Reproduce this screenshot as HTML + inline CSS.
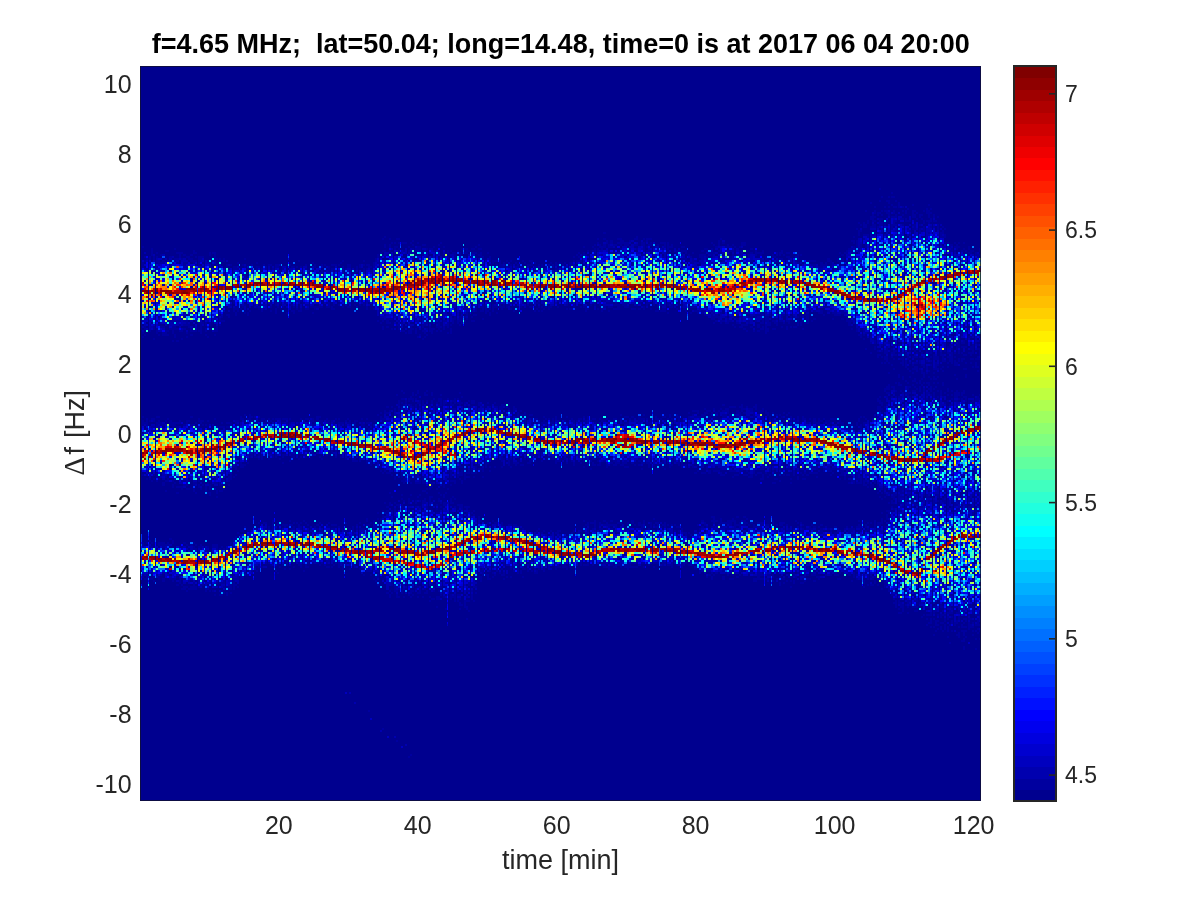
<!DOCTYPE html>
<html><head><meta charset="utf-8"><style>
html,body{margin:0;padding:0;background:#fff;}
svg{display:block;}
text{white-space:pre;}
.tk{font-family:"Liberation Sans",Arial,sans-serif;font-size:25px;fill:#262626;}
.cbl{font-family:"Liberation Sans",Arial,sans-serif;font-size:23px;fill:#262626;}
.lb{font-family:"Liberation Sans",Arial,sans-serif;font-size:27px;fill:#262626;}
.tt{font-family:"Liberation Sans",Arial,sans-serif;font-size:27px;font-weight:bold;fill:#000;}
</style></head><body>
<svg width="1200" height="900" viewBox="0 0 1200 900">
<rect x="0" y="0" width="1200" height="900" fill="#fff"/>
<rect x="140" y="66" width="841" height="735" fill="#00008f"/>
<defs><clipPath id="pc"><rect x="140" y="66" width="841" height="735"/></clipPath>
<filter id="bl" x="0" y="0" width="1" height="1"><feGaussianBlur stdDeviation="0.4"/></filter></defs>
<g clip-path="url(#pc)"><g shape-rendering="crispEdges" fill="none" filter="url(#bl)">
<rect x="140" y="66" width="841" height="735" fill="#00008f"/>
<path stroke="#00009f" stroke-width="2" d="M143 246v2m0 14v6m0 64v2m0 2v2m0 78v2m0 2v6m0 12v2m0 34v2m0 66v4m0 28v4m2-322v2m0 2v2m0 6v2m0 10v2m0 24v2m0 18v4m0 4v2m0 86v2m0 138v2m0 14v2m2-322v2m0 8v4m0 146v8m0 2v2m0 44v2m0 2v2m0 62v2m0 30v6m3-324v4m0 2v2m0 46v2m0 18v2m0 88v2m0 44v2m0 10v2m0 60v2m0 4v2m0 30v2m2-332v8m0 16v2m0 144v2m0 6v2m0 2v2m0 32v2m0 2v2m0 10v2m0 60v2m0 2v2m0 24v4m0 2v2m2-324v4m0 66v4m0 8v2m0 78v4m0 4v2m0 32v2m0 12v2m0 2v2m0 96v2m0 2v2m3-330v2m0 2v2m0 2v4m0 2v2m0 24v2m0 14v2m0 4v2m0 4v2m0 6v6m0 82v2m0 4v4m0 46v6m0 2v2m0 68v2m0 14v2m0 6v2m2-316v4m0 54v2m0 4v2m0 8v2m0 80v2m0 2v4m0 2v2m0 6v4m0 40v2m0 62v4m0 30v4m2-326v2m0 6v2m0 62v2m0 94v4m0 36v2m0 78v4m0 28v2m5-326v2m0 78v6m0 84v2m0 54v2m0 2v2m0 8v2m0 52v2m0 10v2m2-308v2m0 8v2m0 58v2m0 8v2m0 2v2m0 82v2m0 58v4m0 60v4m0 2v2m0 6v2m5-280v2m0 36v2m0 2v2m0 4v8m0 6v2m0 80v6m0 36v2m0 14v2m0 2v4m0 52v4m0 34v4m2-334v2m0 8v4m0 58v2m0 4v4m0 4v4m0 84v4m0 4v2m0 50v2m0 94v2m5-328v6m0 38v2m0 22v2m0 2v2m0 4v2m0 88v4m0 62v2m0 58v2m0 4v2m0 24v6m2-332v2m0 4v2m0 20v2m0 48v2m0 6v2m0 92v2m0 42v2m0 2v2m0 4v4m0 56v2m0 36v2m0 2v2m5-334v2m0 4v2m0 56v6m0 6v2m0 2v2m0 82v4m0 4v2m0 42v2m0 10v2m0 2v2m0 54v2m0 40v2m0 2v2m2-336v4m0 64v4m0 92v2m0 6v2m0 44v2m0 4v2m0 6v2m0 64v2m0 24v2m0 6v2m5-340v4m0 6v4m0 66v2m0 102v2m0 46v4m0 2v4m0 50v2m0 2v4m0 32v8m2-338v2m0 2v2m0 2v2m0 2v2m0 34v2m0 18v2m0 8v2m0 90v2m0 20v2m0 36v2m0 8v2m0 50v2m0 2v2m0 36v4m3-334v10m0 28v2m0 14v2m0 10v2m0 6v2m0 86v4m0 58v2m0 2v4m0 58v2m0 4v2m0 22v2m0 8v2m2-332v4m0 54v4m0 4v12m0 86v4m0 48v4m0 12v2m0 54v6m0 20v2m0 12v2m2-330v2m0 8v2m0 54v2m0 96v2m0 2v2m0 58v2m0 88v2m0 8v2m3-304v2m0 34v2m0 2v4m0 2v4m0 2v2m0 88v2m0 10v2m0 2v2m0 14v2m0 8v4m0 16v6m0 58v2m0 36v4m2-322v2m0 64v2m0 82v2m0 50v2m0 4v2m0 2v2m0 8v2m0 52v2m0 40v2m2-338v4m0 20v2m0 44v4m0 2v2m0 150v2m0 2v6m0 2v4m0 60v2m0 32v2m3-340v2m0 6v2m0 2v2m0 200v2m0 4v2m0 70v4m0 22v2m0 12v2m0 4v2m2-340v10m0 44v2m0 20v4m0 2v2m0 82v2m0 14v2m0 42v2m0 2v2m0 60v4m0 46v2m2-338v2m0 4v2m0 54v2m0 4v6m0 102v2m0 46v2m0 6v4m0 2v2m0 46v6m0 32v2m3-326v4m0 42v2m0 12v4m0 2v2m0 100v2m0 10v2m0 14v2m0 26v4m0 4v2m0 56v2m0 28v2m0 2v2m0 10v2m2-336v2m0 46v2m0 6v2m0 2v2m0 100v2m0 2v2m0 44v2m0 4v4m0 2v2m0 4v2m0 54v2m0 34v2m0 6v2m0 2v2m2-338v4m0 10v2m0 46v2m0 104v2m0 42v2m0 12v2m0 2v2m0 58v2m0 30v4m0 2v2m0 4v2m3-330v4m0 10v2m0 34v2m0 106v2m0 2v2m0 158v2m0 4v4m2-282v4m0 104v2m0 2v2m0 36v4m0 8v6m0 2v2m0 100v4m2-326v2m0 30v2m0 6v2m0 116v4m0 2v2m0 26v2m0 4v2m0 10v6m0 62v2m0 12v2m0 26v6m0 2v2m3-328v4m0 30v4m0 4v4m0 154v2m0 8v2m0 60v4m0 4v2m0 16v2m0 8v2m0 2v12m2-324v4m0 26v2m0 8v4m0 2v4m0 104v4m0 4v2m0 22v2m0 4v2m0 4v6m0 4v2m0 60v4m0 38v2m0 4v2m2-324v2m0 4v2m0 22v2m0 8v10m0 108v2m0 2v2m0 30v2m0 12v2m0 60v2m0 6v2m0 34v4m0 6v2m3-316v2m0 30v2m0 2v2m0 106v4m0 42v6m0 62v2m0 38v2m0 4v4m2-316v2m0 40v2m0 110v2m0 44v4m0 62v2m0 10v2m0 34v2m2-322v2m0 6v2m0 6v4m0 10v2m0 14v2m0 6v2m0 100v2m0 40v2m0 2v2m0 2v2m0 60v2m0 24v2m0 18v2m3-304v2m0 4v2m0 16v2m0 16v4m0 102v2m0 2v2m0 34v2m0 2v2m0 66v2m0 30v4m0 8v2m2-266v2m0 102v8m0 32v4m0 72v2m0 30v2m2-300v2m0 150v2m0 2v2m0 32v2m0 114v2m3-268v2m0 110v2m0 4v2m0 8v2m0 12v2m0 8v2m0 70v2m0 6v2m0 28v2m2-306v2m0 2v4m0 36v2m0 112v2m0 34v2m0 70v2m0 26v2m0 12v2m2-306v2m0 40v2m0 106v2m0 6v2m0 26v4m0 2v2m0 62v2m0 40v4m3-300v2m0 24v2m0 14v2m0 106v4m0 32v6m0 106v2m2-304v2m0 24v2m0 10v2m0 4v2m0 108v2m0 2v2m0 2v2m0 94v2m2-258v4m0 8v2m0 140v4m0 6v2m0 90v2m0 4v2m0 32v2m3-300v2m0 152v2m0 32v2m0 4v2m0 66v4m0 32v2m2-300v2m0 12v2m0 22v2m0 2v2m0 2v2m0 108v2m0 28v4m0 84v2m0 24v2m2-298v2m0 2v2m0 2v2m0 140v2m0 24v2m0 8v4m0 62v10m0 2v2m0 28v2m3-300v4m0 34v4m0 2v6m0 104v2m0 34v4m0 70v2m0 40v2m2-308v4m0 2v2m0 34v2m0 110v2m0 22v2m0 78v4m0 30v2m0 4v2m0 8v2m2-304v2m0 26v2m0 2v2m0 114v2m0 38v2m0 64v2m0 40v2m3-300v2m0 36v2m0 110v2m0 2v2m0 4v2m0 12v2m0 10v4m0 4v2m0 60v2m0 38v2m2-272v4m0 4v2m0 114v2m0 34v2m0 68v4m0 40v2m2-272v2m0 12v2m0 104v2m0 2v2m0 100v2m0 34v6m3-302v2m0 4v2m0 32v2m0 112v2m0 2v2m0 28v2m0 6v2m0 58v2m0 46v2m2-304v2m0 36v2m0 4v2m0 142v4m0 66v2m0 2v2m0 26v2m2-292v2m0 38v2m0 2v4m0 140v4m0 64v2m0 2v4m0 2v2m0 4v2m0 22v2m0 2v2m3-302v2m0 40v2m0 114v2m0 22v2m0 72v2m2-264v2m0 10v2m0 24v2m0 10v2m0 110v4m0 26v2m0 4v2m0 64v4m0 8v2m0 24v4m2-300v2m0 8v2m0 18v2m0 2v2m0 6v4m0 106v2m0 12v2m0 12v2m0 8v2m0 64v2m0 2v4m0 34v4m3-266v2m0 140v2m0 4v2m0 2v2m0 64v2m0 48v2m2-308v2m0 2v2m0 34v2m0 2v2m0 108v2m0 24v2m0 4v2m0 2v4m0 64v2m0 6v2m0 32v4m2-296v2m0 22v2m0 6v2m0 2v2m0 108v2m0 32v2m0 70v2m0 4v2m0 28v4m0 2v2m3-274v2m0 2v2m0 6v2m0 112v2m0 30v2m0 74v2m0 30v2m2-300v2m0 34v2m0 6v2m0 4v2m0 104v4m0 2v2m0 22v6m0 76v2m0 30v2m2-300v4m0 6v2m0 30v4m0 112v4m0 22v2m0 76v2m5-230v2m0 6v2m0 108v2m0 2v4m0 32v2m0 64v2m0 6v2m0 32v2m2-302v2m0 4v4m0 2v2m0 28v2m0 112v4m0 6v2m0 2v2m0 22v2m0 70v2m0 4v2m0 20v2m0 2v2m3-300v2m0 4v2m0 154v2m0 20v2m0 84v2m0 22v2m0 4v2m2-288v2m0 2v2m0 18v2m0 2v2m0 110v4m0 26v2m0 4v2m0 70v2m0 32v4m0 2v2m2-302v6m0 30v6m0 112v4m0 4v2m0 20v4m0 68v2m0 2v2m0 2v2m0 4v2m0 22v2m0 4v2m3-304v2m0 2v2m0 36v4m0 110v2m0 28v4m0 70v2m0 2v2m0 4v2m0 30v2m2-304v2m0 2v2m0 34v2m0 2v2m0 112v2m0 100v2m0 2v2m0 24v2m0 8v2m2-302v2m0 34v2m0 116v2m0 20v2m0 8v2m0 4v2m0 66v2m0 36v2m3-300v2m0 38v2m0 112v2m0 2v2m0 4v2m0 96v2m0 6v2m0 26v6m2-306v2m0 158v4m0 6v2m0 22v2m2-198v2m0 4v2m0 2v2m0 34v2m0 114v2m0 10v2m0 12v2m0 94v2m0 16v8m3-302v2m0 8v2m0 140v2m0 2v2m0 32v2m0 62v2m0 6v2m0 28v4m2-300v4m0 6v2m0 30v2m0 110v2m0 2v2m0 32v2m0 76v2m0 22v2m2-296v4m0 2v2m0 34v2m0 112v4m0 104v4m0 4v2m0 24v2m0 4v2m3-298v2m0 6v2m0 140v2m0 36v2m0 64v8m0 12v2m0 16v2m2-294v2m0 30v2m0 114v6m0 4v2m0 26v4m0 102v2m2-300v4m0 32v2m0 116v2m0 14v2m0 16v2m0 4v2m0 62v2m0 2v2m0 8v2m3-276v4m0 36v2m0 150v2m0 2v2m0 60v2m0 4v2m0 38v2m2-274v2m0 2v2m0 116v2m0 2v4m0 102v2m0 38v2m2-310v2m0 2v2m0 2v4m0 30v4m0 118v4m0 100v2m0 2v2m0 30v2m0 2v2m0 4v2m3-312v2m0 2v2m0 12v2m0 22v4m0 108v2m0 2v2m0 2v2m0 2v2m0 28v4m0 54v4m0 2v2m0 2v6m0 36v2m2-308v4m0 154v2m0 4v2m0 28v4m0 62v2m0 20v2m0 14v2m0 6v2m0 138v2m2-446v2m0 2v2m0 152v2m0 2v2m0 22v2m0 8v4m0 56v2m0 16v2m0 28v2m0 2v2m3-314v6m0 40v2m0 116v2m0 92v4m0 22v2m0 20v2m0 8v2m2-322v4m0 6v2m0 150v2m0 40v4m0 62v2m0 46v2m0 2v2m2-328v4m0 4v2m0 2v2m0 30v2m0 20v2m0 92v2m0 44v2m0 50v2m0 4v2m0 52v2m0 2v2m0 6v2m3-334v2m0 56v2m0 6v2m0 2v2m0 88v2m0 2v4m0 32v2m0 2v2m0 4v2m0 2v2m0 2v2m0 46v2m0 2v2m0 52v2m2-340v2m0 10v2m0 2v2m0 14v2m0 40v2m0 4v4m0 4v4m0 88v6m0 48v2m0 36v2m0 2v4m0 52v2m0 2v2m0 2v2m0 148v2m2-494v2m0 6v4m0 2v2m0 4v2m0 10v2m0 2v2m0 8v2m0 30v2m0 94v4m0 4v2m0 16v2m0 22v2m0 2v2m0 2v4m0 30v2m0 16v2m0 54v2m5-340v2m0 4v4m0 2v2m0 66v2m0 2v2m0 86v2m0 8v2m0 44v2m0 4v2m0 18v2m0 8v4m0 48v2m0 34v2m0 2v4m2-356v2m0 74v2m0 8v2m0 76v2m0 8v2m0 4v2m0 6v2m0 42v2m0 20v2m0 12v2m0 2v2m0 10v2m0 4v2m0 12v2m0 34v4m0 6v2m3-352v2m0 2v4m0 2v2m0 60v2m0 92v4m0 64v4m0 22v2m0 4v4m0 4v2m0 2v2m0 10v2m0 40v2m0 10v6m2-354v2m0 6v2m0 32v2m0 20v2m0 12v2m0 6v2m0 68v2m0 18v4m0 10v2m0 10v2m0 30v2m0 30v2m0 40v2m0 32v2m0 4v2m0 2v2m0 2v4m0 142v2m2-504v2m0 2v2m0 4v2m0 70v2m0 2v6m0 70v6m0 2v4m0 92v4m0 16v2m0 44v2m0 12v2m0 2v2m0 6v2m3-356v2m0 12v2m0 56v2m0 2v6m0 6v2m0 58v2m0 6v2m0 2v2m0 2v2m0 10v2m0 6v4m0 26v2m0 14v6m0 2v2m0 12v2m0 2v2m0 4v6m0 4v2m0 2v2m0 54v2m0 6v4m0 2v6m2-352v2m0 6v2m0 78v2m0 60v2m0 4v2m0 4v2m0 2v2m0 30v2m0 36v6m0 16v2m0 4v4m0 2v2m0 82v2m2-356v2m0 88v2m0 66v4m0 6v2m0 62v2m0 2v2m0 34v2m0 32v2m0 38v2m3-344v2m0 2v2m0 50v2m0 10v2m0 4v2m0 8v4m0 64v4m0 74v2m0 20v6m0 4v2m0 84v2m0 160v2m2-516v2m0 8v2m0 72v8m0 62v4m0 4v2m0 8v2m0 6v2m0 58v2m0 10v2m0 44v2m0 6v2m0 40v4m0 2v2m0 156v2m2-516v2m0 2v2m0 2v2m0 58v2m0 18v2m0 62v4m0 2v4m0 4v4m0 18v2m0 94v2m0 48v2m0 6v2m0 6v2m0 2v2m3-348v4m0 44v2m0 20v2m0 8v6m0 60v2m0 2v2m0 4v4m0 10v2m0 6v4m0 44v4m0 4v2m0 16v4m0 2v2m0 18v2m0 50v2m0 8v2m2-348v2m0 2v4m0 8v2m0 52v2m0 12v2m0 8v2m0 52v4m0 8v2m0 78v2m0 12v2m0 10v2m0 6v2m0 64v2m0 2v2m0 4v2m0 2v2m2-352v6m0 2v2m0 32v2m0 18v2m0 24v2m0 64v4m0 2v2m0 2v2m0 6v2m0 2v2m0 44v2m0 10v4m0 10v2m0 4v2m0 4v2m0 32v2m0 40v2m0 4v6m3-350v2m0 6v4m0 42v2m0 24v4m0 2v2m0 6v2m0 60v6m0 6v2m0 22v2m0 32v2m0 4v8m0 6v2m0 8v4m0 6v2m0 10v2m0 8v2m0 62v2m2-354v2m0 4v2m0 16v2m0 52v4m0 4v4m0 2v2m0 54v4m0 64v2m0 12v2m0 4v4m0 6v2m0 6v6m0 16v2m0 62v2m0 2v2m0 2v2m2-346v2m0 6v2m0 64v2m0 4v2m0 4v2m0 54v2m0 2v2m0 4v2m0 6v2m0 2v4m0 2v2m0 4v2m0 52v2m0 8v2m0 2v2m0 12v4m0 72v2m0 6v4m3-346v2m0 22v4m0 46v2m0 2v6m0 72v2m0 8v2m0 58v2m0 2v6m0 2v4m0 6v8m0 30v2m0 26v2m0 32v2m0 2v2m2-354v2m0 6v2m0 62v2m0 6v6m0 58v4m0 4v4m0 6v2m0 70v6m0 8v2m0 72v2m0 12v2m0 2v2m0 8v2m2-354v2m0 2v2m0 44v2m0 6v2m0 22v2m0 68v2m0 6v2m0 12v2m0 162v4m0 2v2m0 6v2m3-296v2m0 12v2m0 2v2m0 2v2m0 2v2m0 70v2m0 2v2m0 6v2m0 56v2m0 14v2m0 14v2m0 2v2m0 2v2m0 2v2m0 62v2m0 14v4m0 6v2m2-364v2m0 60v2m0 4v4m0 4v10m0 68v4m0 2v2m0 58v2m0 26v2m0 4v4m0 10v2m0 54v2m0 20v2m0 4v4m2-358v2m0 42v2m0 38v2m0 2v2m0 62v2m0 2v8m0 2v2m0 68v4m0 12v2m0 6v2m0 2v2m0 10v2m0 34v2m0 30v2m0 6v2m3-350v2m0 6v2m0 64v2m0 4v4m0 70v6m0 8v2m0 8v2m0 32v2m0 8v4m0 12v4m0 6v4m0 4v4m0 16v2m0 68v2m0 2v2m2-314v2m0 34v2m0 2v2m0 76v2m0 4v2m0 46v2m0 4v2m0 8v2m0 2v2m0 14v2m0 8v4m0 2v2m0 72v2m0 2v2m0 2v2m0 16v2m2-360v4m0 2v4m0 10v2m0 42v2m0 6v6m0 4v2m0 64v2m0 8v2m0 50v2m0 8v2m0 10v2m0 4v2m0 28v2m0 58v2m0 2v4m3-336v2m0 4v2m0 56v2m0 8v2m0 2v6m0 68v4m0 2v2m0 10v2m0 40v2m0 6v8m0 2v2m0 2v2m0 12v6m0 8v2m0 2v2m0 16v2m0 36v4m0 12v2m0 4v6m2-348v2m0 50v2m0 12v6m0 76v2m0 2v2m0 2v2m0 70v2m0 14v2m0 4v2m0 8v4m0 80v2m2-346v8m0 8v2m0 12v2m0 4v2m0 20v2m0 4v4m0 78v6m0 4v2m0 2v2m0 2v2m0 42v2m0 18v4m0 14v2m0 6v2m0 42v2m0 22v2m0 4v2m0 8v2m0 2v8m3-352v2m0 14v2m0 52v4m0 74v2m0 2v2m0 38v2m0 10v2m0 10v4m0 4v4m0 26v2m0 28v2m0 20v2m0 8v4m0 24v2m0 2v4m2-350v4m0 4v2m0 2v2m0 36v2m0 6v2m0 4v6m0 2v2m0 66v2m0 6v6m0 54v2m0 4v2m0 4v4m0 2v2m0 24v4m0 12v2m0 64v2m0 6v2m0 2v2m0 2v4m0 2v2m2-362v2m0 38v2m0 22v2m0 2v8m0 72v2m0 4v2m0 62v2m0 2v6m0 4v4m0 20v6m0 94v2m3-358v2m0 2v2m0 2v2m0 36v2m0 6v4m0 2v2m0 6v2m0 2v2m0 80v2m0 2v2m0 50v2m0 4v2m0 6v8m0 26v2m0 92v8m2-360v6m0 52v4m0 2v4m0 2v2m0 84v2m0 6v2m0 12v2m0 10v2m0 16v2m0 2v2m0 2v2m0 6v2m0 2v2m0 28v4m0 2v4m0 38v4m0 18v2m0 10v4m0 4v2m0 2v2m0 4v4m0 8v2m2-370v2m0 148v2m0 4v2m0 4v4m0 38v2m0 14v4m0 2v2m0 28v2m0 2v2m0 70v4m0 4v2m0 8v2m0 8v2m3-364v2m0 2v2m0 52v2m0 2v2m0 4v2m0 2v2m0 78v4m0 2v2m0 2v2m0 14v2m0 40v2m0 2v2m0 38v2m0 28v2m0 4v2m0 16v2m0 8v2m0 12v2m0 2v6m2-352v2m0 2v2m0 6v2m0 52v2m0 4v2m0 78v4m0 4v2m0 52v2m0 8v2m0 2v2m0 32v2m0 2v2m0 10v2m0 46v2m0 2v2m0 6v2m0 12v2m2-356v2m0 4v2m0 52v6m0 2v2m0 150v4m0 2v2m0 50v2m0 60v2m0 4v2m3-350v2m0 2v2m0 4v2m0 44v4m0 98v4m0 58v2m0 2v2m0 46v4m0 28v2m0 26v4m2-332v2m0 2v6m0 48v2m0 2v2m0 92v2m0 10v2m0 6v2m0 32v2m0 8v2m0 50v2m0 48v2m0 4v6m2-326v4m0 4v2m0 26v2m0 10v8m0 6v2m0 86v2m0 40v2m0 4v2m0 4v2m0 6v4m0 4v2m0 90v8m3-280v2m0 2v2m0 4v8m0 124v2m0 14v2m0 6v6m0 96v4m0 6v2m2-324v2m0 10v2m0 34v2m0 8v2m0 90v2m0 6v2m0 50v2m0 58v2m0 50v6m2-324v6m0 2v2m0 28v2m0 12v2m0 2v4m0 90v2m0 58v2m0 2v2m0 70v2m0 26v2m0 6v2m3-320v4m0 40v8m0 96v4m0 108v2m0 4v4m0 32v2m0 8v2m0 2v2m2-318v2m0 16v2m0 26v2m0 94v2m0 2v2m0 4v2m0 52v2m0 54v2m0 16v2m0 6v2m0 24v2m2-316v2m0 2v2m0 2v2m0 8v2m0 26v2m0 4v2m0 92v2m0 8v2m0 26v2m0 12v2m0 62v4m0 40v6m3-312v8m0 36v4m0 98v4m0 8v2m0 20v2m0 118v2m0 10v2m2-310v4m0 38v4m0 94v6m0 8v2m0 36v6m0 4v2m0 54v4m0 4v2m0 36v2m0 4v2m2-314v2m0 2v2m0 20v2m0 14v4m0 96v2m0 12v2m0 34v2m0 2v2m0 102v4m0 6v4m0 2v2m3-320v2m0 42v4m0 142v4m0 78v2m0 24v2m0 16v2m2-312v2m0 8v2m0 26v2m0 102v2m0 48v8m0 58v2m0 14v2m2-282v2m0 2v2m0 36v2m0 4v2m0 102v2m0 2v4m0 38v2m0 6v2m0 56v2m0 34v2m0 6v2m0 6v2m3-278v4m0 6v2m0 94v6m0 28v2m0 8v2m0 10v2m0 60v2m0 34v2m0 4v2m0 2v2m2-310v2m0 2v2m0 28v2m0 2v2m0 106v2m0 6v2m0 44v4m0 58v2m0 42v2m2-306v4m0 28v2m0 4v2m0 108v6m0 20v2m0 22v2m0 70v2m0 20v2m0 6v2m0 2v6m3-308v2m0 4v2m0 4v2m0 26v2m0 102v2m0 2v2m0 48v2m0 104v4m2-314v2m0 4v2m0 34v2m0 110v2m0 4v2m0 32v2m0 8v2m0 62v2m0 32v2m0 4v2m0 6v2m2-316v2m0 148v4m0 4v4m0 24v2m0 8v2m0 108v2m3-306v2m0 32v2m0 4v2m0 152v2m0 2v2m0 68v2m0 18v2m0 14v4m2-312v2m0 2v2m0 32v2m0 2v2m0 2v2m0 106v2m0 38v2m0 2v6m0 96v6m2-306v6m0 6v2m0 8v2m0 18v2m0 2v2m0 106v2m0 2v2m0 2v4m0 30v2m0 2v2m0 78v2m0 18v2m0 4v2m0 2v2m3-310v2m0 2v2m0 14v2m0 14v2m0 10v2m0 106v6m0 32v2m0 2v2m0 92v2m0 12v2m0 2v2m2-308v2m0 34v2m0 4v2m0 108v2m0 2v2m0 2v2m0 26v4m0 72v4m0 36v4m2-310v2m0 2v2m0 28v2m0 2v2m0 2v2m0 2v2m0 124v2m0 12v2m0 76v2m0 34v2m0 2v2m3-306v4m0 8v2m0 18v2m0 8v2m0 2v2m0 110v4m0 4v2m0 20v2m0 6v2m0 70v2m0 2v2m2-270v2m0 2v2m0 26v2m0 2v2m0 2v2m0 106v2m0 2v4m0 6v2m0 98v2m0 28v2m0 4v6m2-306v2m0 32v2m0 4v2m0 110v2m0 2v2m0 110v2m0 2v2m0 2v2m3-278v2m0 30v2m0 6v4m0 108v2m0 36v2m2-196v2m0 42v2m0 114v2m0 32v4m0 70v2m0 2v2m2-272v4m0 150v6m0 34v2m0 80v2m3-280v4m0 2v2m0 146v4m0 14v2m0 22v6m0 68v2m0 32v4m2-306v2m0 2v2m0 30v2m0 4v2m0 146v2m0 4v2m0 68v4m0 2v2m0 28v2m2-306v2m0 2v2m0 188v6m0 68v2m0 2v2m0 2v2m0 16v2m0 8v2m3-304v2m0 156v2m0 8v2m0 130v4m2-306v2m0 34v2m0 120v2m0 36v2m0 76v2m0 26v4m2-278v2m0 12v2m0 2v2m0 106v2m0 4v2m0 38v2m0 78v2m0 14v2m0 6v4m3-308v4m0 2v4m0 36v2m0 114v2m0 16v2m0 4v2m0 8v2m0 106v2m2-306v4m0 16v2m0 12v2m0 10v2m0 108v4m0 16v2m0 6v2m0 12v2m0 70v2m0 4v2m2-284v2m0 2v2m0 26v2m0 14v4m0 112v4m0 34v2m0 2v4m0 64v2m0 2v2m3-282v2m0 4v2m0 158v2m0 32v2m0 76v2m0 16v2m2-300v2m0 2v2m0 2v2m0 18v2m0 6v2m0 128v2m0 2v2m0 30v4m2-198v2m0 8v2m0 16v2m0 16v2m0 110v2m0 42v2m0 66v2m0 2v2m0 26v4m3-320v2m0 4v2m0 10v2m0 40v2m0 108v2m0 2v2m0 2v2m0 18v2m0 14v2m0 4v2m0 52v2m0 4v2m0 2v2m0 32v2m2-312v2m0 10v2m0 38v6m0 108v4m0 30v2m0 2v2m0 64v2m0 34v2m0 2v2m2-316v2m0 16v2m0 38v2m0 106v4m0 8v2m0 30v6m0 56v4m0 2v4m0 30v4m3-292v2m0 28v2m0 114v2m0 4v4m0 30v2m0 6v2m0 52v2m2-278v2m0 2v2m0 166v2m0 8v2m0 26v4m0 2v4m0 56v2m0 4v2m0 14v2m0 14v6m2-322v2m0 2v8m0 46v4m0 112v2m0 2v2m0 12v2m0 20v2m0 4v2m0 54v8m0 2v2m3-294v2m0 2v2m0 4v4m0 10v2m0 36v2m0 6v2m0 146v2m0 2v2m0 2v2m2-222v4m0 56v2m0 112v2m0 38v2m0 2v4m0 56v4m0 2v2m2-284v4m0 4v2m0 8v2m0 42v4m0 108v2m0 6v2m0 98v2m5-290v4m0 58v2m0 114v2m0 4v2m0 4v2m0 32v4m0 54v4m0 2v2m0 16v2m0 4v2m0 12v2m2-324v4m0 24v2m0 28v2m0 2v2m0 2v2m0 110v2m0 12v2m0 16v2m0 68v4m0 34v2m0 2v4m5-326v2m0 10v2m0 14v2m0 30v2m0 2v2m0 108v2m0 12v2m0 26v2m0 2v2m0 58v2m0 4v2m0 30v2m0 2v2m2-324v2m0 6v2m0 48v4m0 2v2m0 108v2m0 40v6m0 58v4m0 2v2m0 34v2m5-330v8m0 2v2m0 28v2m0 10v2m0 122v2m0 2v2m0 34v2m0 8v2m0 56v2m0 40v4m2-328v4m0 6v2m0 8v2m0 30v2m0 10v2m0 116v2m0 6v2m0 30v4m5-224v4m0 4v2m0 46v2m0 2v2m0 2v2m0 108v2m0 4v4m0 32v2m0 6v2m0 54v4m0 16v2m0 18v8m2-330v2m0 6v4m0 166v2m0 38v2m0 70v2m0 32v4m5-330v2m0 4v2m0 62v2m0 142v2m0 10v2m0 58v2m0 2v2m0 36v2m2-332v4m0 4v2m0 2v2m0 12v2m0 2v2m0 32v2m0 2v2m0 116v2m0 8v2m0 96v2m0 4v2m0 20v2m0 2v2m0 2v2m5-326v4m0 8v2m0 16v2m0 144v4m0 10v2m0 10v2m0 8v2m0 2v2m0 2v2m0 4v2m0 54v6m0 4v2m0 20v2m0 4v2m2-326v2m0 2v10m0 2v2m0 50v4m0 104v2m0 2v2m0 42v2m0 56v4m0 6v2m0 20v2m0 2v2m0 4v2m0 2v2m3-330v4m0 4v2m0 2v2m0 50v4m0 112v2m0 4v2m0 36v2m2-226v2m0 4v2m0 4v2m0 8v2m0 6v2m0 32v2m0 118v4m0 36v6m0 60v2m0 6v2m0 26v2m2-328v2m0 2v4m0 4v2m0 56v2m0 110v2m0 34v2m0 64v6m3-282v2m0 28v2m0 20v2m0 4v2m0 116v2m0 10v2m0 16v2m0 4v2m0 4v2m0 52v2m0 4v2m0 36v2m0 2v2m2-258v2m0 104v4m0 40v2m0 60v2m0 2v2m0 34v2m2-320v2m0 34v2m0 20v6m0 2v2m0 106v4m0 4v2m0 26v2m0 6v4m0 2v2m0 52v8m0 28v2m0 2v2m3-322v2m0 54v2m0 2v4m0 4v2m0 106v2m0 4v4m0 30v2m0 66v2m0 22v2m0 2v2m2-314v2m0 4v2m0 6v2m0 12v2m0 32v2m0 2v4m0 104v2m0 4v2m0 14v2m0 20v4m0 2v2m0 56v2m0 18v2m0 14v6m2-324v6m0 60v4m0 104v2m0 2v2m0 34v2m0 10v2m0 52v6m0 34v2m3-322v8m0 52v4m0 6v2m0 104v2m0 30v2m0 6v2m0 2v2m0 60v2m0 4v2m0 32v2m2-320v2m0 20v2m0 32v2m0 2v2m0 106v4m0 46v4m0 64v2m0 22v2m0 2v2m0 2v2m2-322v4m0 52v2m0 2v4m0 110v2m0 4v4m0 32v2m0 2v2m0 58v2m0 36v6m3-264v2m0 154v2m0 62v2m0 4v2m2-282v6m0 4v4m0 44v2m0 104v4m0 44v2m0 62v2m0 6v2m0 20v2m0 6v2m2-316v2m0 14v2m0 148v6m0 28v2m0 2v2m0 4v6m0 60v2m0 2v2m3-286v2m0 2v6m0 2v2m0 2v2m0 14v2m0 22v2m0 2v2m0 116v2m0 30v2m0 4v6m0 60v4m0 30v6m2-322v2m0 2v2m0 6v2m0 2v2m0 8v2m0 34v2m0 110v2m0 6v2m0 4v2m0 22v2m0 4v2m0 66v2m0 30v2m2-316v4m0 4v2m0 48v4m0 110v2m0 40v4m0 64v4m0 26v2m3-310v2m0 8v2m0 40v2m0 104v2m0 2v4m0 30v2m0 10v2m0 68v2m0 4v2m0 24v2m2-310v2m0 4v2m0 4v2m0 20v2m0 8v2m0 4v2m0 4v2m0 104v2m0 30v4m0 80v2m2-284v2m0 4v6m0 2v2m0 12v2m0 24v2m0 102v2m0 2v2m0 2v2m0 6v2m0 36v4m0 78v2m0 16v2m5-298v2m0 2v2m0 36v4m0 96v4m0 2v2m0 40v2m0 4v2m0 4v2m0 52v2m0 6v2m0 4v2m2-286v4m0 4v2m0 152v2m0 48v2m0 60v4m0 8v2m0 28v4m5-326v2m0 4v2m0 28v2m0 24v2m0 2v2m0 92v2m0 2v4m0 14v2m0 16v2m0 14v2m0 6v2m0 48v4m0 6v2m2-286v2m0 6v2m0 14v2m0 136v4m0 6v2m0 18v2m0 24v4m0 56v2m0 14v2m0 26v2m0 4v2m5-336v2m0 4v2m0 2v6m0 4v2m0 38v2m0 6v2m0 2v6m0 92v2m0 44v2m0 56v2m0 2v2m0 4v2m0 12v2m0 20v2m0 4v2m0 2v2m0 2v4m2-336v2m0 6v2m0 58v2m0 2v4m0 2v2m0 84v2m0 6v2m0 52v2m0 44v8m0 2v2m0 46v2m5-336v6m0 4v2m0 4v4m0 32v2m0 22v4m0 90v2m0 8v2m0 2v2m0 44v2m2-234v2m0 12v2m0 58v2m0 6v4m0 84v2m0 8v2m0 40v4m0 4v2m0 2v4m0 42v6m0 2v2m0 12v2m0 2v2m0 14v2m5-316v2m0 14v2m0 52v2m0 4v2m0 84v4m0 2v4m0 104v2m0 4v2m0 42v2m2-330v4m0 2v2m0 6v2m0 26v2m0 10v2m0 6v2m0 6v2m0 2v6m0 84v6m0 8v2m0 96v4m0 2v4m0 2v2m0 6v2m0 16v2m0 2v2m0 4v2m0 4v2m5-332v2m0 4v2m0 2v2m0 38v2m0 28v2m0 80v2m0 4v2m0 4v2m0 42v2m0 6v2m0 4v2m0 40v4m0 6v2m0 12v2m0 24v2m0 4v2m0 2v2m2-334v2m0 10v2m0 66v2m0 78v2m0 40v2m0 8v2m0 6v2m0 2v2m0 2v2m0 44v10m0 8v2m0 8v2m5-304v2m0 2v6m0 4v2m0 48v2m0 14v2m0 78v2m0 4v4m0 10v2m0 40v6m0 48v8m0 36v2m0 2v2m0 2v2m2-334v4m0 4v2m0 4v2m0 42v2m0 14v4m0 4v4m0 76v8m0 8v2m0 14v2m0 30v4m0 52v2m0 14v2m0 26v2m5-320v2m0 68v2m0 2v2m0 4v2m0 74v2m0 8v2m0 18v2m0 2v2m0 16v4m0 2v2m0 4v2m0 2v2m0 42v2m0 2v2m0 4v2m0 10v2m2-288v4m0 58v2m0 2v4m0 84v2m0 6v4m0 52v2m0 2v2m0 46v2m0 42v2m0 2v2m5-266v2m0 20v2m0 74v2m0 4v6m0 34v2m0 16v4m0 50v6m0 38v2m0 8v4m2-332v6m0 14v2m0 38v2m0 2v4m0 2v2m0 82v6m0 6v2m0 48v2m0 6v2m0 50v2m0 2v2m0 46v4m5-330v4m0 2v4m0 42v2m0 6v4m0 6v2m0 4v2m0 80v4m0 4v2m0 46v4m0 2v2m0 4v2m0 42v4m0 2v2m0 16v2m0 24v4m0 2v2m2-330v4m0 6v2m0 50v2m0 4v6m0 2v4m0 78v4m0 8v2m0 46v2m0 4v6m0 42v4m0 16v2m0 30v2m0 2v2m3-324v4m0 4v2m0 32v2m0 2v2m0 12v6m0 2v10m0 76v4m0 58v2m0 50v2m0 6v6m0 40v2m2-322v4m0 54v10m0 2v4m0 80v4m0 14v2m0 44v2m0 46v2m0 36v4m0 8v2m0 2v2m2-316v4m0 46v2m0 6v4m0 90v4m0 6v2m0 20v2m0 14v2m0 2v4m0 2v2m0 98v2m3-322v4m0 62v2m0 6v2m0 82v2m0 4v4m0 38v2m0 8v2m0 2v2m0 6v2m0 36v6m0 48v4m0 2v2m2-326v2m0 4v2m0 6v2m0 48v4m0 4v2m0 138v2m0 8v2m0 2v2m0 44v2m0 24v2m0 12v2m2-318v4m0 4v2m0 28v2m0 14v2m0 2v2m0 6v2m0 2v4m0 88v2m0 62v2m0 44v2m0 4v4m0 6v2m0 12v2m0 22v2m3-328v4m0 2v2m0 14v2m0 20v2m0 22v2m0 92v2m0 2v2m0 38v2m0 6v4m0 10v2m0 40v4m0 2v4m0 18v2m0 24v2m0 4v4m2-336v4m0 4v2m0 48v2m0 4v4m0 2v2m0 4v2m0 88v2m0 30v2m0 20v2m0 50v4m0 8v4m0 26v2m0 2v2m0 8v2m2-326v2m0 18v2m0 34v2m0 2v2m0 6v2m0 88v2m0 10v2m0 4v2m0 32v2m0 2v2m0 4v2m0 46v2m0 4v2m0 48v2m0 2v2m3-332v2m0 2v2m0 8v2m0 40v2m0 4v2m0 4v2m0 4v4m0 84v2m0 48v2m0 2v2m0 4v2m0 48v2m0 4v2m0 48v2m2-330v2m0 2v4m0 4v2m0 40v2m0 12v4m0 88v2m0 54v2m0 4v2m0 52v4m0 28v2m0 12v2m2-260v2m0 8v2m0 88v2m0 2v2m0 24v2m0 18v2m0 10v2m0 2v2m0 50v2m0 36v2m0 6v2m0 4v2m3-272v2m0 8v2m0 92v2m0 2v2m0 44v6m0 52v2m0 42v4m0 4v4m2-324v2m0 64v2m0 92v2m0 38v2m0 6v2m0 50v2m0 10v2m0 36v2m0 4v2m2-324v6m0 2v2m0 22v2m0 14v2m0 12v2m0 2v6m0 90v4m0 2v2m0 30v2m0 14v2m0 4v4m0 42v2m0 2v2m0 2v2m0 36v2m0 2v2m3-320v2m0 60v2m0 4v4m0 96v2m0 4v2m0 38v2m0 2v2m0 48v2m0 2v2m0 2v2m0 38v2m0 10v2m2-276v2m0 4v2m0 4v2m0 6v2m0 86v6m0 40v2m0 10v2m0 2v2m0 44v2m0 2v4m0 46v2m0 2v2m2-306v2m0 34v2m0 6v2m0 94v2m0 30v2m0 8v2m0 10v2m0 4v2m0 56v2m0 2v2m0 28v2m0 4v2m0 2v2m5-322v2m0 32v2m0 8v2m0 112v2m0 32v2m0 18v2m0 52v4m0 4v2m0 8v2m0 8v2m0 12v4m0 6v2m2-320v2m0 2v2m0 2v2m0 38v2m0 10v2m0 102v2m0 46v2m0 50v2m0 2v2m0 42v4m5-154v4m0 22v2m0 16v4m0 2v2m0 2v2m0 98v2m2-312v2m0 40v2m0 2v2m0 104v8m0 28v2m0 8v2m0 4v2m0 54v2m0 4v2m0 32v2m0 8v4m5-316v2m0 6v2m0 32v2m0 6v2m0 102v2m0 2v2m0 38v2m0 4v4m0 66v2m0 28v2m2-308v4m0 12v2m0 22v2m0 2v2m0 112v2m0 8v2m0 94v2m0 6v2m0 38v2m5-316v8m0 40v2m0 108v2m0 2v2m0 32v2m0 2v4m0 4v4m0 2v2m0 54v2m0 32v4m0 4v4m2-306v2m0 32v2m0 6v2m0 4v2m0 98v2m0 4v2m0 42v2m0 2v2m0 54v2m0 32v2m0 6v2m5-314v4m0 52v2m0 114v2m0 26v2m0 68v2m0 2v2m0 40v2m0 2v2m2-328v2m0 2v2m0 2v4m0 46v2m0 2v2m0 104v4m0 2v2m0 2v4m0 26v2m0 6v4m0 2v2m0 2v2m0 90v4m0 4v2m5-328v2m0 58v2m0 112v2m0 32v2m0 14v4m0 48v2m2-280v4m0 8v2m0 26v2m0 24v6m0 106v2m0 8v2m0 14v2m0 12v2m0 56v2m0 30v2m5-320v2m0 6v6m0 22v2m0 6v2m0 34v2m0 6v2m0 94v2m0 20v2m0 30v4m0 46v4m0 2v2m0 14v2m0 28v2m2-346v2m0 2v4m0 2v2m0 54v2m0 4v2m0 116v2m0 52v4m0 44v2m0 4v4m0 22v2m0 10v6m3-350v2m0 10v8m0 80v4m0 90v4m0 28v2m0 12v2m0 2v8m0 2v2m0 42v2m0 18v2m0 20v4m0 2v2m0 2v2m2-358v2m0 6v6m0 12v4m0 14v2m0 54v2m0 2v2m0 6v2m0 82v4m0 46v6m0 4v2m0 2v2m0 36v2m0 2v4m0 8v2m0 8v2m2-324v2m0 4v2m0 12v4m0 12v2m0 2v2m0 38v2m0 28v4m0 78v2m0 6v6m0 6v2m0 38v8m0 42v6m0 34v2m0 6v2m0 2v2m3-358v6m0 6v2m0 2v2m0 30v2m0 10v2m0 2v2m0 2v2m0 30v2m0 4v4m0 2v2m0 2v2m0 76v2m0 4v4m0 44v2m0 8v6m0 88v4m0 2v4m0 2v2m2-378v2m0 12v4m0 6v2m0 6v6m0 20v2m0 20v2m0 40v2m0 14v2m0 68v2m0 2v2m0 4v2m0 16v2m0 12v2m0 4v2m0 6v2m0 4v2m0 2v2m0 38v4m0 2v2m2-312v4m0 10v4m0 2v2m0 90v2m0 96v2m0 24v2m0 16v2m0 6v2m0 2v2m0 34v2m0 4v2m0 38v2m0 4v6m0 4v2m3-384v2m0 12v4m0 6v2m0 4v2m0 22v2m0 16v2m0 48v2m0 6v6m0 4v2m0 8v2m0 76v2m0 16v2m0 8v2m0 14v2m0 8v4m0 34v2m0 8v2m0 42v2m0 6v2m2-372v8m0 2v4m0 6v2m0 14v2m0 86v2m0 92v2m0 50v4m0 42v4m0 2v2m0 40v2m0 4v2m2-380v2m0 2v4m0 2v2m0 2v2m0 2v4m0 4v2m0 20v4m0 22v2m0 38v2m0 18v4m0 2v4m0 66v2m0 28v4m0 24v2m0 2v6m0 36v8m0 48v2m0 2v4m3-372v4m0 10v2m0 4v2m0 8v2m0 26v2m0 12v2m0 30v2m0 16v2m0 14v2m0 2v4m0 40v4m0 4v4m0 6v2m0 28v2m0 4v2m0 6v2m0 14v2m0 6v4m0 4v2m0 28v4m0 58v2m2-398v2m0 10v2m0 10v2m0 4v8m0 30v2m0 64v2m0 2v2m0 26v2m0 40v2m0 2v4m0 2v6m0 6v2m0 6v2m0 6v2m0 10v2m0 40v2m0 6v2m0 24v4m0 48v4m2-382v2m0 12v2m0 2v2m0 2v2m0 2v4m0 2v2m0 2v2m0 74v2m0 24v4m0 6v2m0 4v2m0 4v2m0 4v2m0 38v4m0 2v2m0 2v2m0 4v2m0 18v2m0 48v2m0 2v2m0 4v2m0 12v2m0 4v6m0 26v2m0 28v2m0 6v2m3-384v2m0 2v2m0 10v4m0 28v2m0 82v2m0 4v2m0 4v4m0 2v4m0 2v2m0 24v4m0 14v2m0 6v2m0 6v2m0 8v2m0 10v2m0 40v4m0 2v2m0 2v2m0 22v2m0 4v2m0 24v2m0 26v8m2-388v2m0 8v4m0 6v2m0 8v2m0 2v4m0 6v2m0 100v8m0 2v6m0 24v4m0 2v2m0 2v2m0 6v2m0 88v2m0 14v2m0 2v6m0 64v2m2-390v2m0 2v4m0 2v2m0 4v4m0 22v2m0 42v2m0 4v4m0 50v2m0 18v2m0 8v2m0 10v6m0 2v2m0 28v2m0 24v2m0 10v2m0 30v2m0 8v2m0 6v4m0 8v2m0 56v2m0 4v6m3-400v2m0 2v2m0 6v2m0 10v2m0 6v6m0 4v2m0 10v2m0 10v2m0 30v2m0 46v2m0 8v2m0 2v2m0 2v2m0 6v2m0 20v2m0 8v2m0 2v2m0 4v2m0 28v2m0 14v2m0 36v2m0 4v2m0 2v4m0 2v2m0 26v2m0 58v2m2-400v2m0 8v2m0 2v4m0 2v2m0 2v6m0 32v2m0 28v2m0 54v4m0 2v6m0 2v2m0 8v2m0 16v4m0 2v2m0 8v2m0 8v2m0 10v4m0 16v2m0 16v2m0 20v2m0 6v8m0 2v2m0 4v2m0 4v2m0 40v2m0 14v2m0 20v2m0 2v2m0 2v2m2-404v2m0 4v2m0 6v4m0 2v2m0 2v2m0 4v2m0 10v2m0 100v2m0 4v2m0 2v2m0 26v2m0 6v2m0 4v2m0 86v2m0 8v2m0 20v2m0 24v2m0 44v2m0 2v2m0 6v8m3-406v6m0 32v4m0 30v2m0 54v2m0 12v2m0 6v2m0 20v4m0 4v4m0 10v2m0 6v2m0 2v2m0 16v2m0 40v2m0 18v4m0 2v8m0 8v2m0 78v2m0 2v2m0 4v4m0 4v2m0 2v2m2-396v2m0 22v2m0 100v2m0 2v2m0 2v2m0 4v2m0 2v2m0 20v2m0 4v2m0 4v4m0 24v2m0 62v6m0 2v2m0 4v2m0 6v2m0 26v2m0 40v2m0 20v6m0 4v2m2-408v2m0 2v2m0 2v2m0 2v2m0 4v2m0 2v2m0 46v2m0 40v2m0 10v4m0 12v2m0 8v10m0 10v4m0 12v2m0 32v2m0 60v2m0 2v2m0 2v2m0 8v2m0 14v2m0 80v8m3-402v4m0 4v4m0 26v2m0 72v4m0 6v2m0 18v4m0 4v8m0 12v2m0 10v2m0 18v2m0 12v2m0 6v2m0 4v2m0 28v2m0 28v2m0 4v4m0 10v2m0 16v2m0 16v2m0 40v2m0 4v2m2-398v2m0 10v2m0 6v2m0 44v2m0 80v4m0 8v2m0 12v2m0 2v4m0 2v4m0 6v2m0 22v2m0 62v2m0 2v2m0 2v2m0 42v2m0 22v2m0 24v2m0 6v4m0 2v2m0 4v2m2-394v2m0 8v2m0 2v2m0 12v2m0 12v2m0 16v4m0 66v2m0 10v2m0 6v2m0 4v2m0 8v2m0 4v2m0 2v2m0 4v2m0 28v4m0 10v2m0 42v2m0 2v2m0 12v2m0 12v2m0 10v2m0 22v2m0 20v2m0 18v2m0 2v2m3-402v2m0 4v8m0 6v2m0 2v2m0 6v2m0 14v2m0 2v2m0 78v2m0 6v2m0 10v2m0 6v2m0 2v2m0 2v2m0 6v2m0 2v2m0 4v2m0 52v2m0 2v2m0 34v2m0 12v2m0 2v2m0 2v2m0 4v2m0 12v2m0 22v2m0 46v2m0 6v2m2-398v2m0 2v4m0 6v6m0 12v2m0 16v2m0 14v2m0 60v2m0 2v2m0 6v2m0 4v2m0 4v2m0 2v4m0 8v4m0 4v2m0 2v2m0 2v2m0 12v2m0 82v2m0 2v2m0 4v4m0 88v2m0 4v2m0 4v2m0 2v2m2-400v2m0 4v2m0 18v2m0 66v2m0 44v2m0 2v2m0 4v2m0 2v6m0 10v2m0 4v2m0 6v2m0 6v2m0 84v2m0 12v2m0 2v2m0 16v2m0 28v2m0 22v2m0 18v2m0 4v2m0 2v2m3-398v4m0 6v2m0 2v6m0 108v2m0 4v2m0 6v2m0 2v4m0 4v2m0 10v4m0 2v6m0 6v2m0 44v2m0 50v2m0 2v2m0 4v2m0 24v2m0 48v2m0 18v2m2-390v2m0 2v2m0 124v2m0 6v2m0 2v2m0 6v2m0 4v4m0 4v2m0 4v2m0 10v2m0 82v4m0 16v2m0 4v2m0 46v2m0 60v2m2-408v2m0 8v4m0 2v6m0 94v2m0 18v2m0 10v2m0 4v4m0 4v6m0 4v2m0 4v4m0 6v2m0 8v2m0 46v2m0 36v2m0 2v2m0 4v2m0 8v2m0 22v2m0 62v2m0 10v2m3-408v6m0 6v2m0 20v2m0 76v2m0 20v2m0 6v2m0 8v2m0 4v4m0 2v2m0 8v2m0 8v4m0 2v2m0 12v2m0 48v4m0 22v2m0 4v4m0 10v2m0 14v2m0 80v2m0 6v2m0 2v2m0 4v2m2-422v2m0 4v8m0 2v4m0 8v2m0 14v2m0 26v2m0 40v2m0 24v4m0 2v6m0 2v2m0 10v2m0 4v2m0 4v4m0 2v2m0 2v2m0 8v2m0 92v2m0 2v4m0 2v2m0 20v2m0 76v2m0 6v2m0 6v2m2-416v2m0 2v2m0 4v4m0 4v2m0 40v2m0 20v2m0 58v4m0 2v2m0 2v2m0 2v2m0 12v2m0 6v6m0 2v2m0 2v2m0 38v2m0 6v2m0 36v2m0 4v2m0 8v2m0 12v2m0 82v2m0 2v2m0 8v4m0 2v6m0 2v2m3-414v4m0 2v2m0 4v2m0 20v2m0 36v2m0 44v2m0 12v2m0 6v6m0 8v2m0 2v2m0 2v4m0 2v2m0 4v2m0 2v6m0 2v2m0 16v2m0 60v2m0 18v4m0 6v2m0 36v2m0 60v4m0 4v2m0 6v2m0 6v2m2-416v2m0 90v2m0 2v2m0 2v2m0 14v2m0 18v4m0 2v8m0 8v2m0 6v2m0 10v2m0 66v2m0 14v4m0 2v2m0 4v2m0 6v2m0 84v2m0 2v2m0 10v4m0 2v2m0 8v6m0 4v2m2-416v2m0 6v6m0 38v2m0 4v2m0 46v2m0 6v2m0 24v4m0 4v2m0 2v2m0 6v2m0 4v2m0 6v2m0 4v2m0 16v2m0 46v2m0 22v4m0 4v4m0 2v2m0 2v2m0 2v2m0 14v2m0 88v2m0 4v2m0 2v2m0 2v2m3-398v6m0 82v2m0 10v6m0 6v2m0 6v4m0 12v2m0 20v6m0 86v2m0 30v2m0 82v2m0 4v4m0 6v4m0 4v2m0 2v4m2-404v2m0 2v4m0 2v2m0 54v2m0 24v2m0 18v2m0 14v8m0 4v2m0 2v2m0 10v4m0 10v2m0 16v2m0 2v2m0 50v2m0 20v2m0 4v4m0 20v2m0 34v2m0 22v4m0 20v2m0 2v2m0 2v2m0 6v2m0 6v2m2-404v2m0 4v4m0 4v2m0 20v2m0 12v2m0 56v2m0 12v2m0 8v2m0 30v2m0 8v2m0 38v2m0 18v2m0 24v2m0 6v2m0 2v4m0 88v2m0 8v2m0 10v2m0 2v4m0 2v6m3-388v2m0 66v2m0 34v2m0 4v2m0 2v2m0 4v2m0 2v2m0 20v4m0 2v2m0 4v2m0 4v2m0 10v2m0 10v2m0 12v2m0 46v2m0 4v8m0 2v2m0 10v2m0 18v2m0 6v2m0 22v2m0 24v2m0 6v2m0 4v2m0 2v4m0 6v6m0 4v2m2-394v4m0 2v2m0 14v2m0 4v2m0 12v2m0 32v2m0 22v4m0 4v2m0 2v6m0 42v2m0 6v2m0 118v2m0 10v2m0 48v2m0 10v2m0 2v4m0 10v2m0 16v2m2-400v2m0 2v4m0 92v2m0 2v2m0 2v12m0 26v2m0 2v2m0 2v2m0 74v2m0 18v2m0 4v2m0 4v4m0 18v2m0 16v2m0 46v2m0 12v2m0 2v2m0 2v2m0 2v4m0 6v2m3-390v2m0 2v2m0 2v2m0 4v2m0 20v2m0 32v2m0 18v2m0 8v2m0 8v2m0 2v2m0 2v6m0 8v2m0 16v6m0 2v2m0 8v2m0 90v4m0 4v2m0 38v2m0 22v2m0 30v2m0 14v4m2-382v6m0 16v2m0 30v2m0 16v2m0 4v4m0 18v6m0 12v4m0 12v2m0 10v8m0 2v2m0 4v2m0 14v2m0 62v2m0 6v2m0 4v2m0 2v2m0 2v2m0 36v2m0 58v2m0 4v2m0 6v4m0 10v2m2-394v2m0 2v2m0 8v2m0 10v2m0 62v2m0 6v8m0 2v4m0 4v4m0 30v4m0 2v2m0 8v4m0 8v2m0 42v2m0 18v2m0 10v2m0 2v4m0 4v2m0 94v2m0 4v4m0 2v4m0 6v2m0 4v6m3-388v2m0 40v2m0 2v2m0 4v2m0 28v4m0 6v2m0 2v2m0 4v2m0 4v4m0 30v4m0 2v2m0 20v2m0 36v2m0 4v2m0 24v2m0 4v2m0 8v4m0 2v2m0 4v2m0 22v4m0 20v2m0 10v2m0 44v4m0 2v2m0 8v2m2-400v2m0 4v2m0 52v2m0 14v2m0 6v2m0 12v4m0 2v2m0 6v2m0 2v2m0 8v2m0 20v4m0 2v2m0 22v4m0 50v2m0 12v2m0 2v2m0 6v4m0 14v2m0 30v2m0 14v2m0 28v2m0 12v2m0 6v2m0 2v2m0 2v2m0 2v6m0 2v4m0 4v4m2-400v2m0 60v2m0 12v2m0 18v2m0 6v2m0 6v2m0 4v2m0 4v4m0 18v6m0 14v2m0 36v2m0 16v2m0 10v2m0 4v2m0 2v2m0 8v4m0 58v2m0 18v2m0 10v2m0 6v4m0 8v4m0 4v2m0 2v2m0 4v2m3-392v4m0 2v2m0 74v2m0 6v2m0 14v2m0 46v4m0 16v2m0 10v2m0 30v2m0 30v2m0 2v2m0 4v2m0 2v2m0 2v4m0 46v2m0 28v2m0 8v4m0 2v2m0 2v2m0 2v2m0 2v8m2-380v4m0 2v2m0 54v2m0 22v2m0 8v4m0 2v4m0 2v2m0 2v2m0 52v2m0 72v2m0 6v2m0 4v4m0 30v2m0 58v4m0 2v4m0 10v2m0 4v4m2-378v2m0 62v2m0 18v2m0 8v10m0 4v2m0 6v2m0 26v2m0 4v2m0 10v2m0 18v2m0 8v2m0 30v2m0 18v2m0 6v2m0 8v4m0 12v2m0 32v2m0 38v2m0 2v8m0 8v2m0 2v2m0 2v2m0 2v2m3-384v4m0 2v2m0 4v2m0 30v2m0 26v2m0 16v2m0 14v2m0 2v6m0 30v4m0 50v2m0 12v2m0 28v2m0 4v2m0 6v4m0 40v2m0 58v2m0 8v2m0 4v2m0 6v2m0 8v2m2-396v4m0 86v2m0 2v2m0 6v4m0 6v2m0 2v2m0 24v6m0 6v2m0 2v2m0 76v4m0 4v4m0 2v2m0 4v2m0 60v2m0 22v2m0 8v2m0 6v2m0 2v8m0 2v2m0 2v2m2-386v4m0 2v2m0 34v2m0 18v2m0 28v2m0 6v8m0 2v2m0 34v2m0 2v2m0 10v2m0 38v2m0 36v2m0 12v6m0 36v2m0 16v2m0 46v2m0 2v2m0 8v2m0 4v2m0 6v2"/>
<path stroke="#00009f" stroke-width="3" d="M163.5 260v4m0 10v2m0 8v2m0 32v2m0 6v2m0 4v4m0 88v2m0 56v4m0 56v6m0 24v2m0 4v4m7-326v2m0 6v4m0 16v2m0 34v2m0 6v2m0 90v6m0 4v2m0 42v2m0 62v2m0 38v2m7-328v2m0 4v2m0 2v2m0 8v2m0 24v2m0 20v2m0 6v2m0 10v2m0 80v2m0 2v4m0 14v2m0 22v2m0 16v2m0 4v2m0 90v2m7-332v2m0 6v4m0 46v2m0 2v2m0 2v2m0 2v2m0 2v2m0 94v2m0 4v2m0 48v2m0 2v2m0 56v2m0 24v2m0 8v2m0 6v4m7-336v2m0 2v4m0 4v2m0 12v2m0 4v2m0 40v4m0 2v2m0 80v2m0 6v2m0 46v2m0 70v2m0 40v4m126-318v2m0 32v2m0 108v4m0 104v2m0 2v2m0 32v2m70-310v2m0 62v6m0 2v2m0 78v2m0 4v2m0 6v2m0 8v2m0 40v2m0 32v2m0 2v4m0 36v2m0 40v2m217-362v2m0 4v2m0 4v4m0 52v2m0 4v2m0 112v2m0 38v2m0 58v2m0 2v2m0 36v2m0 2v2m7-328v4m0 2v2m0 4v2m0 46v4m0 2v2m0 154v2m0 56v2m0 2v2m0 2v2m0 34v2m7-328v2m0 2v2m0 26v2m0 6v2m0 24v6m0 148v2m0 2v2m0 58v2m0 32v2m0 4v4m7-324v4m0 56v6m0 108v2m0 4v2m0 4v4m0 28v4m0 2v2m0 60v2m0 34v4m7-310v2m0 2v4m0 42v2m0 106v2m0 2v2m0 2v2m0 36v2m0 56v4m0 38v2m0 2v2m7-312v2m0 32v2m0 10v2m0 4v2m0 106v6m0 6v2m0 30v2m0 2v2m0 56v4m0 32v2m56-300v2m0 44v2m0 2v2m0 98v2m0 4v2m0 4v2m0 34v2m0 2v2m0 8v2m0 58v2m0 22v2m0 2v2m0 6v2m7-320v2m0 2v6m0 50v4m0 100v4m0 8v2m0 44v2m0 46v2m0 4v2m7-276v2m0 20v2m0 134v2m0 4v2m0 44v2m0 6v4m0 96v2m0 2v2m7-330v2m0 66v4m0 2v2m0 90v2m0 34v2m0 20v2m0 48v2m0 38v2m0 10v2m7-332v2m0 16v2m0 58v2m0 82v2m0 4v2m0 2v4m0 40v2m0 14v2m0 46v2m0 46v2m0 4v4m7-334v2m0 2v2m0 4v4m0 60v2m0 84v2m0 6v4m0 2v2m0 8v2m0 38v2m0 48v6m0 2v2m0 2v4m0 42v2m7-332v2m0 4v2m0 40v2m0 6v2m0 8v2m0 2v2m0 2v2m0 86v4m0 2v2m0 56v2m0 40v2m0 6v2m0 6v2m0 42v2m7-336v4m0 12v2m0 50v2m0 12v2m0 2v2m0 78v2m0 2v2m0 44v4m0 12v2m0 40v2m0 2v6m0 16v2m0 18v2m7-316v2m0 2v2m0 6v2m0 4v4m0 16v2m0 28v2m0 8v2m0 80v4m0 8v2m0 22v2m0 18v2m0 8v4m0 44v2m0 48v2m7-322v2m0 10v2m0 48v2m0 8v4m0 2v2m0 132v2m0 2v2m0 2v2m0 48v2m0 2v2m0 34v2m0 8v8m49-310v2m0 14v2m0 2v2m0 14v2m0 2v2m0 2v10m0 98v2m0 34v2m0 4v2m0 8v2m0 52v2m0 2v4m0 14v2m0 10v2m0 2v4m0 4v2m0 2v2m7-320v2m0 2v4m0 26v2m0 14v2m0 6v2m0 98v6m0 42v2m0 4v2m0 52v2m0 36v2m0 8v2m0 4v2m7-320v6m0 2v2m0 38v4m0 106v2m0 26v2m0 16v2m0 56v2m0 2v6m0 22v2m7-300v4m0 8v2m0 2v2m0 30v2m0 2v2m0 108v4m0 32v2m0 12v2m0 56v2m0 40v2m7-304v2m0 40v6m0 102v2m0 48v2m0 56v2m0 4v4m0 14v2m0 20v4m7-322v2m0 2v4m0 2v2m0 10v2m0 32v4m0 4v2m0 102v4m0 26v2m0 12v2m0 2v6m0 58v2m7-288v2m0 26v2m0 36v2m0 4v6m0 98v2m0 2v4m0 6v2m0 28v2m0 4v2m0 6v2m0 44v6m0 6v2m0 30v4"/>
<path stroke="#0000af" stroke-width="2" d="M143 300v2m0 18v2m0 4v2m0 2v2m0 214v2m2-296v2m0 70v2m0 98v2m0 6v2m0 32v2m0 84v2m0 20v2m2-316v2m0 54v4m0 8v2m0 100v2m0 38v2m3-158v2m0 4v2m0 2v6m0 96v2m0 20v2m0 24v4m0 66v2m2-276v2m0 54v2m0 92v2m0 2v2m0 44v2m0 96v2m2-316v2m0 4v2m0 8v2m0 30v2m0 14v2m0 104v2m0 140v2m3-310v2m0 8v2m0 40v2m0 114v2m0 118v2m0 22v2m0 4v2m2-314v2m0 2v2m0 60v2m0 92v2m0 2v4m0 36v2m0 82v2m2-284v2m0 44v2m0 4v2m0 6v2m0 136v2m0 6v2m5-220v2m0 64v2m0 104v2m0 42v2m0 70v2m2-280v2m0 40v2m0 2v2m0 114v6m0 138v2m5-320v2m0 4v2m0 58v4m0 108v2m2-112v2m0 108v2m0 38v2m0 72v2m0 18v2m0 6v2m5-320v2m0 8v2m0 28v2m0 26v2m0 98v2m0 50v2m0 2v2m0 92v2m2-318v2m0 46v2m0 8v8m0 2v2m0 152v2m0 72v2m5-298v2m0 4v4m0 2v2m0 56v2m0 148v4m0 64v2m2-280v2m0 28v2m0 12v2m0 6v2m0 142v2m0 2v2m0 4v2m0 68v2m0 34v2m5-160v2m0 54v2m0 90v2m0 6v2m2-312v2m0 40v2m0 12v4m0 144v4m0 2v2m0 2v2m0 78v2m3-260v2m0 118v4m0 14v2m0 8v4m0 14v2m0 74v4m0 20v2m0 6v4m2-324v2m0 4v2m0 30v2m0 18v4m0 122v2m0 24v2m0 10v2m0 2v2m0 98v2m2-328v2m0 12v2m0 30v2m0 16v2m0 104v2m0 114v2m0 24v2m0 8v2m3-324v4m0 220v2m0 60v4m0 4v2m0 26v4m2-324v2m0 50v2m0 4v2m0 152v2m0 8v2m0 62v2m0 2v2m0 18v2m0 8v2m2-320v4m0 30v2m0 124v2m0 50v2m0 102v4m3-266v2m0 10v2m0 92v2m0 56v2m0 68v2m2-292v2m0 14v2m0 36v4m0 150v2m0 4v2m0 6v2m0 2v2m0 96v2m0 2v2m2-268v2m0 100v2m0 4v2m0 50v2m0 84v2m0 8v2m0 4v2m3-322v2m0 2v2m0 22v2m0 10v2m0 4v2m0 2v2m0 112v2m0 134v2m0 2v2m0 18v2m2-292v2m0 12v2m0 268v4m2-314v2m0 30v2m0 2v2m0 116v4m0 4v2m0 42v2m0 102v2m3-326v2m0 216v4m0 64v4m2-286v2m0 16v2m0 22v2m0 2v2m0 134v2m0 10v2m0 12v2m0 106v2m0 2v2m2-280v2m0 164v2m0 96v2m3-302v4m0 20v4m0 8v2m0 112v2m0 12v2m0 132v2m0 6v2m2-116v2m0 84v2m0 26v2m0 2v2m2-316v2m0 12v2m0 140v2m0 8v2m0 10v2m0 128v2m0 4v4m3-290v2m0 126v4m0 30v4m0 74v2m0 38v2m2-288v2m0 8v2m0 4v2m0 114v2m0 14v2m0 124v2m0 12v2m2-314v2m0 4v2m0 6v2m0 26v4m0 128v2m0 4v2m0 98v2m0 28v2m3-268v2m0 144v2m2-150v2m0 120v2m0 14v2m0 6v2m2-20v2m0 4v2m0 2v2m0 6v2m0 2v2m0 94v2m0 8v2m0 8v2m3-268v2m0 144v2m0 86v2m0 22v2m0 2v2m2-152v2m0 2v2m0 2v2m0 2v2m0 18v2m0 82v2m0 28v2m2-270v2m0 8v2m0 148v2m0 72v2m0 4v2m0 16v2m3-256v2m0 2v2m0 2v2m0 140v2m0 84v2m0 12v2m2-280v2m0 30v2m0 132v2m0 10v2m0 74v4m0 6v2m0 28v2m2-264v6m0 138v2m0 74v4m0 18v2m0 12v2m0 4v2m3-302v4m0 152v4m0 28v2m2-152v2m0 132v2m0 14v2m2-190v2m0 154v2m0 2v2m0 102v2m0 4v2m0 26v2m3-298v2m0 178v2m0 76v2m0 30v2m0 4v2m2-264v4m0 116v2m0 30v2m2-192v2m0 34v2m0 118v2m0 30v2m0 74v2m0 18v2m3-284v2m0 14v2m0 20v2m0 222v2m0 4v2m0 16v2m0 4v2m2-294v2m0 36v2m0 116v2m0 2v2m0 106v2m2-248v2m0 12v2m0 2v2m0 112v2m0 2v2m0 24v2m0 2v2m3-188v2m0 22v2m0 6v2m0 4v4m0 114v2m0 14v2m0 12v2m0 68v2m0 4v2m0 32v2m2-298v2m0 18v2m0 132v2m0 14v2m0 12v2m2-32v2m0 24v2m0 104v2m3-286v2m0 28v2m0 4v2m0 114v2m0 30v4m0 82v2m0 4v2m0 2v2m0 10v2m2-264v4m0 224v2m0 10v2m0 6v2m2-246v4m0 134v2m3-178v2m0 6v2m0 14v2m0 128v4m0 28v2m0 74v2m0 28v2m2-294v2m0 162v2m0 14v2m2-178v2m0 34v2m0 114v2m0 24v2m0 78v2m3-260v2m0 8v2m0 136v2m0 2v4m0 2v2m0 96v2m0 2v2m2-266v2m0 26v2m0 8v2m0 148v2m2-162v4m0 130v2m0 24v2m0 72v2m0 26v2m0 4v2m5-292v2m0 16v2m0 12v2m0 142v2m0 76v2m2-262v2m0 260v2m0 2v2m3-250v2m0 6v2m0 8v2m0 116v2m0 110v2m2-268v2m0 2v4m0 148v2m0 100v2m0 4v2m0 20v2m2-282v2m0 258v2m0 28v2m3-294v2m0 150v2m0 2v4m0 120v2m0 4v8m2-292v4m0 26v2m0 116v2m0 2v2m0 4v2m0 14v4m0 2v2m0 106v2m2-296v2m0 2v2m0 180v4m0 82v2m0 10v2m0 6v2m3-290v2m0 28v2m0 122v4m0 24v2m0 84v2m0 10v2m2-254v2m0 2v2m0 242v2m0 14v4m2-298v2m0 2v2m0 150v2m0 30v2m0 72v2m3-260v2m0 30v2m0 116v2m0 24v2m0 2v2m0 2v2m0 82v2m0 22v2m2-298v2m0 24v2m0 6v2m0 234v2m2-272v2m0 6v2m0 2v2m0 14v2m0 4v2m0 120v2m0 118v2m0 12v2m0 4v2m0 126v2m3-426v2m0 180v2m0 6v2m0 74v2m0 26v2m2-268v2m0 128v2m0 4v2m0 98v2m0 32v2m0 134v2m2-434v2m0 24v2m0 8v2m0 148v2m0 68v2m0 2v2m3-110v2m0 34v2m0 66v2m0 2v4m0 14v2m2-286v4m0 30v2m0 2v2m0 138v2m0 14v2m0 70v2m0 40v2m2-302v2m0 148v2m0 106v2m3-232v4m0 260v2m2-298v2m0 14v2m0 18v2m0 124v2m0 2v2m0 132v2m2-298v2m0 148v2m0 2v2m0 6v2m0 24v2m0 96v2m3-286v2m0 148v2m0 98v6m0 34v2m2-304v4m0 6v2m0 28v4m0 218v4m0 42v2m2-312v2m0 44v2m0 2v6m0 108v2m0 12v2m0 22v2m0 100v2m0 4v2m0 2v2m0 2v2m3-274v2m0 8v2m0 226v2m0 18v2m0 164v2m2-416v2m2-66v4m0 42v2m0 16v4m0 94v4m0 40v2m0 52v2m0 2v2m0 10v2m5-274v2m0 154v2m0 4v2m0 50v2m0 36v2m0 6v4m0 62v4m2-338v2m0 2v2m0 58v2m0 96v2m0 54v2m0 2v2m0 32v2m0 6v2m0 66v2m3-318v2m0 50v2m0 4v2m0 4v2m0 82v4m0 4v2m0 84v2m0 4v2m0 50v2m0 170v2m2-488v2m0 60v2m0 6v2m0 82v2m0 60v2m0 120v2m0 2v2m2-330v2m0 24v2m0 2v2m0 26v2m0 82v2m0 6v4m0 8v2m0 6v2m0 40v2m0 22v2m0 44v2m0 18v2m0 10v2m3-330v4m0 8v2m0 60v4m0 80v2m0 36v2m0 2v2m0 58v4m0 2v2m2-258v2m0 4v2m0 54v2m0 86v4m0 56v4m0 28v2m0 26v2m0 52v2m0 2v2m2-342v6m0 4v2m0 2v2m0 12v2m0 14v2m0 16v2m0 6v2m0 4v2m0 2v2m0 68v2m0 4v2m0 10v2m0 6v2m0 34v2m0 8v2m0 8v2m0 30v2m0 26v2m0 16v2m0 26v2m0 4v2m0 150v2m3-494v4m0 12v2m0 12v2m0 28v2m0 10v2m0 78v2m0 66v2m0 4v4m0 24v2m0 4v2m0 64v2m0 4v2m0 6v2m2-346v4m0 72v2m0 80v2m0 2v2m0 94v2m0 58v2m2-310v2m0 56v2m0 6v2m0 94v2m0 78v2m0 12v2m0 6v2m0 18v2m0 12v2m0 28v2m3-342v2m0 20v2m0 50v2m0 78v2m0 78v2m0 28v2m0 2v2m0 12v2m0 54v2m0 4v2m2-342v2m0 64v2m0 2v4m0 76v2m0 26v2m0 22v2m0 18v6m0 2v2m0 18v2m0 4v2m0 38v2m2-232v4m0 8v2m0 6v2m0 58v2m0 6v2m0 2v2m0 4v2m0 16v2m0 42v2m0 30v2m0 62v2m0 12v2m3-340v2m0 24v2m0 42v4m0 88v2m0 18v2m0 14v2m0 56v4m0 10v2m0 10v2m0 52v2m0 2v2m2-342v2m0 58v4m0 16v2m0 74v6m0 28v2m0 36v2m0 28v2m0 2v2m0 2v2m0 24v2m0 34v2m0 2v2m2-330v4m0 68v2m0 4v2m0 70v2m0 30v2m0 48v2m0 16v4m0 14v2m0 62v4m3-336v2m0 4v2m0 64v2m0 80v2m0 96v2m0 6v2m0 22v2m0 32v2m0 12v2m2-336v2m0 38v2m0 22v2m0 96v4m0 44v2m0 2v2m0 36v2m0 6v4m0 62v2m0 4v2m0 6v2m2-328v2m0 48v2m0 2v2m0 88v2m0 72v2m0 16v2m0 4v2m0 28v2m0 10v2m3-296v2m0 52v2m0 14v2m0 100v2m0 50v2m0 2v2m0 102v2m2-328v2m0 36v2m0 18v2m0 94v2m0 6v2m0 50v2m0 10v2m0 30v2m0 8v2m2-274v2m0 36v2m0 6v2m0 16v2m0 146v2m0 14v2m0 14v2m0 8v2m0 2v4m0 8v2m0 28v2m0 16v2m0 16v2m0 4v2m3-348v2m0 12v2m0 2v2m0 42v2m0 2v2m0 2v4m0 94v2m0 86v4m0 14v2m0 44v2m0 6v2m0 8v2m0 2v2m2-286v6m0 84v2m0 56v4m0 16v4m0 28v2m0 2v4m0 2v2m0 10v2m0 62v2m2-294v2m0 170v2m0 24v4m0 6v2m0 22v2m0 50v2m0 2v2m3-340v2m0 6v2m0 48v2m0 2v6m0 78v2m0 48v2m0 14v2m0 38v2m0 2v2m0 6v2m0 30v2m0 16v4m0 18v2m2-338v2m0 8v2m0 6v2m0 32v2m0 118v2m0 132v2m0 2v2m0 10v2m0 4v2m0 10v2m2-292v4m0 112v2m0 22v2m0 28v2m0 32v2m0 6v2m0 2v4m0 62v2m0 4v2m3-282v4m0 2v2m0 150v2m0 38v2m0 68v2m0 8v2m0 4v2m2-150v2m0 14v2m0 42v2m0 4v2m0 16v2m0 62v2m2-340v2m0 46v2m0 6v2m0 90v2m0 2v2m0 132v2m0 40v4m3-326v2m0 46v2m0 90v2m0 8v4m0 2v2m0 46v2m0 40v2m0 52v2m0 18v2m0 4v4m2-284v2m0 4v2m0 84v2m0 6v2m0 98v2m0 4v2m0 6v4m0 52v2m0 4v2m0 6v2m2-342v2m0 22v2m0 30v2m0 92v2m0 28v2m0 4v2m0 18v2m0 6v2m0 78v2m0 24v2m0 20v2m3-344v4m0 10v4m0 2v2m0 26v2m0 142v4m0 66v2m0 28v2m0 34v2m0 4v2m0 2v2m2-284v2m0 146v4m0 4v2m0 54v2m0 4v2m0 50v6m2-180v6m0 38v2m0 66v4m0 10v2m0 42v2m0 4v2m0 4v2m3-332v2m0 148v4m0 108v4m0 2v2m2-230v2m0 102v2m0 2v6m0 6v2m0 20v2m0 124v2m0 4v2m2-108v2m0 60v2m3-270v2m0 8v2m0 20v2m0 10v2m0 102v2m0 36v2m0 10v4m0 94v2m2-300v2m0 8v2m0 136v4m0 48v2m0 106v2m0 2v2m2-270v6m0 106v2m0 30v2m0 118v2m3-164v2m0 8v4m0 26v2m0 4v2m0 2v2m0 68v2m0 20v2m0 16v2m2-290v2m0 22v2m0 2v2m0 108v2m0 26v2m0 80v2m0 36v2m0 8v2m2-270v2m0 102v4m0 34v2m3-178v2m0 28v4m0 120v2m0 16v2m0 12v4m0 110v2m2-160v2m0 112v2m0 4v2m2-270v2m0 140v2m0 34v2m0 2v2m0 12v6m0 60v4m0 20v2m0 18v2m3-306v2m0 4v2m0 4v2m0 126v2m0 30v2m0 22v2m0 100v2m0 4v4m2-312v2m0 42v4m0 254v2m2-300v4m0 186v2m0 94v2m0 8v2m0 2v2m3-304v2m0 6v2m0 2v2m0 138v2m0 38v2m0 2v2m0 64v2m0 2v2m0 26v2m2-292v2m0 20v2m0 130v2m0 26v2m0 8v2m0 64v2m0 36v2m2-262v2m0 2v2m0 146v2m0 68v2m0 32v2m3-258v2m0 118v2m0 20v2m0 4v2m0 6v2m0 64v2m0 2v2m2-236v2m0 258v2m0 8v2m2-300v2m0 22v2m0 10v4m0 138v2m0 116v2m3-300v2m0 6v2m0 144v2m0 26v2m0 114v2m2-148v2m0 32v2m2-34v2m0 32v2m0 80v2m0 20v2m3-258v2m0 150v2m0 76v4m0 34v2m2-302v2m0 170v2m2-178v2m0 32v2m0 2v2m0 114v4m0 30v2m0 110v2m3-278v2m0 8v4m0 134v2m0 14v2m0 102v2m0 8v2m2-268v2m0 134v2m0 8v2m0 84v2m0 6v2m0 6v2m0 4v4m2-292v2m0 16v2m0 136v2m0 18v2m0 112v2m0 4v2m3-302v2m0 6v2m0 4v2m0 20v2m0 132v2m0 130v4m2-266v2m0 148v2m0 112v2m2-300v2m0 6v2m0 24v2m0 128v4m0 18v2m0 74v8m3-238v2m0 116v2m0 6v2m0 108v2m2-120v4m0 32v2m0 76v2m0 28v2m2-266v2m0 122v2m0 4v2m3-8v2m0 26v2m0 6v2m0 94v2m2-292v2m0 36v2m0 118v2m0 12v2m0 16v2m2-192v2m0 20v2m0 8v6m0 120v2m0 28v2m0 2v4m0 74v2m0 6v2m3-244v2m2 120v4m2-164v2m0 160v2m0 28v2m0 2v2m3-200v2m0 36v2m0 124v2m0 136v2m2-282v2m0 12v2m0 2v2m0 148v2m0 6v2m0 68v4m0 4v4m0 16v2m2-306v2m0 280v2m0 22v2m3-308v2m0 4v2m0 42v2m0 112v2m0 38v2m2-196v2m0 28v2m0 8v2m0 126v2m0 22v2m0 74v2m2-274v2m0 158v4m0 12v2m0 14v2m0 72v2m0 4v2m3-272v2m0 34v2m0 152v2m0 2v2m2-160v2m0 2v2m0 122v2m0 20v2m0 80v2m0 6v2m0 10v2m2-246v4m0 218v2m0 28v2m3-316v2m0 28v2m0 176v2m0 76v2m2-282v2m0 2v2m0 40v4m0 2v2m0 118v2m0 6v2m0 94v2m0 8v2m2-288v2m0 208v2m0 62v2m0 38v2m5-318v4m0 20v2m0 24v4m0 2v2m0 122v2m0 28v2m0 2v2m0 62v2m0 34v2m2-306v2m0 28v2m0 10v2m0 2v2m0 120v2m0 18v2m0 16v2m0 72v2m5-294v2m0 178v2m0 20v2m0 76v2m0 10v2m0 18v2m2-136v2m0 20v2m0 10v2m0 74v2m0 22v2m0 4v2m5-314v2m0 8v2m0 36v2m0 118v4m0 32v2m0 68v2m0 18v2m0 12v4m2-318v2m0 6v2m0 12v2m0 32v2m0 146v2m0 6v4m0 62v4m0 4v2m0 20v4m0 2v2m5-278v2m0 18v2m0 154v2m0 78v2m2-300v2m0 2v2m0 12v2m0 4v2m0 30v2m0 120v2m0 30v2m0 78v2m0 28v2m5-316v2m0 50v6m0 112v4m0 28v2m0 6v4m0 92v2m0 6v2m2-322v2m0 8v2m0 166v2m0 36v2m0 78v2m5-300v2m0 6v2m0 56v2m0 140v2m0 6v2m0 6v2m0 70v2m2-272v2m0 4v2m0 6v2m0 242v4m3-286v2m0 56v2m0 4v2m0 114v2m0 22v2m0 6v2m0 4v2m0 100v2m2-316v2m0 198v2m0 4v2m0 4v2m0 60v2m2-102v2m0 16v2m0 10v2m0 8v2m0 82v2m0 14v2m3-262v2m0 156v4m0 62v2m0 6v2m2-290v2m0 12v2m2-16v4m0 8v2m0 198v2m0 86v2m0 12v2m3-314v2m0 28v2m0 12v2m0 168v2m0 58v2m0 6v2m0 4v2m0 2v4m0 20v2m2-320v2m0 4v2m0 8v2m0 18v2m0 14v2m0 6v2m2-56v6m0 16v2m0 28v4m0 144v2m0 6v4m0 100v2m3-306v2m0 164v4m0 6v2m0 90v2m2-280v2m0 52v2m0 114v2m0 4v2m0 4v2m0 4v2m0 90v2m0 2v2m2-276v2m0 266v6m0 6v2m0 4v2m0 10v2m3-312v4m0 54v2m0 112v4m0 4v2m0 4v2m0 20v4m0 2v2m0 78v2m0 18v2m2-300v2m0 158v2m0 4v2m2-184v2m0 6v4m0 38v2m0 122v4m0 20v2m0 108v2m0 4v4m3-306v2m0 4v2m0 158v2m0 32v2m0 70v2m0 2v2m0 8v2m2-294v4m0 8v2m0 6v2m0 28v4m0 254v2m2-298v2m0 28v2m0 4v2m0 2v2m0 132v2m0 14v2m3-202v2m0 208v2m2-210v4m0 154v2m0 4v2m0 36v2m0 2v2m0 72v2m0 24v2m2-256v2m0 104v2m0 4v2m0 22v2m5-186v2m0 284v2m0 10v2m2-302v2m0 14v2m0 28v6m0 106v2m0 2v2m0 110v2m0 2v2m0 10v2m5-296v4m0 2v2m0 286v2m0 8v2m0 10v2m2-322v2m0 6v2m0 8v2m0 6v2m0 28v2m0 4v2m0 130v2m0 22v2m0 52v2m0 4v2m0 28v2m0 6v2m0 4v2m5-326v2m0 60v2m0 100v2m0 46v2m0 2v2m2-214v4m0 6v2m0 10v2m0 30v2m0 4v2m0 94v2m0 10v2m0 104v2m0 30v2m5-316v2m0 16v2m0 46v2m0 120v2m0 22v4m0 2v4m0 4v2m0 50v2m0 12v2m0 28v4m2-326v2m0 2v2m0 14v2m0 30v2m0 14v6m0 92v4m0 18v2m0 28v4m0 60v2m0 34v4m0 2v4m5-324v2m0 6v2m0 58v4m0 98v2m0 42v2m0 2v2m0 2v2m0 52v2m0 4v2m0 34v2m2-318v2m0 164v2m0 104v2m0 46v2m5-326v2m0 2v2m0 2v4m0 54v4m0 2v2m0 94v2m0 48v2m0 58v2m2-210v2m0 94v2m0 30v2m0 116v2m0 6v2m5-302v2m0 42v2m0 4v2m0 140v2m0 78v2m2-300v2m0 4v4m0 56v2m0 6v2m0 100v2m0 26v2m0 10v2m0 56v2m0 50v2m5-266v2m0 2v2m0 2v2m0 4v2m0 84v8m0 26v2m0 130v2m2-272v2m0 4v4m0 96v6m0 14v4m0 28v2m0 94v2m5-306v2m0 42v2m0 14v2m0 12v2m0 244v2m2-2v2m5-300v2m0 40v2m0 96v2m0 108v2m0 2v2m0 2v2m0 24v2m2-304v2m0 6v2m0 32v2m0 12v2m0 100v4m0 2v2m0 2v2m0 36v4m3-156v4m0 6v2m0 202v4m0 34v2m0 8v2m2-310v2m0 40v2m0 4v2m0 106v2m0 42v2m0 58v2m0 38v2m0 4v2m0 2v2m0 2v2m2-294v2m0 22v2m0 4v2m0 140v2m0 4v2m0 64v2m0 42v2m3-318v2m0 28v2m0 12v2m0 160v4m0 98v2m2-294v2m0 38v2m0 102v2m0 108v4m0 16v2m0 18v2m2-314v2m0 36v2m0 6v2m0 2v2m0 10v2m0 146v4m0 76v2m0 12v2m0 16v2m3-292v2m0 148v2m0 14v2m0 12v2m0 2v2m0 84v2m0 6v2m2-252v2m0 134v2m0 4v2m0 2v2m0 62v4m0 24v2m0 16v2m2-316v2m0 34v2m0 22v2m0 94v2m0 2v2m0 44v2m0 58v2m0 40v2m0 6v2m3-318v2m0 54v4m0 98v2m0 106v4m0 44v2m2-286v2m0 16v2m0 112v2m0 8v2m0 28v2m0 2v2m0 100v2m0 6v2m2-320v4m0 16v2m0 30v2m0 106v2m0 4v2m0 44v2m0 54v4m3-234v2m0 16v2m0 220v2m0 14v2m0 22v2m2-322v2m0 4v2m0 52v2m0 104v2m0 106v2m0 6v2m0 12v2m0 20v2m2-282v2m0 14v2m0 108v2m0 36v2m0 8v2m0 84v2m0 22v2m3-318v2m0 32v2m0 138v2m0 86v2m0 2v2m0 2v2m0 42v4m2-316v2m0 14v2m0 6v2m0 26v2m0 118v2m0 20v2m0 8v2m0 62v2m0 32v2m0 8v2m2-316v2m0 6v2m0 10v2m0 144v2m0 40v2m0 100v4m5-312v2m0 14v2m0 18v2m0 4v4m0 112v2m0 114v2m2-270v4m0 28v2m0 156v2m0 4v4m0 98v2m5-306v4m0 42v2m0 140v2m0 6v2m0 102v2m0 4v2m2-304v2m0 32v4m0 4v2m0 122v2m0 12v2m0 10v2m0 72v2m0 2v2m0 8v2m0 22v2m5-308v2m0 30v2m0 164v2m0 62v2m0 4v2m0 22v2m2-294v2m0 154v2m0 44v2m0 68v2m0 2v4m0 6v4m5-286v2m0 2v2m0 6v2m0 10v2m0 8v2m0 4v2m0 114v2m0 36v2m0 62v2m0 2v4m0 10v2m0 22v2m2-310v4m0 42v2m0 156v2m0 104v2m5-308v2m0 34v2m0 8v2m0 108v2m0 30v2m0 12v2m0 60v2m0 32v2m2-290v2m0 26v2m0 6v2m0 126v2m0 20v2m0 2v2m0 62v2m0 24v2m0 4v4m5-252v2m0 112v2m0 32v2m0 8v4m0 54v2m0 38v2m2-318v4m0 2v2m0 8v2m0 40v2m0 156v2m0 56v2m0 24v2m0 12v4m5-326v2m0 8v2m0 4v2m0 26v2m0 16v2m0 14v2m0 102v2m0 38v2m0 4v2m0 6v2m0 42v2m0 4v2m2-286v2m0 16v2m0 50v6m0 206v4m0 30v2m3-258v2m0 14v4m0 138v2m0 12v2m0 46v2m0 18v2m2-312v10m0 4v2m0 4v2m0 16v2m0 50v4m0 94v2m0 2v2m0 4v2m0 36v4m0 50v2m0 46v4m2-352v2m0 12v2m0 4v2m0 16v2m0 24v2m0 28v2m0 216v2m0 4v2m0 28v2m3-246v2m0 98v2m0 38v2m0 60v2m0 36v2m2-288v2m0 38v4m0 96v2m0 8v2m0 38v4m2-214v2m0 42v2m0 24v2m0 82v4m0 26v2m0 6v2m0 20v2m0 44v2m0 10v2m0 10v2m3-324v2m0 4v6m0 10v2m0 86v4m0 82v2m0 2v2m0 2v2m0 36v2m0 4v2m0 4v2m0 64v2m0 2v2m0 4v2m0 14v2m0 2v2m0 2v2m2-372v2m0 8v2m0 4v2m0 18v2m0 24v2m0 20v2m0 28v2m0 12v2m0 76v4m0 154v2m2-350v2m0 4v2m0 54v2m0 122v2m0 48v2m0 6v2m0 54v4m3-314v2m0 2v2m0 4v2m0 20v2m0 26v2m0 60v4m0 2v2m0 84v2m0 4v4m0 28v2m0 10v2m0 4v2m0 38v2m0 48v2m2-354v2m0 4v2m0 106v2m0 2v4m0 2v2m0 62v2m0 16v2m0 48v2m0 2v2m0 2v2m0 36v4m0 46v2m2-350v2m0 6v2m0 48v2m0 2v2m0 20v2m0 106v2m0 48v2m0 12v2m0 42v4m3-300v2m0 26v2m0 16v2m0 6v4m0 14v2m0 18v2m0 14v2m0 4v2m0 46v2m0 92v2m0 46v2m2-314v2m0 4v2m0 104v2m0 2v2m0 10v2m0 42v4m0 24v2m0 64v2m0 28v2m0 2v2m0 10v2m0 2v2m0 26v2m0 10v2m2-374v2m0 4v2m0 12v2m0 86v2m0 6v2m0 18v2m0 2v2m0 42v2m0 4v4m0 8v2m0 32v2m0 16v2m0 8v2m0 18v2m0 22v2m0 6v2m0 8v2m0 14v2m0 2v2m3-346v2m0 48v2m0 90v2m0 34v2m0 48v2m0 18v2m0 2v2m0 12v2m0 14v2m0 12v2m0 2v2m0 4v2m0 8v2m0 36v2m0 24v2m2-376v2m0 10v2m0 28v2m0 10v2m0 116v2m0 2v2m0 4v2m0 150v2m2-326v2m0 4v2m0 2v2m0 12v2m0 6v4m0 10v2m0 152v2m0 62v2m0 4v6m0 4v2m0 12v2m0 2v2m0 68v2m3-386v2m0 2v4m0 10v2m0 78v2m0 28v2m0 16v2m0 38v4m0 8v2m0 16v2m0 34v2m0 20v2m0 4v2m0 14v2m0 2v2m0 2v2m0 2v2m0 56v2m0 24v2m2-400v2m0 8v2m0 6v2m0 10v2m0 18v2m0 4v2m0 2v2m0 14v2m0 70v2m0 138v2m0 2v4m0 4v2m0 4v2m0 8v2m0 74v2m2-370v4m0 4v2m0 34v2m0 58v4m0 14v2m0 40v4m0 8v2m0 6v2m0 12v2m0 10v2m0 28v2m0 14v2m0 2v2m0 6v2m0 2v4m0 6v2m0 4v2m0 82v2m3-398v2m0 32v2m0 144v4m0 4v2m0 48v2m0 42v4m0 4v4m0 2v4m0 94v2m2-372v2m0 2v2m0 16v2m0 24v2m0 44v2m0 10v2m0 6v2m0 8v2m0 8v2m0 30v2m0 36v2m0 56v2m0 10v2m0 30v2m0 66v2m2-390v4m0 4v2m0 12v2m0 6v2m0 92v2m0 4v2m0 4v2m0 2v2m0 2v2m0 130v2m0 6v2m0 10v2m0 74v2m0 12v2m3-378v2m0 40v2m0 60v2m0 16v2m0 8v2m0 2v2m0 28v2m0 2v2m0 74v2m0 16v2m0 38v2m0 4v2m2-308v6m0 92v2m0 10v2m0 4v2m0 6v2m0 36v2m0 6v2m0 8v2m0 8v2m0 58v2m0 110v2m2-366v2m0 130v2m0 54v2m0 18v2m0 38v2m0 16v6m0 12v2m0 14v2m0 8v2m0 2v2m0 48v2m0 4v2m3-254v2m0 2v2m0 54v2m0 10v2m0 12v2m0 58v2m0 14v2m0 34v2m0 14v2m0 22v4m0 10v2m0 4v2m2-382v2m0 2v2m0 40v2m0 66v4m0 6v2m0 10v4m0 4v2m0 24v2m0 6v2m0 10v2m0 72v2m0 8v2m0 8v2m0 76v2m0 14v2m2-348v2m0 6v2m0 8v2m0 16v2m0 66v4m0 22v2m0 4v6m0 8v2m0 52v2m0 12v2m0 14v4m0 6v4m0 2v2m0 36v2m3-318v12m0 10v2m0 8v2m0 84v2m0 4v2m0 10v2m0 4v2m0 14v2m0 2v2m0 4v2m0 50v2m0 4v2m0 42v4m0 4v2m0 4v2m0 26v2m0 34v2m0 10v2m0 20v2m2-386v6m0 2v2m0 4v2m0 118v2m0 2v2m0 28v2m0 74v2m0 6v2m0 8v2m0 2v4m0 2v2m0 16v2m0 2v2m0 8v2m0 36v2m0 28v2m2-376v2m0 2v2m0 40v2m0 10v2m0 44v2m0 16v4m0 70v2m0 64v2m0 20v2m0 30v2m0 4v2m0 48v2m0 10v4m3-394v2m0 4v2m0 8v2m0 48v2m0 42v2m0 30v8m0 34v2m0 8v2m0 22v2m0 4v2m0 6v2m0 36v2m0 2v2m0 4v2m0 12v2m0 62v2m0 24v2m0 2v2m0 6v2m2-284v2m0 12v2m0 6v2m0 46v2m0 2v2m0 24v2m0 46v2m0 10v2m0 6v2m0 12v2m0 84v2m0 6v2m2-380v2m0 2v2m0 8v2m0 64v2m0 28v2m0 2v2m0 14v4m0 6v2m0 34v2m0 82v4m0 12v2m0 6v4m0 4v2m0 62v2m0 20v4m0 4v2m3-394v2m0 2v2m0 14v2m0 20v2m0 4v2m0 76v2m0 10v2m0 32v2m0 2v8m0 82v2m0 8v4m0 12v2m0 60v2m0 16v2m0 14v2m2-380v2m0 10v2m0 94v2m0 60v2m0 28v2m0 52v2m0 12v2m0 4v2m0 14v2m0 60v2m2-342v2m0 80v4m0 10v8m0 4v2m0 2v2m0 36v4m0 4v2m0 44v2m0 30v2m0 14v2m0 10v2m0 2v2m0 14v2m0 16v2m0 38v2m0 18v2m0 2v2m0 2v2m3-372v4m0 64v2m0 12v2m0 6v2m0 10v4m0 154v2m0 2v2m0 6v2m0 80v2m0 6v2m0 4v2m0 6v2m2-376v2m0 2v2m0 10v2m0 24v2m0 4v2m0 36v4m0 10v2m0 4v2m0 58v2m0 70v4m0 10v6m0 2v2m0 2v2m0 70v2m0 18v2m0 2v2m0 6v2m2-372v2m0 14v2m0 72v2m0 66v2m0 24v2m0 16v2m0 40v2m0 6v2m0 12v2m0 96v2m3-360v2m0 36v2m0 46v2m0 58v2m0 8v2m0 58v2m0 20v4m0 12v2m0 56v2m0 2v2m0 46v6m0 8v2m2-378v2m0 86v2m0 54v2m0 2v4m0 72v2m0 16v2m0 4v2m0 6v4m0 54v2m0 4v2m0 26v2m2-310v2m0 22v2m0 16v4m0 24v2m0 36v2m0 20v2m0 78v4m0 80v2m0 16v4m0 10v2m3-362v2m0 68v2m0 4v2m0 2v2m0 58v4m0 84v2m0 4v2m0 14v2m0 70v2m0 4v2m0 20v2m0 8v2m2-358v2m0 82v4m0 50v2m0 2v2m0 34v2m0 42v2m0 16v2m0 6v2m0 56v2m0 32v2m0 6v4m2-278v2m0 68v2m0 46v2m0 8v2m0 24v2m0 16v2m0 6v2m0 22v2m3-228v2m0 6v2m0 12v2m0 8v2m0 48v2m0 70v2m0 8v2m0 6v4m0 6v2m0 8v2m0 22v2m0 58v2m0 4v2m0 16v2m0 2v2m2-322v4m0 2v2m0 90v2m0 2v2m0 60v2m0 4v2m0 22v4m0 88v4m2-336v2m0 4v2m0 30v2m0 26v2m0 14v2m0 60v2m0 72v2m0 12v2m0 4v2m0 10v4m0 30v2m0 78v2m0 4v2m3-312v2m0 20v6m0 2v2m0 2v2m0 2v2m0 42v2m0 12v2m0 60v2m0 26v2m0 6v2m0 4v2m0 46v2m0 30v2m0 4v2m0 20v2m2-372v2m0 22v2m0 36v2m0 14v2m0 8v2m0 64v2m0 8v2m0 6v2m0 32v2m0 26v2m2-188v2m0 12v2m0 20v2m0 6v2m0 10v2m0 66v2m0 4v2m0 2v2m0 8v2m0 46v6m0 10v2m0 8v2m0 20v2m0 10v2m0 34v2m0 12v2m0 12v6m0 6v2"/>
<path stroke="#0000af" stroke-width="3" d="M163.5 254v2m0 14v2m0 24v2m0 30v2m0 92v2m0 6v2m0 20v2m0 20v2m0 2v2m0 76v2m7-300v2m0 52v2m0 8v4m0 112v2m0 104v2m0 8v2m0 20v2m7-318v2m0 32v2m0 26v4m0 104v2m0 4v2m0 112v2m0 22v2m0 4v2m7-324v4m0 4v2m0 46v2m0 6v2m0 154v2m0 6v2m0 58v2m0 34v2m7-272v2m0 6v2m0 4v2m0 114v2m0 16v2m0 6v2m0 6v4m0 66v4m0 28v2m126-272v2m0 142v2m0 78v2m70-282v2m0 20v2m0 38v2m0 100v2m0 96v4m0 64v8m217-348v2m0 28v2m0 8v2m0 10v2m0 8v2m0 2v2m0 226v2m0 22v2m0 2v2m7-322v2m0 18v2m0 4v2m0 18v2m0 2v2m0 2v2m0 144v2m0 12v2m0 102v2m7-312v2m0 198v2m0 6v2m7-216v2m0 4v2m0 34v2m0 134v2m0 104v2m0 14v2m0 4v2m7-314v2m0 2v4m0 4v2m0 48v2m0 142v4m0 6v2m0 74v2m0 24v2m7-314v2m0 4v2m0 4v2m0 40v2m0 120v2m0 10v2m0 8v2m0 82v2m0 4v4m0 26v2m56-304v6m0 2v2m0 154v2m0 22v2m0 14v2m0 62v2m0 34v2m7-308v4m0 8v2m0 190v4m0 54v2m0 4v2m0 16v2m0 22v2m7-318v2m0 4v2m0 2v2m0 10v2m0 36v4m0 104v2m0 12v2m0 14v2m0 10v2m0 68v2m0 26v2m0 4v2m7-322v2m0 2v2m0 8v2m0 4v2m0 32v2m0 110v2m0 14v2m0 32v2m0 60v4m0 36v2m7-328v2m0 10v2m0 4v2m0 24v4m0 28v2m0 94v2m0 52v4m0 56v4m0 14v2m0 22v2m0 2v2m7-258v2m0 120v2m0 22v2m0 4v2m0 100v4m7-324v2m0 68v2m0 92v2m0 52v4m0 56v2m0 34v2m0 6v2m7-294v2m0 26v2m0 8v2m0 146v2m0 62v2m0 22v2m0 18v2m7-322v6m0 14v2m0 38v2m0 2v6m0 88v2m0 2v2m0 8v2m0 26v2m0 4v2m0 8v4m0 54v2m0 12v4m7-274v2m0 28v2m0 12v6m0 96v2m0 28v2m0 90v2m0 12v2m0 8v4m0 2v2m49-284v2m0 22v2m0 212v2m0 42v2m7-272v2m0 124v2m0 30v2m0 8v2m0 58v2m0 6v2m0 34v2m7-306v2m0 22v2m0 8v2m0 124v2m0 4v2m0 24v2m0 82v2m0 12v2m0 16v2m7-280v2m0 12v2m0 110v2m0 12v2m0 18v2m0 6v4m0 66v2m0 36v2m7-152v2m0 40v2m0 68v2m0 30v2m7-292v2m0 18v2m0 132v2m0 102v2m0 2v2m0 4v2m0 16v2m0 4v2m7-322v2m0 2v2m0 222v2m0 58v2m0 28v2"/>
<path stroke="#0000bf" stroke-width="1" d="M447.5 510v2m0 4v2m0 8v2m0 10v2m0 18v2m0 8v2m0 4v2m0 14v2m0 6v2m0 2v2m0 20v2"/>
<path stroke="#0000bf" stroke-width="2" d="M143 260v2m0 54v2m2-54v2m0 52v6m0 150v2m0 70v2m0 24v2m2-254v2m0 2v2m0 110v2m0 28v2m0 4v2m0 98v2m3-314v2m0 2v4m0 30v2m0 16v2m0 4v2m0 108v2m0 38v2m0 74v2m0 22v2m2-268v2m0 12v2m0 6v2m0 98v2m0 140v2m2-248v2m0 140v2m0 4v2m3-196v2m0 16v2m0 26v2m2-68v2m0 12v2m0 28v2m0 270v2m2-318v2m0 4v2m0 62v2m0 104v2m0 110v2m5-284v2m0 52v2m0 104v4m0 140v2m0 2v6m2-276v2m0 8v2m0 254v2m5-296v4m0 28v2m0 10v2m0 252v4m2-280v2m0 14v2m0 2v4m0 146v2m0 10v2m0 72v2m0 10v2m0 4v4m5-274v2m0 16v2m0 114v2m0 134v2m2-310v4m0 10v2m0 10v2m0 132v2m0 36v2m0 86v2m0 10v2m0 2v2m5-302v2m0 40v2m0 116v2m0 52v2m0 100v2m2-320v4m0 42v2m0 240v2m5-276v2m0 6v2m0 36v2m0 104v2m0 40v2m2-210v2m0 60v2m0 100v2m0 2v2m0 150v2m3-318v2m0 12v2m0 26v2m0 150v2m2-194v2m0 158v2m0 146v2m2-320v2m0 4v2m0 198v2m0 8v2m0 2v2m0 72v2m0 26v2m3-318v2m0 54v2m0 252v2m2-258v2m0 6v2m0 114v2m0 16v2m0 4v2m0 110v2m0 6v2m2-316v2m0 192v2m3-148v2m0 110v2m0 114v2m0 36v2m2-320v2m0 32v2m0 18v2m0 156v2m0 66v2m0 28v2m0 2v2m2-278v2m0 14v2m0 114v2m0 28v2m0 4v6m3-216v2m0 10v2m0 194v2m2-208v2m0 312v2m2-314v2m0 162v2m0 20v4m0 14v2m0 2v2m0 110v2m3-314v2m0 14v2m0 176v2m0 2v2m0 100v2m0 2v4m2-280v2m0 244v2m0 10v2m0 6v2m0 10v2m2-316v2m0 32v2m0 164v2m0 110v2m3-304v2m0 146v2m0 18v2m0 16v2m2-34v2m0 122v2m0 4v2m0 2v2m0 6v2m5-116v2m0 74v2m0 24v2m2-272v2m0 8v2m0 148v2m0 98v2m0 14v2m2-118v2m0 88v2m0 18v2m0 2v2m0 2v2m3-306v2m0 188v2m0 76v2m2-240v2m0 6v2m0 120v2m0 104v6m0 28v2m0 2v4m2-306v2m0 32v4m0 224v2m0 4v2m0 2v2m0 24v2m3-114v2m0 82v2m0 14v2m2-252v2m0 256v2m2-296v2m0 32v2m0 258v2m3-118v2m0 76v2m0 14v2m0 14v2m2-266v2m0 148v2m2-172v2m0 18v2m0 158v2m3-152v2m0 146v2m2-182v2m0 20v2m0 154v2m2-12v2m0 120v2m3-110v2m2-186v2m0 2v2m0 4v2m0 140v2m0 6v2m0 2v2m0 12v2m0 84v2m0 2v2m2-246v4m0 126v2m0 14v4m0 8v2m3-160v2m0 8v2m0 250v2m0 6v2m2-294v2m0 28v2m0 130v2m0 8v2m2-16v2m0 102v2m0 6v2m3-8v2m0 22v2m2-282v2m0 144v2m0 2v2m0 100v2m2-246v2m0 8v2m0 6v2m0 146v2m3-150v2m0 144v2m0 76v4m2-88v2m0 106v2m0 4v2m2-290v2m0 16v2m0 158v2m0 2v2m0 76v2m0 24v4m0 2v2m3-292v2m0 288v2m2-290v2m0 20v2m0 4v2m0 118v2m0 110v2m2-234v2m0 138v2m0 2v2m0 84v2m0 4v2m0 18v2m3-260v2m0 2v2m0 144v2m2-160v2m0 8v2m0 122v2m0 16v2m0 86v2m0 2v2m0 16v2m0 4v2m2-274v2m0 144v2m0 124v2m5-286v2m0 18v2m0 126v2m0 102v2m0 2v2m0 26v2m2-38v2m3-246v2m0 140v2m2 104v2m2-2v2m3-246v2m2-4v2m0 6v4m0 4v2m0 128v2m2-154v2m0 24v2m0 224v4m3-98v2m0 92v4m2-254v2m0 16v2m0 128v2m0 2v2m0 100v2m0 2v2m2-240v4m0 142v2m0 8v2m3-182v2m0 20v2m0 156v2m0 236v2m2-424v2m0 28v2m0 122v2m0 2v2m0 22v2m0 4v2m0 72v2m0 30v2m2-294v2m0 30v2m0 150v2m0 76v2m3-262v2m2 272v2m2-252v2m0 234v2m0 30v2m3-298v2m0 2v2m0 24v2m0 128v2m0 104v2m0 16v2m0 2v2m2-278v2m0 170v2m0 88v4m0 18v2m2-112v2m0 66v2m0 12v2m3-270v4m0 30v2m0 228v4m0 30v2m2-300v2m0 28v2m0 122v2m0 24v2m0 78v2m0 6v2m2-238v2m0 230v2m0 10v2m0 170v2m3-422v2m0 230v2m0 38v2m2-142v2m0 100v2m2-276v2m0 166v2m0 36v4m3-206v2m0 156v2m0 146v2m2-106v2m0 52v2m0 52v2m0 6v2m2-322v2m0 8v2m0 14v2m0 24v2m0 118v2m0 98v2m0 8v2m0 26v2m3 164v2m2-424v4m0 218v2m0 8v2m0 22v2m2-316v2m0 2v2m0 34v2m0 8v2m0 6v2m0 112v2m0 4v2m0 80v4m0 8v2m0 48v2m3-330v2m0 6v2m0 254v2m0 68v2m2-330v2m0 154v2m0 6v2m0 12v2m2-176v2m0 30v2m0 20v2m0 96v2m0 48v2m0 54v2m0 12v2m3-122v2m0 8v2m0 8v2m0 92v4m0 38v2m0 176v2m2-496v2m0 64v2m0 130v2m0 106v2m0 20v2m0 4v2m2-328v2m0 4v2m0 52v2m0 84v4m0 32v2m0 80v2m3-208v2m0 2v2m0 86v2m0 58v2m0 2v2m0 34v2m0 4v2m0 8v2m0 46v2m2-320v2m0 30v2m0 30v2m0 96v2m0 46v2m0 34v2m0 66v2m0 8v2m2-330v2m0 2v2m0 56v2m0 2v2m0 186v2m0 30v2m0 40v2m0 2v2m3-326v2m0 44v2m0 102v2m0 42v2m0 64v2m2-234v2m0 128v2m0 40v2m0 48v4m2-258v2m0 68v2m0 210v2m0 4v2m0 28v2m0 4v2m3-266v2m0 90v2m0 4v2m0 112v2m0 46v2m2-322v2m0 166v2m0 86v2m0 34v2m0 14v2m2-254v2m0 118v2m0 26v2m0 10v2m0 38v2m0 24v2m3-224v2m0 90v2m0 170v4m2-332v2m0 150v2m0 26v2m0 40v2m0 88v2m2-314v2m0 2v2m0 8v2m0 26v2m0 14v2m0 4v2m0 4v2m0 86v4m0 44v2m0 16v2m0 34v2m0 2v2m0 8v2m0 42v2m0 16v2m3-340v2m0 68v2m0 82v2m0 4v2m0 12v2m0 80v2m0 26v2m0 10v2m0 36v2m2-334v4m0 54v2m0 94v2m0 70v2m0 2v2m0 98v2m0 2v2m2-318v2m0 26v2m0 6v2m0 126v2m0 102v2m0 30v2m0 10v4m3-336v2m0 20v2m0 38v2m0 2v2m0 90v4m0 28v2m0 36v2m0 60v2m0 40v4m2-324v2m0 58v2m0 112v2m0 68v2m0 64v2m0 14v2m2-330v2m0 36v2m0 8v2m0 8v4m0 84v2m0 46v2m0 18v2m0 30v6m0 56v2m0 20v2m3-324v4m0 254v2m0 14v2m0 32v4m2-324v2m0 56v2m0 94v4m0 14v2m0 38v4m0 2v2m0 32v4m0 46v2m2-114v2m0 14v2m0 4v2m0 2v2m0 36v2m0 48v2m0 16v2m0 2v2m3-300v2m0 24v2m0 4v2m0 144v2m0 8v2m0 114v2m2-334v2m0 14v2m0 22v2m0 114v2m0 6v2m0 96v2m0 10v2m0 34v2m2-300v2m0 138v2m0 34v2m0 64v2m0 2v4m0 4v2m0 56v2m0 8v2m0 2v2m3-186v2m0 10v2m0 28v2m0 60v2m0 80v4m2-184v2m2-134v2m0 22v2m0 100v2m0 36v2m0 62v2m0 6v2m0 70v2m3-316v2m0 182v6m0 58v2m0 12v2m0 26v2m2-316v2m0 30v2m0 180v2m0 46v4m2-262v2m0 262v2m0 46v2m3-280v2m0 10v4m0 150v2m0 106v2m2-308v2m0 10v2m0 28v2m0 110v2m0 36v2m0 74v2m2-268v2m0 38v2m0 100v2m0 2v2m0 112v2m0 20v2m0 20v2m3-154v2m0 6v2m0 2v2m0 130v2m0 2v2m0 4v2m2-268v2m0 142v2m0 8v2m2-196v2m0 8v2m0 16v2m0 116v2m0 6v2m0 40v4m0 60v2m0 44v2m3-164v2m0 44v2m0 96v2m0 16v2m2-274v2m0 110v2m0 48v2m0 106v2m2-266v2m0 146v2m0 110v2m3-268v4m0 112v2m0 110v2m0 24v4m0 8v2m2-262v2m0 118v4m0 130v2m2-256v2m0 106v2m0 28v2m0 118v2m0 4v2m3-282v2m0 138v2m0 30v2m0 70v2m2-262v4m0 136v2m0 16v2m0 96v2m2-230v2m0 234v2m0 22v2m3-294v2m0 180v2m0 8v2m0 96v2m0 6v2m0 2v2m2-160v2m0 44v2m2-158v2m0 122v2m0 16v2m3-142v2m0 118v2m0 130v4m0 4v2m2-296v2m0 34v2m0 132v2m2-170v2m0 6v2m0 138v2m0 6v2m0 28v2m3-156v2m0 118v2m0 32v2m0 108v2m2-148v6m0 130v2m0 10v2m2-272v2m0 152v2m0 4v2m3-192v2m0 34v2m0 142v2m0 110v2m2-14v2m0 16v2m2-274v2m0 156v2m0 2v2m0 74v4m3-110v2m0 106v2m0 20v2m2-288v2m0 164v2m0 100v2m2-252v2m0 272v2m0 2v2m3-36v2m0 26v2m0 2v2m2-264v2m0 126v2m0 104v2m0 20v2m2-258v2m0 150v2m0 108v2m3-300v2m0 2v2m0 264v2m0 24v2m2-140v2m0 114v2m2-250v2m0 4v2m0 236v2m3-258v2m0 138v2m0 6v2m0 106v2m0 4v2m2-252v2m0 2v2m0 4v2m0 150v2m0 78v2m2-272v2m0 184v2m0 86v2m0 22v2m3-144v2m0 134v2m0 6v2m2-298v2m0 6v2m0 144v2m0 30v2m2-190v2m0 34v2m0 120v2m0 110v2m3-268v2m0 18v2m0 12v2m0 116v2m0 18v2m0 92v4m0 22v2m2-144v2m0 2v2m0 24v2m0 6v2m2-160v2m0 120v2m0 2v2m0 18v2m3-186v2m0 272v2m2-238v2m0 226v4m0 2v2m2-284v2m0 2v2m0 186v2m0 10v4m0 86v2m3-292v2m0 176v2m0 98v2m0 10v2m0 12v2m2-308v2m0 6v2m0 158v4m0 26v2m0 102v2m2-292v2m0 20v2m0 4v2m0 150v2m0 94v2m3-292v4m0 22v2m0 18v2m0 126v2m0 134v2m2-280v2m0 14v2m0 148v2m0 4v2m0 2v2m2-204v2m5 162v2m0 116v2m2-276v2m0 288v2m0 6v2m5-306v2m0 34v2m0 124v2m2-158v2m0 2v2m0 184v2m0 70v2m5-276v4m0 172v2m2-184v2m0 14v2m0 30v4m0 144v2m0 8v2m0 84v2m0 20v2m5-294v2m0 182v2m0 74v2m0 28v2m2-310v2m0 40v2m0 126v4m0 2v2m0 26v2m0 70v2m0 4v2m5-294v2m0 30v2m0 22v2m0 122v6m2-174v2m0 272v2m0 16v2m0 12v2m5-316v2m0 18v2m0 26v2m0 4v2m0 120v2m2-4v2m0 8v2m0 26v2m0 76v2m3-286v2m0 10v2m0 154v2m2-168v2m0 2v2m0 36v2m0 160v2m0 84v2m2-298v2m0 12v2m0 30v2m0 136v2m0 20v2m3-214v2m0 4v4m0 2v2m0 44v2m0 238v2m2-292v2m0 2v4m0 6v2m0 160v2m0 114v2m0 12v2m0 2v2m2-312v2m0 8v2m0 4v2m0 8v2m0 144v2m3 30v2m2-206v2m0 22v2m0 24v2m0 118v2m0 108v2m0 24v2m2-310v2m0 48v6m0 256v2m3-306v2m0 4v2m0 32v2m0 158v2m0 2v2m0 100v2m2-128v2m0 14v2m0 74v2m0 28v2m0 2v2m2-142v2m0 24v2m0 86v2m0 16v2m3-300v2m2 24v2m0 14v2m0 4v2m0 116v2m0 36v2m0 96v2m2-300v2m0 18v2m0 176v2m3-204v2m0 36v2m0 126v2m0 6v2m0 26v2m0 96v2m2-256v2m0 114v2m0 32v2m0 84v2m0 16v2m2-254v2m0 154v2m0 74v2m3-240v2m0 2v2m0 118v2m0 40v2m0 78v2m2 14v4m2-300v2m0 12v2m0 2v2m0 20v2m0 152v2m5-152v2m0 110v2m0 2v2m0 6v2m0 100v2m2-96v2m0 124v2m5-304v2m0 38v2m0 6v2m0 108v2m0 104v2m2-112v2m0 40v2m0 70v2m5-246v2m0 14v2m0 112v2m0 28v2m0 14v2m0 68v2m0 24v2m0 8v2m2-310v2m0 4v2m0 172v2m0 18v6m0 56v2m5-272v2m0 64v2m0 226v2m2-302v2m0 12v2m0 10v2m0 20v2m0 10v4m0 142v2m0 2v2m5-188v2m0 4v2m0 132v2m0 40v2m0 10v2m2-12v2m5-150v2m0 112v2m0 16v2m0 106v2m2-282v2m0 192v2m0 4v2m0 66v2m0 28v2m5-312v2m0 60v4m0 94v4m0 122v2m0 24v2m2-256v2m0 124v2m5-182v2m0 2v2m0 260v2m0 34v2m0 8v2m2-314v2m0 206v2m0 58v4m5-276v4m0 4v2m0 28v2m0 16v2m0 8v4m0 134v4m0 4v2m0 66v2m2-280v2m0 2v2m0 18v2m0 6v2m0 16v2m0 8v2m0 130v2m0 12v2m0 2v2m0 62v2m0 38v2m5-312v2m0 34v2m0 2v2m0 4v2m0 6v2m0 214v2m0 6v2m2-268v2m0 8v2m0 282v2m3-262v2m0 106v2m0 52v2m0 68v4m2-242v2m0 120v2m0 36v2m0 4v4m0 58v2m2-112v2m0 2v2m0 146v2m3-266v2m0 4v2m0 116v2m0 14v2m0 22v2m0 92v2m2-308v2m0 4v2m0 150v2m0 40v2m2-146v2m0 102v2m3-106v4m0 114v2m0 134v4m2-314v2m0 50v2m0 130v4m0 14v2m0 80v2m2-282v2m0 264v4m0 2v2m0 26v2m0 6v2m3-312v2m0 46v4m0 246v2m0 4v2m2-254v2m0 2v2m0 136v2m0 12v2m0 64v2m0 28v2m2-266v2m0 14v2m0 102v2m0 4v2m0 122v2m3-294v4m0 154v2m0 48v2m0 88v2m2-294v2m0 40v2m0 2v4m0 148v2m0 70v2m2-238v2m0 4v4m0 126v2m0 24v2m0 70v2m0 16v2m0 16v2m0 2v2m3-270v2m0 138v2m0 88v2m0 2v2m2-270v4m0 172v2m0 106v2m0 12v2m2-262v2m0 108v6m0 140v2m5-302v2m0 22v2m0 152v2m0 18v2m0 98v2m2-270v2m0 12v2m0 218v2m5-258v2m0 4v2m0 14v2m0 130v2m2-140v2m0 170v2m0 92v2m5-290v2m0 4v2m0 26v2m0 122v2m0 38v2m0 64v2m0 42v2m2-306v2m0 154v2m0 6v2m0 24v2m0 64v2m5-224v2m2-42v2m0 42v2m0 110v2m5-124v2m0 126v2m0 110v2m2-276v2m0 166v2m5-160v2m0 32v2m0 122v2m0 104v2m0 2v2m0 10v2m0 14v2m2-310v2m0 32v2m0 14v2m0 142v2m0 72v2m0 8v2m0 28v2m5-314v2m0 180v2m0 128v2m2-322v2m0 2v2m0 172v2m0 20v2m3-204v2m0 4v2m0 174v2m0 142v2m2-322v2m0 36v2m0 144v2m0 100v2m0 6v2m0 16v2m2-332v4m0 58v2m0 30v2m0 96v2m0 8v2m0 28v2m0 60v4m3-300v2m0 78v2m0 2v2m0 206v2m2-294v6m0 70v2m0 16v2m0 136v2m0 100v2m0 2v2m2-330v2m0 176v2m0 106v2m0 12v2m0 22v2m3-332v4m0 10v2m0 280v2m0 34v2m2-250v2m0 16v2m0 120v2m0 2v2m0 4v2m0 4v2m0 46v2m0 20v2m2-316v2m0 84v2m0 4v2m0 128v2m0 112v2m3-246v2m0 84v2m0 2v2m0 58v4m0 72v2m2-316v2m0 2v2m0 2v2m0 4v2m0 72v2m0 4v2m0 76v2m0 2v2m0 42v2m0 22v2m0 46v2m0 20v2m0 14v2m2-306v2m0 54v2m0 24v2m0 66v2m0 66v2m0 40v4m0 12v4m3-268v2m0 132v2m0 14v2m0 36v2m2-250v2m0 30v2m0 84v2m0 68v2m0 2v2m0 12v2m0 12v2m0 96v2m0 42v2m0 4v2m2-364v2m0 2v2m0 12v2m0 14v2m0 20v2m0 40v2m0 6v2m0 12v2m0 70v2m0 6v2m0 42v2m3-252v6m0 6v2m0 4v2m0 50v2m0 22v2m0 12v2m0 14v2m0 48v2m0 4v2m0 116v2m0 6v4m0 18v2m2-320v2m0 64v2m0 20v4m0 10v2m0 16v2m0 56v4m0 24v2m0 46v2m0 28v2m0 22v2m0 44v4m0 6v2m2-376v2m0 6v2m0 112v2m0 56v4m0 86v2m0 20v4m0 56v2m0 6v2m3-346v2m0 90v2m0 26v2m0 58v2m0 30v2m0 110v2m0 14v2m0 6v2m2-364v2m0 4v2m0 6v2m0 22v2m0 30v4m0 46v2m0 52v2m0 4v4m0 2v2m0 38v2m0 20v2m0 34v2m0 2v2m0 18v4m0 44v2m2-358v2m0 4v2m0 6v2m0 36v2m0 68v2m0 6v2m0 48v2m0 52v2m0 12v2m0 8v2m0 14v2m0 14v2m0 30v2m0 44v2m3-362v2m0 98v2m0 8v2m0 10v2m0 6v2m0 44v2m0 68v2m0 42v2m0 66v2m0 6v2m2-370v2m0 58v2m0 64v2m0 54v2m0 28v2m0 44v2m0 2v2m0 12v2m0 16v2m0 42v2m0 28v2m0 2v2m2-372v2m0 2v2m0 2v2m0 22v2m0 10v2m0 64v2m0 58v2m0 16v2m0 2v2m0 30v2m0 32v2m0 8v2m0 6v4m0 16v2m3-306v2m0 22v2m0 76v2m0 14v2m2-104v2m0 56v2m0 100v2m0 24v2m0 6v2m0 58v2m0 16v2m0 88v2m2-378v6m0 4v4m0 12v2m0 18v2m0 54v2m0 6v2m0 8v2m0 50v2m0 22v2m0 86v2m0 6v2m0 16v2m0 52v2m3-256v2m0 62v2m0 6v2m0 6v2m0 80v2m0 2v2m0 34v2m0 30v2m2-336v2m0 18v2m0 100v2m0 42v4m0 6v2m0 16v2m0 6v2m0 50v2m0 6v4m0 14v2m0 22v2m0 10v2m0 30v2m0 22v2m2-366v2m0 28v2m0 70v2m0 10v4m0 54v2m0 62v2m0 2v2m0 26v2m0 18v2m0 74v4m3-344v2m0 64v4m0 24v2m0 68v4m0 38v2m0 18v2m0 10v2m0 14v2m0 30v2m0 46v2m2-376v2m0 20v2m0 260v2m0 100v2m2-382v4m0 4v2m0 34v2m0 66v2m0 52v2m0 14v2m0 52v2m0 6v2m0 2v2m0 8v2m0 8v2m0 2v2m0 2v2m0 78v2m0 2v2m0 14v2m3-380v6m0 10v2m0 78v2m0 82v2m0 4v2m0 18v2m0 36v2m0 12v2m0 18v2m0 12v2m0 12v2m0 10v2m0 2v2m0 36v4m2-308v2m0 32v2m0 4v2m0 26v2m0 70v2m0 48v2m0 2v2m0 10v2m0 4v4m0 18v4m0 14v2m0 56v2m2-364v2m0 22v2m0 84v2m0 262v2m3-366v2m0 6v2m0 30v2m0 44v2m0 92v2m0 2v2m0 40v2m0 6v2m0 18v2m0 42v2m0 10v2m0 48v2m2-366v2m0 8v2m0 72v2m0 8v2m0 68v2m0 108v2m2-256v2m0 28v2m0 124v2m0 2v2m0 54v2m0 32v2m0 18v2m0 34v2m0 20v2m3-320v2m0 12v2m0 40v2m0 4v2m0 8v2m0 86v2m0 32v2m0 8v2m0 16v2m0 70v2m2-238v2m0 22v2m0 48v2m0 4v2m0 24v2m0 80v2m0 12v2m0 20v2m2-244v2m0 4v2m0 8v2m0 12v2m0 6v2m0 54v2m0 66v2m0 32v2m0 10v2m0 8v2m0 62v2m0 4v2m0 4v2m3-356v2m0 4v2m0 10v2m0 16v2m0 42v2m0 20v2m0 50v4m0 26v2m0 60v2m0 46v2m0 70v2m2-360v2m0 72v2m0 78v2m0 14v2m0 78v2m0 6v2m0 4v2m0 74v2m2-340v2m0 16v2m0 26v2m0 42v2m0 84v2m0 6v2m0 46v4m0 16v2m0 102v2m3-364v4m0 44v2m0 8v2m0 100v2m0 2v2m0 24v2m0 30v2m0 22v2m0 2v2m0 72v2m0 26v2m2-284v2m0 12v2m0 62v2m0 12v2m0 18v2m0 60v2m0 8v2m0 30v2m0 8v2m0 26v2m0 24v2m0 4v2m2-320v2m0 28v2m0 104v2m0 86v2m0 56v2m0 4v2m0 30v2m3-330v2m0 30v2m0 26v4m0 68v2m0 20v2m0 16v2m0 46v2m0 8v2m0 28v2m0 52v2m0 10v2m0 32v2m2-390v2m0 60v2m0 94v2m0 66v2m0 26v8m0 50v2m0 2v2m0 38v2m2-290v2m0 80v2m0 16v2m0 74v4m0 8v2m0 6v2m0 46v2m3-290v2m0 10v2m0 34v2m0 4v2m0 12v2m0 112v2m0 30v2m0 10v2m0 12v2m0 24v2m0 56v2m0 14v2m2-330v2m0 10v2m0 98v2m0 18v2m0 8v2m0 10v2m0 42v2m0 6v2m0 8v2m0 18v2m0 8v2m0 20v2m0 48v6m0 2v2m2-326v2m0 106v4m0 66v4m0 2v2m0 20v4m0 8v2m0 14v2m0 54v2"/>
<path stroke="#0000bf" stroke-width="3" d="M163.5 322v2m0 104v2m0 42v2m0 2v2m0 74v2m7-278v2m0 48v2m0 152v2m7-180v2m0 12v2m0 140v2m0 16v2m0 68v2m7-280v2m0 30v2m0 124v2m0 152v2m7-312v2m0 154v2m0 154v2m126-316v4m0 24v2m0 4v2m0 248v2m70-260v2m0 20v2m0 100v2m0 8v2m0 10v2m0 24v4m0 70v2m0 36v2m217-330v2m0 4v2m0 2v2m0 40v2m0 154v2m0 66v2m7-236v2m0 10v2m7-50v2m0 272v2m7-270v2m0 156v2m0 32v2m7-208v2m0 172v2m0 132v2m7-310v2m0 48v2m0 4v2m0 150v2m0 74v2m0 26v2m56-304v2m0 12v2m0 140v2m0 2v2m0 8v2m0 2v2m0 106v2m7-278v2m0 42v2m0 114v2m0 6v2m7-172v2m0 14v2m0 4v2m0 24v2m0 118v2m0 120v2m0 6v2m7-306v2m0 12v2m0 172v2m0 14v2m0 108v2m7-326v2m0 14v2m0 44v2m0 4v2m0 116v2m7-116v2m0 98v2m0 106v2m0 16v2m7-288v2m0 50v4m0 224v2m7-274v2m0 34v2m0 12v2m0 2v2m0 94v2m0 50v2m0 56v2m0 12v2m7-110v2m0 98v2m0 40v2m7-318v2m0 154v2m0 10v6m0 98v2m0 24v2m0 2v2m49-298v2m0 28v2m0 4v2m0 6v2m0 114v2m0 6v2m0 34v2m0 94v2m7-260v2m0 124v2m0 28v2m0 102v2m7-286v2m0 22v2m0 116v4m0 26v2m0 78v2m0 34v4m7-306v2m0 16v2m0 176v2m0 66v2m7-270v2m0 4v2m0 158v2m0 30v2m0 90v2m7-250v2m0 160v2m0 62v2m7-282v2m0 38v2m0 158v2"/>
<path stroke="#0000cf" stroke-width="1" d="M148.5 552v2m7 6v2m42-292v2m7 302v2m14-104v2m0 6v2m42 84v2m7-142v2m0 6v2m7 138v2m7-286v2m7-34v2m0 48v4m56 244v2m35-104v2m21-174v2m0 46v2m0 192v2m7-230v2m0 16v2m0 96v2m0 10v2m40 104v2m0 10v4m0 34v2m0 6v2m0 4v2m23-284v2m14 232v2m0 16v2m14-278v2m35-24v2m42 280v2m0 10v2m14-110v2m63 10v4m7-202v2m21 258v2m0 36v2m0 6v4m7-320v2m0 16v2m77 256v2m98 14v2m14-128v2m0 20v2m7-134v2m7 120v2m0 106v4m0 4v2m28-150v4m0 46v2m7 82v2m0 38v2m0 14v2m7-320v2m0 68v2m0 72v2m0 58v2m35 48v2"/>
<path stroke="#0000cf" stroke-width="2" d="M143 426v2m0 144v2m2-126v2m2-24v2m0 4v2m3-150v2m0 142v4m2-130v2m0 8v2m0 10v2m0 124v2m0 22v2m2-160v2m3-54v2m0 6v2m0 28v2m0 2v2m0 18v2m0 140v2m0 102v2m2-296v2m0 20v2m2-36v2m0 26v2m5-34v2m0 42v2m0 14v2m0 112v2m0 110v2m2-284v2m0 282v4m5-290v2m0 210v2m0 98v2m2-314v2m0 206v2m5-210v2m0 8v2m0 38v2m0 6v2m0 128v2m0 26v2m2-40v2m5-8v2m0 36v2m2 90v2m0 2v2m0 4v2m5-306v2m2 22v2m0 136v2m0 114v2m3-256v2m0 172v2m0 86v2m2-266v2m0 4v2m0 276v2m2-146v2m0 112v2m0 6v2m3-290v2m0 46v2m2-54v2m2 168v2m0 18v2m0 2v2m0 116v2m3-316v2m0 4v2m0 32v2m0 10v2m0 146v2m0 6v2m0 78v2m2-120v2m2-162v2m0 16v2m0 6v2m0 18v2m0 110v2m0 18v2m3-168v2m0 176v4m0 14v2m0 78v2m0 24v2m2-158v2m2 2v2m0 124v2m0 10v2m3-300v2m0 196v2m0 84v2m0 24v2m2-314v2m0 26v2m0 134v2m0 24v2m0 6v2m0 106v2m2-16v2m3-134v2m0 108v4m2-120v2m0 14v2m0 2v2m0 98v2m2-278v2m0 192v2m0 106v2m3-304v2m0 24v2m0 128v2m0 136v2m0 6v2m2-152v4m0 34v2m0 82v2m0 20v2m0 2v2m2-290v2m0 140v2m0 130v2m3-256v2m0 250v2m2-254v2m0 118v2m0 6v2m0 14v2m2 110v2m3-262v4m0 126v2m2 128v2m2-282v2m0 14v2m0 4v2m0 248v2m3-126v2m0 10v2m0 8v2m0 76v2m0 10v2m2-272v2m0 36v2m2-6v2m3-12v2m2 150v2m0 10v2m0 72v2m2-230v2m3-32v2m0 18v4m0 240v2m0 10v2m2-256v2m0 144v2m0 92v2m2-82v2m0 70v2m3-258v2m0 2v2m0 280v2m2-290v2m0 18v2m0 240v2m2 18v2m3-250v2m0 122v2m0 122v2m2-126v2m0 110v2m0 14v2m0 2v4m2-294v2m0 154v2m0 104v2m0 16v2m3-256v2m0 264v2m2-286v2m0 148v2m0 114v2m0 16v2m2-270v2m0 130v4m0 104v2m0 20v2m3-288v2m0 34v2m0 122v2m0 12v2m0 82v2m0 6v2m2-230v2m2-30v2m3 274v2m2-288v2m2 0v2m0 8v2m0 20v2m0 138v2m0 88v2m5-266v2m0 176v2m0 2v4m2-174v2m0 22v2m0 122v2m3 98v2m2-234v4m0 4v2m5-16v4m0 238v2m0 18v2m2-278v2m0 166v2m2 86v2m3-2v2m2-260v2m0 18v2m0 252v2m2-272v2m0 172v2m0 78v2m0 4v2m0 18v2m3-24v2m0 18v2m2-112v2m0 88v2m0 2v2m2-268v2m0 150v2m0 110v2m5-242v2m0 128v2m2 102v2m3-262v2m0 28v2m0 124v2m0 104v2m4-84v2m0 4v2m0 106v2m5-114v2m2-180v2m0 284v2m0 4v2m3-302v4m0 190v2m2-198v2m0 40v2m2-46v2m0 42v2m0 134v2m3-188v2m0 16v2m0 30v2m0 118v2m0 10v2m0 2v2m0 14v2m2-202v2m0 52v2m2-52v2m0 160v2m0 154v2m5-336v2m0 12v2m0 150v2m0 52v2m2-216v2m0 10v2m0 150v2m0 100v2m3-266v2m0 60v2m0 98v2m0 50v2m0 68v2m2-284v2m0 264v2m0 56v2m2-332v2m0 62v4m0 100v2m0 154v2m0 8v2m3-330v2m0 48v2m0 268v2m2-260v2m0 244v2m2-286v2m0 16v2m0 14v2m0 158v2m0 104v2m3-168v2m2-142v2m0 138v2m0 8v2m0 46v2m0 40v2m2-252v2m0 158v2m0 20v2m0 20v2m0 2v2m0 34v4m0 14v2m3-258v2m0 2v2m0 38v2m0 90v2m0 58v2m0 102v2m0 6v2m2-326v2m0 60v2m0 218v2m0 48v2m2-322v2m0 142v2m0 96v2m0 8v2m0 2v2m0 34v2m3-240v2m0 102v2m0 44v4m0 38v2m0 30v2m0 30v2m2-326v2m0 166v2m0 80v2m2-190v2m0 104v2m0 14v2m0 36v2m0 36v2m3-260v2m0 210v2m0 44v2m0 72v2m2-146v2m0 6v2m0 24v2m0 76v2m0 20v2m2-326v2m0 176v2m0 38v2m0 94v2m3-314v2m0 54v2m0 166v2m2-186v2m0 120v2m2-110v2m0 4v2m0 96v2m0 4v2m0 90v2m0 8v2m3-118v2m0 48v2m0 4v2m0 8v6m0 90v2m2-314v2m0 2v2m0 158v2m0 44v4m0 4v2m0 36v2m0 70v2m2-176v2m0 68v2m0 98v2m3-286v2m0 264v2m0 20v4m2-54v2m0 14v2m0 36v2m2-288v2m0 106v2m0 2v2m0 32v2m0 26v2m0 62v2m3-282v2m0 14v2m0 30v2m0 96v2m0 44v2m0 64v2m2-258v2m0 142v2m0 108v2m2-210v4m0 272v2m3-316v2m0 300v2m0 6v4m0 2v2m2-330v4m0 24v2m0 130v2m0 100v2m0 60v2m2-324v2m0 4v2m0 24v2m0 172v2m0 48v2m0 62v2m3-318v2m0 186v2m0 130v2m2-328v2m0 44v2m0 2v2m0 96v2m0 38v4m0 74v2m2-222v2m0 248v2m0 2v2m3-100v4m0 94v2m0 8v4m2-112v2m0 100v2m2-294v2m0 138v2m0 40v2m0 2v2m0 88v2m0 16v2m3-276v2m0 10v2m0 220v4m2-262v2m0 186v2m2 102v4m3-124v2m0 100v4m2-18v2m2-230v2m0 126v2m0 28v2m0 100v2m0 4v2m3-292v2m0 278v2m2-104v4m2-182v2m0 150v2m0 6v2m3 6v2m0 82v4m0 26v2m2-290v2m0 18v2m0 6v2m0 4v2m0 126v2m0 96v2m2-226v2m0 222v4m3-228v2m0 106v2m0 22v2m2 92v2m0 30v2m5-296v2m0 26v6m0 152v2m0 2v2m0 90v2m0 14v2m2-294v2m0 172v2m0 2v2m0 98v2m2-100v2m0 74v2m7 0v2m3-234v2m0 128v2m0 4v2m2-164v2m0 12v2m0 160v2m0 94v2m0 8v2m0 6v2m2-140v2m0 120v2m0 8v2m0 2v2m3-136v2m0 26v2m0 108v2m2-144v2m2-156v2m0 264v2m0 22v2m3-294v2m0 154v2m0 26v4m2-182v2m0 262v2m2-268v2m0 26v2m0 122v2m0 18v2m3-146v2m0 2v2m0 140v2m2-12v2m2-170v2m0 8v2m0 22v2m3-4v2m0 144v2m0 110v2m2-288v2m0 152v4m0 22v2m0 92v2m0 14v2m7-28v2m0 20v4m2-300v2m0 34v2m3 2v2m0 152v4m0 82v2m4-278v2m0 34v2m0 132v2m0 20v2m3-164v2m0 124v2m0 6v2m0 106v2m2-116v2m2-160v2m0 28v2m3-44v2m0 44v4m0 226v2m2 14v2m2-16v2m3-278v2m0 38v2m2-36v2m0 160v2m0 134v2m2-310v2m0 20v2m0 150v2m0 26v2m0 2v2m5-204v2m0 8v2m0 28v2m2-42v2m0 38v2m0 230v2m5-232v2m0 232v6m2-284v2m0 2v2m0 14v2m0 266v2m0 16v2m5-260v2m0 224v2m2-230v2m0 154v2m0 72v2m0 4v2m5-278v2m0 34v2m0 140v2m2-138v2m0 232v2m5-6v2m2-270v2m0 168v2m0 8v2m0 88v2m5-280v2m2 198v2m3-186v2m0 4v2m0 12v2m0 252v2m2-302v2m0 4v2m0 202v2m2-158v2m3 228v2m0 28v2m2-262v4m0 158v2m2-4v2m3-208v4m0 276v2m0 16v2m0 2v2m2-100v2m0 92v4m2-298v2m0 32v2m0 128v2m0 6v2m0 96v2m0 26v2m3-136v2m2-168v2m2-2v2m0 302v2m3-264v2m0 132v2m2 20v2m0 80v2m2-112v2m0 110v2m3-276v2m0 2v2m0 6v2m0 176v2m0 84v2m2-254v2m0 134v2m0 30v2m0 78v2m2-276v2m0 8v2m0 160v2m3-16v2m0 2v2m2-160v2m0 272v2m2-242v2m0 158v4m0 94v2m5-294v2m0 150v2m0 116v2m0 20v2m2-274v2m0 272v2m5-302v2m0 12v2m0 270v2m0 18v2m2-304v2m0 32v2m0 148v2m0 108v2m5-302v2m0 16v2m0 280v2m2-302v4m0 4v2m0 10v2m0 30v2m0 224v2m0 6v2m5-286v2m0 46v4m2-54v2m0 160v2m5-108v2m0 102v2m0 18v2m0 96v2m2-278v2m0 154v2m0 36v2m0 10v2m0 92v2m5-24v2m2-264v2m0 252v2m0 36v2m5-38v2m0 26v2m2-292v2m0 34v2m0 218v2m0 20v2m0 12v2m5-306v2m0 166v2m0 40v2m0 68v2m0 24v2m2-248v2m0 126v2m0 12v2m5 70v2m0 20v2m2-142v2m0 38v2m0 4v2m0 74v2m0 4v2m5-270v2m0 30v2m0 126v2m0 14v2m2 76v2m0 40v2m3-144v2m0 36v2m0 98v2m0 4v2m2-268v2m0 4v2m0 114v2m0 102v2m2-250v2m0 168v2m0 80v2m3-274v2m0 164v2m0 30v2m0 66v2m0 8v2m2-236v4m2 4v2m0 100v2m0 36v4m3-144v2m0 144v2m0 2v2m0 100v2m2-268v2m0 120v2m0 2v2m0 132v2m0 10v2m2-262v2m0 226v2m0 2v2m0 10v2m3-258v2m0 120v2m0 42v2m0 64v2m0 2v2m0 2v2m2-276v2m0 42v2m0 138v2m0 12v2m0 66v2m0 6v2m2-230v2m0 134v2m0 12v2m3-200v2m0 200v2m0 62v2m0 16v2m0 18v2m2-306v2m0 18v2m0 180v2m0 72v2m0 26v2m2-42v2m3-260v2m0 36v2m0 142v2m0 4v4m0 92v2m2-258v2m0 238v2m2-276v2m0 182v2m5-26v4m0 38v2m0 64v2m2-268v2m0 202v2m5-40v2m0 28v2m0 68v2m0 22v2m2-112v2m0 82v2m0 36v2m5-146v2m2-156v2m0 36v2m0 156v2m5-190v2m2 12v2m0 12v2m0 154v2m0 70v2m0 6v2m0 22v2m5-286v2m0 24v2m0 116v2m2-160v2m0 276v2m5-286v2m0 18v2m0 158v2m0 24v2m2-160v2m0 118v2m0 24v2m0 14v2m0 90v2m5-300v2m0 10v2m0 38v2m0 112v4m0 36v2m0 62v2m2-254v2m0 150v2m0 36v4m3-208v2m0 6v2m0 2v2m0 30v2m0 118v4m0 94v2m0 22v2m2-298v2m0 16v2m0 6v2m0 26v2m0 258v2m2-38v2m0 8v2m3-310v2m0 14v2m0 4v2m0 4v2m0 4v2m0 20v2m0 12v2m0 14v2m0 108v2m0 20v2m0 14v4m0 64v2m2-290v2m0 168v2m0 4v2m0 12v2m0 26v2m0 58v4m2-292v2m0 46v2m0 20v2m0 14v2m0 2v2m0 90v4m0 2v2m0 38v2m3-228v2m0 60v2m0 10v2m0 142v2m0 62v2m2-294v2m0 6v2m0 182v2m0 46v2m0 94v2m2-330v2m0 16v2m0 18v2m0 48v2m0 98v4m0 132v2m3-336v2m0 10v2m0 64v2m0 22v2m0 98v2m0 28v2m0 80v2m2-320v2m0 2v2m0 14v2m0 56v2m0 8v2m0 16v2m0 4v2m0 132v4m0 88v2m2-344v2m0 6v4m0 34v2m0 46v2m0 102v2m0 10v2m0 32v2m0 68v2m0 26v2m3-344v2m0 14v2m0 4v2m0 96v2m0 92v2m0 22v2m0 18v2m0 60v2m2-260v2m0 44v2m0 4v2m0 2v2m0 128v2m0 10v2m0 44v2m0 42v2m2-352v2m0 12v2m0 10v2m0 150v2m0 74v2m3-238v2m0 36v2m0 40v2m0 18v2m0 104v2m0 2v2m0 18v2m0 10v2m0 26v2m0 16v2m0 38v2m0 14v2m2-356v2m0 4v2m0 156v2m0 30v2m0 22v2m0 62v4m0 6v2m0 56v4m0 6v2m2-366v2m0 102v2m0 4v2m0 70v2m0 28v2m0 26v2m0 60v2m0 4v2m0 40v2m0 10v2m3-342v2m0 156v2m0 2v4m0 2v2m0 56v2m0 32v2m0 38v2m0 40v2m2-366v2m0 84v2m0 88v2m0 26v2m0 40v2m0 2v2m0 60v2m2-294v2m0 24v2m0 48v2m0 8v2m0 58v2m0 4v2m0 78v2m0 40v2m0 10v2m0 34v2m3-350v2m0 2v4m0 106v2m0 60v2m0 2v2m0 76v2m0 6v2m0 36v2m2-288v2m0 4v2m0 148v2m0 2v2m0 104v2m0 38v4m0 32v2m2-270v2m0 22v4m0 2v2m0 202v2m3-332v2m0 16v2m0 76v4m0 80v2m0 20v2m0 6v2m0 30v2m0 16v2m0 10v2m0 96v2m0 6v4m2-188v4m0 14v2m0 34v2m0 22v2m0 72v2m0 34v2m2-356v2m0 12v2m0 82v2m0 4v2m0 42v2m0 2v2m0 4v2m0 4v2m0 4v2m0 78v2m0 8v2m0 66v2m0 4v2m3-348v2m0 36v2m0 52v2m0 82v2m0 22v2m0 28v2m0 18v2m0 20v4m0 6v2m0 8v2m0 30v2m0 30v2m2-362v2m0 20v2m0 88v2m0 58v2m0 2v2m0 30v2m0 6v2m0 16v2m0 32v4m0 8v4m0 12v2m0 62v2m2-364v4m0 184v2m0 42v2m0 56v2m0 84v2m3-324v4m0 54v2m0 146v2m0 10v2m0 8v2m0 30v2m0 20v2m0 24v2m2-268v2m0 4v4m0 146v4m0 24v2m0 36v2m0 48v2m2-360v2m0 90v4m0 88v2m0 42v4m0 18v2m0 10v2m0 4v2m0 22v2m0 64v2m0 2v2m3-344v2m0 24v2m0 60v2m0 46v2m0 16v2m0 98v2m0 6v2m0 58v2m0 12v2m2-376v2m0 6v2m0 2v2m0 8v2m0 92v2m0 8v2m0 100v4m0 14v2m0 14v2m0 18v2m0 18v2m0 28v2m2-312v2m0 100v2m0 160v2m0 6v2m0 6v2m0 10v2m3-302v2m0 6v2m0 44v2m0 32v2m0 14v2m0 54v2m0 70v2m0 52v2m0 68v2m2-328v2m0 74v2m0 106v2m2-210v2m0 6v2m0 8v2m0 70v2m0 72v2m0 24v2m0 56v2m0 10v2m0 12v2m0 32v2m3-290v2m0 14v2m0 50v2m0 142v2m0 72v2m2-290v2m0 40v2m0 34v2m0 116v2m0 18v2m0 56v2m0 18v2m0 38v2m2-346v2m0 78v2m0 84v2m0 48v2m0 12v2m0 8v2m0 2v2m0 46v2m0 6v2m0 44v2m0 4v2m0 18v2m3-356v2m0 72v2m0 96v2m0 42v2m0 24v2m0 88v2m2-270v2m0 246v2m0 30v2m2-362v2m0 66v2m0 80v2m0 88v2m0 88v2m0 8v2m3-310v2m0 168v2m0 68v2m0 72v2m0 12v2m2-362v2m0 4v2m0 28v2m0 18v2m0 20v4m0 76v2m0 54v2m0 2v2m0 50v2m0 66v2m2-334v2m0 40v2m0 18v2m0 8v2m0 78v2m0 66v2m0 18v2m0 14v2m0 4v2m0 30v2m0 12v2m0 6v2m3-318v2m0 12v2m0 216v2m0 62v2m0 24v2m0 16v2m0 10v2m2-352v2m0 26v2m0 26v2m0 20v2m0 68v2m0 50v2m0 82v2m0 54v2m0 8v2m2-330v2m0 32v2m0 12v2m0 8v2m0 80v2m0 30v2m0 10v2m0 6v2m0 10v2m0 94v2m3-330v2m0 146v2m0 64v2m0 26v2m0 42v2m2-218v2m0 8v2m0 126v2m0 36v2m0 14v2m0 54v2m0 24v2m2-264v2m0 124v2m0 54v2m0 6v2m0 64v4m0 8v2"/>
<path stroke="#0000cf" stroke-width="3" d="M163.5 454v2m0 108v2m7-272v2m0 138v2m0 30v2m0 104v2m7-256v2m0 112v2m0 18v2m7 20v2m7-212v2m0 308v2m126-282v2m0 132v2m0 108v2m70-116v2m0 8v2m0 8v2m0 120v2m0 12v2m217-330v4m0 42v2m0 122v2m7 8v2m0 2v2m0 104v2m7-298v2m0 176v2m7-178v4m0 6v2m0 8v2m0 10v2m0 144v2m7-172v2m0 10v2m0 188v2m0 68v2m7-280v2m0 2v2m0 168v2m0 128v2m56-122v2m7-8v2m0 32v2m0 104v2m7-22v2m7-238v2m7-58v2m0 160v2m7-154v2m0 46v2m7-64v2m0 170v2m0 132v2m7-290v2m0 262v2m0 36v2m7-286v2m0 134v2m0 8v2m0 20v2m0 8v2m0 66v2m0 32v2m7-278v2m0 18v2m0 102v2m0 128v2m49-120v2m0 16v2m0 6v2m0 102v2m0 12v2m7-150v2m0 20v2m7 10v2m0 108v2m7-262v2m0 248v2m0 4v2m0 6v2m7-298v2m0 4v2m0 24v2m0 116v2m7-148v2m0 14v2m0 130v2m0 28v2m0 108v2m7-314v2m0 10v2m0 32v2m0 132v2"/>
<path stroke="#0000df" stroke-width="1" d="M141.5 558v2m0 6v4m0 6v2m0 6v2m7-148v2m0 10v2m0 92v2m0 4v2m0 16v2m0 6v2m0 2v2m7-36v4m49 2v2m0 2v2m14-126v2m0 16v2m21-184v2m0 2v2m0 282v2m0 2v2m7-136v2m0 28v2m0 2v2m7-180v2m0 270v2m0 22v2m7-34v2m7-106v2m7 68v2m0 36v2m0 24v4m7-306v2m0 24v2m42 120v2m0 12v4m0 2v2m21 74v4m0 20v4m7-14v4m0 4v2m0 10v2m49-274v2m0 232v2m0 4v2m0 8v2m0 12v2m0 12v2m0 18v2m7-274v2m0 100v2m0 38v2m40 54v2m0 28v2m0 10v2m0 8v2m0 34v2m0 20v2m0 6v2m16-318v2m7-26v2m14 256v2m0 28v2m14-298v2m0 2v2m0 28v2m0 238v2m21-292v2m0 2v2m0 42v4m14-22v2m0 134v2m0 8v2m0 10v2m0 8v2m0 6v2m42 62v2m0 22v2m0 14v2m14-150v2m0 8v4m0 2v2m0 16v2m56 74v2m0 24v2m0 8v2m7-156v2m0 6v2m0 36v2m7-204v2m0 12v2m0 6v2m0 18v2m0 162v2m21-222v2m0 44v2m0 132v2m0 8v2m0 22v2m0 72v4m0 4v2m0 30v2m0 4v2m7-310v2m0 16v2m0 14v2m77 272v8m7-2v2m91-314v2m0 254v2m0 46v2m14-120v2m7-218v2m0 40v2m7 160v2m0 32v2m0 46v2m0 24v4m0 14v2m0 6v2m28-158v2m0 6v4m0 16v2m0 30v2m7 38v2m0 6v2m0 38v2m7-338v2m0 2v2m0 94v2m28 110v2m0 6v2m0 18v2m0 38v4m0 4v2m0 20v2m0 26v4m0 4v2m0 22v2m7-90v2m0 2v2m0 4v2m0 46v2m0 12v2"/>
<path stroke="#0000df" stroke-width="2" d="M143 434v2m0 10v2m0 22v2m0 96v2m2-20v2m0 8v2m2-306v2m0 6v2m0 44v2m0 152v2m5-148v2m0 112v2m0 22v2m2 12v2m0 100v2m3-270v2m0 10v4m0 110v2m0 8v2m0 28v2m2-202v2m0 276v2m2-232v2m0 110v2m0 28v2m0 110v2m7-138v2m5-10v2m0 140v2m2-310v2m0 286v2m0 14v2m0 6v2m5-288v2m0 26v2m2-50v2m0 188v2m0 116v2m5-152v2m0 4v2m2-122v2m0 264v2m5-316v2m0 166v2m0 2v2m0 114v2m2-282v2m0 28v2m0 14v2m0 144v2m0 102v2m3-140v2m0 44v2m0 78v2m0 20v2m2-318v2m0 166v2m0 34v2m2-158v2m0 158v2m3-2v2m0 94v2m4-294v2m0 44v2m3 260v2m2-312v2m0 12v2m0 22v2m2-38v2m0 204v2m3-172v2m0 10v2m0 244v2m2-88v2m0 92v2m2-308v2m0 306v2m3-300v2m2-12v2m2 2v2m0 158v2m3 136v2m2-304v2m0 2v2m0 22v2m0 136v2m2-162v2m0 182v2m0 104v2m3-28v4m2-118v2m0 106v2m0 2v2m2-272v2m3 262v2m2-240v2m0 152v2m2-178v2m0 18v2m0 2v2m0 266v2m3-272v2m0 6v2m0 230v2m0 20v2m0 2v4m2-294v2m0 258v2m0 14v2m2-126v2m0 8v2m0 94v2m3-258v2m0 178v2m0 106v2m2-264v2m0 124v2m0 4v2m0 122v2m0 6v2m2-264v2m0 122v2m0 2v2m0 102v2m3-236v2m0 6v2m2 116v2m2-156v2m0 22v2m0 146v2m3-148v4m2-26v2m2-2v2m0 20v2m0 128v2m0 134v2m3-116v2m0 100v2m2 2v2m2-280v2m0 166v2m0 6v2m0 80v2m3-264v2m4-2v2m3 18v2m0 8v2m2 136v2m5-172v2m0 28v2m0 154v2m0 88v2m0 12v2m2-136v2m0 20v2m0 2v2m0 74v2m0 24v2m0 2v2m2-280v2m0 142v2m3 8v2m2 92v2m2-248v2m0 14v2m0 146v2m5-166v2m0 16v2m0 124v2m0 2v2m2-142v2m0 160v2m0 106v2m3-280v2m0 140v2m0 20v2m2-148v2m2-10v2m0 240v2m3-92v2m0 92v2m2-240v2m0 228v2m2-240v2m0 130v2m3-158v2m0 2v2m0 2v2m4 24v2m0 230v2m3-108v2m2-4v2m0 2v2m2-154v2m0 148v2m0 102v2m5 10v2m0 12v2m5 0v2m2-282v2m0 146v2m0 10v2m0 90v2m2-258v2m3 2v2m2-6v2m2 258v2m0 28v2m3-296v2m0 156v2m0 20v2m2-148v2m0 136v2m0 100v2m2-120v2m3-164v2m0 46v2m2-60v2m0 4v2m0 2v4m0 12v2m0 24v2m0 118v2m0 32v2m2 72v2m5-280v2m0 292v2m0 20v2m2-314v2m0 38v4m0 10v2m0 258v2m3-318v2m0 12v2m0 20v2m0 26v2m0 106v2m0 34v2m0 58v2m2-264v2m0 42v2m0 110v2m0 32v2m0 56v4m2-100v2m0 50v2m0 38v2m0 70v2m3-330v2m0 26v2m0 10v2m0 2v2m0 12v2m0 134v2m0 20v2m0 50v2m0 52v2m2-276v2m0 218v2m5-66v2m0 126v2m2-280v2m0 98v2m2-104v2m0 258v2m3-294v2m0 36v2m0 8v2m0 184v2m0 50v2m2-248v2m0 232v2m0 26v2m2-282v2m0 126v2m0 46v2m3-218v2m0 50v2m0 96v2m0 10v2m2-106v2m0 126v2m0 64v2m0 14v2m0 48v2m2-312v2m0 48v2m0 154v2m3-222v2m0 10v2m0 208v2m0 104v2m2-268v2m0 122v2m0 38v2m0 44v2m0 6v2m0 10v2m5-86v2m0 100v2m0 20v2m2-268v2m0 202v2m2-264v2m0 48v2m0 106v2m0 4v2m0 8v2m0 142v2m3-316v2m0 148v2m0 2v2m0 94v2m0 4v2m2-254v2m0 138v2m0 172v2m5-282v2m0 110v2m0 14v2m0 38v2m0 88v2m2-302v2m0 30v2m0 10v2m0 276v2m2-284v2m0 12v4m0 268v2m3-280v2m0 100v2m0 6v2m0 2v2m0 42v2m2-160v2m0 110v2m0 38v2m0 124v2m2-324v2m0 150v2m0 114v2m0 26v2m0 22v2m3-318v2m0 42v2m0 208v2m2-228v2m0 226v2m2-268v2m0 6v2m0 22v2m0 118v2m0 52v2m0 92v2m0 30v2m3-140v2m0 8v2m0 102v2m0 14v2m2-150v2m2-18v2m0 44v2m0 108v2m3-126v2m2 74v2m0 38v2m5-304v2m0 192v2m0 94v2m2-138v2m0 6v2m0 104v2m2-256v2m0 248v2m0 34v2m3-294v2m0 168v2m2-32v2m0 8v2m0 132v2m0 12v2m2-156v2m0 20v2m0 10v2m3-22v2m0 96v4m2-90v2m0 110v2m0 6v2m2-292v2m0 6v2m0 140v2m0 134v2m3-270v2m0 122v2m0 2v2m2 18v2m2-168v2m0 154v2m0 8v2m0 88v2m3-110v2m0 122v2m0 18v2m2-262v2m0 116v2m2-154v2m0 18v2m0 268v2m3-250v2m0 234v2m2-276v2m0 2v2m0 252v2m0 22v2m2-118v2m3-12v2m0 2v2m0 18v2m2-6v2m2-182v2m0 4v2m0 150v2m0 134v2m3-2v2m0 2v2m2-116v2m0 80v2m5-100v2m0 126v2m2-112v2m0 2v2m5-158v2m2 122v2m5-6v2m0 2v2m0 26v2m2 82v2m5-272v2m0 156v2m0 26v2m2-186v2m0 4v2m5 144v2m2-154v2m0 16v2m0 168v2m2 78v4m0 20v4m3-26v2m0 14v2m2-296v2m2-6v2m3-2v2m0 280v2m0 16v2m2-302v2m0 10v2m0 162v2m2-136v2m0 144v2m3-184v2m0 2v2m0 22v2m0 136v2m2-150v2m0 248v2m2-236v2m0 124v2m3-124v2m2-52v2m0 286v4m2-284v2m0 168v2m5-180v2m2 38v2m0 126v2m0 108v2m0 8v2m0 2v2m0 14v2m5-300v2m0 10v2m0 180v2m7-32v2m2-172v2m0 168v2m5-172v2m0 198v2m2 88v2m5-14v4m2-240v2m0 156v2m5-200v2m0 166v2m0 132v2m2-310v2m0 40v2m0 6v2m3-44v2m0 12v2m4 174v2m3 4v2m0 80v2m2-246v2m0 126v2m0 34v2m0 80v2m2-264v2m0 158v2m0 90v2m3-4v2m2-96v4m0 96v2m2-94v2m0 14v2m3 98v2m2-260v2m0 154v2m0 4v2m2-188v2m0 24v2m0 252v2m3-26v2m2-260v2m0 262v2m2-258v2m0 250v2m3-104v2m0 100v2m0 22v2m2-138v2m0 124v2m2-132v2m0 4v2m3-164v2m0 10v2m0 158v2m0 24v2m2-28v2m7-134v2m2-34v2m0 28v2m0 2v2m0 218v2m0 6v2m5-268v4m0 38v2m0 234v2m2-260v2m0 22v2m5-52v2m0 162v2m0 102v2m2 40v2m5-304v2m0 182v2m2-178v2m0 290v2m5-306v2m0 46v2m0 142v2m0 80v2m0 26v2m2-258v2m0 218v2m5-258v2m0 24v4m0 2v2m0 2v4m0 218v2m2-268v2m0 196v2m0 104v2m5-260v2m0 152v2m0 66v2m2-8v2m0 26v2m5-270v2m0 14v2m0 112v2m0 116v2m0 10v2m0 6v2m0 12v2m2-314v2m0 48v2m0 154v4m0 64v2m5-112v2m0 106v2m7-266v2m0 24v2m0 154v2m0 32v2m2-196v2m3-24v2m0 26v4m2 134v2m2-164v2m0 24v2m0 12v2m0 122v2m0 92v2m0 40v2m3-150v2m0 114v2m0 12v2m2-302v2m0 34v2m0 150v2m0 24v2m0 104v2m2-302v2m0 192v2m0 102v2m3-268v2m0 124v2m0 30v2m2-166v2m0 6v2m2-6v2m0 166v2m0 66v2m3-262v2m0 290v2m2-142v2m0 26v2m2-174v2m0 156v2m0 124v2m3-300v2m0 16v2m0 14v2m0 4v2m0 112v2m2-124v2m0 4v2m0 146v2m0 104v2m2-276v2m0 20v2m0 224v2m3-236v2m0 156v2m0 74v2m0 18v2m0 4v2m2-256v2m0 232v2m2-278v2m5 292v2m2-100v2m0 94v4m5-288v2m0 164v2m2-148v2m0 168v2m5-40v2m0 124v2m0 16v2m2-306v2m0 262v2m0 26v2m0 8v2m5-140v2m0 104v2m0 16v2m2-278v2m0 148v2m0 120v2m0 6v2m5-252v2m0 226v2m2-4v2m5-268v4m2-16v2m0 8v2m5 32v2m2-44v2m0 208v2m5-10v2m2-206v2m0 12v2m0 158v2m0 38v2m0 82v2m3-316v2m0 4v2m2 198v2m0 20v2m2-234v2m0 8v2m0 226v2m3-172v2m0 114v2m0 110v2m2-276v2m0 72v2m0 90v2m0 32v2m2-192v2m0 52v2m0 94v2m0 2v2m0 16v2m0 18v2m0 70v2m3-292v2m0 2v2m0 88v2m0 80v2m0 22v2m0 84v2m0 12v2m0 24v2m2-278v2m0 8v2m0 124v2m0 104v2m2-196v2m0 136v2m0 54v2m3-302v2m0 186v2m0 10v2m0 36v2m0 54v2m0 2v2m0 6v2m0 20v2m2-154v2m0 34v2m0 32v2m2-250v2m0 102v2m0 98v2m0 48v2m0 94v2m3-332v2m0 74v2m0 70v4m0 2v2m0 4v2m0 32v2m0 26v2m0 2v2m0 6v2m0 32v2m2-292v2m0 2v2m0 4v2m0 38v2m0 18v2m0 160v2m0 4v2m0 44v2m0 28v2m2-280v2m0 150v2m0 56v2m0 34v2m0 8v2m0 20v4m0 36v2m3-364v2m0 10v4m0 72v2m0 34v4m0 122v2m0 8v2m0 94v2m0 2v2m2-310v2m0 58v2m0 82v2m0 4v2m0 44v2m0 82v2m2-248v2m0 98v2m0 6v2m0 60v4m0 114v2m3-180v2m0 90v2m0 64v2m0 8v2m0 6v2m2-358v2m0 60v2m0 22v2m0 14v2m0 66v2m0 50v2m0 14v2m0 110v2m2-256v2m0 62v2m0 54v2m0 24v4m0 30v2m0 80v2m3-266v2m0 16v2m0 66v2m0 28v2m0 28v2m0 4v4m0 14v2m0 40v4m2-284v2m0 178v2m0 30v2m0 4v2m2-164v2m0 20v2m0 84v2m0 10v2m0 4v2m0 16v2m0 4v2m0 14v2m0 56v2m3-314v4m0 12v2m0 178v2m0 22v2m0 8v2m0 12v2m0 62v2m2-122v2m0 68v2m0 50v2m0 18v2m0 6v2m0 22v2m0 2v2m2-334v2m0 64v2m0 64v2m0 8v2m0 54v2m0 48v2m0 40v2m3-334v2m0 18v2m0 36v2m0 4v2m0 22v2m0 6v2m0 118v2m0 66v2m0 80v2m2-344v2m0 22v2m0 66v2m0 64v2m0 2v2m0 4v2m0 10v2m0 36v2m0 2v2m0 36v2m0 90v2m2-280v2m0 6v2m0 70v2m0 156v2m0 28v4m3-360v2m0 92v2m0 4v2m0 140v2m0 14v2m0 12v2m0 4v2m2-272v2m0 16v2m0 4v2m0 58v2m0 224v2m2-304v2m0 82v2m0 72v4m0 66v2m0 64v2m0 40v2m3-304v2m0 12v2m0 36v2m0 76v2m0 2v2m0 2v2m0 58v2m0 2v2m0 96v2m2-346v2m0 46v2m0 32v2m0 8v2m0 10v2m0 62v2m0 4v2m0 50v2m0 24v2m0 8v4m0 62v2m2-324v2m0 22v2m0 44v2m0 126v2m0 72v2m0 54v2m0 18v2m3-300v2m0 34v2m0 152v2m0 6v2m0 14v4m0 16v2m0 2v2m2-220v2m0 96v2m0 56v2m0 20v4m0 22v2m0 56v2m0 10v2m2-340v2m0 30v2m0 54v2m0 64v2m0 32v2m0 16v2m0 10v2m0 6v2m0 2v2m0 28v2m0 14v2m3-210v2m0 82v2m0 66v2m0 106v2m0 24v2m2-308v2m0 6v2m0 2v2m0 16v2m0 106v2m0 18v2m0 10v2m0 6v2m0 42v2m0 4v2m0 24v2m2-256v2m0 26v2m0 80v2m0 2v2m0 54v2m0 4v2m0 96v2m0 12v2m3-324v2m0 48v2m0 4v2m0 120v2m0 18v2m0 46v2m0 80v2m2-332v2m0 4v2m0 164v2m0 68v2m0 12v2m0 2v2m0 36v2m0 40v2m2-352v4m0 64v2m0 8v2m0 102v2m0 42v2m0 14v2m0 44v2m0 38v2m0 14v2m3-346v2m0 36v2m0 34v4m0 6v2m0 66v4m0 82v2m0 82v2m0 22v2m2-278v2m0 6v2m0 146v2m0 8v2m2-236v2m0 146v2m0 8v4m0 14v2m0 28v2m0 12v2m0 84v2m3-266v2m0 28v2m0 70v2m0 64v2m0 46v2m0 56v2m0 34v2m2-208v2m0 4v2m0 22v2m0 140v2m2-270v2m0 94v2m0 16v2m0 16v2m0 42v2m0 70v2m0 8v2m0 30v2m0 4v2"/>
<path stroke="#0000df" stroke-width="3" d="M163.5 266v2m0 52v2m7 228v2m7-98v2m7-168v2m0 16v2m0 120v2m7-158v2m126 168v2m0 112v2m70-292v2m0 44v2m0 148v4m0 110v2m217-320v2m0 176v2m0 118v2m7-308v2m7 24v2m0 18v2m0 236v2m0 10v2m7-294v2m0 8v2m0 26v2m0 138v2m0 24v2m7-210v2m7 174v2m0 134v2m56-296v2m0 14v2m0 18v2m0 134v2m0 94v2m14-118v2m0 38v2m0 4v2m0 62v4m7-276v2m0 196v2m0 80v2m7-114v2m0 102v2m7-272v2m0 6v2m0 282v2m7-274v2m0 4v2m0 140v2m0 2v2m0 24v2m0 82v2m7-124v2m0 12v2m7-160v2m0 12v2m0 138v2m0 14v2m0 2v2m0 86v2m7-232v2m0 110v2m0 114v2m49-240v2m0 126v2m7-124v2m0 142v2m0 90v2m7-268v2m0 4v2m0 14v2m7-18v2m0 20v2m0 156v2m7 102v2m14-300v2m0 164v2m0 28v2m0 102v2"/>
<path stroke="#0000ef" stroke-width="1" d="M141.5 542v2m0 12v2m7-22v2m0 10v2m0 4v2m0 32v2m7-18v2m42-280v2m0 22v2m7 230v2m0 2v2m0 26v2m14-156v2m0 26v2m0 8v4m21-184v2m0 6v2m0 248v2m0 4v2m0 10v2m0 6v2m7-144v2m0 18v4m7 90v2m0 28v2m7-42v2m7-96v2m0 4v2m0 2v2m7 70v2m0 14v2m0 4v2m0 28v2m7-292v2m7-8v2m0 16v2m0 20v2m21 102v2m14 8v2m0 22v2m21 72v2m0 30v2m0 14v2m7-42v2m28-88v2m21-210v2m0 20v2m0 30v4m0 20v2m0 182v2m0 74v2m7-328v2m0 30v2m0 24v2m0 124v2m40 66v2m0 6v2m0 16v2m0 14v2m0 2v2m0 24v2m0 4v2m0 18v2m0 6v2m16-334v2m0 4v2m0 4v2m0 18v2m7-48v2m0 4v2m0 22v2m0 2v2m0 4v2m14 252v2m0 4v2m14-46v4m21-234v2m0 10v2m14-22v2m0 152v2m0 18v2m14-190v2m0 10v2m0 8v2m28 236v2m0 22v2m0 18v2m14-152v2m56 106v2m0 16v2m0 10v2m7-124v2m0 2v2m0 6v2m0 18v2m7-200v2m0 12v2m0 12v2m0 134v2m0 104v2m21-284v2m0 10v2m0 32v2m0 120v2m0 6v2m0 2v2m0 122v2m7-276v2m0 2v2m0 14v2m77 202v2m0 2v2m0 30v4m0 12v4m7-44v2m0 4v2m7-6v2m84-206v2m0 194v2m0 6v2m0 30v2m14-136v4m0 40v2m7-224v4m0 26v2m0 36v2m0 16v2m7 92v2m0 6v2m0 12v2m0 126v2m28-148v2m0 12v2m0 6v2m0 18v2m0 12v2m7 26v4m0 4v2m0 24v2m0 44v2m7-348v2m0 56v2m0 28v2m0 86v2m0 20v2m0 10v2m28-62v2m0 18v2m0 2v2m0 58v2m0 12v2m0 40v2m0 12v2m0 4v2m0 20v2m0 4v2m7-52v2m0 6v2m0 20v2m0 14v2m0 4v2"/>
<path stroke="#0000ef" stroke-width="2" d="M143 268v2m0 158v2m2-146v2m0 18v2m0 164v2m2-210v2m0 2v2m0 200v2m0 76v2m3-280v2m0 48v2m0 250v2m2-138v2m0 30v2m2-30v2m3-118v2m0 236v2m2-296v2m0 42v2m0 8v2m0 150v2m0 82v2m0 12v2m7-102v2m2-208v2m0 20v2m7-20v2m0 162v2m5-148v2m0 40v2m2-16v2m0 112v2m0 42v2m5 2v2m7-182v2m0 12v2m0 118v2m2 128v2m0 12v2m3-300v2m0 38v2m0 266v2m4-120v4m3-42v2m0 44v2m0 2v2m0 78v2m2-292v2m0 310v2m2-264v2m0 106v2m0 8v2m0 128v2m3-258v2m0 164v2m0 2v2m0 96v2m2-272v2m0 270v2m2-314v2m0 30v2m0 6v2m3 124v2m0 40v4m2-196v2m0 26v2m2-6v2m0 128v2m0 134v4m3-274v2m0 246v2m2-256v2m2-30v4m0 286v2m0 14v2m3-292v2m0 278v2m2-266v4m0 154v2m5-16v2m0 6v2m0 100v2m2-290v2m0 2v2m0 2v2m0 22v2m2 132v2m3-158v2m0 18v2m0 124v2m4-156v2m0 22v2m0 236v2m3 14v2m2-262v2m0 8v2m0 116v2m2-130v2m5 10v2m0 142v4m2-168v2m3 278v2m2-28v2m0 22v2m0 2v2m2-26v2m0 14v2m3-134v2m0 22v2m4-160v2m0 134v2m3 24v2m2 76v2m0 6v2m2-244v2m0 232v2m0 22v2m0 4v2m5-290v2m0 172v2m2-8v2m0 100v2m3-112v2m2-144v2m0 242v2m0 22v2m2-290v2m3 176v2m0 106v4m7-270v2m2 244v2m2-264v2m0 2v2m0 22v2m0 142v2m5-172v2m2 12v2m0 136v2m0 20v2m3-174v2m0 284v2m2-136v2m0 20v2m0 106v2m2-262v2m3-2v2m0 124v2m0 110v2m2-258v2m2-10v2m0 172v2m3-174v2m0 160v2m2-166v2m0 154v2m2-2v2m0 116v2m5-250v2m0 132v2m2 20v2m0 84v2m3-264v2m2-4v2m2 154v2m0 108v2m3-248v2m0 128v2m0 6v2m0 14v2m2 104v2m2-118v2m3-168v2m0 176v2m2-182v2m0 12v2m0 254v2m2-270v2m3 160v2m2-140v2m2-14v2m0 250v2m3-276v2m0 38v2m0 118v2m0 102v2m2-6v2m2-216v2m0 256v2m5-262v2m0 112v4m0 140v2m2-16v2m3-282v2m0 26v2m0 10v2m0 114v2m0 4v2m0 144v2m2-276v2m0 110v2m2 152v2m3-36v2m2-250v2m0 8v2m0 160v2m2-170v2m0 212v2m0 18v2m3-226v2m0 10v2m0 94v2m0 174v2m2-332v2m0 6v2m0 292v2m0 6v2m0 6v2m2-258v2m0 110v2m3-14v2m0 30v2m0 114v2m2-160v2m0 26v2m2-176v2m0 250v2m0 28v2m3-290v2m0 252v2m0 60v2m0 6v2m2-112v2m0 42v4m2-110v2m0 70v2m0 44v2m0 50v2m3-152v2m0 4v2m0 28v2m2-170v2m0 116v4m0 10v2m0 36v2m0 44v2m0 22v2m0 8v2m2-252v2m0 126v2m0 46v2m0 100v2m3-320v2m0 24v2m0 126v2m0 38v2m0 14v2m0 44v2m0 10v2m0 30v2m0 18v2m2-332v2m0 160v2m0 102v2m5-242v2m0 32v2m0 112v2m2-14v2m0 58v2m0 68v2m0 16v2m0 18v2m2-318v2m0 36v2m0 116v2m0 112v2m3-128v2m0 10v2m2-126v2m0 230v2m0 42v6m2-316v2m0 156v2m0 112v2m0 36v2m0 4v2m3-144v2m0 88v4m2 42v2m0 10v2m0 4v2m2-330v2m0 194v2m3-22v2m2 24v2m0 68v2m0 34v2m2-56v2m0 48v4m3-310v4m0 152v2m2-118v2m0 220v2m0 26v2m2-92v2m3-200v2m0 176v2m2 16v2m2-192v2m3 164v2m2 0v2m0 6v2m0 100v2m0 16v2m2-278v2m0 150v2m0 104v2m3-2v2m0 8v2m2-286v2m0 154v2m2-4v2m0 134v2m3-152v2m0 38v2m0 94v2m0 18v2m2-296v2m0 24v2m0 134v4m0 12v2m0 112v2m2-138v2m0 128v2m3-292v2m0 174v2m0 8v2m2-40v2m0 144v2m2-150v2m0 126v2m3-264v2m0 170v2m2-156v2m0 154v2m7-34v2m0 124v2m2-278v2m3 176v2m4-8v2m3 96v2m2-120v2m2 110v2m5-248v2m0 252v2m5-120v2m0 108v2m2-102v2m5 12v2m0 112v2m2-140v2m0 4v2m2 2v2m0 14v2m7-8v2m3-182v2m0 172v2m2-162v2m2 168v2m3-186v2m0 156v2m2-160v2m0 180v2m2-26v2m0 124v2m3-4v2m0 10v2m2-306v2m0 38v2m5-38v2m0 300v2m2-298v2m0 290v2m2-112v2m3 4v2m0 104v2m2-302v2m2 0v2m0 34v2m0 232v2m5-82v2m0 84v2m2-78v2m5-206v2m0 286v2m2-270v2m0 142v2m0 26v2m0 2v2m5 74v2m7-260v2m0 20v2m0 156v2m0 78v2m2-278v2m0 6v2m0 188v2m0 86v2m5-90v4m0 72v2m2-272v2m0 10v2m0 172v2m0 84v2m5-284v2m0 176v2m2-168v2m0 162v2m5 118v2m2-292v2m3 300v2m2-294v2m0 268v2m2-4v2m3-286v2m2 6v2m0 6v2m2 26v2m3-38v2m0 40v2m0 150v2m2-190v2m0 192v2m2-186v2m3-10v2m0 158v2m0 106v2m0 16v2m2-288v2m2-4v2m0 8v2m0 34v2m0 246v4m3-116v2m4 108v2m3-290v2m0 30v2m0 124v2m2-164v2m0 4v2m0 184v4m0 82v2m2-120v2m0 110v2m0 10v2m5-244v2m0 120v2m2-158v2m0 150v2m0 110v2m0 26v2m5-18v2m2-106v2m7-22v2m5-128v2m0 162v2m2 70v2m5-276v2m0 172v2m2-174v2m0 14v2m0 140v2m0 116v2m0 26v2m5-304v2m0 4v2m0 156v2m0 26v2m2 88v2m5-240v2m2-42v2m0 34v2m0 154v2m0 2v2m5-204v2m2 194v2m5-198v2m0 280v2m0 24v2m2-324v2m0 10v2m0 50v2m0 214v2m5-236v2m0 126v2m0 40v2m0 102v4m5-262v2m2 140v2m2-194v2m0 14v2m3-20v2m2 52v2m2 238v2m0 14v2m3-148v2m0 110v2m0 8v2m2-250v2m0 234v2m2-102v2m3-10v2m0 14v2m2 4v2m0 122v2m2-302v2m3-14v2m0 8v2m0 6v2m0 32v2m0 258v2m2-146v2m0 26v2m2 16v2m3-50v2m0 8v2m0 20v2m2-36v4m0 40v2m0 66v2m2-270v2m0 34v2m0 140v2m0 84v2m0 2v2m0 32v2m5-274v2m0 238v2m7-108v2m2-134v2m0 132v2m0 110v2m5-242v2m2-30v2m0 20v2m0 236v2m0 2v2m5-274v2m0 6v2m0 156v2m2-150v2m0 138v4m0 2v2m0 102v4m5-236v2m2-32v2m0 188v2m0 66v4m0 32v2m5-304v2m0 162v2m7-168v2m0 4v2m0 166v2m0 122v2m2-302v2m0 26v2m0 14v2m3-54v2m0 4v2m0 190v2m0 96v2m2-298v2m0 6v2m0 56v2m0 2v2m0 244v4m2-312v2m0 56v2m0 4v2m3-70v2m0 6v2m0 12v2m0 284v2m2-112v2m0 104v2m0 2v2m0 8v2m2-328v2m0 28v2m0 42v2m0 210v2m0 28v2m3-288v2m0 174v2m2-212v2m0 70v2m0 102v2m0 22v2m0 22v2m0 62v2m0 24v2m2-310v2m0 186v2m0 94v2m0 36v2m3-346v2m0 54v2m0 42v2m0 130v2m0 108v2m2-336v2m0 92v2m0 110v2m0 18v2m0 2v2m0 10v2m0 52v2m2-288v2m0 2v2m0 72v2m0 2v4m0 144v2m0 2v2m3-208v2m0 40v2m0 122v2m2-180v2m0 8v2m0 26v2m0 110v2m0 112v2m0 34v2m0 12v2m2-166v2m0 2v2m0 110v2m3-12v2m0 30v4m0 14v2m2-302v2m0 60v2m0 94v2m0 56v2m0 44v2m2-204v2m0 206v2m3-284v2m0 88v2m0 92v2m0 86v2m0 56v2m2-360v4m0 6v2m0 8v6m0 70v2m0 2v2m0 80v2m0 38v2m0 28v2m0 34v2m0 60v2m2-312v2m0 74v2m0 162v2m0 18v2m0 64v2m3-350v2m0 12v2m0 8v2m0 62v2m0 74v2m0 18v2m0 32v2m0 48v2m2-246v2m0 56v2m0 84v2m0 60v2m0 70v2m0 24v2m2-242v2m0 152v2m0 30v2m0 32v2m0 16v2m3-336v2m0 2v2m0 162v2m0 2v2m0 80v2m0 24v2m0 76v2m2-348v2m0 80v2m0 176v4m0 6v2m2-194v4m0 264v2m3-350v2m0 36v2m0 226v2m0 8v2m2-288v4m0 86v2m0 6v2m0 78v2m0 92v2m0 40v2m0 22v2m2-312v2m0 76v2m0 56v2m0 18v2m0 58v2m0 36v2m0 68v2m0 8v2m3-278v2m0 12v2m0 66v2m0 26v2m0 138v2m2-340v4m0 54v2m0 42v2m0 88v2m0 34v4m0 36v2m0 56v2m2-330v2m0 36v2m0 66v2m0 60v2m0 78v2m0 68v2m3-134v2m0 62v2m0 96v2m0 2v2m2-340v2m0 266v2m0 40v4m0 22v2m0 10v2m2-362v2m0 2v2m0 82v2m0 12v2m0 226v2m0 30v2m3-342v2m0 64v2m0 20v2m0 64v2m0 66v2m0 10v4m0 12v2m0 72v2m2-344v2m0 72v2m0 24v2m0 104v2m0 2v2m0 34v2m0 26v4m0 76v2m2-276v2m0 2v2m0 150v2m0 34v2m0 28v2m0 66v2m3-360v2m0 38v2m0 148v2m0 20v2m0 4v2m0 22v2m0 106v2m2-320v2m0 44v2m0 148v2m0 28v2m0 8v2m0 2v2m0 28v2m0 46v2m2-198v2m0 154v2m0 28v2m3-288v2m0 28v2m0 128v2m0 16v2m0 28v2m0 40v2m2-150v2m0 82v2m0 110v2m2-316v2m0 174v2m0 20v2m0 26v2m0 40v2m0 32v2m3-290v2m0 20v2m0 158v2m2-182v2m0 246v2m2-280v2m0 10v2m0 2v2m0 6v2m0 34v2m0 82v2m0 74v2m0 14v2m0 6v2m0 24v2m0 2v2m0 22v2m0 16v2m0 20v2m3-354v2m0 38v2m0 162v2m0 6v2m0 8v2m0 32v2m0 2v2m0 2v2m0 2v2m0 6v2m0 40v2m2-286v2m0 154v2m0 34v2m0 72v2m0 30v4m2-114v2m3-178v2m0 12v2m0 88v2m0 16v2m0 62v2m0 54v2m0 40v2m0 4v2m2-272v2m0 202v4m0 52v2m2-170v2m0 16v2m0 2v2m0 24v2m0 4v2m0 74v2m0 22v4m0 30v2"/>
<path stroke="#0000ef" stroke-width="3" d="M163.5 264v2m0 12v2m0 30v2m0 18v2m0 238v2m7-100v2m0 2v2m7-214v2m7 168v2m0 34v2m0 78v2m0 18v4m7-116v2m126 88v2m70-288v2m0 158v2m0 14v2m0 84v2m0 2v2m0 24v2m231-298v2m0 34v2m14-24v2m0 26v2m0 150v2m0 90v2m63-8v2m7-262v2m0 254v2m7 0v2m7-4v2m0 16v2m7-276v2m7 142v2m0 118v2m0 4v2m7-288v2m0 42v2m0 112v2m0 34v2m0 112v2m7-318v2m0 4v2m0 42v4m0 110v2m7-108v2m0 238v2m0 12v2m7-118v2m0 14v2m56-160v2m0 124v2m0 98v2m7 2v2m7-248v2m0 244v2m7-252v2m0 16v2m0 156v2m0 76v2m7-270v2m7 2v2m0 160v2"/>
<path stroke="#0000ff" stroke-width="1" d="M141.5 578v2m7-144v2m0 22v2m0 4v2m7 74v4m0 20v2m42-270v2m0 10v2m7 254v2m14-134v2m0 4v2m0 10v2m0 10v2m21-186v2m0 270v2m7-120v2m7-140v4m0 218v2m0 8v2m7-10v2m0 4v2m0 28v4m0 4v2m14-48v2m0 12v2m7-248v2m7-34v2m0 6v2m0 2v2m0 2v2m0 32v4m0 4v2m14 108v2m0 2v2m0 8v2m0 4v2m7-20v2m0 12v2m0 6v4m0 6v2m35 76v2m0 12v2m7 6v2m0 2v2m0 4v2m14-30v2m0 26v2m14-132v2m21-184v2m0 22v2m0 238v2m0 8v2m0 12v2m7-284v4m0 6v4m0 156v2m0 2v2m0 34v2m40 36v2m0 10v2m0 6v2m0 10v2m0 18v2m0 10v2m0 26v2m0 4v4m16-316v2m0 28v2m7-42v2m14 228v2m14-234v2m0 260v2m0 22v2m21-314v2m0 14v2m0 16v2m14 14v2m0 136v2m14-172v2m14 146v2m0 18v2m0 12v2m14 78v2m0 20v2m14-134v2m56 110v2m7-102v2m0 16v2m0 12v2m7-188v2m0 158v2m0 84v2m0 4v2m21-252v2m0 8v2m0 142v2m84 80v2m0 10v2m0 26v2m0 10v2m7-46v2m0 20v2m0 24v2m91-322v2m0 38v2m0 232v2m0 10v2m0 18v2m0 18v2m21-340v2m0 50v4m7 134v2m0 86v2m0 34v2m0 14v2m0 10v2m28-172v2m0 44v2m0 2v2m7 58v2m0 26v2m0 8v2m7-300v2m0 26v2m0 8v2m0 92v2m0 42v2m0 18v2m0 26v2m28-76v2m0 148v2m0 18v2m7-48v6m0 4v4m0 2v2"/>
<path stroke="#0000ff" stroke-width="2" d="M143 288v2m0 4v2m0 258v2m2-286v2m5 162v2m0 18v2m2-160v2m2 6v2m5-32v2m0 4v2m0 32v2m0 256v2m2-148v2m5 0v2m2 140v2m0 4v2m12-28v2m2-8v2m0 8v2m5-280v2m7 36v4m7-48v2m0 6v2m0 294v2m2-262v2m0 242v2m0 16v2m3-312v2m0 12v2m0 150v2m0 38v2m7-168v2m2-28v2m0 12v6m2-34v2m3 28v2m2 254v2m2-270v2m3-14v2m4 156v2m3-8v2m0 10v2m0 132v2m2 0v2m2-296v2m0 2v2m0 16v2m0 126v2m5-136v2m2 158v2m3-30v2m2 146v2m2-144v2m0 14v2m0 118v2m3-126v2m2-150v2m0 154v2m5 74v2m4-260v2m3-2v2m0 176v2m4 2v2m0 88v2m3-118v2m2 130v2m7-136v2m0 2v2m0 18v2m2-154v2m0 232v2m0 24v2m3-108v2m0 110v2m2-266v2m2-10v2m0 6v2m0 2v2m5 142v2m0 82v2m2-110v2m3-126v2m0 232v2m0 2v2m2-238v2m0 122v2m0 106v2m2 22v2m3-116v2m9-150v2m2 154v2m3-24v2m0 14v2m0 4v2m4-176v2m0 266v2m0 4v2m7-126v2m3 132v2m2-28v2m5-86v2m0 102v2m7 0v2m4-284v2m3 286v2m4-264v2m5-6v2m0 268v2m5-268v4m0 124v2m0 10v2m0 16v2m2-34v2m0 30v2m0 108v2m5 4v2m2-302v2m0 154v2m0 34v2m2-166v2m0 220v2m5-12v2m2-258v2m0 160v2m3 68v2m2 72v2m5-296v2m0 284v2m0 12v2m2-314v2m0 156v2m2-120v2m0 278v2m3-322v2m0 162v2m0 100v2m0 46v2m0 2v2m4-156v4m3-12v2m0 102v2m0 4v2m2-252v2m0 302v2m2-146v2m0 2v2m0 12v2m3 70v2m0 34v2m2-256v2m0 102v2m0 58v2m0 56v2m0 16v2m0 38v2m2-122v2m0 6v2m0 94v2m3-56v2m0 4v2m2-116v2m0 32v2m2-184v2m0 26v2m0 268v2m0 14v2m0 2v2m3-110v2m0 4v2m0 90v2m2-94v2m0 46v2m2-98v2m0 40v2m0 86v2m3-262v2m0 278v2m2-312v2m0 38v2m0 6v2m0 248v2m2-258v2m0 88v2m0 114v2m0 8v2m0 48v2m5-266v2m0 102v2m2 32v2m0 18v2m3-210v4m0 134v2m0 176v2m2-322v2m0 6v2m0 162v2m0 80v2m0 8v2m0 26v2m0 28v2m5-322v2m0 26v2m0 170v2m0 72v2m0 34v2m2-38v2m2-278v2m0 30v2m0 134v2m0 118v2m3-92v2m0 120v2m2-310v2m0 138v2m0 2v2m2-154v2m0 154v2m3-130v2m4-32v2m0 36v2m0 122v2m0 34v2m3-196v4m2-8v2m2 192v2m0 108v2m3-272v2m0 116v2m2-148v2m0 184v2m2-182v2m0 178v2m3-178v2m2 16v2m7 148v2m2 8v2m3-160v2m0 254v2m2-130v2m0 118v2m0 10v2m2-108v2m3-182v2m2 168v2m0 90v2m2-2v2m3-266v2m0 2v2m0 26v2m0 258v2m4-128v2m3 122v2m2-264v2m0 130v2m0 128v2m5-278v2m0 8v2m0 248v2m7-274v2m0 148v2m0 14v2m2-138v2m0 262v2m2-22v2m5-88v2m2-188v2m0 266v4m0 18v2m3-266v2m2 144v2m0 110v2m2-132v2m0 132v2m3-24v4m0 2v2m2-242v2m0 142v2m0 6v2m2-186v2m0 180v2m3-20v2m4 6v2m5-186v2m0 6v2m0 156v2m2-164v2m3 156v2m0 18v2m2-188v2m0 38v2m0 132v2m7-152v2m0 262v2m0 8v2m2-300v2m0 20v2m0 22v2m0 132v2m0 120v2m5-112v2m7-186v2m2-16v2m0 24v2m5-2v2m0 278v2m9-304v2m0 6v2m0 26v2m0 266v2m7-6v2m5 2v2m2-302v2m0 8v2m0 28v2m0 260v2m3-266v2m0 232v2m0 2v2m2-274v2m0 36v2m0 130v2m0 96v2m0 28v2m2-302v2m0 184v2m5-178v2m0 158v2m2 20v2m3-184v2m2-8v2m0 284v2m2-292v4m0 280v2m3-266v2m0 26v2m0 120v2m2-172v2m2 194v2m0 80v2m5-256v2m0 170v2m2 86v2m5-286v2m0 186v2m0 90v2m2-112v2m3-166v2m4 6v2m5 270v2m2-274v2m0 26v2m5-2v2m0 260v2m2-108v2m5-194v2m0 38v4m14-26v2m2-22v2m0 14v2m5 152v2m0 22v4m7-194v2m0 44v2m0 106v2m2-158v2m0 266v2m0 30v2m5-144v2m0 118v2m7-236v2m0 108v2m2-150v2m0 138v2m0 156v2m5-316v2m0 296v2m2-132v2m3-8v2m0 22v2m2-176v2m0 172v2m2 124v2m5-108v2m0 80v2m2-116v2m3 132v2m2-28v2m0 22v2m2-302v2m0 4v2m0 38v2m0 140v2m0 110v2m3-296v2m0 18v2m0 160v2m0 2v2m2-170v2m0 24v2m0 146v2m5-178v2m0 22v2m2-10v2m0 126v2m0 130v2m2-292v2m3 278v2m0 20v2m2-308v2m0 170v2m2-180v2m0 286v2m0 8v2m12-290v2m0 32v2m0 230v2m0 24v2m2-292v2m5 262v2m0 26v2m2-116v2m5 84v2m7-268v2m0 194v2m0 8v2m9-174v2m0 156v2m0 74v2m5-272v2m0 44v2m0 228v2m0 22v4m2-296v2m0 36v2m0 140v2m0 10v2m0 88v2m0 6v2m3-304v2m0 178v2m0 24v2m2-40v2m2-180v2m0 38v2m3-44v2m0 70v2m0 128v2m2-206v2m0 284v2m0 30v2m2-252v2m3-30v2m0 252v2m2-292v2m0 74v2m2-92v4m0 24v2m0 22v2m0 238v2m0 36v2m3-336v2m0 20v2m0 66v2m0 206v2m2-244v2m0 270v2m2-326v2m0 210v2m0 80v2m3-280v2m0 52v2m0 20v2m0 146v2m0 90v2m2-298v2m0 18v2m0 186v2m2-150v2m0 106v2m0 100v2m3-316v2m0 6v2m0 188v2m2-184v2m0 216v2m2-214v2m0 90v2m0 128v2m0 8v2m0 88v2m3-44v2m2-282v2m0 78v2m0 218v2m2-310v2m0 92v2m0 6v2m0 74v2m0 154v2m3-314v2m0 4v2m0 18v2m0 48v2m0 238v2m2-48v2m0 56v2m2-186v2m0 4v2m3-12v2m0 4v2m0 10v2m0 50v2m0 30v2m2-274v2m0 86v2m0 70v2m0 12v2m0 14v2m0 86v2m0 6v2m0 50v2m2-252v2m0 156v2m3-190v2m0 292v2m2-266v2m0 76v2m0 26v2m0 6v2m2-188v2m0 92v2m0 66v2m0 60v2m0 96v2m0 18v2m3-358v2m0 94v2m0 2v2m0 80v2m0 8v2m0 50v2m0 110v2m2-66v4m2-286v2m0 68v2m0 92v2m0 26v2m0 32v2m3-222v2m0 186v2m0 44v2m2-258v2m0 102v2m0 240v2m2-236v2m0 122v2m0 112v2m0 4v2m3-252v2m0 246v2m0 10v2m2-346v2m0 72v2m0 76v2m0 130v2m0 54v4m2-344v2m0 8v2m0 138v2m0 4v2m0 52v2m0 66v2m0 48v2m0 18v2m3-310v2m0 22v2m0 100v2m0 92v2m0 70v2m4-30v2m3-90v2m0 78v2m2-226v2m0 88v2m0 4v2m0 22v2m0 12v2m0 2v2m0 6v2m0 90v2m0 16v2m2-322v2m0 182v2m0 10v2m0 14v2m0 8v2m0 26v2m0 14v2m3-126v2m0 16v2m0 54v2m0 110v2m0 8v2m2-320v2m2-18v2m0 58v2m0 172v2m0 78v2m3-326v2m0 16v2m0 44v2m0 158v2m0 2v2m4-186v2m0 26v2m0 150v2m0 42v2m0 14v2m0 50v2m3-290v2m0 128v2m2-24v2m2-132v2m0 228v2m0 6v2"/>
<path stroke="#0000ff" stroke-width="3" d="M163.5 280v2m0 32v2m7 140v2m14 24v2m0 64v2m0 14v2m7-298v2m0 158v2m0 44v2m126-50v2m0 126v2m70-130v2m0 4v2m0 84v2m217-252v2m0 186v2m0 82v2m0 10v2m7-266v2m0 136v2m7 100v2m0 30v2m77-284v2m0 16v2m0 122v2m7-156v2m0 12v2m0 176v2m0 70v2m7-74v2m7-152v2m0 234v2m7-298v4m0 286v2m7-76v2m0 70v2m7-278v2m0 204v2m7-182v2m0 258v2m7-242v2m0 154v2m56-190v2m0 254v2m0 4v2m21-266v2m0 152v2m7 112v2"/>
<path stroke="#0010ff" stroke-width="1" d="M141.5 546v2m0 16v2m7-126v2m0 32v2m0 66v2m0 2v2m0 14v2m49-298v2m0 22v2m7 278v2m14-134v2m0 20v2m0 16v2m21-188v2m0 2v2m7 126v2m0 4v4m0 2v2m7 94v2m0 16v2m0 6v4m0 14v2m7-34v2m0 8v2m0 6v2m7-124v2m7 84v2m0 16v2m0 16v6m7-272v2m0 8v2m7-30v2m0 12v2m0 8v2m14 124v2m0 22v2m7-40v2m0 16v2m0 8v2m14 0v2m42 88v2m0 18v2m14-128v2m0 14v2m0 6v2m21-204v2m0 22v4m0 12v2m0 2v2m0 6v2m0 246v2m7-260v2m0 150v2m40 54v2m0 20v4m0 36v2m0 6v2m0 4v2m0 8v2m0 8v2m0 18v2m16-342v2m0 10v4m7-28v2m0 38v2m28-38v2m0 14v2m0 6v2m0 2v6m21-20v2m14 16v2m0 130v2m14-132v2m14 128v2m0 28v2m14 78v2m14-128v4m70-170v2m0 6v2m0 162v2m0 30v2m0 4v2m0 76v6m21-274v2m0 48v2m0 102v4m7-164v4m77 274v2m0 4v2m0 34v2m7-60v2m0 4v2m0 10v2m7 0v2m0 18v2m84-320v2m0 32v2m0 10v4m0 20v2m0 4v2m0 214v2m0 4v2m0 4v2m14-130v4m0 48v4m7-226v2m0 38v2m0 36v2m7 76v2m0 12v2m0 6v2m0 12v2m0 72v2m28-94v2m0 40v2m0 12v2m7 20v2m0 4v2m0 60v2m0 14v2m7-330v2m0 28v2m28 122v2m0 14v2m0 18v2m0 10v2m0 24v2m0 36v2m0 16v4m0 2v2m0 12v2m0 38v2m7-94v2m0 48v2"/>
<path stroke="#0010ff" stroke-width="2" d="M143 566v2m4-130v2m3 120v2m2-298v2m2 10v2m0 2v4m0 30v2m0 112v2m0 144v2m3-98v2m2-154v2m9 142v2m5 84v2m7-276v2m0 144v2m0 118v2m2 22v2m5-2v2m9-102v2m10 78v2m2-230v2m0 128v2m5-184v2m2 40v2m0 252v2m2-116v2m0 94v2m5-120v2m0 36v2m2 98v2m5-26v2m2-250v2m0 152v2m0 100v2m5-256v2m0 152v2m0 86v2m2-270v2m3 272v2m2-280v2m2 28v2m0 266v2m3-136v2m0 14v2m9-24v2m2 4v2m3-6v2m2-162v2m0 24v2m2-24v2m0 276v2m3-266v2m7 270v2m4-12v2m0 6v2m3-260v2m0 122v2m0 118v2m0 14v2m2-10v2m5-116v2m2 8v2m5-164v2m0 10v2m4 150v2m5-176v2m2-4v2m5 20v2m0 254v2m2-128v2m5-126v2m2-8v2m3-26v2m0 20v2m0 4v2m0 224v2m0 28v2m2-128v2m2-138v2m3 152v2m2 92v2m5-264v2m0 148v2m2-132v2m2 234v2m0 18v2m5-104v2m0 104v2m7-112v4m2 94v2m3 14v2m2-30v2m2-264v2m0 156v2m0 14v2m3-152v2m0 158v2m0 86v2m4-94v2m3 116v2m2-298v2m0 182v2m0 104v2m9-144v2m0 2v2m5 94v2m0 8v2m2 34v2m3-270v2m0 120v2m0 10v2m0 22v2m0 62v2m2-82v2m0 66v2m0 40v2m2-90v2m3-26v2m2 132v2m2-148v2m3 90v2m2-54v2m5-158v2m0 196v2m0 8v2m4-266v2m0 38v2m0 116v2m3-2v2m0 6v2m2-8v2m2-102v2m0 246v2m0 10v2m3-56v2m0 2v2m4-218v2m0 150v2m0 114v2m3-108v2m4-212v2m0 146v2m3 102v2m2-260v2m0 222v2m0 108v2m2-70v2m5-240v2m0 20v2m0 210v2m0 62v2m5-24v2m0 22v2m2-280v2m0 100v2m2-118v2m0 158v2m0 6v2m3-2v2m0 124v2m2-154v2m0 128v2m0 4v2m2-32v2m3-132v2m0 10v2m0 92v2m0 50v2m7-274v2m0 224v2m0 36v2m2-260v2m0 106v2m0 6v2m0 24v2m2-34v2m0 24v2m0 116v2m0 2v2m5-114v2m2 0v2m0 2v2m0 82v2m3 10v2m2-264v2m2 162v2m5-186v2m0 14v2m0 140v2m2 20v2m3-16v2m0 18v2m2 72v2m0 24v2m0 2v2m2-110v2m0 110v2m5 4v2m5-124v2m4 110v2m3-138v2m0 8v2m0 118v2m2-24v2m2-238v2m5 262v2m2-290v2m5 262v2m5-242v2m2 130v2m2 16v2m0 112v2m5 0v2m2-268v2m3 4v2m0 146v2m4-182v2m5 26v4m5-4v2m2 0v2m2 146v2m3 4v2m2 84v2m2-118v2m5 8v2m2-172v2m5 10v2m2 170v2m0 88v2m5-282v2m0 32v2m0 132v2m0 32v2m0 72v2m9 0v2m5-272v2m2 20v2m5-2v2m2-20v2m5-20v2m2 20v2m0 148v2m10 22v2m2-22v2m2-176v2m3 198v2m2-168v2m0 134v2m0 118v2m2-292v2m3 192v2m0 6v2m2-34v2m0 4v2m0 20v2m0 86v2m5-288v2m0 280v2m0 22v2m23-286v2m2 150v2m0 144v2m5-14v2m2-272v2m0 142v2m0 118v2m5-138v2m0 38v2m2-34v2m0 98v2m0 4v2m5-6v2m2-226v2m0 260v2m5-148v2m0 110v2m2-110v2m0 104v2m5-110v2m2 0v4m0 34v2m0 68v2m5-72v2m2-158v2m0 110v2m0 14v2m5-132v2m0 228v2m2-66v2m7-52v2m7 24v2m5-30v2m2-140v2m0 242v2m3-228v2m0 266v4m4-310v2m3 48v2m0 218v2m4-250v2m0 176v2m3 68v2m2-232v2m0 128v2m0 22v2m9-192v2m0 172v2m0 94v2m0 24v2m3-30v2m7-236v2m2-24v2m0 180v2m0 2v2m2-8v2m0 72v2m5-264v2m2 34v2m5 258v2m2-262v2m0 252v2m14-264v2m5 234v4m0 16v2m0 10v2m7-266v2m0 4v2m9-10v2m0 130v2m0 26v2m3-146v2m0 246v2m2-250v2m0 130v2m2-194v2m0 66v2m3-50v2m0 188v2m2-16v2m2-132v2m3-64v2m0 284v2m0 22v2m2-304v2m0 66v2m7 84v2m0 16v2m0 120v2m2-150v2m0 4v2m0 10v4m0 102v2m0 32v2m3-300v2m0 172v2m2-212v2m0 26v2m0 140v2m0 44v2m2-160v2m0 112v2m3 54v2m0 118v2m2-332v2m0 152v2m0 62v4m2-232v2m0 42v2m0 132v2m3-94v2m0 172v2m0 32v2m0 26v2m2-142v2m2-174v2m0 288v2m0 30v2m3-338v2m0 164v2m0 6v4m0 130v2m2-320v2m0 104v2m0 142v2m0 22v2m2-102v2m0 22v2m0 16v2m0 64v2m0 76v2m3-360v2m0 54v2m0 130v2m0 90v2m0 12v2m0 40v2m2-328v2m0 98v2m0 68v2m0 114v4m0 68v2m2-192v2m0 20v2m0 2v2m0 80v2m0 38v2m3-310v2m0 90v2m0 138v2m0 106v2m0 2v2m2-338v2m0 68v2m0 104v2m0 152v2m2-348v2m3 192v2m0 96v2m2-282v2m0 182v2m0 154v2m2-188v2m0 106v2m0 12v2m0 8v2m0 32v2m0 10v2m3-268v2m0 218v2m2-252v2m0 214v2m0 68v2m2-138v2m0 22v2m0 52v2m3-174v2m0 136v2m0 38v2m2-270v2m0 22v2m0 44v2m0 148v2m0 48v2m0 70v2m2-296v2m0 2v2m0 172v4m0 110v2m0 6v2m3-318v2m0 166v2m0 74v2m2-126v2m0 8v2m0 154v2m2-320v2m0 38v2m0 16v2m0 8v2m0 98v2m0 152v2m3-296v2m0 36v2m0 90v2m0 90v2m0 22v2m0 70v2m2-346v2m0 34v2m0 22v2m0 4v2m0 156v2m2-162v2m0 144v2m0 126v2m3-52v2m2-20v2m0 26v4m2-112v2m3-48v4m0 50v2m0 8v2m0 84v2m0 16v2m2-166v2m0 4v2m0 108v4m0 50v2m2-252v2m0 10v2m0 148v2m0 42v2m0 64v2m3-196v2m0 48v2m0 68v2m0 58v2m2-302v2m0 30v2m0 4v2m0 222v2m0 44v2m2-300v2m0 108v2m0 38v2m0 106v2m0 4v2"/>
<path stroke="#0010ff" stroke-width="3" d="M170.5 470v2m7-204v2m0 302v2m7-300v2m0 190v2m7-38v2m0 2v2m126 98v2m0 22v2m70-304v2m0 34v2m0 250v2m0 26v2m224-16v2m14-4v2m7-132v2m7-152v2m0 252v2m70-224v2m0 146v2m7 82v2m7-86v2m7-210v2m0 280v2m0 30v2m0 2v2m14-146v2m14-2v2m0 12v2m49 22v2m7-190v2m0 186v2m21 90v2m7 2v2m7 12v2"/>
<path stroke="#0020ff" stroke-width="1" d="M141.5 548v2m0 10v2m7-118v2m0 88v2m0 2v2m49-272v2m0 36v2m7 260v2m14-126v2m0 2v2m21-166v2m0 260v2m0 26v2m7-160v2m0 20v2m7-160v2m0 6v2m0 240v2m0 4v2m0 14v2m7-2v2m7-104v2m7 76v2m28-80v2m7 2v2m14-8v2m21 76v2m0 30v2m0 12v2m7-12v2m14-12v2m14-90v2m21-222v2m0 42v2m0 218v2m0 74v2m0 2v2m7-290v2m0 164v2m0 12v2m56-234v2m0 46v2m7-24v2m0 14v2m14 240v6m0 18v4m14-300v2m0 298v2m21-278v2m0 12v6m14-42v2m0 176v2m14-158v2m14 166v2m0 10v2m14 98v2m14-144v2m0 16v2m56 102v2m0 14v2m7-140v2m0 6v2m0 14v2m0 2v2m7-188v2m0 2v2m0 34v2m0 152v2m0 72v2m21-268v2m0 34v2m0 6v2m0 124v2m0 110v2m7-280v2m0 6v2m77 244v2m0 34v2m7-46v2m0 32v2m0 12v2m7-34v2m84-280v2m0 46v2m0 12v2m0 4v2m0 196v2m0 28v2m14-98v2m0 8v2m7-188v2m0 46v2m7 138v2m0 64v2m0 4v2m0 18v2m0 14v2m0 16v2m28-184v2m0 8v2m0 4v2m0 60v2m14-242v2m0 34v2m0 8v2m0 6v2m0 22v2m0 102v2m0 22v4m0 14v2m0 10v2m28-38v2m0 20v2m0 10v2m0 20v2m0 20v2m0 48v2m7-46v2m0 28v2m0 16v2m0 2v2m0 4v2"/>
<path stroke="#0020ff" stroke-width="2" d="M143 570v2m9-24v2m2-252v2m5 254v2m2-282v2m0 274v2m5-80v2m7 78v2m7-124v2m2 34v2m12-174v2m0 282v2m2-314v2m0 48v2m0 150v2m3-46v2m2-130v2m0 284v2m2-112v2m12 78v2m2-114v2m0 126v2m3-298v2m0 176v2m2-16v2m0 112v2m2-78v2m14-46v2m0 16v2m0 118v2m3-272v2m7 0v2m0 118v2m0 144v2m0 4v2m4-294v2m0 142v2m5 134v2m2-132v2m0 108v2m0 18v2m3-260v2m2 150v2m0 104v2m2-266v2m0 238v2m12-108v2m2 104v2m5-88v2m2 86v2m7 16v2m10-110v2m4-150v2m3 0v2m2-32v2m2 276v2m7-8v2m10-272v2m0 278v2m2 2v2m2-292v2m5 34v2m0 232v2m7-102v2m5-8v2m0 22v2m4 78v2m5 10v2m2 20v2m3-118v2m0 88v2m4-116v2m0 100v2m3-100v2m7-138v2m2-28v2m2 20v2m0 170v2m7 66v2m3-110v2m2 34v2m2-8v2m3-44v2m2-102v2m0 204v2m2-216v2m0 202v2m3 56v2m2-264v2m0 120v2m2-118v2m0 116v2m0 114v2m5-16v2m2-212v2m3 192v2m7-42v2m4-62v4m0 50v2m0 50v2m0 10v2m3-18v2m0 54v2m4-110v2m0 6v2m0 44v2m0 50v2m0 4v2m3-60v2m0 34v2m2-140v2m0 108v2m7 60v2m5-18v2m0 6v2m2-38v2m0 28v2m2-60v2m0 36v2m0 16v2m0 2v2m3-154v2m0 134v2m2-302v2m2 36v2m0 2v2m0 216v2m3-232v2m0 164v2m2-192v2m0 148v2m2-160v2m0 294v2m3-88v2m0 58v2m7-122v2m4 36v2m3-162v2m0 2v2m0 124v2m0 112v2m2-78v2m0 88v2m2-120v2m3-162v2m2 178v2m2-34v2m3 142v4m2-150v2m2 34v2m3 76v2m2-256v2m5 174v2m14-180v2m4-4v2m0 284v2m7-298v2m0 10v2m3 268v2m4-254v2m0 6v2m10 138v2m0 98v2m14-246v4m2-22v2m0 150v2m9 130v2m5-310v2m0 196v2m2-24v4m0 22v2m0 90v2m5-292v2m0 168v2m0 104v2m2 8v2m5-268v2m0 176v2m0 76v2m2-254v2m0 142v2m7-128v2m5 132v2m9-138v2m0 262v2m14-306v2m3 302v2m2-270v2m0 132v2m0 130v2m2-26v2m3-278v2m0 4v2m4 26v2m7-44v2m0 290v2m10-282v2m0 154v2m2-120v2m2-48v2m5 40v6m0 164v2m2-184v2m0 140v2m0 110v2m5-116v2m9 34v4m0 104v2m5-300v2m0 152v2m2-158v2m0 266v2m7-106v2m0 14v2m0 10v2m5-158v2m7-58v2m0 298v2m2-88v2m7-208v2m0 276v2m5-274v2m7 38v2m2 258v2m5-296v2m2 28v2m0 118v4m0 122v2m0 22v2m7-308v2m5 274v2m5-4v2m7-230v2m2 232v2m0 22v2m2-120v2m3-144v2m0 126v2m0 24v2m0 80v2m7-292v2m2 44v2m0 266v2m7-278v2m0 26v2m2 134v2m5 4v2m2-188v2m12 168v2m2 6v2m0 110v2m5-138v2m2-158v2m5 294v2m2-286v2m0 142v2m5-162v2m0 36v2m7-50v2m5 276v2m4-286v2m0 16v2m0 166v2m3-176v2m0 292v2m0 10v2m2-34v2m5-270v4m2 12v2m0 44v2m2-30v2m0 28v2m3-26v2m2-76v2m2 66v2m0 22v2m3-90v2m0 88v2m2 86v2m0 60v2m2-236v2m3 0v2m2 76v2m0 104v2m2-186v2m0 160v2m0 20v2m3-152v2m0 170v2m2-42v2m0 24v2m0 32v2m2-232v2m0 294v2m0 2v2m0 46v2m3-338v2m0 4v2m0 204v2m0 46v2m0 26v2m2-140v2m0 72v2m0 46v2m0 58v2m2-262v2m0 2v2m0 184v2m0 66v2m3-264v2m0 182v2m2-246v2m0 318v2m2-142v2m3-202v2m0 180v2m0 20v2m0 72v2m2-190v2m0 148v2m2-40v2m0 36v4m0 90v2m3-328v2m0 160v2m0 56v2m2-192v2m0 262v2m0 46v2m2-84v2m5-272v2m0 166v2m0 50v2m0 126v2m2-118v2m0 8v2m0 42v2m3-214v2m0 100v2m0 52v2m4 4v2m0 60v2m3-230v2m0 98v2m0 66v2m2-52v2m0 84v2m2-216v2m0 106v2m0 10v2m3-104v2m0 96v2m0 138v2m2-282v2m0 28v2m0 106v2m2-122v2m0 36v2m0 126v2m3-54v2m0 126v2m2-272v2m5 48v2m2-12v2m0 166v2m0 40v2m0 64v2m2-330v2m0 28v2m0 38v2m0 138v2m0 12v2m3-214v2m0 28v2m0 2v2m0 134v2m0 166v2m2-350v2m0 208v2m0 42v4m0 4v2m0 76v2m2-306v2m0 220v2m0 40v2"/>
<path stroke="#0020ff" stroke-width="3" d="M170.5 428v2m7-152v2m427-18v2m0 160v2m7-164v2m0 160v2m0 26v4m21-190v2m0 192v2m7-198v2m63 274v2m0 22v2m7-300v2m0 36v2m7 116v2m0 30v2m0 112v2m21-292v2m14 16v2m0 242v2m7-274v2m56 8v2m0 10v2m0 4v4m21 134v4m7-8v2"/>
<path stroke="#0030ff" stroke-width="1" d="M141.5 534v8m0 32v2m7-148v2m0 2v2m0 98v2m0 32v2m0 14v2m7-10v2m42-304v2m0 34v2m21 164v2m21-194v2m0 14v2m0 4v2m0 234v2m0 16v2m14-284v2m0 238v2m0 2v4m0 22v2m7 12v2m7-110v2m21-182v2m0 24v4m21 134v2m0 14v2m42 94v2m0 14v2m28-120v2m21-186v2m0 20v2m0 24v4m0 10v2m0 200v2m0 62v2m7-272v2m0 100v2m56-172v2m0 8v2m0 52v2m7-38v2m0 26v2m14 228v2m35-264v2m14 142v2m0 8v2m14-164v2m0 24v2m14 128v2m0 22v2m14 100v2m0 10v2m14-126v2m0 22v2m63-50v2m0 38v2m0 4v2m7-190v2m0 8v2m0 158v2m0 80v2m0 26v2m0 6v2m21-306v2m0 6v2m0 40v2m0 108v2m0 42v2m0 62v2m0 8v2m0 10v2m7-242v2m84 238v2m0 20v2m0 6v2m7-14v2m84-314v2m0 10v2m0 42v2m0 228v2m0 26v2m0 8v2m14-108v2m7-208v2m0 4v2m0 42v2m7 146v2m35 78v2m0 10v2m0 32v2m7-314v2m0 26v2m0 14v2m0 114v2m0 36v2m28-40v2m0 42v2m7 48v2m0 2v2m0 2v2m0 54v2"/>
<path stroke="#0030ff" stroke-width="2" d="M143 322v2m0 106v2m7 132v2m2-300v2m7 36v2m0 22v2m2-62v2m7 276v2m7 8v2m5-292v2m9 156v2m0 6v2m5 52v2m2-174v2m3-46v2m4 4v2m5-12v2m0 40v2m0 18v2m2-16v2m0 268v2m3-122v2m2-166v2m0 10v2m2-4v4m3 160v2m4-176v2m5 272v2m2-110v2m3-170v2m7 150v2m2 6v2m2 68v2m5-80v2m2-186v2m7 22v2m5-26v2m7 4v2m0 262v2m2 14v2m5-258v2m2 148v2m3 82v2m9-256v2m5-2v2m14 284v2m11-118v2m0 102v2m3-278v2m0 276v2m7-254v2m4 146v2m10-174v2m7 174v2m2-154v2m5-22v2m0 2v2m0 146v2m2 136v2m2-280v2m0 136v2m3 2v4m2-6v2m7 100v2m0 28v2m5-130v2m2-132v2m0 116v2m0 34v2m0 74v2m7-226v2m5 150v2m7-202v2m0 266v2m2-270v2m0 46v2m0 2v2m2 188v2m0 38v2m7-254v2m0 116v2m3 102v2m0 32v2m0 22v2m4-14v2m3-250v2m7 96v2m0 96v2m2-194v2m0 200v2m9-46v2m0 62v2m3-282v2m7-2v2m0 46v4m0 254v2m2-32v2m2-4v2m3-112v2m2-126v2m5-44v2m0 170v2m0 16v2m0 128v2m2-280v2m2 142v2m3-38v2m2 2v2m7-146v2m0 286v2m2-96v2m0 60v2m3 20v2m2 16v2m2-270v2m0 258v2m5-110v2m0 108v2m2-142v2m5-152v2m2 30v2m0 150v2m3-180v2m0 264v2m7-260v2m0 270v2m7-292v2m0 294v2m4-272v2m0 6v2m7-6v2m3 132v2m0 28v2m0 76v2m2-94v2m9-182v2m3 156v2m14 110v2m2-236v2m7 250v2m2-246v2m0 138v2m5-178v2m0 262v2m2-110v2m3-156v2m4 30v2m3-38v2m2 276v2m2-124v2m0 134v2m3-24v2m11-288v2m5 202v2m2-34v2m7-148v2m12-28v2m7 298v2m2-22v2m5-272v2m0 266v2m2-230v2m0 128v2m3-10v2m0 2v2m2-184v2m0 22v2m2-22v2m3 4v2m0 40v2m0 230v2m2-256v2m0 134v2m5 124v2m4-280v4m0 28v2m0 230v2m5-70v2m2-8v2m3-172v2m2-16v2m14 286v2m2-246v2m0 106v2m12 0v2m0 112v2m2-84v2m5-2v2m7-146v2m2-4v2m7 222v2m7-100v2m0 102v2m0 2v2m5-226v2m2 246v2m12-12v2m2-26v2m3-88v2m2-138v2m5 4v2m4-52v2m7 178v2m0 118v2m3-142v2m0 34v2m2 98v2m2-106v2m5 68v2m0 14v2m2-282v4m0 298v2m3-300v2m2 292v2m7-288v2m2 254v2m7-234v2m0 156v2m7 10v2m0 74v2m5-90v2m0 100v2m7-298v2m0 204v2m0 72v2m2 20v2m7-294v2m0 160v2m0 28v2m7-198v2m0 172v2m3-136v2m0 8v2m7 106v2m0 38v2m2-166v2m0 18v2m0 114v2m2 130v2m3-326v2m2 206v2m2-210v2m0 68v2m3-28v2m2-30v2m0 4v2m0 202v2m2-214v2m0 166v2m3-180v2m2 78v2m0 100v2m0 6v2m0 8v2m2-24v2m0 52v2m3-236v2m0 70v2m0 10v2m2-98v2m0 182v2m2-174v2m0 66v2m0 116v2m3 112v2m2-220v2m0 130v4m0 82v2m7-314v2m0 6v2m0 92v2m0 74v2m0 26v2m0 76v2m2-274v2m0 156v2m0 26v2m0 34v2m0 54v2m0 66v2m3-348v2m2 202v2m0 96v2m2-144v2m0 106v2m0 38v2m3-160v2m0 8v2m0 126v2m2-208v2m0 138v2m0 104v2m2-240v2m3-66v2m0 132v2m0 140v2m0 30v2m2-172v2m0 40v2m2 72v2m0 42v2m3-242v2m0 258v2m2-34v2m9-314v2m0 88v2m0 118v2m0 60v2m3-198v2m0 138v2m4-162v2m0 14v2m0 200v2m0 58v2m3-108v2m0 2v2m0 106v2m0 4v2m2-56v2m2-292v2m0 56v2m0 170v2m0 118v2m3-346v2m0 60v2m0 96v2m0 64v2m2-194v2m2 258v2m5-280v2m0 2v2m0 206v2m0 120v2m2-332v2m0 18v2m0 12v2m0 216v2m0 16v2m3-262v2m0 44v2m0 260v2m2-316v2m0 198v4m2-220v2m0 50v2"/>
<path stroke="#0030ff" stroke-width="3" d="M163.5 550v2m441-20v2m7 4v2m21-280v2m7 34v2m70 8v2m14 114v2m7 126v2m0 16v2m7-108v2m7-16v2m84-146v2m0 156v2m14-198v2m7-4v2m0 34v2m0 240v2"/>
<path stroke="#0040ff" stroke-width="1" d="M148.5 442v2m7 94v2m42-252v2m42 246v2m0 28v2m7-124v2m7-172v2m7 292v2m14-32v2m0 16v2m7-266v2m7-38v2m14 186v2m21-14v2m0 6v2m21 80v2m7 6v2m14-2v4m14-94v2m21-126v2m0 250v2m0 2v2m7-296v2m0 14v2m0 156v2m0 6v2m0 2v2m0 12v2m56-202v2m0 4v2m0 16v2m7-36v2m0 24v2m28 224v2m21-252v2m14 14v2m0 20v2m0 108v2m0 8v2m14-158v2m14 142v2m0 32v2m14 72v2m14-66v2m63-44v2m0 22v2m7 104v2m0 12v4m21-266v2m0 132v2m0 8v2m0 4v2m0 104v2m7-310v2m0 64v2m77 228v2m14 6v2m84-248v2m0 260v2m0 8v2m14-134v2m7-132v2m0 20v2m7 72v2m0 28v2m0 10v2m0 24v2m0 84v2m35-52v2m0 84v2m7-374v2m0 26v2m0 28v2m0 18v2m0 4v2m0 8v2m0 88v2m0 74v2m28-82v2m0 56v2m0 66v2m0 2v2m0 18v2m7-40v2"/>
<path stroke="#0040ff" stroke-width="2" d="M154 262v2m12 2v2m16-2v2m0 44v2m5-16v2m0 170v2m0 106v2m16-2v2m10-268v2m0 2v2m0 262v2m4-10v2m3-276v2m0 280v2m2-314v2m2 196v2m3-166v2m2 126v2m0 36v2m2 76v2m3-92v2m0 2v2m7 76v2m2-112v2m0 16v2m2-152v2m3 150v2m2-26v2m5-154v2m7 258v2m2-82v2m0 76v2m5-236v2m2 256v2m2-266v2m0 6v4m5-14v2m0 134v2m5-154v2m0 22v2m4 142v2m0 4v2m3-2v2m0 78v2m0 18v2m2-90v2m19-16v2m2-170v2m7 154v2m9-2v2m12-164v2m5 158v2m0 2v2m7-138v2m4 152v2m5-20v2m0 124v2m7-288v2m0 186v2m5-32v2m0 126v2m4-28v2m12-82v2m0 56v2m7-252v2m0 210v2m0 100v2m2-322v2m0 44v2m0 118v2m0 60v2m14-184v2m0 172v2m5 0v2m0 42v2m5-92v2m2-118v2m7 154v2m0 30v2m2-244v2m0 8v2m0 156v2m3 96v2m4-68v2m0 18v2m3 104v2m4-70v2m0 64v2m3-64v2m7-274v2m0 28v2m2 290v2m7-6v2m0 6v2m2-164v2m14-142v2m7 172v2m3-154v2m9 142v2m2-176v2m5 274v2m7-274v2m0 12v2m2-30v2m0 286v2m10-278v2m9 6v2m7 148v2m2 18v2m5 2v2m2-26v2m7 24v2m10 78v2m2-264v2m2 2v2m0 2v2m3 278v2m2-118v2m5-20v2m11 132v2m5-116v2m14 6v2m2-156v2m0 126v2m5-138v2m0 244v2m7-274v2m2 32v2m14 158v2m3-10v2m4-26v2m0 8v2m12 96v2m9-86v2m3-200v2m4 200v2m3-162v2m4 122v2m7-146v2m5 182v2m2-196v2m14 152v2m0 36v2m7 86v2m5-90v2m9-198v2m5 198v2m2 68v2m0 10v2m7-122v2m5 140v2m2-292v2m5 146v2m2 136v2m3-112v2m2 102v2m5-248v2m2 110v2m0 112v2m2-114v2m0 34v2m3-198v2m0 312v2m11-120v2m3 102v2m2-32v2m7-268v2m2 308v2m19-302v2m16 28v2m7-38v2m0 262v2m7-222v2m0 120v2m3-178v2m0 182v2m2-148v2m0 144v2m2 88v2m0 32v2m3-312v2m4 42v2m5 156v2m0 106v2m2-102v2m3-234v2m0 184v2m0 4v2m0 100v2m2-196v2m0 88v2m0 110v2m2-202v2m5-102v2m0 228v2m2 0v2m0 58v2m3-292v2m2 68v2m0 24v2m0 148v4m0 38v2m2-244v2m0 48v2m0 62v2m0 4v2m3-134v2m0 8v2m0 40v2m2 0v2m0 232v2m2-300v2m0 18v2m0 124v2m0 60v2m3-226v2m0 138v2m2 40v2m2 68v2m0 60v2m3-148v2m0 48v2m4-200v2m3-30v2m0 10v2m0 72v2m0 78v2m0 76v2m2-44v2m0 8v2m0 84v2m2-24v2m3-240v2m2 128v2m0 124v2m2-130v2m0 116v2m3-260v2m0 2v2m0 190v2m0 126v2m2-338v2m0 246v2m0 22v2m2 74v2m3-198v4m2 98v2m2-180v2m0 228v2m3-292v2m2 48v2m2 88v2m0 38v2m0 22v4m3 20v2m2-240v2m0 200v2m0 22v2m0 26v2m0 82v2m2-296v4m0 10v2m0 6v2m0 232v2m3-64v2m2 82v2m2-22v2m0 30v2m3-288v2m2 190v2m0 54v2m5-242v2m0 244v2m0 4v2m2 12v2m2-260v2"/>
<path stroke="#0040ff" stroke-width="3" d="M170.5 316v2m7 116v2m441-138v2m21-40v2m63 296v2m21-136v2m0 98v2m98-80v2m14-170v2m14 278v2"/>
<path stroke="#0050ff" stroke-width="1" d="M141.5 544v2m0 16v2m14-24v2m0 28v2m42-272v4m42-30v2m0 26v2m0 2v2m14 232v2m0 20v4m0 2v2m7 0v2m7-152v2m14-144v2m7 2v2m0 2v2m0 26v2m14 104v2m0 12v2m7-10v2m35 104v2m0 30v2m21-22v2m14-104v2m21-198v2m0 8v2m0 248v2m0 26v2m7-80v2m56-200v2m7-2v2m0 10v2m28 246v2m0 20v2m35-240v2m0 122v2m14-162v2m0 22v2m14 122v2m0 12v2m14 108v2m0 26v2m70-28v2m7-108v2m7-144v2m21-42v2m0 26v2m0 166v2m0 110v2m7-258v2m84 212v2m7 24v2m0 8v2m84-306v2m0 48v2m0 268v2m0 8v2m21-322v2m0 42v6m7 130v2m0 6v2m0 6v2m0 28v2m0 24v2m0 14v4m0 2v2m0 12v2m0 36v2m28-180v2m0 32v2m7 118v2m7-320v2m0 26v2m0 6v2m0 4v2m0 58v2m0 78v2m0 48v2m28-54v2m0 24v2m0 4v2m0 62v2m0 10v2m0 24v2m0 40v2m7-90v2m0 62v2"/>
<path stroke="#0050ff" stroke-width="2" d="M143 468v2m4-158v2m5-52v2m2 304v2m5-100v2m0 90v2m9-256v2m7 4v2m5-46v2m14-4v2m5 196v2m7 118v2m4-318v2m3 304v2m2-28v2m7-280v2m16 288v2m3-262v2m0 148v2m2 0v2m7-182v2m5 154v2m2-154v2m7 14v2m5 260v2m2-132v2m2-4v2m3 108v2m4-4v4m5 22v2m12-26v2m2-256v2m7 16v2m0 262v2m5-6v2m2-132v2m7-164v2m5 0v2m0 266v2m7-266v2m0 172v2m7-166v2m9 12v2m12 0v2m2 262v2m7-266v2m5 4v2m2 150v2m7 70v2m2-234v2m5 162v2m2-152v2m3 150v2m2-150v2m0 154v2m5-56v2m2 160v2m5-254v2m0 192v2m0 6v2m2 48v2m2-62v2m0 58v2m3-314v2m2 56v2m2 204v2m0 46v2m7-70v2m3-206v2m4-50v2m5 26v2m7 16v2m0 256v2m5-4v2m2-102v4m5 52v2m4-92v2m3 140v2m2-122v2m5-6v2m2-162v2m5 278v2m2-296v2m7 0v2m0 282v2m9-4v2m3-266v2m4 238v2m3-230v2m2 118v2m9 24v2m12 90v2m7-122v2m2 8v2m5 20v2m0 86v2m7-272v2m5 26v2m7-34v2m2 154v2m2 4v2m3 132v2m7-30v2m2 6v2m5-242v2m7-26v2m2-20v2m2 0v2m0 180v2m3-186v2m0 166v2m2 18v2m21 8v2m2-42v2m0 8v2m0 2v2m0 130v2m12-310v2m16 12v4m0 282v2m5-130v2m5-142v2m4-20v2m0 258v2m3-262v2m0 160v2m2 102v2m5-124v2m0 14v2m2-174v2m9 38v4m0 130v2m3-158v2m4 18v2m0 246v2m7-78v2m7-40v2m7-128v2m12 2v2m0 260v2m7-32v2m0 22v2m7-36v2m2-66v2m14-204v2m0 296v2m7-30v2m3 22v2m7-146v2m4 10v2m5 130v2m5-264v2m0 258v2m2-298v2m0 156v2m5-102v2m4 140v2m3-196v2m4 26v2m0 8v2m7 258v2m5-112v2m7-10v2m21 114v2m7-252v2m2 164v2m3-206v2m4 40v2m3 220v2m7-72v2m2-214v2m2 164v2m0 52v2m3-56v2m2-110v2m2 130v2m0 128v2m3-348v2m0 184v2m0 158v2m4-108v2m5 0v2m0 52v2m0 50v2m2-130v2m0 128v2m3-332v2m0 46v2m0 264v2m0 22v2m2-346v2m0 92v2m0 76v2m0 12v2m0 110v2m2-290v2m0 160v2m3 54v2m2-192v2m0 156v2m2-112v2m0 82v2m3-12v2m2-88v2m0 180v2m0 24v2m2 34v2m3-244v2m0 16v2m0 88v2m0 116v2m2 18v2m2-26v2m0 44v2m3-174v2m0 38v2m2-138v2m0 102v2m0 6v2m2-10v2m0 8v2m5 88v2m2-242v2m3-2v2m0 258v2m0 44v2m2-102v2m5-204v2m2-32v2m0 318v2m2-276v2m0 294v2m5-344v2m0 46v2m2 4v2m0 212v2m0 26v2m0 12v2m3-256v2m0 156v2m0 98v2m0 6v2m2-172v2m0 46v2m5 126v2m2-182v2m0 52v2m2-154v2m0 248v2m3-300v2m0 182v2m0 166v2m2-306v2m0 2v2m0 288v2m2-4v2"/>
<path stroke="#0050ff" stroke-width="3" d="M163.5 256v2m14 204v2m140-40v2m70 108v2m217-86v2m14-24v2m14-176v2m7 158v2m56 40v2m0 104v2m7-266v2m14 248v2m28 16v2m7-296v2m0 262v2m7-6v2m63-240v2m0 168v2m14-10v2m0 70v2m7-260v2"/>
<path stroke="#0060ff" stroke-width="1" d="M141.5 554v2m14 26v2m84-30v2m14-288v2m0 8v2m0 6v2m28-8v2m7 14v2m14 150v2m7-20v2m35 108v2m0 10v2m35-116v2m21-172v2m0 58v2m0 210v2m0 32v4m7-302v2m0 164v2m0 30v2m0 6v2m56-162v2m7-26v2m14 224v2m0 48v2m14-12v2m21-298v2m14 20v6m0 146v2m0 16v2m28-28v4m14 132v2m14-126v2m0 2v2m63-42v2m7 8v2m0 128v2m0 16v2m21-292v2m0 282v2m7-276v2m0 28v2m77 226v2m0 2v2m0 6v2m0 4v2m0 6v2m7-54v2m0 48v2m0 8v2m7-48v2m84 0v2m21-262v2m0 14v2m0 36v2m7 118v2m35 82v2m0 24v2m7-308v2m0 8v2m28 168v2m0 48v2m0 38v2m0 84v2m7-14v2"/>
<path stroke="#0060ff" stroke-width="2" d="M145 316v2m0 118v2m2 132v2m3-104v2m0 98v2m2-16v2m2-288v2m0 164v2m7 112v2m7 12v2m19-126v2m14 110v2m9-82v2m12-162v2m2 152v2m0 84v2m5-258v2m7-20v2m2-6v2m5 36v2m14 132v2m5-24v2m4 134v2m3-30v2m4 8v2m5-90v2m16-192v2m19 282v2m7 10v2m5-108v2m2-8v2m5-152v2m14-28v2m9 38v2m0 134v2m0 90v2m7-264v2m12 284v2m2-140v2m0 28v2m2-184v2m0 308v2m7-20v2m7-42v2m0 46v2m12-56v2m14-54v2m2-48v2m0 92v2m10-46v2m2-44v2m5 32v2m0 106v2m11-8v2m5-102v2m5 98v2m2-150v2m0 140v2m2-256v2m0 144v2m3-154v2m0 166v2m0 50v2m4 30v2m3-254v2m4 152v2m5 104v2m5-288v2m14 172v2m0 96v2m2-258v2m7 264v2m0 2v2m2-136v2m12-8v2m14-148v2m5 20v2m7 162v2m4 102v2m12-26v2m9-88v2m10 92v2m4-100v2m3 4v2m0 82v2m7-8v2m2-268v2m7 290v2m16-302v2m14-4v2m5 178v2m14-180v2m7 32v2m9 240v2m3-272v2m9 160v2m9-126v2m5 152v2m9 4v2m5 102v2m2-38v2m0 34v2m7-146v2m5-168v2m2 8v2m0 26v2m12 128v2m0 4v2m0 106v2m2-124v2m0 146v2m21-268v2m3-38v2m14 160v2m2 144v2m2-278v2m3-32v2m0 302v2m4-30v2m19-114v2m2-132v2m7 262v2m19-258v2m0 152v2m2-156v2m0 234v2m5-112v2m2 100v2m0 30v2m7-258v2m0 152v2m0 102v2m5-252v2m2-34v2m3 252v2m0 26v2m7-130v2m7-202v2m0 284v2m2-246v2m0 46v2m2-90v2m3-6v2m0 20v2m0 60v2m0 250v2m2-334v2m0 28v2m0 6v2m0 274v2m2-246v2m0 106v2m3-90v2m2 2v2m2-56v2m0 38v2m5 88v2m2-174v2m0 80v2m0 266v2m3-256v2m0 100v2m0 12v2m2-42v2m2-172v2m0 302v2m0 36v2m3-340v2m0 66v2m0 16v2m0 270v2m2-338v2m0 10v2m0 206v2m0 48v2m0 20v2m2-320v2m0 90v2m0 104v2m0 74v2m0 30v2m3-210v2m0 174v2m0 8v2m2-206v2m0 268v2m2-332v2m0 170v2m3 94v2m0 68v2m2-10v2m2-336v2m0 260v2m0 14v2m0 42v2m3-344v2m2 30v2m0 144v2m0 12v2m0 136v2m2-168v2m0 108v2m3-244v2m2 212v2m2 30v2m3-260v2m0 192v2m0 68v2m2-192v2m0 114v2m0 136v4m2-146v2m0 20v2m3 60v2m0 14v2m0 34v2m0 12v2m0 4v2m2-266v2m0 82v2m0 34v2m2-192v2m0 304v2m3-312v2m0 214v2m0 2v2m2-176v2m0 94v2m0 136v2m2-278v2m0 190v2m0 134v2m3-292v2m0 282v2m2-332v2m0 26v2m0 32v2m0 156v2m2-20v2m0 136v2m3-308v2m0 288v2m0 6v2m2-308v2m0 18v2m2 18v2m0 140v2"/>
<path stroke="#0060ff" stroke-width="3" d="M191.5 304v2m420-10v2m0 258v2m21-260v2m0 236v2m77-106v2m42 34v2m7 54v2m0 16v2m56-22v2m0 44v2m21-272v2m7-32v2m7 0v2"/>
<path stroke="#0070ff" stroke-width="1" d="M148.5 426v2m0 26v2m0 102v2m0 18v2m7-12v2m0 6v2m91-138v2m7-148v2m14 158v4m7 82v2m7-270v2m0 20v2m7-6v2m21 152v2m35 120v2m7-14v2m14-8v2m14-92v2m21 102v2m0 22v2m7-272v2m56-68v2m0 66v2m21 206v2m14-252v2m0 280v2m35-278v2m0 152v2m14-160v2m0 6v4m28 282v2m70-16v2m14-266v2m21-20v2m0 4v2m0 6v2m7 2v2m0 2v2m0 16v2m77 210v2m7 54v2m91-272v2m0 226v2m56-84v2m7 102v2m0 38v2m7-364v2m0 162v2m0 14v2m0 62v4m28-84v2m0 12v2m0 18v2m7 136v2m0 22v2"/>
<path stroke="#0070ff" stroke-width="2" d="M145 468v2m7-154v2m2 4v2m7 244v2m7-98v2m12 92v2m7-250v2m0 256v2m2-268v2m7 242v2m5-124v2m2 116v2m26-250v2m5-12v2m7 252v2m0 18v4m2 2v2m5-6v2m2-6v2m2-10v2m7-130v2m3-132v2m2 148v2m5 104v2m2 4v2m7-264v2m2 260v2m3-268v2m2 2v2m2 0v2m14 232v2m5-266v2m2 168v2m3-16v2m0 26v2m37-184v2m0 166v2m2 118v2m3-138v2m0 28v2m11 78v2m12-254v2m0 168v2m0 12v2m2-34v2m0 88v2m3 4v2m2-74v2m0 52v2m0 18v2m2-12v2m0 16v2m0 24v2m5 10v4m14-320v2m0 142v2m0 16v2m2-112v2m3 264v2m2 4v2m2-154v2m3-12v2m2-14v2m0 100v2m0 8v2m7-268v2m0 266v2m7-10v2m0 4v2m7-10v2m2 72v2m17-134v2m7-4v2m9-152v2m5 106v2m0 2v2m0 34v2m4 98v2m10-136v2m2 106v2m0 30v2m5-114v2m9 2v2m5 0v2m7 102v2m7-24v2m7-114v2m16-160v2m0 292v2m2-136v2m0 130v2m3-136v2m0 26v2m2-182v2m14 266v2m12-14v2m14 4v2m16 18v2m7-306v2m0 302v2m2-294v2m0 10v2m12-16v2m9 190v2m0 84v2m3-90v2m2 110v2m7-312v2m14 170v2m14-146v2m14 172v2m2 8v2m12-26v2m2-2v2m0 90v2m0 28v2m7-300v2m12 154v2m0 108v2m9-106v2m0 28v2m5 74v2m0 26v2m0 4v2m2-12v2m0 12v2m17-112v2m2 78v2m2-8v2m5-232v2m0 234v2m7-70v2m2 60v2m0 6v2m5 14v2m7-308v2m0 170v2m0 128v2m2-106v2m5-192v2m14 6v2m9 164v2m0 132v2m12-108v2m7-176v2m7-18v2m0 36v2m0 114v2m5-110v2m0 2v2m2 118v2m2 24v2m0 98v2m5-256v2m0 122v2m2-184v2m3 280v2m2-288v2m0 12v2m2 158v2m5-140v2m2-4v2m0 286v2m5-330v2m0 14v2m2 178v2m0 106v2m3-80v2m2-224v2m0 338v2m2-36v2m3-314v2m0 20v2m0 164v2m2-170v2m0 2v2m0 312v2m2-336v2m0 172v2m0 12v2m0 158v2m3-346v2m2 76v2m2 148v2m0 68v2m0 38v2m3-10v2m2-178v2m0 120v2m2-52v2m5 42v2m0 8v2m0 4v2m0 48v2m2-162v2m0 110v2m3-122v2m0 18v2m4-116v2m0 10v2m3-94v2m0 292v2m2-288v2m0 166v2m2-90v2m3-18v2m2 160v2m2-72v2m0 10v2m3-162v2m0 218v2m0 76v2m2-252v2m0 96v2m0 82v2m2-80v4m0 138v2m0 6v2m3-50v2m2 72v2m2-266v2m3-40v2m0 296v2m2-180v2m2 170v2m3-6v2m7-316v2m0 284v2m2-250v2m0 150v4m2 56v2m0 32v2"/>
<path stroke="#0070ff" stroke-width="3" d="M163.5 568v2m28-28v2m0 32v2m126-280v2m70 8v2m0 212v2m231-70v2m77 78v2m28-74v4m28 54v2m70-90v2m21-172v2m0 298v2m7-278v2m0 172v2m0 72v2"/>
<path stroke="#0080ff" stroke-width="1" d="M148.5 564v2m7-12v2m42-280v2m0 18v2m0 6v2m7 242v2m14-92v2m21 104v2m0 2v2m14-278v2m0 6v2m7 226v2m0 6v2m14-4v2m0 32v2m77-26v2m49 18v2m7-310v2m56 2v2m0 36v2m7-46v2m0 4v2m14 292v2m14-2v2m21-270v2m14-14v4m0 20v2m42 234v2m70-10v2m14-280v2m0 36v2m0 20v2m0 142v2m0 72v2m0 28v2m21-104v2m0 80v2m91-2v2m91-264v2m21-18v2m0 42v2m7 122v2m28-22v2m0 64v2m0 4v2m7 18v2m0 72v2m7-126v2m0 20v2m28-30v2m0 32v2m0 30v2m0 28v2m0 62v2m7-68v2"/>
<path stroke="#0080ff" stroke-width="2" d="M143 462v2m7-12v2m0 10v2m0 100v2m9 0v2m14-310v2m35 214v2m2-48v2m17-2v2m2-136v2m7-10v2m0 160v2m2-154v2m5 236v2m7-240v2m0 252v2m2-126v2m0 130v2m3-112v2m7-28v2m9 106v2m2 22v2m3 4v2m4-288v2m0 170v2m3-140v2m4 136v2m7-156v2m3 258v2m11-266v2m3-24v2m0 176v2m9 86v2m0 2v2m5-244v2m4 256v2m12-120v2m2-162v2m7 22v2m5 134v2m9-10v2m3-146v2m4-8v2m0 258v2m3-80v2m11 64v2m21 62v2m5-332v2m0 280v2m2 26v2m3-156v2m9-98v2m0 94v2m5 0v2m0 156v2m2-320v2m5 4v2m0 40v2m0 124v2m2 36v2m0 100v2m7-158v2m0 120v2m2-72v2m3-46v2m2-12v2m0 32v2m12-42v2m0 60v2m4-54v2m3-2v2m2 50v2m2 90v2m0 4v2m3-296v2m2 188v2m7-160v2m0 144v2m9-154v2m0 254v2m10-294v2m2 154v2m2 22v2m0 86v2m3-244v2m0 130v2m4-152v2m0 24v2m3-24v2m0 148v2m9-132v2m0 152v2m9-28v2m7 130v2m3-128v2m0 18v2m2-154v2m7 152v2m9-160v2m5 238v2m5-88v2m16-150v2m7 262v2m2-272v2m0 248v2m5-292v2m2 6v2m21 8v2m7-4v2m5 158v2m2-4v2m0 102v2m12-236v2m2 146v2m0 90v2m3 18v2m2-96v2m14 78v2m12-118v2m9 0v2m14 132v2m2-28v4m7-288v2m5 204v2m7-202v2m0 6v2m9-12v2m7 4v2m7 0v2m7-4v2m5-10v2m5 198v2m2-148v2m0 146v2m0 100v2m5-252v2m2 146v2m5-170v2m0 246v2m7-76v2m9-164v2m2 4v2m7 4v2m12 118v2m2-136v2m12-26v2m0 264v2m7 24v2m2-264v2m5 122v2m2-152v2m12 152v2m2-168v2m0 46v2m0 10v2m0 210v2m3-116v2m2-100v2m2 212v2m5-302v2m2 6v2m0 214v2m5-140v2m5 206v2m2-216v2m5-96v2m2 96v2m0 94v2m2-4v2m3-8v2m2-82v2m2-96v2m3 12v2m0 18v2m2 270v2m5-286v2m0 240v2m2-256v2m0 12v2m2-16v2m0 152v2m3 176v2m2-316v2m0 54v2m5 102v2m0 8v2m0 160v2m2-342v2m0 248v2m2 42v2m0 24v4m0 10v2m3-274v2m0 6v2m0 186v2m0 72v2m2-328v2m0 52v2m0 204v2m0 64v2m5-180v2m2 8v2m0 44v2m0 12v2m2-66v2m3 74v2m0 72v2m2-160v2m0 104v2m0 38v2m2-298v2m0 50v2m0 164v2m0 38v2m0 56v2m3-22v2m2-82v2m0 34v2m2-234v2m3 8v2m0 182v2m0 106v2m2-256v2m0 244v2m2-332v2m0 16v2m3 312v2m2-286v2m0 10v2m2 152v2m0 28v2m0 100v2"/>
<path stroke="#0080ff" stroke-width="3" d="M177.5 460v2m0 12v2m210-174v2m0 252v2m0 12v2m217-26v2m14-294v2m0 8v2m7 270v2m0 24v2m70-262v2m14-54v2m7 210v2m7-4v2m7-200v2m0 32v2m7 236v2m14-232v2m0 224v2m56-236v2m0 164v2m21 82v2m7 18v2m7-284v2m0 258v2m0 12v2m7-138v2"/>
<path stroke="#008fff" stroke-width="1" d="M141.5 586v2m77-152v2m21-174v2m0 34v2m7 144v2m7 118v2m28-304v2m21 164v2m42 138v2m21-36v2m35-272v2m0 242v2m7-92v2m0 54v2m56-168v2m35-54v2m0 44v2m0 244v2m63-108v2m14 110v2m70-22v2m7-122v2m0 10v2m7 6v2m21-178v2m0 196v2m7-176v2m77 252v2m14 16v2m84-34v2m14-94v2m0 2v2m7-182v2m7 212v2m0 84v2m0 6v2m42-254v2m0 28v2m0 138v2m28-80v2m0 158v2"/>
<path stroke="#008fff" stroke-width="2" d="M145 548v2m9-240v2m5 0v2m9 112v2m7 134v2m7-86v2m5-164v2m9 254v2m10-82v2m9-26v2m2-200v2m12 2v2m2 306v2m12-304v2m2 164v2m10-174v2m0 144v2m0 20v2m0 82v2m18-236v2m0 134v2m3-6v2m9-136v2m0 272v2m7-120v2m2-4v2m3-150v2m2-8v2m2-18v2m0 2v2m0 18v2m3 140v2m4-16v2m3-132v2m0 258v2m21-104v2m2 80v2m2-108v2m7 122v2m7-108v2m5-176v2m2 162v2m5-168v2m7 254v2m5-244v2m2 286v2m5-52v2m9-100v2m0 140v2m5-302v2m0 298v4m2 12v2m9-160v2m5 154v2m5-172v2m0 156v2m2-146v2m2-114v2m0 154v2m3-212v4m2 150v2m0 62v2m5 94v2m18-4v2m3-316v2m4 206v2m3-8v2m2-168v2m2-40v2m0 32v2m0 268v2m5-2v2m7-262v2m5 150v2m0 100v2m2-298v2m2 26v2m3 254v2m2-254v2m0 120v2m5 28v2m0 114v2m2-8v2m2-26v2m10-82v2m14-30v2m0 20v2m4 6v2m5-152v2m2-12v2m5 6v2m2 128v2m5-154v2m2 26v2m3 126v2m14 106v2m30-278v2m2 190v2m5-6v2m2-148v2m0 144v2m5 76v2m7-242v2m0 2v2m0 4v2m2-34v2m5-12v2m7 266v2m7-258v2m0 156v2m9-6v2m10-156v2m7 0v2m0 286v2m2-106v2m2-30v2m3-164v2m9 28v2m9-30v2m3 182v2m9 88v2m2-246v2m5 234v2m14 30v2m2-38v2m21-10v2m12 14v2m9-224v2m0 110v2m0 18v2m3 8v2m4-204v2m3 48v2m2 166v2m5-204v2m0 146v2m0 134v2m7-286v2m7 148v2m0 30v2m0 6v2m2-192v2m0 188v2m2-40v2m3-132v2m4 242v2m0 12v2m5-252v2m2 122v4m7 26v2m5-8v2m16-180v2m0 184v2m0 100v2m5-16v2m12-300v2m0 40v2m0 148v2m0 18v2m2-194v2m0 264v2m2-254v2m7 158v4m3-130v2m2-56v2m0 170v2m0 36v2m5-214v2m0 60v2m2-12v2m5 106v2m2-164v2m2 226v2m3-78v2m0 70v2m0 46v2m2-82v2m0 122v2m2-164v2m3-182v2m0 86v4m0 12v2m0 64v2m0 118v2m0 12v2m2-86v2m2-196v2m3 262v2m2-8v2m0 8v2m2-78v2m0 74v2m0 2v2m0 24v2m3-218v2m0 92v2m0 30v2m0 6v2m0 66v2m0 22v2m2-328v2m2 4v2m0 276v2m0 68v2m3-272v2m0 116v2m0 2v2m0 140v2m2-142v2m2-204v2m0 88v2m3 138v2m2-224v2m2 6v2m0 264v2m3-210v2m0 18v2m0 134v2m2-220v2m0 152v2m0 162v2m2-336v2m0 88v2m0 94v2m3-118v2m0 148v2m2 92v2m2 42v2m3-16v2m2-250v2m2-52v2m3 18v2m0 112v2m0 24v2m2 26v2m0 114v2m2-52v2m0 8v2m3 2v2m0 2v2m0 28v2m2-138v2m0 60v2m0 70v2m0 4v2m2-108v2m0 18v2m0 48v2m5-20v2m0 26v2m2-304v2m0 176v2m3-136v2m0 174v4m0 34v2m0 50v2m2-268v2m0 196v2m2-250v2m0 194v2"/>
<path stroke="#008fff" stroke-width="3" d="M163.5 316v2m21 258v2m133-302v2m70 254v2m224-104v2m91 134v2m14-110v2m14 86v2m7-12v2m14-116v2m91-152v2m0 34v2"/>
<path stroke="#009fff" stroke-width="1" d="M141.5 552v2m7-24v2m49-212v2m147 216v2m63-232v2m0 96v2m63-156v2m28 298v2m21-274v2m42 156v2m0 26v2m98-172v2m21 244v2m182-284v4m0 318v2m14-134v2m42-38v2m0 24v2m7 66v2m7-212v2m0 38v2m28 158v2m7 10v2m0 94v2"/>
<path stroke="#009fff" stroke-width="2" d="M143 274v2m9 288v2m9-246v2m5-54v4m21 302v2m2-260v2m5-48v2m0 204v2m5-166v2m7 226v2m0 36v2m4-268v2m10-14v2m2-32v2m0 320v2m2-126v2m3 102v2m0 14v2m7-314v2m0 152v2m7 16v2m7-154v2m0 148v2m0 112v2m11-24v2m10-112v2m7 20v2m14-176v2m2 12v2m2 266v2m19-130v2m7 104v2m2-4v2m3-6v2m28-104v2m2 24v2m2-26v2m12 4v2m2-156v2m5 278v2m5-138v2m0 158v2m2-144v2m0 76v2m14 6v2m5-2v2m2-110v2m0 50v2m9-60v4m0 120v2m3 20v2m2-4v2m5-22v2m9-72v2m2 48v2m3-262v2m2 162v2m2 104v2m7-68v2m12 106v2m2-162v2m0 98v2m5-94v2m7-160v2m0 294v2m2-114v2m3 98v2m2-256v2m14 270v2m2-270v2m12 114v2m0 120v2m2-244v2m5 0v2m0 12v2m0 108v2m0 26v2m7-156v2m0 264v2m9-290v2m0 158v2m0 14v2m7 112v2m5-266v2m0 264v2m5-6v2m2-14v2m7-118v2m5-158v2m4-8v2m3 26v2m9 236v2m2-272v2m3 190v2m11-6v2m0 84v2m14-280v2m14 276v2m5-276v2m21 290v2m5-314v2m2 286v2m5-260v2m2 12v2m0 136v2m2 106v2m3-242v2m0 2v2m11 148v2m7 108v2m5-106v2m2-186v2m14 144v2m7 10v2m7 6v2m7 30v2m0 94v2m5-22v2m2-6v2m14 18v2m5-260v2m9 256v2m3-18v2m4-114v2m3 128v2m4-270v2m0 162v2m10 104v2m9-298v2m0 50v2m7 104v2m2 28v2m5-166v2m0 174v2m2-176v2m0 166v2m7-36v2m0 128v2m5-284v2m0 16v2m2-4v2m19 170v2m0 68v2m2-270v2m0 164v2m5 6v2m0 100v2m2-286v2m0 12v2m3 266v2m7-86v2m2-198v2m0 180v2m0 20v2m2-176v2m0 28v2m0 144v2m0 66v2m5-278v2m5 64v2m0 86v2m2-134v2m0 138v2m0 2v2m2-150v2m0 148v2m3-156v2m2 204v2m2-72v2m0 114v2m3-212v2m0 268v2m4-314v2m0 10v2m0 272v2m3-140v2m2 62v2m2-132v2m0 168v2m0 22v2m3-292v2m0 206v2m7-206v2m0 280v2m0 34v2m2-320v2m0 322v4m5-40v2m2-308v2m0 184v2m0 58v2m2-50v2m5-130v2m0 146v2m0 12v2m0 46v2m5-218v2m0 156v2m2 44v2m0 26v2m2-276v2m0 48v2m0 116v2m3-184v2m0 274v2m0 4v2m2-240v2m0 12v2m0 24v2m0 222v2m0 14v2m5-262v2m0 136v2m0 28v2m2-26v2m0 14v2m0 70v2m2-230v2m0 198v4m3 64v2m4-134v2m0 86v2m3-84v2m2 20v2m0 76v2m2-90v2m0 52v2m3-104v2m0 10v2m0 32v2m0 88v2m2-304v2m0 184v2m7-188v2m2 152v2m0 152v4"/>
<path stroke="#009fff" stroke-width="3" d="M170.5 262v2m0 284v2m7-242v2m210 216v2m217-98v2m7-4v2m0 114v2m21-96v2m0 86v2m63 2v2m35-280v2m0 46v2m14 250v2m7-302v2m7-4v2m49 178v2m7-168v2m14-12v2m0 26v2m0 4v2m7 0v2"/>
<path stroke="#00afff" stroke-width="1" d="M155.5 552v2m91-134v2m7 126v2m21-26v2m35-104v2m0 4v2m14-2v2m42 128v2m0 8v2m35-14v2m119-246v2m14 134v2m112 102v2m14-108v2m112 76v2m7 10v2m0 24v2m0 6v2m84-280v2m14 174v2m7-146v2m7 82v2m0 158v2m42-324v2m0 164v2m0 80v2m28 6v2m0 30v2m0 58v2"/>
<path stroke="#00afff" stroke-width="2" d="M143 548v2m2-242v2m0 120v2m5 30v2m0 110v2m11-6v2m12-98v2m2-210v2m14 162v2m12 46v2m2-210v2m5 298v2m2-256v2m7 154v2m3-206v2m2 296v2m2-86v2m26-208v2m5 170v2m2 102v2m2-22v2m3-242v2m4 0v2m5 260v2m2-112v2m3 82v2m7-88v2m2-154v2m0 150v2m2-156v2m5 158v2m2-12v2m3-2v2m7-150v2m11-16v2m14 146v2m5 104v2m0 18v2m2 6v2m3-4v2m2-4v2m0 2v2m12-132v2m4-124v2m3-16v2m4 158v2m3 0v2m0 68v2m2 32v2m5-22v2m4-260v2m3 146v2m0 10v2m0 122v2m4-106v2m7 80v2m5-122v2m0 142v2m2 4v2m3-316v2m0 204v2m2-26v2m0 138v2m2-120v4m0 4v2m0 48v2m3 58v2m2-28v2m5-24v2m0 8v2m0 30v2m2-52v2m2 6v2m5 26v2m0 18v2m5-324v2m2 310v2m2-34v2m5-16v2m0 42v2m0 4v2m2-114v2m0 58v2m3-216v2m4 4v2m5 104v2m0 94v2m0 46v2m2-6v2m3-50v2m2-92v2m2-160v2m0 150v2m3 34v2m2-48v2m0 48v2m2 68v2m3-110v4m4-158v2m3-6v2m0 296v2m2-272v2m2 120v2m0 146v2m3-120v2m0 110v2m4-28v2m7-254v2m3 278v2m7-12v2m14 4v2m4-278v2m7 256v2m10 24v2m2-264v2m2 134v2m5-164v2m5 22v2m4 152v2m10 0v2m2-4v4m2 92v4m3-122v2m11 2v2m3-168v2m11 266v2m0 24v2m7-284v2m5-10v2m0 288v2m2-272v2m0 2v2m5 224v2m7-274v2m0 28v2m14-20v2m5 170v2m9 18v2m2 12v2m12-170v2m0 128v2m5-130v2m0 148v2m2-158v2m0 130v2m7 2v2m2-162v2m12 294v2m2-140v2m5 138v2m14-28v2m7-4v2m2 28v2m5-36v2m16-82v2m5-140v2m0 240v2m2-24v2m0 14v2m0 10v2m10-264v2m7-32v2m0 16v2m0 264v2m4-114v2m5-138v2m7 226v2m2-234v2m0 118v2m14-122v2m5-30v2m23 284v2m5-280v2m0 274v2m2-294v2m0 286v2m5-256v2m2-30v2m5 180v2m2-196v2m0 12v2m0 260v2m7-234v2m0 124v2m0 30v2m3-34v2m2-174v2m0 2v2m2 274v2m3-282v2m0 58v2m0 114v2m0 90v2m2-290v2m2 216v2m10-234v2m0 34v2m0 2v2m0 14v4m0 46v2m0 200v2m4-290v2m0 6v2m0 4v2m0 70v2m0 146v2m3-246v2m0 184v2m0 152v4m2-306v2m0 174v2m0 94v2m0 10v2m2-234v2m0 104v2m0 46v2m3-60v2m0 50v2m0 114v2m2-324v2m0 162v2m0 110v2m0 42v2m2-146v2m0 4v2m0 18v2m3-148v2m0 70v2m0 86v2m0 22v2m0 80v2m4-84v2m3-264v2m2 70v2m0 152v2m2-236v2m0 302v2m3-220v2m0 122v2m2-186v2m0 52v2m0 98v2m2-150v2m0 150v2m0 18v2m0 78v2m0 6v2m3-290v2m0 2v2m0 42v2m0 32v2m0 76v2m2-148v2m0 72v2m0 104v2m0 150v2m2-164v2m0 10v2m0 14v2m3 70v2m0 44v2m2-168v2m0 188v2m2-350v2m0 282v2m0 42v2m3-340v2m0 172v2m2 10v2m0 36v2m0 16v2m2-58v2m0 126v2m0 34v2m3-270v2m0 162v2m0 70v2m0 34v2m2-298v2m0 126v2m0 62v2m2-228v2m0 44v2m0 266v2m7-106v2m0 98v2m0 6v2m3-136v2m0 20v2m2-26v2m0 12v2m0 2v2m0 44v2m0 56v2m0 12v2m2-144v2m3-174v2m0 10v2m0 30v2m0 236v4m2-240v2m0 6v2m0 192v2m0 42v2m2-300v2m0 16v2m0 240v2m0 66v2m3-128v2m0 74v2m2-222v2m0 218v2m0 10v2m0 36v2m2-260v2m0 148v2m0 88v2m0 6v2"/>
<path stroke="#00afff" stroke-width="3" d="M163.5 464v2m7 98v2m7-14v2m441-124v2m0 24v2m21-188v2m84-8v2m7 162v2m7-12v2m14-110v2m0 250v2m56-292v2m35 8v2m7-10v2m0 260v2"/>
<path stroke="#00bfff" stroke-width="1" d="M274.5 530v2m49-106v2m0 24v2m84-156v2m56-56v2m0 58v2m196 126v2m112 106v2m105-94v2m14 8v2m35 72v2m7-124v2"/>
<path stroke="#00bfff" stroke-width="2" d="M143 314v2m2 250v2m7-286v2m0 30v2m9 142v2m12-148v2m0 240v2m16-88v2m5-152v2m2-14v2m12 268v2m2-100v2m0 98v2m3-92v2m21-36v2m2 88v2m5-258v2m2 160v2m2-24v2m3 22v2m0 82v2m2-272v2m5 2v2m0 258v2m4-84v2m5-174v2m2 20v2m5 252v2m5-284v2m2 258v2m2-10v2m10-76v2m2-154v2m7 150v2m5-156v2m2 240v4m2-246v2m3-32v2m4 288v2m5-278v2m2 152v2m10 4v2m4-166v2m0 8v2m3 270v2m4 2v2m7-112v2m3-176v2m0 258v2m2 24v2m2-284v2m0 18v2m21 226v2m3-270v2m2 292v2m2-126v2m0 98v2m5 12v2m2-122v2m0 10v2m0 84v2m0 6v2m3-10v2m0 34v2m0 22v2m2-10v2m2-34v2m0 24v2m3-4v2m2-264v2m2-38v2m0 198v2m0 64v2m3-280v2m0 4v2m0 168v2m0 34v2m0 44v2m2 4v2m5-266v2m2 278v2m5-268v2m4 244v2m0 56v2m3-56v2m2 40v2m2-96v2m3-218v2m2 218v2m5-172v2m0 232v2m0 22v2m4-110v2m0 86v2m0 32v2m3-288v2m2 168v2m0 62v2m7-72v2m0 70v2m2 12v2m0 22v2m5-142v2m2 138v2m3-34v2m2-266v2m0 148v2m2 156v2m7-286v2m0 158v2m0 66v2m0 32v2m3-118v2m14 14v2m4-158v2m0 256v2m3-138v2m2 30v2m5-160v2m2-2v2m0 252v2m5-256v2m7-16v2m4 20v2m7 130v2m3 128v2m4-290v2m14-12v2m12 28v2m16 242v2m5-268v2m0 268v2m2-4v2m3-278v2m0 166v2m2-176v2m0 18v2m0 8v2m0 4v2m14 156v2m2-194v2m0 26v2m12 248v2m2-272v2m0 270v2m5-248v2m0 134v2m0 106v2m16-124v2m0 120v2m7-278v2m7 162v2m3 104v2m2-86v2m0 10v2m2-166v2m3 238v2m0 20v2m2-284v2m9 150v2m3-160v4m2 156v2m2-160v2m0 266v2m0 14v2m5-262v2m14-34v2m7 294v2m7-28v2m9-118v2m7-122v2m12 234v2m2-240v2m0 132v2m0 4v2m10-16v2m2-162v2m2 26v2m0 246v2m0 24v2m3-304v2m2 182v2m7-24v2m0 24v2m2-160v2m5 160v2m0 78v2m5 30v2m2-136v2m0 8v2m2-152v2m0 154v2m3-24v2m2-128v2m2 254v2m5-286v2m0 24v2m0 150v2m0 106v2m14-106v2m7-2v2m2 112v2m5-152v2m2-162v2m5 282v2m9-294v2m0 286v2m3-254v2m0 246v2m2 4v2m0 6v2m2-266v2m0 276v2m5-300v2m2-2v2m0 22v2m0 146v2m3-126v2m0 246v2m2-286v2m0 6v2m0 158v2m5-182v2m0 22v2m0 42v2m0 92v2m2-138v2m0 178v2m2-198v2m3-26v2m0 18v2m0 52v2m0 108v2m0 32v2m0 8v2m0 2v2m2-236v2m0 6v2m0 68v2m2-78v2m0 62v2m0 228v2m3-242v2m0 110v2m0 28v2m2-204v2m0 68v2m0 224v2m2-278v2m0 208v2m3-198v2m0 36v4m0 4v2m0 206v2m0 12v2m2-34v2m0 70v2m2-346v2m0 288v2m3-232v2m0 44v2m2-108v2m0 10v2m0 50v2m0 14v2m0 150v2m2-210v2m0 160v2m0 68v2m0 38v2m3-280v2m0 254v2m0 2v2m2-248v2m2-40v2m3 30v2m0 164v2m4 156v2m5-324v2m0 34v2m0 280v2m2-154v2m0 84v2m0 24v2m3-140v2m0 196v2m2-184v2m2-100v2m0 148v2m0 116v2m3-344v2m2 70v2m0 96v2m0 22v2m2 2v2m0 18v2m0 6v2m3 82v2m0 38v2m2-162v2m2-162v2m0 176v2m0 22v2m3-42v2m0 150v2m2-14v2m2-70v2m0 2v2m0 40v2m3-244v2m0 270v2m2-140v2m0 12v2m0 22v2m2-78v2m3-120v2m2 2v2m0 130v2m0 30v2m0 4v2m0 98v2m2-282v2m0 114v2m3-100v2m0 2v2m0 128v2m2 12v2m0 10v2m0 48v2m2 40v2"/>
<path stroke="#00bfff" stroke-width="3" d="M177.5 548v2m140-110v2m0 108v2m0 8v2m70-302v2m217 164v2m7-170v2m0 174v2m14-176v2m0 12v2m70 22v2m21 232v2m14-230v2m28-46v2m0 8v2m0 32v2m49-44v2m7 200v2m0 66v2m28-96v2m0 20v2"/>
<path stroke="#00cfff" stroke-width="1" d="M246.5 458v2m21-36v2m21-162v2m77 298v2m35-306v2m98 266v2m91-66v2m91-212v2m238 224v2m14-216v2m0 174v2m28 18v2"/>
<path stroke="#00cfff" stroke-width="2" d="M143 270v2m9 4v2m0 30v2m0 132v2m9 22v2m5 86v2m7-8v2m2-228v2m7-52v2m5 0v2m2 206v2m5-12v2m9-176v2m3 164v2m4-206v2m5 58v2m0 104v2m0 156v2m5-126v2m2-166v2m0 136v2m0 134v2m2-114v2m3-190v2m2 6v2m0 296v2m7-38v2m2-246v2m0 128v2m7 108v2m14 18v2m3-24v2m7-110v2m7 0v2m2-4v2m5 18v2m4 100v2m3-260v2m2 8v2m0 230v2m2-254v2m0 254v2m3-96v2m4 0v2m3-158v2m0 136v2m7 20v2m2-172v2m2 240v2m0 8v2m0 16v2m5 0v2m12-122v2m9-156v2m2-4v2m0 170v2m5-166v2m0 164v2m5-180v2m0 268v2m2-94v2m2-22v2m17-154v2m2 154v2m0 106v2m2-274v2m5 250v2m7-60v2m2 0v2m3 100v2m2-294v2m0 192v2m0 48v2m7-210v2m0 114v2m5-10v2m7 162v2m4-332v2m5-2v2m0 166v2m0 18v2m0 130v2m2-94v2m3-178v2m0 114v2m18 44v2m3-54v2m0 112v2m0 2v2m0 46v2m4-152v2m3 24v2m2-16v2m2-14v2m0 136v2m3-278v2m0 118v2m0 152v2m2-300v2m0 32v2m5 216v2m2-266v2m0 306v2m2-134v2m0 6v4m3-148v2m4 148v2m3-32v2m0 142v2m2-102v2m5-166v2m2 136v2m7-16v2m2-130v2m3 2v2m0 2v2m4-8v2m3 248v2m2 20v2m2-148v2m3-148v2m4 140v2m5 116v2m2-260v2m3 156v2m4-158v2m3 274v2m9-280v2m9 148v2m0 20v2m3-180v2m2 6v2m0 264v2m5-246v2m0 126v2m0 106v2m4-246v2m5-30v2m5 32v2m0 148v4m4-162v2m0 142v2m5 10v2m9 88v2m5-104v2m7-168v2m0 270v2m2-122v2m7-128v2m5-44v2m2 38v2m5-28v2m2 34v2m12-10v2m0 2v2m0 238v2m2-10v2m3-104v2m0 2v2m0 10v2m4-146v2m5-42v2m0 40v2m7 236v2m2-284v2m5 192v2m2-202v2m3 20v2m0 262v2m7-262v2m0 150v2m0 124v2m2-260v2m0 4v2m2 150v2m7-190v2m12 182v2m0 92v2m2-134v2m7 146v2m5-132v2m2 24v2m7 0v2m5-192v2m7 160v2m0 100v2m9-78v2m7-150v2m3 112v2m4 134v2m3-104v2m2-196v2m0 160v2m5-168v2m0 30v2m0 268v2m2-260v2m2 154v2m7 70v2m3-268v2m2-10v2m2 166v2m3 132v2m9-126v2m2 16v2m0 100v2m33-280v2m0 170v2m2-26v2m5-122v2m2-34v2m5 8v2m2-6v2m0 6v2m0 254v2m3-106v2m4-164v2m0 4v2m3 40v2m2 150v2m2-208v2m0 12v2m0 262v2m3-280v2m0 40v2m4-34v2m3-64v2m0 44v2m0 40v2m2 10v4m0 96v2m2-154v2m0 6v2m0 6v2m3-18v2m0 148v2m0 154v2m2-140v2m2 82v2m0 6v2m0 20v2m3-104v2m2-204v2m0 170v2m0 128v2m2-20v2m0 18v2m0 6v2m3-80v2m2-64v2m2 54v2m0 56v2m3-80v2m0 76v2m0 4v2m2-100v2m0 10v2m0 14v2m0 6v2m2-234v2m0 200v2m3 54v2m2 70v2m2-318v2m0 70v2m0 98v2m0 6v2m0 90v2m0 24v2m3-30v2m2-110v2m0 4v2m0 52v2m0 36v2m2-284v2m0 28v2m0 18v2m0 6v2m0 136v2m0 110v2m3-294v2m2 48v2m0 114v2m2-132v2m3 142v2m2-136v2m0 112v2m0 118v2m2-110v2m0 124v2m3-308v2m2 22v2m0 256v2m2-272v2m0 2v2m0 50v2m3-18v2m0 16v2m0 182v2m0 72v2m2-298v2m0 316v2m2-166v2m0 148v2m3-326v2m0 58v2m0 150v2m0 94v2m2-104v2m0 116v2m2-154v2m0 48v2m3-194v2m2 162v2m0 2v2m0 134v2m5-288v2m0 110v2m2 148v4m0 10v2m2-166v2m0 168v2"/>
<path stroke="#00cfff" stroke-width="3" d="M163.5 268v2m0 42v2m154 116v2m70-134v2m217 134v2m7-182v4m0 164v2m21-130v2m0 134v2m0 108v2m7-280v2m56 188v2m0 92v2m7-128v2m7-122v2m0 240v2m7-270v2m7-8v2m0 262v2m14-4v2m84-70v2m7-182v2m0 278v2m7-284v2m7 172v2"/>
<path stroke="#00dfff" stroke-width="1" d="M141.5 572v2m7-122v2m70 16v2m21-184v2m112 248v2m133 2v2m14-274v2m154 160v2m28-6v2m210 42v2"/>
<path stroke="#00dfff" stroke-width="2" d="M143 552v2m2 14v2m2-2v2m3-8v2m2-254v2m2 8v2m3 140v2m16-194v2m0 28v2m0 164v2m9-16v2m7 18v2m7-4v2m5 80v2m0 14v2m5-274v2m4 270v2m3-132v2m2-12v2m0 30v2m2 8v2m0 80v2m0 20v2m7-278v2m0 2v2m5-12v2m2 132v2m0 42v2m7-178v2m0 158v2m3-164v2m2 280v2m2-304v2m0 156v2m7-146v2m7 246v2m3-230v2m0 244v2m2-280v2m12 256v2m2-234v2m0 250v2m2-276v2m14 8v2m0 10v2m0 232v2m7 14v2m10-276v2m0 154v2m16 0v2m0 6v2m0 110v2m7-260v2m2-16v2m0 144v2m0 104v2m7 4v2m10-106v2m21 98v2m4 24v2m5-38v2m0 34v2m2-30v2m5-78v2m0 78v2m7-6v2m0 2v2m5-230v2m0 150v2m0 60v2m4 48v2m3-162v2m0 132v2m4 22v2m3-152v2m2 44v2m2 48v2m0 8v2m0 6v2m3-12v2m4-262v2m3 164v2m0 138v2m2-266v2m0 6v2m0 256v2m2-274v2m0 16v2m0 92v2m0 62v2m3-16v2m0 64v2m4 0v2m3 0v2m2 20v2m9-94v2m0 98v2m3-310v2m0 38v2m0 116v2m0 132v2m2-280v2m2 176v2m3-188v2m0 160v2m0 98v2m2-74v2m0 110v2m2-268v2m5-6v2m0 272v2m2-272v4m0 154v2m0 68v2m3-88v2m0 114v2m9-254v2m0 254v2m2-32v2m5-86v2m7 80v2m5 22v2m4-258v2m7-4v2m0 126v2m0 30v2m3-40v2m2 146v2m2-270v2m5-24v2m12-4v2m7 18v2m0 244v2m9-106v2m5-144v2m7-20v2m0 4v2m16 254v2m2 4v2m7-10v2m3 6v2m0 14v2m2-26v2m2-256v2m5 174v2m2-160v2m0 160v2m0 92v2m7-300v2m0 304v2m5-114v2m7-190v2m0 294v2m2-134v2m21-148v2m3 260v2m4-288v2m0 6v2m0 190v2m3-182v2m7 142v2m2-144v2m0 262v2m5-98v2m0 4v2m0 84v2m2-94v2m0 114v2m2-302v2m0 170v2m7 18v2m5-160v2m0 128v2m7 136v2m7-294v2m0 264v2m16-238v4m5 116v2m7 0v2m0 6v2m0 100v2m2-258v2m0 30v2m5 144v2m2-196v2m0 154v2m0 8v2m12-134v2m0 148v2m2 116v2m5-2v2m2-30v2m0 18v2m3-102v2m4-152v2m3 144v2m0 106v2m4-274v2m0 12v2m0 254v2m3-106v2m4-190v2m0 4v2m7-2v2m3 30v2m0 140v2m0 10v2m4-192v2m0 34v2m3 4v2m9 228v2m2-6v2m5-82v2m9-32v2m5-148v2m0 18v2m0 150v2m0 114v2m2-114v2m12 8v2m2-188v2m0 258v2m12-254v2m2-22v2m5 48v2m2-66v2m0 30v2m5-10v2m0 32v2m5 158v2m0 94v2m2-28v2m7-226v2m0 120v2m0 112v2m2-236v2m3-42v2m0 130v2m0 18v2m0 148v2m2-318v2m0 18v2m0 152v2m0 92v2m2-70v2m0 68v2m0 46v2m3-116v2m0 52v2m2-50v2m0 114v2m5-138v2m0 66v2m0 32v4m2-242v2m0 126v2m0 108v2m2 22v2m3-326v2m0 18v2m0 120v2m0 10v2m0 148v2m2-240v2m0 4v2m0 94v2m0 58v2m0 60v2m2-230v2m0 164v2m3-224v2m0 170v2m0 114v2m0 2v2m2-34v2m2-198v2m0 120v2m0 20v2m0 92v2m3-240v2m0 24v2m0 46v2m0 140v2m2-304v2m0 210v2m2 6v2m3-204v2m0 208v2m2 110v2m2-120v2m3-20v2m2-154v2m0 282v2m2-294v2m5 18v2m0 158v2m0 130v2m2-154v2m0 134v2m3-164v2m0 34v2m0 60v2m0 14v2m2-272v2m0 18v2m0 278v2m2-38v2m3 16v2m2-28v2m2-268v2m0 52v2m0 150v2m0 128v2m0 12v2m3-40v2m2-280v2m0 182v2m2-158v2m0 120v4m0 128v2m5-256v2m0 138v2m0 58v2m2-66v2"/>
<path stroke="#00dfff" stroke-width="3" d="M170.5 278v2m21 272v2m126-132v2m0 24v2m0 86v2m70-8v2m0 30v2m217-290v2m21 24v2m7-26v2m0 176v2m7-2v2m63-38v2m0 2v2m7-166v2m7 46v2m7 144v2m7-178v2m0 182v2m14-148v2m7-8v2m7 152v2m56-194v2m0 20v2m0 134v2m7-132v4m0 150v2m7-4v4m7-182v2m0 158v2m7-8v2m7-146v2"/>
<path stroke="#00efff" stroke-width="1" d="M267.5 436v2m0 8v2m280-152v2m105 170v2m224-32v2m14-22v2m35 130v2"/>
<path stroke="#00efff" stroke-width="2" d="M157 432v2m2 28v2m7-192v2m0 296v2m2-8v2m5-96v2m7-200v2m2 292v2m5-266v2m7 174v2m0 70v2m2-120v2m0 28v2m3-28v2m2-130v2m0 256v2m5-296v2m0 160v2m0 44v2m7-14v2m4 106v2m10-140v2m4 20v2m5 102v2m2-28v2m3-112v2m9-158v2m0 286v2m2-12v2m5-266v2m2 156v2m3-172v2m2 258v2m14-98v2m7 116v2m5-114v2m2-174v2m2-4v2m3 266v2m4 20v2m5-6v2m7-112v2m2-18v2m7-154v2m0 160v4m0 104v2m12 6v2m2-126v2m5-166v2m5 24v2m0 6v2m2-28v2m0 268v2m2-102v2m10-166v2m2 172v2m2-24v2m0 108v2m3-114v2m0 6v2m9 100v2m2-114v2m3 122v2m2-260v2m7 12v2m0 210v2m2 40v2m3-258v2m0 228v2m2-98v2m2-136v2m0 206v2m3-108v2m2 160v2m5-44v2m2 26v2m2-30v2m5-280v2m0 12v2m9 152v2m0 142v2m5-100v2m5-206v2m0 256v2m2 62v2m2-52v2m7-112v2m3 88v2m0 14v2m2-66v2m0 118v2m2-70v2m3-216v2m0 116v2m0 26v2m2-154v2m2 160v2m0 104v2m5-272v2m0 230v2m2 0v2m3-8v2m2 8v2m0 18v2m0 14v2m5-302v2m0 16v2m2-16v2m0 270v2m2-128v2m3-134v2m2 124v2m5-150v2m2 186v2m0 88v2m0 10v2m2-284v2m0 14v2m3 128v2m4 26v2m5-164v2m2 152v2m3 90v2m2-264v2m12 286v2m2-288v2m0 272v2m2-116v2m5-2v2m9-158v2m0 172v2m0 102v2m5-274v2m2 148v2m10 116v2m4-122v2m7-164v2m0 26v2m12 0v2m2-22v2m3 256v2m7-270v2m0 266v2m4-242v2m19-18v2m0 250v2m7 0v2m2-88v2m12-26v2m5 112v2m7-280v2m4 36v2m0 232v2m5-266v2m0 158v2m7-176v2m2 16v2m3 2v2m2-22v2m2 36v2m3 246v2m11-114v2m0 106v2m0 22v2m12-286v2m0 260v2m7-244v2m0 126v2m2-156v2m0 272v2m28-284v2m7 8v2m5 148v2m7 4v2m5 22v2m2-156v2m2 6v2m5-8v2m0 150v2m0 78v2m0 28v4m9-110v2m3 102v2m2-294v2m2 16v2m10 244v2m0 20v2m2 6v2m0 6v2m2-276v2m0 126v2m0 126v2m7 10v2m5-14v2m0 2v2m16-284v2m5 162v2m0 22v2m2-184v2m5 252v4m2 4v2m7-74v2m0 70v2m3-8v2m2-276v2m0 298v2m2-122v2m3-168v2m2-22v2m2-18v2m3 70v2m0 128v2m0 26v2m4-208v2m3 200v2m2-218v2m0 188v2m2-198v2m0 10v2m5 70v2m0 240v2m2-330v2m0 40v2m0 140v2m0 108v2m0 26v2m0 8v2m5-316v2m2 254v2m3-252v4m0 272v2m2-226v2m2-58v2m0 234v2m3-190v2m0 32v2m0 76v2m4 52v2m3-208v2m0 156v2m2-8v2m0 16v2m2-168v2m0 150v2m0 110v2m0 24v2m3-246v2m0 10v2m0 272v2m2-362v2m0 8v2m0 12v2m0 254v2m2-18v2m3-34v2m0 80v2m2-234v2m0 232v2m0 6v2m0 12v2m2-166v2m0 144v2m3-330v2m0 12v2m0 70v2m0 104v2m0 88v2m0 12v2m2-74v2m2-212v2m0 64v2m0 160v2m3-188v2m0 136v2m0 94v2m0 44v2m7-318v2m0 32v2m2 4v4m0 146v2m0 30v2m0 116v2m2-310v2m0 264v2m0 10v2m3-314v2m0 184v2m0 30v2m2-188v2m0 166v2m0 22v2m0 88v2m2-286v2m0 124v2m0 30v2m0 100v2m3-222v2m0 106v2m0 90v2m0 24v2m0 6v2m0 48v2m2-334v2m0 18v2m2-28v2m0 10v2m0 16v2m3-22v2m0 258v2m0 24v2m2-292v2m0 42v2m0 140v2m0 82v2m2-248v4m0 2v2m0 102v2m5-128v2m0 146v2m2-26v2m0 128v2"/>
<path stroke="#00efff" stroke-width="3" d="M317.5 274v2m287-6v2m0 182v2m0 74v2m14-84v2m7 2v2m14-188v4m63 36v2m7-38v2m0 266v2m7-280v2m0 170v2m7-162v2m0 260v2m0 10v2m0 16v2m7-6v2m7-22v2m0 24v2m7-106v2m63 90v2m7 2v2m7-124v2m7-4v2m0 132v2m14-268v2m0 130v2m0 112v2m7-260v2"/>
<path stroke="#00ffff" stroke-width="1" d="M148.5 556v2m322-248v2m189-6v2m21-16v2"/>
<path stroke="#00ffff" stroke-width="2" d="M145 440v2m5-168v2m0 170v2m11 104v2m5-240v4m2 0v2m5 112v2m0 38v2m2-36v2m5-130v2m2 162v2m5-198v2m2-2v2m0 158v2m0 134v2m5-136v2m2-164v2m3 182v2m2-158v2m12-50v2m0 18v2m0 18v2m7 276v2m4-274v2m3 154v2m2-28v2m0 20v2m5-30v2m0 18v2m2-178v2m2 178v2m3-154v2m2 238v2m2-92v2m7-154v2m5 124v2m2 0v2m5 0v2m0 128v2m2-114v2m3 84v2m2 14v2m9-122v2m0 100v2m3 14v2m2-118v2m2-152v2m0 10v2m3-20v2m0 154v2m7 20v2m2 96v2m9-108v2m0 104v2m3-14v2m9-96v2m0 106v2m5-12v2m4-102v2m3 86v2m2-100v2m5-138v2m0 134v2m0 14v2m4-156v4m0 134v2m3 12v2m2 2v2m2-170v2m0 14v2m0 130v2m5 8v2m5 10v2m2 104v2m2-122v2m5 92v2m0 24v2m2-32v2m3 24v2m4-260v2m0 6v2m0 116v2m0 8v2m3-156v2m0 280v2m2-32v2m7-104v2m0 2v2m5-168v2m0 162v2m0 124v2m0 18v2m2-148v2m2 82v2m0 28v2m5-36v2m0 2v2m0 58v2m5-112v2m2 56v2m0 2v2m2-2v2m3 8v2m0 8v2m2 24v2m2-146v2m0 36v2m0 74v2m3-240v4m0 4v2m2-48v2m0 158v2m0 104v2m2-12v2m0 18v2m0 16v2m10-252v2m2 96v2m0 124v2m0 44v2m2-14v2m3-312v2m0 44v2m0 270v2m2-114v2m2-172v2m0 162v2m0 78v2m3-124v2m0 104v2m4 32v2m7-288v2m0 180v2m0 74v2m0 16v2m5 14v2m2-294v2m0 170v2m0 126v2m3-44v2m2 16v2m2 2v2m3-128v2m4-154v2m0 164v2m0 86v2m3-234v2m0 154v2m0 86v2m2-120v2m2-148v2m0 160v2m5 12v2m5-30v2m2-134v2m7 148v2m0 100v2m7 16v2m2-32v4m10 22v2m2-112v2m5-154v2m2-4v2m14 246v2m2-104v2m5-148v2m5-16v2m7-2v2m0 18v2m2-26v2m2 158v2m3-156v2m0 148v2m4-2v2m3-176v2m2 286v2m2-248v2m0 130v2m5-158v2m2-16v2m7 170v2m0 106v2m7-110v2m7 14v2m5 94v2m7-272v4m0 14v2m0 132v2m2-170v2m7-2v2m0 168v2m10-132v2m0 130v2m4-164v2m5 20v2m7-20v2m2 180v2m3-192v2m0 6v2m2 156v2m0 2v2m0 10v2m2-156v2m0 4v2m0 150v2m3-150v2m0 252v2m9-288v2m7 2v2m7-2v2m2 180v2m5-32v2m2-6v2m0 32v2m7-176v2m5 22v2m2-38v2m0 160v2m0 108v2m7 0v2m5-132v2m2 14v2m7-156v2m5 176v4m0 4v2m2-168v2m5 134v2m2-132v2m0 158v2m0 70v2m5-272v2m2 38v2m0 2v2m0 230v2m5-84v2m0 108v2m2-276v2m3-30v2m0 258v2m2-234v2m2 232v2m0 36v2m5-298v2m0 16v2m0 138v2m0 124v2m5-22v2m2 20v2m2-294v2m0 24v2m3 0v2m0 248v2m7-246v2m0 268v2m2-266v2m0 140v2m2-128v2m0 130v2m5-12v2m2 14v2m7-182v2m7-6v2m7 184v2m7-164v2m5-10v2m2 254v4m7-238v2m5-4v4m0 152v2m0 92v2m2-256v2m3 122v2m0 104v2m0 6v2m2-84v2m5-206v2m0 174v2m0 30v2m2-236v2m0 82v2m0 118v2m0 20v2m0 108v2m2-126v2m0 116v2m3-100v2m0 100v2m2-310v2m0 50v2m0 140v2m0 118v2m2-262v2m0 4v2m0 144v2m0 80v2m3-304v2m0 36v2m0 36v2m0 14v2m0 240v2m2-328v2m0 182v2m0 26v2m2-192v2m0 28v2m0 170v2m3-204v2m0 10v2m0 20v2m0 152v2m2-196v2m0 64v2m2-16v2m0 126v2m3-190v2m0 30v2m0 172v2m2-182v2m2-38v2m0 180v2m0 118v2m3-270v2m0 162v4m0 30v2m0 42v2m2-268v2m0 54v2m0 136v2m2-202v2m0 148v2m3 10v2m0 10v2m0 26v2m0 128v2m4-326v2m0 82v2m0 182v2m3-286v2m0 44v2m0 186v2m2-208v2m0 148v2m2 42v2m0 56v2m0 46v2m3-260v2m0 150v2m0 102v2m2-252v2m0 150v2m0 104v2m2-342v2m0 296v2m0 42v2m3-320v2m0 4v2m0 202v2m0 54v2m0 12v2m4-142v2m0 10v2m0 22v2m0 90v2m3-80v2m2-206v2m0 170v2m0 48v2m2-206v2m0 324v2m3-290v2m0 220v2m2-218v2m0 2v2m2 0v2m3-58v2m0 150v2m0 34v2m0 68v2m4-10v2m0 10v2m0 6v2m0 12v2m0 38v2m0 12v2m3-168v2m0 2v2m0 4v2m0 104v2m0 54v2m2-296v2m0 134v2m0 30v2m0 74v2m0 14v2m2-160v2m0 70v2m3-72v2m0 44v2m0 110v2m2-310v2m0 136v2m0 50v2m0 90v2m2 10v2m3-128v2m0 116v2m2 24v2m2-264v2m0 4v2m0 108v2m0 156v2"/>
<path stroke="#00ffff" stroke-width="3" d="M170.5 308v2m0 4v2m7 252v2m7-134v2m133 8v2m294 92v2m7-242v2m21-8v2m0 150v2m63-174v2m0 284v4m7-24v2m7-276v2m0 42v2m7 108v2m7 2v2m0 138v2m7-112v2m0 90v2m14-248v4m0 244v2m7-244v2m49 234v2m28-248v2m0 154v2m0 6v2m0 108v2m7-272v2m7 4v2m0 126v2"/>
<path stroke="#10ffef" stroke-width="1" d="M148.5 584v2m350-306v2"/>
<path stroke="#10ffef" stroke-width="2" d="M157 442v2m0 120v2m2-260v2m0 166v2m9-154v2m5 112v2m2 38v2m5-46v2m0 138v2m2-144v2m7-164v2m5 306v2m2-142v2m5-128v2m0 242v2m5-252v2m2 132v2m5-10v2m2 144v2m7-272v2m0 160v2m0 98v2m0 4v2m2-22v2m3-256v2m4 266v2m3-296v2m0 12v2m2 158v2m7-154v2m2-4v2m0 2v2m0 126v2m5-128v2m7 132v2m2-166v2m3 168v2m0 112v2m4-106v2m3-158v2m2 146v2m5-154v2m2 142v2m2-150v2m3 10v2m2 232v2m2-248v2m0 248v2m3 10v2m2-276v2m5 276v2m2-260v2m2 134v2m3 106v2m2-248v2m2-2v2m0 4v2m3-8v2m2-20v2m0 262v2m9 12v2m3-16v2m2-266v2m2 20v2m0 148v2m3-166v2m2 150v2m26 4v2m4-160v2m7 0v2m12 146v2m0 134v2m2-16v2m5-290v2m0 170v2m5-164v2m0 160v2m0 26v2m0 62v2m0 4v2m2-278v2m0 170v2m0 98v2m2-74v2m0 60v2m0 2v2m0 36v2m5-134v2m0 90v4m0 12v2m2 34v2m5-40v2m2-68v2m3-212v2m0 276v4m2-112v2m0 100v2m0 6v2m2-86v2m0 62v2m3-224v2m0 268v2m7-308v4m2 170v2m0 146v2m5-12v2m2-274v2m0 230v2m7-274v2m0 188v2m2-34v2m0 104v2m3-232v2m2 156v2m5-28v2m0 138v2m9-280v2m0 146v2m2 14v2m7-34v2m3-160v2m0 148v2m2-122v2m0 228v2m2-260v2m3 182v2m2-156v2m2 142v2m3-176v2m0 2v2m4-8v2m7 22v2m0 6v2m3-6v2m7 150v2m2 84v2m2 16v2m0 2v2m5-262v2m0 240v2m5-112v2m2 28v2m2-166v2m0 156v2m0 94v2m5-10v2m2-264v2m7 16v2m10 248v2m2 12v2m5 2v2m7-292v2m0 20v2m2 268v2m5-298v2m2 4v2m0 270v2m0 12v2m2-288v2m7-4v2m5-6v2m0 264v2m5-102v2m2-168v2m0 2v2m16-12v2m7-12v2m7 270v2m0 30v2m5-300v2m0 292v2m2-260v2m7-32v2m3-4v2m0 4v2m0 274v2m2 2v2m5-254v2m2 150v4m0 82v2m5-106v2m0 2v4m4 94v2m3-266v2m0 176v2m4-18v2m5-162v2m0 8v2m9-6v2m5 266v2m2-112v2m5-160v2m7 8v2m0 166v2m2-194v2m5 280v2m0 4v2m9-246v2m5 238v2m7-286v2m7 298v2m7-6v2m2-284v2m0 262v2m5-276v2m0 188v2m9-6v2m0 94v2m7-120v2m0 18v2m3 118v2m2-120v2m2-156v2m0 148v4m3-152v4m2 236v2m2-90v2m3-150v2m2-34v2m2 286v2m5-286v2m7 290v2m2-108v2m0 96v2m7-284v2m0 150v2m5-160v2m0 170v2m2-170v2m5 180v2m2 102v2m7-290v2m0 158v2m5-156v2m2 160v2m7-160v2m0 16v2m5 236v2m2-288v2m0 32v2m0 272v2m3-260v2m0 132v2m0 16v2m9-186v4m0 46v2m0 218v4m0 18v2m2-306v2m0 10v2m0 34v2m3 0v2m2 8v4m0 116v2m0 122v2m2-138v2m0 8v2m0 16v2m3 0v2m0 78v2m2-220v2m5 6v2m2-60v2m0 18v2m0 138v2m0 112v2m2-254v2m3-24v2m2 148v2m0 122v2m2-310v2m0 224v2m0 16v2m3-198v2m0 196v2m0 68v2m2-270v2m0 36v2m0 114v2m0 14v2m0 70v2m2-292v2m0 24v2m0 26v2m3 240v2m0 2v2m2-266v2m0 244v2m0 24v2m0 34v2m0 2v2m2-146v2m3 28v2m0 82v2m2-100v2m0 76v2m0 30v2m2-278v2m0 178v2m0 92v2m3-300v2m2 0v2m0 292v2m0 18v2m2-346v2m0 8v2m0 70v2m0 110v2m0 6v2m0 92v2m0 14v2m3-284v2m2 136v2m0 130v2m2 38v2m0 4v2m3-118v2m0 126v2m2-272v2m0 6v2m0 84v2m0 100v2m0 62v2m2-140v4m3 80v2m0 8v2m0 18v2m2-280v2m0 190v2m0 40v2m2-250v2m0 20v2m0 4v2m3-44v2m0 220v2m2-186v2m0 28v2m2-36v2m3 38v2m0 194v2m2-234v2m0 16v2m0 100v2m0 106v2m0 56v2m2-282v2m0 294v2m3-176v2m0 150v2m2-314v2m0 22v4m0 40v2m0 242v2m2-266v2m0 124v2m0 8v2m0 16v2m3-202v2m0 280v2m2-266v2m0 14v2m0 134v2m2 10v2m0 120v2m0 4v2m3-122v2m0 6v2m0 104v2m2-238v2m2-48v2m0 24v2"/>
<path stroke="#10ffef" stroke-width="3" d="M177.5 306v2m0 164v2m7-196v2m0 286v2m7 4v2m413-158v2m0 14v2m14 8v2m0 96v2m0 12v2m7 2v4m7-20v2m7-114v2m56-132v2m7 0v2m14 260v2m21-106v2m70-196v2m0 184v2m35 2v2m7 6v2"/>
<path stroke="#20ffdf" stroke-width="1" d="M407.5 446v2m56-128v2m427 196v2m28-82v2"/>
<path stroke="#20ffdf" stroke-width="2" d="M143 562v2m2-288v2m9-14v2m0 202v2m7-158v2m0 240v2m12-284v2m0 290v2m2-290v2m0 164v2m0 26v2m7 78v4m0 16v2m5-138v2m2-154v2m0 288v2m7-146v2m0 122v2m3-240v2m4 120v2m3-162v2m2 152v2m0 32v2m5 106v2m7-312v2m2 300v2m5 8v2m2-4v2m2-142v2m5-4v2m5-2v2m2 124v4m9-272v2m0 132v2m0 2v2m0 2v2m0 10v2m0 6v2m0 82v2m3-248v2m2 142v2m2 12v2m0 110v2m3-264v2m0 232v2m2 24v2m2-132v2m3 16v2m2-152v2m5 144v2m4 102v2m3-108v2m2-162v2m2 146v2m3 0v2m4 12v2m3-154v2m7 132v2m2 14v2m5-164v2m2 152v2m2-144v2m10-14v2m0 154v2m0 112v2m2-274v2m2-4v2m10 2v2m4 156v2m3-156v2m7 270v2m4-12v2m3-98v2m2-172v2m2 266v2m0 12v2m3-284v2m0 158v2m2 0v2m0 92v4m2-258v2m3 0v2m4 166v2m5-16v2m7-138v2m0 142v2m0 18v2m2-34v2m0 140v2m5-56v2m2-54v2m3 64v2m4-16v2m3 38v2m2-44v2m2 14v2m3-104v2m0 12v2m2 120v2m2 6v2m3-314v2m2 4v2m0 156v2m0 38v2m0 68v2m0 4v2m0 10v4m0 10v2m2-146v2m3-108v2m0 220v2m4-108v2m0 94v2m0 12v2m0 14v2m3-294v2m0 150v2m0 120v2m2-14v2m0 6v2m7 0v2m0 30v2m2-62v2m3-224v2m0 170v2m0 54v2m2-254v2m0 308v2m5-136v2m2-142v2m2 110v2m0 114v2m3-88v2m2-174v2m2-14v2m0 262v2m3-6v2m7-104v2m0 34v2m2-14v2m0 8v2m0 98v2m2-112v2m7-180v2m0 32v2m5 122v2m0 104v2m9-260v2m3 280v2m2-262v2m2 254v2m3-264v2m0 8v2m0 144v2m2 6v2m0 104v2m2-268v2m0 242v2m5-114v2m5-134v2m9-26v2m0 292v2m2-120v2m3-178v2m0 8v2m0 164v2m7 98v2m2-112v2m7-8v2m5-134v2m0 262v2m4-286v2m0 158v2m3 104v2m2 2v2m2-112v2m7 102v2m3-266v2m0 22v2m2 158v2m0 80v2m5-268v2m7 14v2m0 130v2m0 10v4m2-166v2m7-2v2m2 176v2m5-178v2m0 166v2m0 96v2m2-112v2m0 104v2m19-278v4m0 182v2m2-154v2m0 138v2m0 12v2m5-154v2m2-24v2m0 168v2m3-190v2m0 166v2m0 114v2m0 12v2m4-292v2m5 24v2m2 262v2m3-292v2m2 22v2m0 266v2m2-22v2m5-268v2m2 180v2m3-2v2m0 88v2m4-276v2m5 288v2m2-272v2m3 162v2m0 2v2m9-38v2m0 38v2m0 76v2m0 2v2m2 12v2m5-284v2m0 184v2m0 72v2m2-234v2m12 230v2m2 0v2m14-238v2m5 0v2m0 152v2m0 80v2m7-232v2m2-20v2m12-8v2m0 12v2m5-10v2m0 260v2m2-130v2m0 28v2m0 102v2m2-32v2m3-256v2m0 8v2m2 26v2m2 136v2m3-186v2m0 42v2m0 130v2m2-180v2m0 26v2m2 130v2m7 36v2m0 98v2m0 8v2m3-126v4m2-158v2m0 8v2m0 140v2m2 6v2m5-152v2m7-20v2m2 280v2m12-124v2m0 90v2m7 0v2m2-260v2m5-14v2m0 164v2m0 10v2m0 4v2m0 102v2m2-106v2m5-6v2m7 6v2m0 98v2m2-276v2m0 146v2m0 6v2m3-178v2m0 174v2m2-136v2m0 148v2m2 2v2m3-26v2m2-152v2m0 142v2m7-154v2m5-16v2m2-22v2m0 210v2m0 12v2m2-204v2m0 6v2m0 30v2m0 130v2m0 16v2m3-4v2m0 2v2m2-186v2m0 180v2m0 14v2m2-168v2m0 222v2m0 4v2m3-246v2m0 140v2m0 2v2m0 24v2m0 68v2m0 20v2m2-278v2m0 38v2m0 88v2m2 52v2m0 104v2m3-304v2m0 156v2m0 116v2m0 12v2m2-218v2m0 170v2m0 42v2m2-102v2m0 102v2m0 14v2m3-318v2m0 164v2m0 114v2m0 12v2m2-296v2m0 260v2m2-268v2m0 144v2m0 124v2m0 40v2m3-138v2m0 144v2m2-152v2m2 150v2m3-168v2m0 56v2m0 44v2m2 20v2m0 46v2m2-312v2m0 24v2m0 22v2m0 208v2m3-288v2m0 144v2m0 14v2m0 94v2m0 56v2m0 24v2m2-184v2m0 154v2m2-112v2m0 10v2m0 42v2m3-268v2m0 32v2m0 238v2m0 4v2m2-302v2m0 10v2m0 38v2m0 108v2m0 34v2m0 108v2m2-284v2m3 208v2m0 36v2m2-40v2m2-12v2m0 90v2m3-138v2m2 96v2m0 10v2m2-74v2m3-168v2m0 4v2m0 188v2m0 94v2m2-60v2m0 32v2m0 26v2m5-300v2m0 232v2m0 42v2m0 14v2m2-168v2m0 62v2m2-168v2m3-12v2m0 132v2m0 4v2m0 110v2m2-296v2m0 28v2m2 224v2m3-104v2m0 28v2m0 28v2m2-18v2m0 118v2m2-282v2m0 26v2m0 146v2"/>
<path stroke="#20ffdf" stroke-width="3" d="M177.5 478v2m7-172v2m0 132v2m7-6v2m196-170v2m217 286v2m7-294v2m0 292v2m14-24v2m7-112v2m7 22v2m63-186v2m0 30v2m0 246v2m14-14v2m7-104v2m7 20v2m7 6v2m0 96v2m7-264v2m7 150v2m7-180v2m0 10v2m49 162v2m7 92v2m7-116v2m0 114v2m14-282v2m0 16v2m14 24v2m0 146v2m0 104v2"/>
<path stroke="#30ffcf" stroke-width="1" d="M687.5 308v2"/>
<path stroke="#30ffcf" stroke-width="2" d="M145 434v2m2-122v2m0 14v2m3 222v2m2-288v2m0 4v2m2 36v2m0 240v2m3-286v2m2 194v2m0 82v2m7-240v2m2-44v2m0 184v2m5 110v2m2-292v2m5 24v2m0 130v2m2 26v2m5 86v2m2-236v2m12 252v2m0 6v2m7-310v2m0 158v2m0 6v2m5-114v2m2 106v2m5 30v2m2-168v2m0 268v2m5-306v2m0 166v2m0 30v2m7-12v2m0 2v2m4-14v2m5-170v2m0 172v2m2 80v2m3-248v2m2-14v2m2 8v2m3 132v2m2 14v2m2-150v2m0 156v2m12-24v2m2 0v2m3-156v2m0 272v2m2-104v2m2-8v4m14-170v2m3 270v2m2-276v2m0 270v2m7-276v2m0 278v2m5-282v2m0 262v2m2-238v2m0 254v2m2-108v2m10 102v2m2-132v2m2-144v2m0 150v2m0 12v2m3-174v2m0 154v2m0 2v2m2 106v2m5-248v2m4 242v2m3 14v2m4-126v2m3 4v2m0 4v2m2-170v2m2 266v2m7-270v2m3 262v2m2-92v2m2-22v2m3 100v2m2-256v2m0 240v2m2-88v2m0 106v2m3-292v2m0 178v2m9-182v2m0 316v2m2-112v2m5 72v2m2-280v2m7 168v2m0 108v2m0 32v2m3-42v2m2-104v2m16-164v2m3 256v2m0 10v2m0 24v2m2-262v2m0 4v2m2-4v2m0 232v2m3-276v2m0 24v2m0 4v2m0 238v2m2-108v2m0 16v2m5-148v2m0 230v2m2-14v2m2-116v2m0 6v2m0 8v2m3-168v2m0 24v2m0 14v2m0 114v2m0 112v2m2-278v2m0 30v2m0 152v2m2-24v2m3-168v2m0 8v2m0 18v2m0 286v2m2-302v2m0 14v2m0 150v2m0 114v2m0 16v2m2-122v2m0 66v2m0 42v2m3-18v2m2-26v2m0 42v2m5-32v2m2-254v2m2-26v2m0 22v2m0 8v2m5-38v2m0 276v2m2-104v2m0 98v2m5-4v2m2-262v2m0 130v2m0 138v2m3-130v2m4-132v2m5 262v2m2-14v2m3-144v2m0 128v2m9-96v2m2-24v2m0 6v2m3 108v2m2-268v2m0 172v2m0 4v2m2-152v2m0 254v2m5-282v2m0 4v2m2 280v2m3-140v2m4-154v2m10 168v2m0 2v2m2-18v2m7-160v2m0 2v2m2 10v2m0 154v2m3-158v2m0 156v2m4-2v2m0 96v2m3 0v2m0 8v2m2-124v2m2 104v2m10-10v2m7 4v2m4-242v2m0 234v2m3-280v2m0 16v2m0 166v2m0 110v2m9 2v2m7-282v2m0 168v2m2 88v2m0 12v2m5-114v2m0 90v2m7-236v2m2 140v2m5-154v2m2-2v2m0 260v2m5-286v2m0 272v2m2-252v2m5-38v2m0 8v2m5-6v2m0 272v2m2-260v2m2 168v2m0 92v2m3-250v2m0 136v2m2 104v2m2-90v2m3-160v2m0 240v2m2-278v2m0 190v2m0 86v2m5-262v2m2 280v2m2-272v2m0 4v2m3 256v2m2-280v2m2 16v2m3 246v2m2-250v2m9-18v2m0 264v2m5-118v2m0 28v2m2-158v2m7-8v2m5-32v2m0 160v2m2 26v2m14-158v2m7 156v2m5 82v2m7-272v2m0 160v2m7 26v2m2-194v2m0 186v2m5-156v2m2 138v2m0 110v2m0 8v2m5-124v2m0 92v2m5-274v2m2 6v2m2 152v2m0 140v2m7-120v2m3-166v2m0 170v2m0 76v2m0 20v2m9-292v2m0 160v2m2-134v2m5 254v2m2-258v2m0 2v2m0 150v2m14-162v2m5-2v2m7-10v2m2-10v2m0 20v2m0 234v2m5-240v2m0 272v2m2-112v2m5-212v2m0 214v2m0 94v2m5-310v2m0 46v2m2 258v2m2-254v2m0 2v2m0 126v2m3 108v2m2-282v2m0 2v2m2-8v2m0 282v4m3-286v2m0 52v2m0 230v2m4-280v2m0 24v2m0 124v2m0 108v2m0 4v2m3-286v2m0 38v2m2-34v2m0 46v2m0 224v2m2-288v2m0 28v2m0 172v2m3-156v2m0 160v2m2-62v2m0 10v2m0 2v2m0 100v2m2-276v2m0 266v2m0 52v2m3-332v2m0 62v2m4 142v2m0 68v2m0 22v2m0 12v2m3-136v2m2 84v2m0 14v2m2-212v2m0 102v2m3 136v2m2-312v2m0 16v2m0 158v2m0 138v2m5-140v2m0 56v2m0 66v2m2-318v2m0 4v2m0 16v2m0 14v2m0 2v2m0 188v2m0 96v2m2-326v2m3 78v2m0 210v2m2-226v2m2-84v2m0 16v2m0 70v2m0 84v2m0 132v2m3-246v2m0 24v2m0 180v2m2-234v2m0 240v2m0 14v2m2-280v2m0 50v2m0 112v2m0 20v2m3-204v2m0 152v2m0 50v2m2-24v2m0 2v2m0 134v2m2-328v2m0 26v2m0 314v2m5-332v2m0 256v2m0 20v2m5-134v2m0 34v2m2-156v2m0 128v2m0 22v2m0 24v2m0 20v2m0 68v2m0 4v2m2-304v2m0 58v4m0 244v2m3-166v2m0 10v2m0 134v4m2-226v2m0 200v2m0 8v4m2-294v2m0 24v2m0 28v2m0 126v2m3-152v2m0 158v2m0 96v2m2-272v2m0 156v2m2-144v2m0 124v2m0 50v2m3-188v2m0 130v2m0 18v2m0 146v2m2-172v2m0 18v2m0 16v2m0 92v4m2-136v2m0 28v2m0 2v2m0 98v2m3-148v2m0 64v2m0 82v2m0 20v2m2-318v2m0 26v2m0 4v2m0 260v2m0 30v2m2-312v2m0 4v2m0 240v2"/>
<path stroke="#30ffcf" stroke-width="3" d="M170.5 282v2m0 148v2m7-158v2m0 188v2m140 74v2m301-118v2m7-134v2m0 236v2m14-98v2m0 100v2m63-110v2m0 24v2m7 106v2m14-260v2m0 246v2m14-300v2m0 178v2m7 112v2m7-282v2m56 184v2m7-190v2m0 272v2m7-272v2m14 166v2m0 118v2m14-300v2m0 8v2m0 270v2"/>
<path stroke="#40ffbf" stroke-width="1" d="M533.5 296v2"/>
<path stroke="#40ffbf" stroke-width="2" d="M145 444v2m2-170v2m0 180v2m0 100v2m3-284v2m0 156v2m2 128v2m2-120v2m3 16v2m2 98v2m7-16v2m2-280v4m0 288v2m5-258v2m2 144v2m0 96v2m5-244v2m7-6v2m7 18v2m0 144v2m2-168v2m0 168v2m3-6v2m2-8v2m5-28v2m2 112v2m2-120v4m0 110v2m3-120v2m4-8v2m0 6v2m5 38v2m2-18v2m12 106v2m5-12v2m9 8v2m2-22v2m3-274v2m0 12v2m0 260v2m2-262v2m2-20v2m0 166v2m5-4v2m9 106v2m5-12v2m2 6v2m3-122v2m2-142v2m5 266v2m7-118v2m0 116v2m4-130v2m0 122v2m7-8v2m3 4v2m2-120v2m14 102v2m19-12v2m2-96v2m2-144v2m0 142v2m3 106v2m2-252v2m2 262v2m5-124v2m2-158v2m5 156v2m0 124v2m5-110v2m0 74v2m2-96v2m0 98v2m2 26v2m3-136v2m4-158v2m0 144v2m0 10v2m0 102v2m5-234v2m0 234v2m0 20v2m5 6v2m2-306v2m0 28v2m2 128v2m0 90v2m3-244v2m0 140v2m0 12v2m0 104v2m2-74v2m0 58v2m0 34v2m2-258v2m0 2v2m3 226v2m2-288v2m0 62v2m0 112v2m2-184v2m3 186v2m4-178v2m5 314v2m2-276v2m3 212v2m2 24v2m2-124v2m0 38v2m3 98v2m2-144v2m0 152v2m2-48v2m3-66v2m0 104v2m2-146v2m0 126v2m5-146v2m2-150v2m0 266v2m2-262v2m3 156v2m0 142v2m2-134v2m2-158v2m0 286v2m3-284v2m0 264v2m2-112v2m0 94v2m0 4v2m2-248v2m3 136v2m0 120v2m0 8v2m2-278v2m0 268v2m2 10v2m5-304v2m0 144v2m0 136v2m2-126v2m3 2v2m0 86v2m2-86v2m0 2v2m0 108v2m2-142v2m0 20v2m3-152v2m0 142v2m2-20v4m2 126v2m7 4v2m3-134v2m0 122v2m2-248v2m0 118v2m2 2v2m0 130v2m3-20v2m4-10v2m5 30v2m2-296v2m3 26v2m0 150v2m4 108v2m3-282v2m0 18v2m4 148v2m3-168v2m0 150v2m2 130v2m2-268v2m0 130v2m0 108v2m7-92v2m3 4v2m0 102v2m2-282v2m2-8v2m5 274v2m5-120v2m2-142v2m5-20v2m0 170v2m0 100v2m4-118v2m3-6v2m2-150v2m0 146v2m0 108v2m2-278v2m10 16v2m4-12v2m7-4v2m14 20v2m0 266v2m12-292v2m7 270v2m0 2v2m2-272v2m0 20v2m3 234v2m7-268v2m0 182v2m2-156v2m2-30v2m3 26v2m7 150v2m0 102v4m9-288v2m5 158v2m0 4v2m4 10v2m3 112v2m4-268v2m0 124v2m0 138v2m5-264v2m2 246v2m5-248v2m2 246v2m5-120v2m7-130v2m0 122v2m0 118v2m0 2v2m2-280v2m5 154v2m0 132v2m9-110v2m12-156v2m2 236v2m0 24v2m7-26v2m5-254v2m2 0v2m3 172v2m0 80v2m7-248v2m0 254v2m0 6v2m2-280v2m0 274v2m2-296v2m0 266v2m3-268v2m0 176v2m4-146v2m5-38v2m0 158v2m2 26v2m0 80v2m0 26v4m3-122v2m2-176v2m0 174v2m2-178v2m0 12v2m3 160v2m2-176v2m0 150v2m7-144v2m7 146v2m2 0v2m12-154v2m0 16v2m0 236v2m2 2v2m12-272v2m0 4v2m2 4v2m5-6v2m0 152v2m2 8v2m3-164v2m2 16v2m0 156v2m2-6v2m3-186v2m0 34v2m0 132v2m7-192v2m0 32v2m0 30v2m0 122v2m0 122v2m2-304v2m2 48v2m3-34v2m0 34v2m0 122v2m2 6v2m2-162v2m3 24v2m0 120v2m0 100v2m2-76v2m0 90v2m0 8v2m2-304v2m0 60v2m0 242v2m3-314v2m0 22v2m2 56v2m2-50v2m0 30v2m0 6v2m0 90v2m0 104v2m3-244v2m0 284v2m4-140v2m0 26v2m3 60v2m0 52v2m2-322v2m0 268v2m2-266v2m0 54v2m0 222v2m0 10v2m3-40v2m2-60v2m0 56v2m0 38v2m2-306v2m0 34v4m0 126v2m0 128v2m3-284v2m0 6v2m0 192v2m0 60v2m2-126v2m0 24v2m0 26v2m0 52v2m2 32v2m3-244v2m0 220v2m0 30v2m2-282v2m0 60v2m0 94v2m0 36v2m0 82v2m0 16v2m2-330v2m0 2v2m3-20v2m0 104v2m2 184v2m2-240v2m3 180v2m0 78v4m2-302v2m0 54v2m0 212v2m0 6v2m0 12v2m2-84v2m0 54v2m0 8v2m3-90v2m0 24v2m2 58v2m0 38v2m2-294v2m0 304v2m3-302v2m0 4v2m0 8v2m0 164v2m2-154v2m0 242v2m2-286v2m0 290v2m3-288v2m0 12v2m0 216v2m2 10v2m2-236v2m0 22v2m3-12v2m2 0v2m0 106v2m0 136v2m0 34v2m2-320v2m0 150v2m0 124v2m0 32v2m3-268v2m0 128v2m0 32v2m2-16v2m0 72v2m0 40v2m2-282v2m0 146v2m0 30v2m0 50v2m0 38v2"/>
<path stroke="#40ffbf" stroke-width="3" d="M170.5 280v2m14-12v2m0 172v2m0 106v2m7-240v2m196-12v2m217 232v2m7-94v2m0 82v2m7-82v2m7-180v2m0 260v2m70-254v2m7 258v2m7 22v2m7-286v2m7 170v2m7-186v2m7 178v2m7-188v2m63 10v2m7 260v2m7 0v2m0 18v2m7-108v2m0 86v2m7 14v2m14-88v2m0 72v2"/>
<path stroke="#50ffaf" stroke-width="2" d="M143 318v2m0 116v2m2 132v2m2-298v2m0 274v2m7-274v2m0 26v2m14 134v2m5 18v2m0 86v2m14-240v2m0 152v2m0 102v2m2-270v2m0 130v2m5-162v2m0 24v2m5-30v2m0 44v2m2-16v2m2-34v2m3 4v2m9 24v2m0 248v2m0 10v2m7-110v2m2-164v2m3 0v2m0 264v2m0 4v2m2-4v2m2-294v4m0 156v2m0 26v2m0 106v2m5-296v2m0 158v4m0 118v2m2-6v2m3-4v2m2 8v2m2-118v2m3 88v2m2-106v2m5 122v2m2-114v2m0 84v2m5-258v2m2 154v2m0 98v2m2-96v2m3-166v2m7 12v2m2 2v2m0 150v2m0 108v2m2-266v2m10 246v2m0 20v2m2-122v2m5-14v2m0 14v2m2-4v2m5-168v2m2 10v2m2-14v2m14 4v2m0 272v2m5-122v2m5-160v2m4 274v2m5-122v2m0 122v2m5-262v2m9 240v2m5-4v4m7 6v2m2-268v2m0 172v2m2 106v2m7-290v2m0 178v2m3 84v2m2-268v2m0 22v2m0 262v2m2-258v2m7 240v2m3 26v2m2-134v2m2 80v2m3 50v2m2-122v2m0 72v2m0 34v2m2-140v2m0 132v2m3-132v2m2-138v2m2-48v2m0 182v2m0 128v2m0 6v2m3-148v2m0 106v2m2-126v2m0 14v2m0 98v2m2-238v2m0 254v2m7-244v2m0 216v2m3-260v2m0 40v2m0 242v4m2-100v2m0 74v2m0 18v2m5-260v2m0 118v2m0 42v2m0 62v2m0 46v2m2-310v2m0 4v2m0 286v2m2-300v2m3 24v4m0 238v4m2-244v2m0 234v2m0 10v2m2-110v2m3-156v2m0 262v2m2-252v2m0 140v2m0 130v2m2-136v2m3 100v2m0 4v2m2-82v2m0 70v2m0 26v2m2-284v2m0 20v2m0 250v2m3-14v2m0 36v2m2-162v2m0 142v2m2-110v2m0 72v2m3 30v2m2-102v2m2 70v2m3-98v2m0 2v2m0 106v2m2-4v2m2 12v2m5-16v2m2-274v2m0 20v2m0 126v2m7-130v2m0 236v2m3 10v2m2-252v2m2 250v2m3-254v2m2 132v2m2-154v2m0 144v2m0 16v2m0 6v4m3 96v2m2-272v2m0 276v2m5-268v2m0 4v2m4 240v2m3-262v2m0 152v2m2-152v2m5 164v2m0 98v2m0 16v2m2-286v2m0 12v2m0 150v2m0 88v2m2 16v2m5-278v2m2 172v2m3-26v2m0 132v2m4-290v2m0 154v2m3 108v2m2-92v2m2-30v2m0 4v2m7 4v2m3-6v2m0 128v2m4-292v2m3 180v2m2-158v2m0 128v2m0 4v2m2 18v2m3-188v2m0 26v2m0 248v2m4-2v2m3-266v2m0 262v2m7-276v2m0 18v2m0 158v2m0 92v2m2-110v2m0 110v2m7-288v2m2 184v2m14-184v2m0 260v2m5-262v2m0 180v2m7-172v2m0 162v2m7-154v2m2-34v2m3 32v2m0 258v2m2-126v2m0 102v2m2-262v2m0 260v2m5-276v2m0 168v2m5-166v2m0 176v2m0 4v2m4-158v2m0 242v2m0 12v2m3-282v2m2-2v2m2-10v2m3 2v2m4 268v2m5-82v2m2 78v2m3-246v2m0 158v2m2 90v2m7-280v2m0 154v2m9-162v2m0 166v2m5 0v2m7-176v2m0 186v2m7-160v2m0 248v2m2 2v2m7-120v2m0 114v2m5-114v2m2-132v2m5 2v2m2 130v2m0 102v2m5-274v2m0 156v2m2 22v2m7 6v2m5 80v2m5-276v2m0 156v2m0 18v2m2-166v2m0 14v2m0 128v2m0 18v2m2 88v2m3-94v2m0 88v2m4-232v2m5-6v2m2 4v2m3-24v2m0 256v2m0 8v2m4-260v2m5-2v2m0 260v2m2-284v2m5 152v2m0 26v2m7 74v2m2-262v2m0 4v2m0 12v2m0 240v2m5 32v2m2-118v2m5-20v2m2-136v2m5-30v2m0 22v2m2-14v2m5 148v2m0 16v2m0 104v2m2-2v2m5-108v2m0 108v2m5-298v2m0 272v2m2-274v2m2 30v2m0 138v2m0 10v2m3-206v2m0 66v2m0 144v2m0 80v2m0 12v2m2-280v2m0 22v2m0 2v2m0 234v2m0 2v2m5-248v2m0 140v2m2-166v2m0 10v2m0 134v2m0 16v2m2-204v2m0 48v2m0 4v2m0 114v2m0 46v2m0 20v2m3-56v2m2-162v2m0 10v2m2 264v2m3-262v2m2-2v2m0 156v2m0 122v2m2-340v2m0 34v2m0 34v2m0 6v2m0 148v2m0 80v2m3-130v2m2-102v2m0 94v2m0 28v2m2-208v2m0 64v2m0 122v2m0 20v2m3-196v2m0 282v2m0 12v2m2-126v2m0 14v2m0 82v2m2-274v2m0 180v2m0 140v2m3-150v2m0 24v2m0 70v2m2-224v2m0 220v2m0 20v2m2-280v2m0 190v2m3 84v2m0 2v2m2-280v2m0 256v2m0 12v2m2-130v2m0 4v2m3-194v2m2 276v2m5-250v2m0 2v2m0 26v2m0 142v2m0 78v2m2-256v2m0 270v2m0 6v2m2 16v2m3-166v2m2-168v2m0 24v2m0 26v2m2-36v2m0 28v2m0 26v2m0 104v2m0 4v2m0 20v2m3-206v2m0 10v2m0 28v2m0 138v2m2-180v2m0 208v2m2 114v4m3-274v2m0 242v2m0 16v2m2-292v2m0 32v2m0 246v2m2-268v2m3 268v2m0 8v2m2-134v2m5-38v2m0 110v4m2-58v2m2-204v2m0 14v2m0 24v2m0 6v2m0 132v2m3-26v2m0 18v2m2-154v2m2 142v2m0 86v2m0 24v2m0 40v2m3-172v2m0 52v2m0 50v2m0 8v2m4-260v2m0 22v2m0 218v2"/>
<path stroke="#50ffaf" stroke-width="3" d="M163.5 554v2m7-246v2m7 158v2m7-34v2m420-144v2m0 154v2m7 100v2m7-282v2m7 0v2m0 264v2m7 16v2m63-138v2m14 28v2m7-180v2m0 142v2m7-122v2m0 260v2m7-290v2m0 264v2m7-270v2m7 152v2m0 8v2m0 18v2m7-30v2m7 22v2m49-186v2m28 4v2m0 10v2m7 154v2m0 94v2"/>
<path stroke="#60ff9f" stroke-width="2" d="M143 440v2m4 122v2m3-262v2m0 136v2m2-158v2m2 260v2m5 14v2m2-290v4m5 24v2m0 160v2m0 82v2m2-252v2m0 158v2m7-4v2m5 94v2m2-258v2m5 158v2m2-188v2m0 190v2m0 86v2m5-252v2m2 156v2m0 108v2m0 6v2m3-294v2m0 144v2m4-140v2m3-26v2m4 8v2m0 22v2m0 2v2m0 158v2m3 84v2m4-254v2m0 138v2m0 12v2m3 116v2m2-272v2m0 158v2m2-188v2m0 288v2m5-290v2m2 12v2m0 270v2m5-274v2m0 274v2m2-12v2m3-118v2m2-2v2m5 110v2m2-10v2m2 4v2m5-262v2m0 4v2m0 146v2m0 98v2m2-264v2m3 156v2m4 110v2m3-116v2m0 90v2m0 12v2m2-104v2m7-172v2m0 8v2m7 150v2m2-10v2m3-154v2m2 162v2m0 104v2m0 2v2m2 6v2m3-290v2m0 6v2m0 250v2m0 2v2m4-98v2m7 92v2m5-98v2m9 114v2m3-126v4m0 2v2m4 100v4m3-262v2m7 260v2m2 8v2m5-270v2m7 162v2m9-12v2m0 94v2m9-236v2m3-6v2m0 244v2m2-274v2m5-2v2m0 178v2m0 120v2m9-140v2m2-168v2m0 168v2m0 6v2m5 10v2m2-22v2m0 24v2m0 46v2m3-74v2m0 102v2m2-274v2m2 268v2m3-272v2m0 26v2m0 122v2m0 110v2m0 32v2m2-108v2m0 2v2m2 50v2m0 10v2m3-226v4m0 158v2m2-170v2m0 240v2m0 16v2m2-290v2m5 22v4m0 258v2m2-288v2m0 164v2m3-130v4m0 142v2m4 68v2m5 12v2m2-256v2m0 276v2m5-262v2m2-40v2m0 36v2m3 124v2m4-142v2m3-24v2m0 248v4m0 36v2m2-140v2m2-122v2m3-4v2m2-38v2m0 4v2m2-4v2m0 24v2m0 124v2m0 30v2m0 122v2m3-278v2m0 152v2m7-44v2m0 8v2m0 108v2m2-272v2m0 174v2m0 2v2m2-148v2m0 232v2m5-256v2m2 166v2m3 114v2m2-276v4m2 252v2m0 8v2m3-138v2m2-118v2m12-32v2m2 170v2m0 92v2m9-94v2m0 106v2m0 8v2m3-284v2m0 162v2m4 2v2m3-6v2m2-170v2m2 156v2m3 102v2m4-248v2m3 152v2m2 114v2m2-270v2m3-22v2m0 172v2m4 110v2m3-268v2m2 134v2m0 108v2m5-108v2m0 14v2m2-162v2m5-20v2m2 16v2m2 252v2m3-274v2m0 18v2m0 158v2m4-160v2m0 130v2m7 116v2m7-102v2m0 100v2m5-112v2m2-174v2m0 184v2m12-188v2m0 6v2m0 22v2m2 236v2m5-92v2m0 100v2m0 8v2m7-280v2m0 16v2m7 148v2m2-16v2m3-168v2m0 188v2m0 100v2m4-20v2m3-274v2m0 274v2m2-270v2m2 154v2m7-158v2m7 266v2m3-286v2m4 6v2m0 8v2m0 12v2m3-4v2m0 252v2m0 14v2m2-284v2m0 14v2m0 136v2m5-140v2m11-14v2m5 286v2m2-28v2m5-90v2m0 2v2m0 76v2m2-256v2m5-10v2m9-2v2m5 26v2m0 254v2m7-304v2m0 286v2m0 16v2m2-136v2m7-170v2m0 36v2m5-28v2m0 264v2m0 4v2m7-280v4m0 38v2m0 254v2m2-272v2m0 8v2m3-40v4m2 262v2m5-248v2m4 10v2m0 120v2m5-132v2m0 172v2m2-26v2m3-146v2m0 128v2m2-4v2m2-152v2m0 20v2m3 2v2m2 252v2m9-16v2m7-262v2m0 4v2m5 4v2m0 4v2m0 236v2m2-96v2m5 6v2m2 4v2m7-166v2m0 244v2m0 16v2m7-260v2m0 152v2m12-170v2m0 270v2m7-280v2m0 182v2m0 90v2m0 4v2m2-254v2m3 252v2m4-308v2m0 10v2m0 192v2m3-164v2m0 132v2m0 22v2m0 16v2m2-242v2m0 50v2m0 22v2m0 224v2m5-252v2m0 12v2m0 230v2m0 36v2m4-252v2m0 236v2m0 14v2m3-134v2m2-138v2m0 110v2m2-170v2m0 286v2m3-224v2m0 106v2m2-176v2m0 34v2m0 150v2m0 4v2m2-184v2m3-22v2m0 4v2m0 182v2m0 40v2m2-240v2m2 234v2m0 98v2m0 8v2m3-344v2m0 208v2m2-172v2m2-30v2m0 164v2m0 20v2m0 8v2m0 88v2m3-264v2m2 50v2m0 96v2m0 2v2m0 106v2m2-286v2m0 26v2m3 228v2m0 44v2m2-290v2m0 200v2m2-228v2m0 46v2m0 186v2m0 108v2m3-346v2m0 2v2m0 166v2m0 136v2m2-240v2m2-10v2m0 252v2m3-256v2m0 24v2m0 80v2m0 34v2m2-192v2m2-16v2m0 10v2m0 196v2m0 60v2m3-276v2m0 194v2m0 102v2m2 4v2m0 16v2m2-266v2m0 102v2m0 14v2m3 152v4m2-306v2m0 38v2m0 132v4m2-10v2m0 128v2m3-324v2m0 50v2m2-38v2m0 18v2m0 148v2m0 16v2m2-64v2m0 10v2m0 38v2m5-156v2m0 14v2m0 176v2m0 90v2m2-308v2m0 240v2m3-4v2m2-258v2m0 252v2m0 6v2m2-16v2m0 38v2m3-284v2m0 166v2m0 14v2m2-10v2m0 28v2m0 64v2m2-286v2"/>
<path stroke="#60ff9f" stroke-width="3" d="M163.5 276v2m0 156v2m0 126v2m14-284v2m7 172v2m0 8v2m7-2v2m0 88v2m196 12v2m217-306v2m0 276v2m7-270v2m0 260v2m21-268v2m0 2v2m0 2v2m63 264v2m7-108v2m14 102v2m0 2v2m14-270v2m14 256v2m14-80v2m49-180v2m7 170v2m7 88v2m0 18v2m7-286v2m21 8v2m0 22v2m0 238v2"/>
<path stroke="#70ff8f" stroke-width="2" d="M143 308v2m0 156v2m4-186v2m0 172v2m10-146v2m0 254v2m4-266v2m0 134v2m5-132v2m2 126v2m0 22v2m0 90v2m5-254v2m2 160v2m5-190v2m0 182v2m0 102v2m2-260v2m5-22v2m0 22v2m0 150v2m7-156v2m0 116v2m2 10v2m0 116v2m3-100v2m4-160v2m0 10v2m3 148v2m2-12v2m0 104v2m0 4v2m0 2v2m5-114v2m2 16v2m0 80v2m2 20v2m3-148v2m0 2v2m0 32v2m0 80v2m2-278v2m5 156v2m0 30v2m2-18v2m2-168v2m0 292v2m7-38v2m3-270v2m0 2v2m0 10v2m4 272v2m10-270v2m2-26v4m2 270v2m7-272v2m0 164v2m0 90v2m3-260v2m2 162v2m2-146v2m3-24v2m0 166v2m2-154v2m0 258v2m5-264v2m4 264v2m3-24v2m2-240v2m2 134v2m10 2v2m0 104v2m0 8v2m2-274v2m2 174v2m5-166v2m2 0v2m0 146v2m0 98v2m5-262v2m0 152v2m2 104v4m3 6v2m2-272v2m0 170v2m2-164v2m0 138v2m5-6v2m0 8v2m0 96v2m2-92v2m3-154v2m0 144v2m2 12v2m0 100v2m12-14v2m2 12v2m2-274v2m3 152v2m2-156v2m0 162v2m0 114v2m2-116v2m0 88v2m0 16v2m3-20v2m2 2v2m0 2v2m9-92v2m3-148v2m0 222v2m0 2v2m4-268v2m0 178v2m5-196v2m0 16v2m0 162v2m0 76v2m2 14v2m3-122v2m2-166v2m0 206v2m5 74v2m0 20v2m2-116v2m0 20v2m2-164v2m0 210v2m3 0v2m2-252v2m0 242v2m0 16v2m7-270v2m0 200v2m0 108v2m2-28v2m3-130v2m0 44v2m0 68v2m2-16v2m2 20v2m0 10v2m0 4v2m5-272v2m0 234v2m2 14v2m3-112v2m0 102v2m2-256v2m0 140v2m0 102v2m0 30v2m12-260v2m0 120v2m2 88v2m2-222v2m5 116v2m2-152v2m0 34v2m0 138v2m3 116v2m4-288v2m3 10v2m2-22v2m0 8v2m0 144v2m0 138v2m2-290v2m0 180v2m3-162v2m0 232v2m4 10v2m3-94v2m2-180v2m0 20v2m0 142v2m0 90v2m2-106v2m3-152v2m2 168v2m2-12v2m7-160v2m0 160v2m3-150v2m0 138v2m2-140v2m0 152v2m5-170v2m0 14v2m2-8v2m2-16v2m0 2v2m5 0v2m0 160v2m2-4v2m0 116v2m5-282v2m0 164v2m2 92v2m3-2v2m0 16v2m7-288v2m0 26v2m0 146v2m4-146v2m0 124v2m3 8v2m2-2v2m2 102v2m3-108v2m0 104v2m0 4v2m2-274v2m0 12v2m2-22v2m0 160v4m0 108v2m3-112v2m0 110v2m2-266v2m0 150v2m7-6v2m2-158v2m3 168v2m0 4v2m2-182v2m0 164v2m2 104v2m3 6v2m7-264v4m2-14v2m0 12v4m5-24v2m0 156v2m0 116v2m9-260v2m0 250v2m0 12v2m2-130v2m7-166v2m0 30v2m5 138v2m2-168v2m5 272v2m7-270v2m0 14v2m0 248v2m2-266v2m0 172v2m5-2v2m2-164v2m3-38v2m2 16v2m5-22v2m4 40v2m3 132v2m0 12v2m2-148v2m2 134v2m0 124v2m5-298v2m0 2v2m0 12v2m5 10v2m2 138v2m7-170v2m5 274v2m0 16v2m2-124v2m2 116v2m5-256v2m2 240v2m0 18v2m5-112v2m0 104v2m2-260v2m0 10v2m5 136v2m0 2v2m2-26v2m5-162v2m0 22v2m2-28v2m0 12v2m0 252v2m7 12v2m5-254v2m2-30v2m5 178v2m9 102v2m7-288v2m0 154v2m5 26v2m0 96v2m2-280v2m0 2v2m3 282v2m2-274v2m2 250v2m5-100v2m5-150v2m0 246v2m4-244v2m3 128v2m2-144v2m2 6v2m0 6v2m0 248v2m3-282v2m0 180v2m2-166v2m2 150v2m0 86v2m3-104v2m0 134v2m2-284v2m0 170v2m0 82v2m2-110v2m5-166v2m2 280v2m5-264v2m0 254v2m2-4v2m7-88v2m5-160v2m0 244v2m2 8v2m5-260v2m0 136v2m2 12v2m5-164v2m0 276v2m7-110v2m2 88v2m5-274v2m0 178v2m0 88v2m5-232v2m0 144v2m2-4v2m2-208v2m0 198v2m0 90v2m0 18v2m3-278v2m2-20v2m0 20v2m2 244v2m3-266v4m4-24v2m3 48v2m2-46v2m2 70v2m3-62v2m0 28v2m0 118v2m0 46v2m0 72v2m0 2v2m0 6v2m2-140v2m0 102v2m0 18v2m0 6v2m2-296v2m0 286v2m3-266v2m2 242v2m0 46v2m2-268v2m5-44v2m0 66v2m0 90v2m0 2v2m0 34v2m2 102v2m0 24v2m3-18v2m0 4v2m2-30v2m0 20v2m2-240v2m0 114v2m0 110v2m3-310v2m0 178v2m0 20v2m2-170v2m0 20v2m0 146v2m0 8v2m0 80v2m0 26v2m2-40v2m0 24v2m0 12v2m3-110v2m2-216v2m0 22v2m2-44v2m0 82v2m3 90v2m0 134v2m2-238v2m0 90v2m0 34v2m0 86v2m2-214v2m0 92v2m0 50v2m3-46v2m0 76v2m0 30v2m0 34v2m2-312v2m0 4v2m0 16v2m2 234v2m0 56v2m3-30v2m2-274v2m0 254v2m2-240v2m0 38v2m0 200v2m0 4v2m0 24v2m3-266v2m0 14v2m0 98v2m0 96v2m0 22v2m2-258v2m0 196v2m0 40v2m0 36v2m0 4v4m2-112v2m3-204v2m0 12v2m0 144v2m0 12v2m0 18v2m0 68v2m2-238v2m0 20v2m0 110v2m2 118v2m3-262v2m0 238v2m2-108v2m0 60v2m2-218v2m0 270v2m3-248v2m0 136v2m2-138v2m0 244v2m0 20v2m2-292v2m0 2v2m0 178v2"/>
<path stroke="#70ff8f" stroke-width="3" d="M163.5 462v2m0 102v2m7-268v2m0 134v2m7-124v2m0 122v2m0 2v2m0 126v2m7-300v2m0 300v2m203-56v2m217-246v2m7 274v2m14-284v2m7 20v2m7-22v2m0 8v2m0 268v2m63-4v2m14-272v2m0 22v2m0 118v2m7-160v2m0 272v2m7-108v2m7-14v2m7-174v2m0 4v2m0 40v2m0 132v2m14-144v2m0 162v2m49 10v2m21 86v2m7-98v2m7-174v2"/>
<path stroke="#80ff80" stroke-width="2" d="M143 276v2m2 0v2m0 20v2m0 162v2m5-158v2m0 240v2m4 18v2m3-134v2m4-12v2m0 2v2m5 28v2m2-180v2m5 18v2m0 132v2m2 28v2m5-168v2m0 164v2m2-200v2m7 34v2m5 246v2m2-246v2m0 130v2m0 132v2m3-258v2m0 252v2m2-20v2m5-244v2m0 256v2m2-272v2m2 268v2m3-12v2m0 10v2m4-262v2m5 150v2m2-26v2m0 6v2m0 100v2m10-274v4m0 166v2m0 110v2m2-272v2m2 270v2m3-124v2m2-12v4m2 124v2m3-122v2m2 100v2m2-266v2m0 166v2m3-168v2m2 160v2m2-146v2m3-12v2m2 260v2m2-108v2m3-174v2m0 172v2m0 88v2m2-106v2m2-146v2m3 142v2m0 122v2m9-118v2m0 108v2m2-274v2m3 14v2m4 254v2m10-272v2m7 8v2m2 150v2m9-170v2m0 160v2m7-160v2m0 164v2m0 106v2m3-14v2m0 2v2m9-98v4m12-158v2m0 142v2m2-154v2m7 6v2m0 242v2m0 2v2m2-8v2m3 0v2m9 12v2m2-276v2m0 262v2m3-272v2m0 26v2m0 230v2m2-84v2m2-172v2m0 158v2m5-144v2m0 4v2m2 134v2m0 124v4m3-300v2m0 270v2m2-22v2m2 6v2m0 24v2m3-134v2m4-6v2m0 108v2m0 38v2m3-30v2m0 10v2m2-132v2m0 108v2m2 0v2m3-94v2m0 86v2m2-236v2m0 10v2m2 152v2m3-178v2m0 178v2m2-176v2m2-26v4m0 26v2m0 152v2m7-156v2m0 216v2m3-204v2m2-16v2m0 252v2m2-292v2m0 150v2m0 16v2m0 22v2m0 80v2m3-254v2m0 8v2m4-16v2m0 14v2m0 122v2m5-128v2m0 118v2m0 30v2m0 70v2m0 12v2m2-102v2m0 86v2m3-254v2m0 18v2m0 6v2m0 236v2m2-2v2m5-100v4m4 98v2m3-112v2m2-134v2m0 252v2m2-138v2m0 22v2m0 100v2m3-122v2m2-128v2m5 132v2m11 108v2m5-130v2m0 116v2m2 4v2m3-266v2m0 146v2m0 20v2m2-170v2m0 10v2m0 260v2m2-282v2m0 16v2m0 150v2m5-8v2m2-10v2m3 114v2m7-92v2m2-162v2m5 154v2m11-156v2m3-16v2m2 260v2m2-270v2m3 2v2m0 150v2m0 120v2m7-280v2m2 2v2m5-6v2m0 168v2m2 94v2m14-114v2m2 18v2m0 2v2m3-6v2m2-162v2m7 136v2m0 108v2m7-246v2m9 260v2m5-112v2m9-174v4m0 152v4m5 126v2m2-294v2m0 160v2m14-156v2m0 280v2m3-272v2m2 144v2m9-170v2m0 20v2m0 144v2m3-158v2m0 10v2m0 264v2m2-136v2m2 10v2m0 106v2m3-96v2m2-12v2m0 10v2m5 0v2m2-162v2m0 250v2m2 8v2m5-278v2m0 278v2m9-102v2m5-180v2m0 164v2m0 2v2m2-156v2m5 250v2m2-114v2m5-166v2m0 8v2m0 148v2m0 110v2m7-94v2m2-198v2m0 194v2m5 118v2m2-314v2m0 12v2m0 146v2m0 32v2m0 102v2m5-266v2m2 148v2m5-182v2m0 30v2m0 150v2m2-158v2m0 158v2m0 88v2m5-120v2m0 38v2m2-174v2m14 2v2m3-2v2m0 128v2m2-162v2m5 6v2m0 28v2m4-10v2m3 120v2m4 8v2m3-134v4m0 254v2m2-114v2m0 6v2m2-182v2m0 276v2m3-278v2m2 18v2m0 240v2m0 14v2m2-124v2m0 130v2m33-18v2m2-110v2m0 10v2m7 0v2m5-166v2m0 174v2m2-12v2m3-184v2m2 16v2m2 172v2m3 84v2m0 10v2m2-262v2m0 12v2m2 8v2m3-44v2m0 264v2m2-264v2m0 12v2m0 240v2m2-258v2m3-36v2m0 6v2m0 16v2m4-14v2m3 202v2m4-204v2m0 292v2m0 2v2m5-110v2m0 114v2m5-172v2m0 42v2m0 118v2m4-292v2m0 254v2m3-62v2m0 86v2m0 14v2m2-302v2m0 272v2m2-286v2m0 154v2m0 34v2m0 76v4m3-104v2m2 116v2m5-304v2m0 12v2m0 180v2m0 12v2m0 4v2m0 104v2m2-294v2m0 158v2m0 86v2m2-214v2m0 102v2m0 20v2m0 110v2m3-30v2m0 8v2m2-4v2m0 6v2m0 4v2m0 4v2m2-274v2m0 158v2m0 66v2m3 44v4m2-268v2m0 30v2m0 96v2m0 46v2m0 54v2m0 10v2m2-242v2m0 236v2m0 14v2m3-120v2m0 6v2m2-138v2m0 220v2m2-198v2m0 118v2m3-210v2m0 324v2m0 2v2m4-312v2m3 168v2m2-138v2m2-36v2m0 8v2m0 156v2m3-128v2m2-16v2m0 190v2m0 52v2m0 40v2m2-146v2m0 18v2m0 4v2m0 54v2m0 62v2m3-42v2m4 38v2m3-310v2m0 158v2m2-2v2m0 6v2m0 100v2m2-276v2"/>
<path stroke="#80ff80" stroke-width="3" d="M163.5 444v2m14-176v2m0 14v2m0 8v2m7 256v2m7-250v2m0 248v2m0 10v2m126-288v2m0 8v2m287 154v2m21-2v2m14-18v2m0 122v2m56-282v2m14 4v2m21 16v2m0 254v2m7-250v2m0 116v2m7-4v2m0 118v2m0 14v2m14-268v2m49 152v2m7 102v2m7-250v2m0 258v2m7-290v2m0 158v2m7-10v2m0 18v2m7-162v2m0 14v2m0 236v2m7-228v2"/>
<path stroke="#8fff70" stroke-width="2" d="M145 310v2m0 2v2m0 122v2m2 0v2m5 16v2m2-188v4m0 166v2m3 110v2m2-124v2m2 2v2m0 128v2m5-270v2m0 160v2m7-196v2m0 176v2m2-138v2m0 118v2m0 30v2m7-26v2m12-172v2m0 186v2m5-188v2m0 4v2m0 28v2m0 162v2m4-28v2m3-142v2m0 266v2m2-138v2m0 34v2m2-194v2m0 274v2m0 18v2m5-306v2m0 2v2m5-2v2m0 32v2m4-34v2m0 184v2m12-174v2m5 144v2m2 10v2m9-176v2m5 4v2m2-2v2m3 276v2m2-12v2m7-276v4m0 20v2m5 254v2m4-126v2m0 120v2m7-8v2m3-268v2m2 252v2m2-244v2m5-16v2m0 254v2m2-242v2m3 134v2m4 6v2m12-148v2m2 0v2m5 136v2m0 98v2m0 6v2m2 14v2m3-264v2m9-16v2m0 10v2m5 6v2m0 236v2m7-244v2m2 262v2m2-280v2m3 152v2m0 4v2m7-152v2m4 146v2m3 0v2m7-150v2m2-32v2m0 44v2m9-48v2m0 42v2m0 146v2m0 96v2m3-4v2m2 2v2m0 8v2m0 2v2m2-296v2m3 152v2m0 26v2m0 4v2m0 76v2m2 24v2m2-112v2m0 58v2m5-256v2m0 266v2m0 2v2m2-270v2m0 6v2m3 186v2m0 6v2m2-206v2m0 176v2m0 72v2m2 4v2m3-88v2m0 126v2m2-104v2m2-158v2m0 94v2m0 140v2m3-96v2m2-194v2m0 262v2m0 8v2m0 8v2m2-104v2m0 20v2m3-178v2m0 240v2m2-272v2m0 2v2m0 160v2m0 36v2m0 54v2m2-210v2m5 252v4m2-158v2m0 150v2m0 2v2m3-300v2m0 12v2m0 172v2m2-152v2m2-46v2m0 256v2m0 40v2m3-36v2m4-258v2m3 160v2m0 92v2m2-262v2m2 172v2m7 94v2m3-280v2m7 158v2m7-140v2m0 170v2m0 70v2m2-264v2m0 22v2m2 118v2m0 8v2m0 108v2m12-96v2m2-140v2m3 130v2m2-156v2m14 8v2m0 144v2m5-144v2m2-4v2m2 156v2m3-8v2m9 6v2m5-180v2m0 284v2m2-262v2m7-26v2m0 12v2m0 252v2m2-270v2m5-10v2m0 160v2m0 2v2m0 110v2m2-246v2m3 256v2m4-280v2m0 10v2m0 162v2m0 80v2m5-268v2m2 6v4m3 274v2m2-106v2m2-178v2m0 12v2m3-28v2m2 2v2m2-6v2m0 4v2m0 282v2m5-290v2m0 162v2m2-144v2m0 244v2m5-104v2m0 120v2m7-284v2m2 270v2m14-256v2m7 160v2m0 84v2m0 2v2m5-6v2m5 14v2m2-12v2m0 6v2m7-106v2m0 94v2m2-276v2m0 262v2m0 14v2m3-100v2m0 88v2m2-258v2m0 6v2m0 156v2m5-188v2m0 26v2m0 138v2m2-4v2m2-8v4m0 122v2m3-284v2m4 18v2m3 142v2m2-166v2m2 18v2m0 158v2m12-158v2m0 158v2m2-182v2m0 284v4m5-270v2m0 136v2m2 106v2m5-264v2m0 244v2m2-272v2m5-6v4m9 42v2m0 134v2m0 2v2m12-146v4m0 154v2m2-34v2m0 4v2m5 36v2m0 92v2m2-134v2m0 118v2m0 10v2m7-22v2m3-2v2m0 16v2m2-274v2m0 4v2m0 266v2m2-288v2m0 178v2m0 88v2m3-274v2m4 20v2m7 160v2m0 96v2m3-262v2m0 138v2m0 14v2m0 98v2m2 2v2m5-126v2m4 22v2m3-162v2m0 258v2m2-110v2m2-160v2m0 2v2m12 6v2m0 246v2m2-256v2m0 270v2m5-110v2m7-186v2m0 18v2m2 142v2m5 14v2m0 116v2m2-276v2m5 250v2m0 8v2m2-100v2m5-168v2m0 4v2m0 236v2m5-252v2m0 12v2m4-26v2m0 284v2m3-260v2m4 254v2m3-320v2m0 18v2m2 40v2m0 254v2m2-306v2m0 208v2m0 90v2m3-134v2m0 116v2m0 16v2m0 10v2m2-318v4m0 2v2m0 280v2m2-110v2m0 6v2m3-204v2m4 230v2m0 74v2m3 12v2m2-292v2m0 300v2m2-266v2m3 16v2m2-56v2m0 20v2m0 138v2m0 90v2m0 22v2m2-262v2m0 134v2m0 8v2m0 88v2m3-206v2m0 242v2m2-52v2m0 14v2m0 4v2m0 12v2m0 6v2m2-248v2m0 142v2m3-202v2m2 2v2m0 6v2m0 10v2m0 258v2m0 18v2m0 18v2m2-326v2m0 4v2m0 26v2m0 172v2m0 46v2m0 58v2m5-322v2m0 14v2m0 148v2m2-154v2m0 192v2m3 114v2m0 2v2m2-70v2m0 52v2m2-324v2m0 302v2m3-294v2m0 162v2m0 8v2m0 126v2m2-290v2m0 164v2m0 20v2m0 2v2m2-188v2m0 14v2m0 236v2m3-78v2m0 44v2m0 72v2m2-154v2m0 26v2m0 126v2m2-146v2m3 92v2m0 16v2m2-118v2m2-10v2m0 84v2m3-240v2m0 58v2m2 86v2m0 16v2m2 2v2m3-176v2m0 28v4m2 120v2m2 124v2m3-262v2m2 222v2m2-114v2m3 4v2m0 4v2m2-160v2m0 58v2m0 94v4m0 56v2m0 76v2m2-300v2m0 68v2m0 88v2m0 16v2"/>
<path stroke="#8fff70" stroke-width="3" d="M163.5 308v2m7 242v2m14-108v2m0 108v2m7 8v2m196-290v2m0 30v2m0 224v2m0 26v2m217-122v2m0 98v2m14-278v2m0 268v2m21-252v2m84 258v2m7-244v2m7-44v2m7 30v2m0 154v2m0 94v2m7-4v2m56-246v2m21 126v2m7 130v2m7-4v2m7-254v2m0 132v2m0 116v2"/>
<path stroke="#9fff60" stroke-width="2" d="M143 304v2m0 244v2m7-282v2m0 188v2m2-26v2m5-10v2m0 4v2m9-142v2m0 4v2m0 18v2m0 110v2m2-10v2m5 4v2m9 36v2m5-170v2m2-26v2m0 176v2m5 6v2m2-166v2m7 8v2m3 2v2m0 140v2m0 4v2m2-152v2m2 246v2m3-280v2m7 8v2m2 162v4m2-6v2m3-160v2m2 260v2m0 2v2m2-272v2m3 266v2m7-284v2m2 270v2m0 4v2m2 2v2m3-130v2m0 118v4m4-278v2m3 272v2m2-14v2m2-100v2m0 110v2m3-264v2m4 238v2m5-102v2m5 120v2m7-114v2m16-12v2m7 118v2m7-12v2m0 6v2m2-118v2m7-136v2m14-4v2m5 148v2m0 96v2m5-110v2m2-160v2m2 4v2m0 8v2m0 250v2m5-6v2m5-258v2m0 256v4m2-274v2m0 154v2m0 20v2m2-168v2m0 274v2m3 2v2m2-290v2m0 162v2m2-6v2m3 98v2m2-262v2m5-12v2m0 188v2m2-20v2m0 102v2m2 10v2m5-112v2m2-168v2m0 260v2m3-100v2m0 10v2m2-150v2m2-42v2m0 34v2m0 138v2m0 92v2m3-260v2m0 24v2m0 212v2m2-104v2m0 112v2m2-72v2m0 62v2m3-222v2m0 140v2m0 106v2m2-86v2m7-210v2m0 252v2m2-228v2m0 10v2m0 134v2m0 126v2m3-268v2m0 118v2m0 96v2m0 22v2m2-244v2m0 108v2m5 116v2m0 8v2m0 2v2m0 14v2m4-276v2m0 18v2m3-16v2m0 228v2m2-84v2m0 112v2m2-288v2m3 156v2m0 130v2m0 2v2m2-142v2m0 140v2m2-302v2m0 196v2m5 104v2m2-280v2m0 150v2m3 2v2m2 114v2m2-292v2m0 262v2m3-110v2m0 96v2m2-100v2m0 114v2m2-10v2m0 22v2m3-272v2m2 136v2m2-16v2m3-148v2m4 146v2m0 6v2m3-6v2m0 22v2m4-178v2m0 8v2m0 274v2m3-134v2m4-136v2m0 150v2m5-28v2m0 130v2m5-108v2m4-166v2m3 148v2m2 100v2m2-254v2m0 152v2m3 8v2m0 90v2m2-104v2m2-144v2m0 152v2m3 94v2m2 18v2m2-122v2m5-158v2m2 8v2m0 244v2m3 0v2m2-248v2m0 138v2m2-4v2m5-144v2m0 250v2m7-262v2m0 276v2m2-286v2m0 4v2m3-12v2m0 170v2m2-152v2m0 264v2m2-266v2m0 134v2m3 112v2m2-270v2m2 10v2m3 252v2m2-252v2m5-26v2m0 164v2m4-168v2m0 280v2m3-6v2m2-270v2m2-6v2m3 16v2m0 150v2m2 110v2m2-268v2m5-6v2m7 262v2m2-102v2m5-186v4m0 280v2m14-122v2m2-152v2m5-10v2m2 174v2m3-24v2m4 0v2m0 4v2m0 116v2m3-282v2m0 172v2m0 82v2m2-88v2m2-178v2m3-8v2m4 2v2m0 10v2m3-6v2m4 0v2m0 10v2m0 144v2m3-158v2m2-10v2m9 178v2m3-170v2m2 142v2m7-136v2m2 152v2m5-16v2m2 116v2m5-22v2m2-108v2m5 8v2m0 18v2m2-6v2m5-188v2m0 276v2m2-122v2m7 0v2m0 22v2m0 90v2m5-278v2m0 280v2m2-96v2m0 80v2m0 22v2m5-294v2m0 22v2m2 4v2m0 248v2m5-114v2m0 10v2m7 4v2m0 4v2m0 96v2m5-30v2m2-246v2m0 10v2m2 2v4m0 122v2m0 28v2m3-166v2m2 134v2m0 24v2m2 84v2m5-114v2m2-162v2m0 16v2m0 264v2m5-260v2m0 150v2m0 2v2m2-4v2m3-22v2m0 12v2m2-156v2m5 10v2m0 128v2m2-142v2m2 250v2m5 6v2m2-274v2m5 168v2m7-160v2m0 2v2m0 162v2m2-18v2m0 2v2m7 2v2m12 2v2m2-166v2m0 14v2m5-30v2m0 264v2m2 0v2m5-244v2m0 126v2m0 2v2m0 98v2m2-266v2m0 266v2m3-96v2m2-172v2m0 14v2m0 256v2m2-106v2m0 98v2m0 2v2m3-288v4m0 8v2m0 2v2m0 10v4m0 244v2m0 24v2m2-266v2m0 232v2m0 6v2m2-298v2m0 198v2m0 114v2m3-26v2m2-276v2m0 36v2m0 230v2m0 26v2m0 12v2m2-280v2m0 140v2m3 4v2m0 18v2m2-204v2m0 260v2m0 8v2m2-264v2m3-14v2m0 50v2m2-68v2m0 10v2m0 8v2m0 282v2m5-272v2m0 154v2m2-186v2m0 10v2m0 32v2m0 2v2m0 144v2m0 12v2m0 116v2m5-304v2m0 190v2m0 74v2m0 10v2m0 8v2m2-312v2m2-16v2m0 222v2m3-208v2m0 44v2m2 130v4m2-2v2m0 98v4m3-78v2m2-232v2m0 50v2m0 170v2m2-10v2m0 120v2m3-32v2m0 4v2m2-110v2m2-206v2m0 72v2m0 120v2m0 114v2m0 4v2m3-144v2m0 26v4m0 104v2m2-120v2m2-12v2m0 2v2m3 12v2m0 84v2m2-118v2m0 126v2m0 24v2m0 14v2m2-144v2m3-180v2m0 178v2m0 78v2m0 46v2m0 16v2m4-66v2m3-106v4m2-164v2m0 264v2m2 2v2m0 10v2m3-138v2m0 124v2m2-284v2m0 18v2m0 156v2m2-142v2m0 264v2m3-104v2m2-178v2m0 286v2m0 8v2m2-76v2m0 66v2m3-154v2m2 16v2m2 18v2"/>
<path stroke="#9fff60" stroke-width="3" d="M170.5 458v2m14-142v2m0 120v2m0 20v2m7-146v2m0 250v2m126-138v2m70 22v2m231-170v2m0 244v2m14-256v2m0 148v2m0 112v2m7-274v2m56 154v2m0 4v2m7-150v2m0 6v2m14-34v2m0 186v2m7-184v2m0 8v2m7-10v2m0 158v2m0 24v2m7-166v2m7 168v2m14-166v2m0 154v2m49-28v2m0 128v2m7-288v2m0 178v2m7-172v2m14 8v2m0 154v2m0 2v2"/>
<path stroke="#afff50" stroke-width="2" d="M143 278v2m2-6v2m0 22v2m2-2v2m0 134v2m3 34v2m2-180v2m0 146v2m2 110v2m3-280v2m0 184v2m0 90v2m2-258v2m2 166v2m5-190v2m2 150v2m5-116v2m0 144v2m7-182v2m0 192v2m2-198v2m7 284v2m5-110v2m0 110v2m2-290v2m3 20v2m2 8v2m0 148v2m2-184v2m0 36v2m0 234v2m3-250v2m0 2v2m0 256v2m2-254v2m2-50v2m0 32v2m0 168v2m3 90v2m2-136v2m0 10v2m0 12v2m0 14v2m0 98v2m2-278v2m0 164v2m0 90v2m3-98v2m2-168v2m5 138v2m0 22v2m2 106v2m12-14v2m9-114v2m5-164v2m7-2v2m4 270v2m3-252v2m2-12v2m0 254v2m7-268v2m14 264v2m2-120v2m5 2v2m2-154v2m0 264v2m12-108v2m2 96v2m12 16v2m9-278v2m10 260v2m4-104v2m3-156v2m2-4v2m0 6v2m0 260v2m5-102v2m4-158v2m0 256v2m3 2v2m2-22v2m0 12v2m2-120v2m0 4v2m0 12v2m0 72v2m3 12v2m2-106v2m0 102v2m2-10v2m3-256v2m0 254v2m2-262v2m0 24v2m0 234v2m7-12v2m7-260v2m0 26v2m0 240v2m0 18v2m2-302v2m0 10v2m0 278v2m3-282v2m0 40v2m0 254v2m2-144v2m2-136v2m0 120v2m0 20v2m0 90v2m3 0v2m0 2v2m0 18v2m0 6v2m2-252v2m0 126v2m2 114v2m3-32v2m2-96v2m0 102v2m0 28v2m2-40v2m3-266v2m0 192v2m2-34v2m2 26v2m0 116v2m3-156v2m0 10v2m2-130v2m5 148v2m0 78v2m0 14v2m4-96v2m0 92v2m3-262v2m0 136v2m0 122v2m0 10v2m2-276v2m0 130v2m2 96v2m0 28v2m3-108v2m4-186v2m0 308v2m5-36v2m2-242v2m3 150v2m0 96v2m4-32v2m0 14v2m0 22v2m3-298v2m0 174v2m2-168v2m0 164v2m0 132v2m2-14v2m3-118v2m2-20v2m0 8v2m2-4v2m3-138v2m4 126v2m0 120v2m5-276v2m5 12v2m0 2v2m2-20v2m7-2v2m2 272v2m3-108v2m2-16v2m2 14v2m3-166v2m4-8v2m5 156v2m2-154v2m0 270v2m3-112v2m4-148v2m3-10v2m0 262v2m7-280v2m0 12v2m0 266v2m14-14v2m2-98v2m2-6v2m7-16v2m0 126v4m3-280v2m4 274v2m5-14v2m2 10v2m3-116v4m2 88v2m2-282v2m0 14v4m0 156v4m3 12v2m4-174v2m5-14v2m0 14v2m0 160v2m2-168v2m0 166v2m5-180v2m0 160v2m7-170v2m0 280v2m7-112v2m0 14v2m2-16v2m0 116v4m5-122v2m7 102v2m0 6v2m2-112v2m3-148v2m4 268v2m3-138v2m2-146v4m2 6v2m0 136v2m3 116v2m2-116v2m0 12v2m2-2v2m3-160v2m2-8v2m2-16v4m0 280v2m3 0v2m2-108v2m2-178v2m3 6v2m0 16v2m0 148v2m16-170v2m0 154v2m2-154v2m7 168v2m7-154v2m7 120v2m5-146v2m0 148v2m2-162v2m0 2v2m0 24v2m7 122v2m5-128v2m2-28v2m0 34v2m0 142v2m0 104v2m7-294v2m0 266v2m5-252v2m2 270v2m7-290v2m3 164v2m0 116v2m2-290v2m0 8v2m2 170v2m3-176v2m0 22v2m0 246v2m4 10v2m3-280v2m0 258v2m7-270v2m2 10v2m7 172v2m0 100v2m2-20v2m3-266v4m2 32v2m0 236v2m7-106v2m0 112v2m2-286v2m0 12v2m0 150v2m0 90v2m5 4v2m7 24v2m2-108v2m5 100v2m2-264v2m0 152v2m5-178v2m2-2v2m12 24v2m0 156v2m2-182v2m3 178v4m2-184v2m0 274v2m5-272v2m0 4v2m0 8v2m0 140v2m0 14v2m4-202v2m0 176v2m0 28v2m3 68v2m2-232v2m0 130v2m2 100v2m3-240v2m2-12v2m0 18v2m0 148v2m0 76v2m0 6v2m5-260v2m0 270v2m2-252v2m0 150v2m2-176v2m0 10v2m0 262v2m3-138v2m2 42v2m2-236v2m0 30v2m0 26v2m3 136v2m2 108v2m0 42v2m2-328v2m0 40v2m0 94v2m3 130v2m2-294v2m0 42v2m0 148v2m0 2v2m0 134v2m2-308v2m3 2v2m0 258v2m2-290v2m0 82v2m0 124v2m0 100v2m0 16v2m2-104v2m3-204v2m0 274v2m2-302v2m0 196v2m2-168v2m0 274v2m5-312v2m0 328v2m5-272v2m0 264v2m2-284v2m0 266v2m5-46v2m4-262v2m0 304v2m3-302v2m0 158v2m0 40v2m0 98v2m2-292v2m0 266v2m0 42v2m2-326v2m0 300v2m3-268v2m0 226v2m0 46v2m4-82v2m0 40v2m0 24v2m5-292v2m0 268v2m0 30v2m0 18v2m2-30v2m5-296v2m2 4v2m0 168v2m0 90v2m5-70v2m2-206v2"/>
<path stroke="#afff50" stroke-width="3" d="M163.5 298v2m0 2v2m0 152v2m7 2v2m14-152v2m203-44v2m0 268v2m217-262v2m7-20v2m0 16v2m0 2v2m7-24v4m7 2v2m14 272v2m56-88v2m14 94v2m14-114v2m7 12v4m7-188v2m0 274v2m7-252v2m0 260v2m14-270v2m0 268v2m63-104v2m7 102v2m7-258v2m7 156v2"/>
<path stroke="#bfff40" stroke-width="2" d="M143 444v2m0 12v2m4 102v2m3-262v2m0 248v2m2-276v4m0 180v2m0 88v2m2-118v2m0 112v2m0 8v2m3-280v2m0 14v2m9-22v2m0 22v2m0 134v2m0 4v2m7-138v2m0 132v2m2-160v2m5 20v2m0 148v2m0 8v2m0 4v2m2-178v2m0 18v2m0 128v2m0 110v2m5-290v2m0 168v2m2-176v2m0 36v2m0 136v2m5 126v2m5-290v2m0 150v2m0 2v2m2-160v2m0 156v2m5 36v2m2-204v2m0 170v2m5-6v2m0 30v2m2-18v2m0 4v2m5 84v2m0 2v2m2-276v4m0 10v2m0 148v2m2-166v2m0 204v2m0 74v2m5-132v2m0 4v4m0 6v2m0 4v2m2-174v2m0 164v2m0 8v2m3-8v2m0 106v2m4-126v2m0 106v2m3 14v2m4-28v2m5 14v2m2-14v2m5-238v2m9-16v2m0 150v2m3 110v2m4-274v2m3 256v2m4 16v2m5-284v2m2 162v2m7-166v2m0 170v2m3-166v2m4 264v2m3-254v2m2-4v2m2 258v2m3-6v2m9-10v2m0 12v2m2-114v2m10-12v2m2 104v2m2-6v2m3-254v2m0 158v2m2 96v2m2-94v2m3-166v2m0 144v2m2-154v2m2 150v2m5-154v2m0 152v2m2-150v2m3-10v2m4 4v2m0 156v2m3-158v2m2 160v2m7-176v2m2-6v2m3 262v2m2-238v2m0 142v2m2-140v2m0 132v2m0 4v2m5 80v2m2-256v2m0 264v2m3-82v2m0 66v2m2-224v2m2 130v2m0 2v2m0 92v2m0 22v2m5-286v2m2 268v2m0 14v2m7-258v2m0 130v2m0 120v2m3-94v2m4-202v2m0 168v2m0 8v2m3-14v2m4-178v2m0 196v2m0 74v2m0 2v2m3 8v2m4-108v2m3-176v2m0 46v2m0 112v2m4-158v2m0 178v4m0 90v2m3-112v2m2-184v2m0 274v2m5 32v2m2-270v2m2 2v2m0 120v2m3-6v2m0 28v2m0 78v2m2 34v2m2-138v2m0 16v2m3-180v2m0 260v2m0 14v2m2-244v2m0 138v2m5-152v2m0 258v2m0 2v2m2-106v2m2 4v2m0 90v2m3-268v2m0 146v2m0 14v2m2-174v2m7 252v2m0 20v2m2-268v2m5 150v2m5 88v2m9-84v2m2 86v2m5-4v2m0 16v2m2-268v2m0 158v2m0 104v2m3-110v2m4-152v2m3 144v2m4-14v2m0 124v2m3-16v2m4-262v2m7-4v2m0 156v2m3-144v2m0 258v2m7-262v2m2-8v2m2-10v2m0 6v2m5 142v2m0 114v2m2-272v2m5 154v2m2-4v2m0 122v2m7-268v2m0 254v4m3-282v2m0 18v2m0 262v2m2-264v2m0 154v2m0 104v2m12-266v2m0 248v2m9-94v2m0 2v2m2-182v2m0 2v2m5 16v2m0 250v2m2 0v2m7-106v2m7-164v2m0 168v2m0 92v2m5 10v2m2-16v2m5-274v2m2 162v2m0 12v2m0 104v2m5-276v2m2-18v2m0 32v2m3 254v2m11-10v2m3-114v2m7-162v2m0 12v2m2 154v2m2 96v2m3-274v2m2 10v2m0 152v2m2-164v2m0 6v2m0 262v2m12-266v2m7 258v2m2-92v2m0 112v2m5-290v2m2 18v2m0 264v2m5-288v2m0 284v2m2-138v2m5 32v2m0 96v2m0 2v2m2-270v2m0 138v2m0 4v2m5-168v2m0 170v2m7-170v2m0 20v2m0 246v2m7-282v2m0 156v2m0 4v2m0 132v2m7-280v2m2 142v2m5-22v2m0 128v2m2-110v2m0 12v2m3-176v2m0 10v2m0 272v2m2-270v4m0 162v2m5-26v2m2-148v4m0 156v2m2-178v2m0 268v2m3-120v2m0 112v2m0 12v2m2-288v2m0 6v2m0 164v2m0 8v2m2-164v2m3-18v2m0 170v2m0 4v2m0 96v2m2-252v2m2-28v2m0 16v2m3 0v2m2-2v2m5 246v2m2-94v6m2-22v2m0 114v2m14-126v2m0 24v2m5-22v2m2-154v2m0 150v2m5 16v2m0 102v2m7 2v2m2-266v2m0 248v2m7-112v2m0 4v2m0 120v2m7-260v2m0 134v2m14-140v2m5 4v2m9-14v2m0 250v2m3-132v2m0 6v2m0 120v2m2 2v2m5-276v2m0 14v2m2-16v2m2-12v2m0 288v2m3-314v2m0 56v2m0 164v2m4-192v2m0 236v2m5-102v2m0 30v2m0 124v2m2-278v2m0 270v2m3-268v2m0 258v2m2-314v2m0 58v2m2-40v2m5 182v2m2-180v2m0 8v2m0 22v2m0 116v2m3-160v2m0 156v2m0 110v2m2-260v2m0 154v2m5 34v2m0 96v2m4-164v2m0 124v2m0 6v2m0 10v2m0 8v2m3-296v2m0 12v2m0 226v2m2-244v2m0 4v2m0 142v2m2-150v2m3 34v2m2-60v2m0 156v2m0 22v2m0 114v2m0 12v2m9-292v2m0 142v2m0 12v2m5-16v2m2-18v2m0 58v2m0 60v2m3 26v2m2-234v2m0 96v2m0 20v2m2-160v2m0 156v2m0 82v2m0 48v2m3-28v2m0 14v2m2-20v2m0 6v2m2-16v2"/>
<path stroke="#bfff40" stroke-width="3" d="M163.5 306v2m0 132v2m7-168v2m0 26v2m0 14v2m0 120v2m7-168v2m0 36v2m14-16v2m126-22v2m0 164v2m70-140v2m0 134v2m224-176v2m0 10v2m14-4v2m7 10v2m0 4v2m70 6v2m0 148v2m7-184v2m7 154v2m7-156v2m0 152v2m0 18v2m7-158v2m0 244v2m14-248v2m0 134v2m7-136v2m7 2v2m0 238v2m49-2v2m7-260v2m0 168v2m14-156v2m0 142v2m0 6v2m0 106v2m7-20v2m14-90v2"/>
<path stroke="#cfff30" stroke-width="2" d="M143 286v2m0 4v2m0 18v2m0 150v2m4-162v4m0 134v2m3-4v2m0 16v2m2 102v2m2-132v2m0 20v2m3 2v2m4 10v2m5-4v2m2-208v2m0 202v2m7-194v2m0 164v2m5 12v2m2-152v2m5 158v2m7-184v2m0 176v2m2-4v2m3-182v2m0 184v2m4-198v2m0 8v2m0 160v2m5-148v2m0 8v2m0 260v2m5-284v2m14 168v2m0 112v2m4-22v2m0 8v2m3-122v2m2 4v2m0 112v2m2-114v2m3-166v2m0 150v2m2-146v2m2 140v2m3-144v2m0 152v2m0 94v2m2-2v2m0 16v2m12-118v2m4 110v2m3-266v2m0 246v2m2-258v2m2 250v2m3-106v2m0 6v2m2 108v2m5-264v2m7-2v2m2 4v2m0 256v2m5-126v2m4 112v2m5-2v2m0 6v2m5-114v2m2 112v2m12-262v2m2-2v2m0 250v2m2-108v2m10 108v2m7-110v2m2 114v2m5 4v2m4-114v2m5 0v2m0 102v2m2-260v2m3 150v2m7-6v2m0 8v2m2-156v2m0 134v2m0 116v2m2-114v2m0 10v2m0 96v2m7-276v2m0 20v2m0 4v2m5-38v2m0 12v2m0 16v2m2-34v2m3 34v2m0 114v2m2 12v2m0 134v2m2-294v2m0 258v2m3 4v2m2-278v2m0 26v2m5 128v2m2-128v2m0 138v2m0 84v2m2 18v2m3-286v2m0 182v2m0 98v2m2-278v2m0 26v2m0 148v2m2-22v2m5-160v2m0 182v2m2-152v2m0 108v2m0 12v2m0 10v2m3-20v2m0 14v2m0 22v2m0 18v2m2-198v2m0 12v2m0 228v2m0 6v2m2-250v2m0 166v2m3-164v2m0 154v2m2-166v2m0 246v2m0 4v2m2-242v2m3 126v2m0 118v2m2-280v2m0 22v2m0 128v2m2-138v2m0 236v2m0 2v2m3-106v2m0 24v2m2-40v2m2-148v2m3 138v2m2-146v2m0 12v2m0 242v2m0 8v2m2-102v2m0 126v2m5-124v2m2-138v2m0 128v2m5-162v2m0 172v2m2-156v2m0 140v2m0 8v2m3-174v2m0 272v2m9-134v2m0 20v2m2-8v2m0 110v2m3-270v2m0 166v2m4-10v2m0 2v2m3-8v2m0 94v2m2 10v2m5-248v2m4-14v2m3 132v2m0 8v2m2-2v2m5 102v2m2-248v2m2 256v2m3-14v2m2 18v2m5-104v2m7-20v2m2-154v2m5 6v2m2 156v2m5-172v2m0 8v2m2 148v2m0 8v2m7-14v2m2 118v2m3-114v2m9-12v2m0 108v2m2-268v2m3 2v2m0 272v2m2-266v2m0 156v2m5-158v2m9-32v2m0 26v2m0 140v2m0 8v2m0 110v2m2-276v2m7 258v2m5-98v2m2-168v2m5 12v2m0 152v2m14-168v2m0 260v2m2-270v2m7-8v2m5 178v2m0 102v2m2-264v2m0 2v2m0 150v2m3-158v2m7-14v2m0 8v2m0 246v2m9-264v2m0 12v2m5-10v2m2 256v2m23-108v2m0 18v2m7-182v2m0 150v2m0 118v2m5-276v2m0 172v2m2 4v2m5 86v2m2 8v2m7-10v2m5-114v2m0 114v2m2-242v2m0 242v2m0 10v2m5-270v2m0 260v2m2-266v2m0 256v2m5-280v4m2 152v2m5 112v2m2-98v2m0 104v2m0 6v2m5-130v2m0 12v2m2-8v2m0 12v4m5 96v2m5-254v2m0 150v2m2-184v2m0 26v2m2 140v2m3-156v2m0 162v2m2 98v2m5-278v2m0 164v2m0 108v2m2-274v2m2 2v2m5-8v2m5 186v2m4-196v2m0 168v2m12-142v2m2 146v2m5-182v2m0 272v2m2-108v2m5-154v2m14 264v2m12 12v2m4-278v2m3 152v2m2-138v2m0 10v2m0 238v2m2-266v2m0 136v2m0 10v2m3 116v2m4-328v2m0 36v2m0 38v2m5-34v2m0 150v4m2-156v2m0 170v2m0 18v2m3-166v2m0 138v2m0 114v2m4-306v2m0 166v2m5 34v2m9-186v2m0 14v2m0 22v2m0 234v2m3-286v2m0 2v2m0 270v2m2-124v2m0 36v2m0 2v2m2-180v2m3 150v2m0 110v2m4-308v4m0 36v2m0 188v2m5 62v2m5-252v2m2 272v2m5-278v2m2-32v2m0 48v2m0 128v2m0 2v2m0 98v2m5 14v2m0 6v2m2-300v2m2 20v2m0 260v2m5-132v2m0 4v2m5-118v2m2-50v2m0 282v2m2 4v2m5-248v2m7 126v2m0 84v2m7-264v4m0 196v2m0 102v2m2-274v2"/>
<path stroke="#cfff30" stroke-width="3" d="M163.5 282v2m0 152v2m7-140v2m7 140v2m7 14v2m7-148v2m0 150v2m420-16v2m28-2v2m56-176v2m0 18v2m7-26v2m0 178v4m7 104v2m7-126v2m7-160v2m0 280v2m14-284v2m0 4v2m7 254v2m7 16v2m0 2v2m7-266v2m56 158v2m7-168v2m0 146v2m28-160v2m0 2v2m0 18v2m0 138v2m0 20v2"/>
<path stroke="#dfff20" stroke-width="2" d="M143 560v2m2-280v2m0 176v2m2-190v2m0 6v2m0 20v2m3-32v2m7 2v2m4 20v2m0 2v2m5-24v2m0 160v2m0 118v2m2-100v2m5-184v2m0 174v2m2-24v2m5-130v2m2 0v2m0 256v2m7-290v2m0 154v2m5 118v2m5-260v2m0 140v2m0 4v2m2-12v2m5-130v2m2-26v2m0 150v2m2-132v2m0 166v2m0 94v2m3-272v2m0 134v2m2-172v2m2 296v2m3-286v4m2-6v2m5 160v2m0 108v2m2-268v2m0 174v2m2-182v2m0 172v2m3 98v2m4-118v2m7-160v2m0 258v2m5-264v2m5 252v2m2-258v2m0 258v2m2-100v2m5 98v2m5-102v2m14-164v2m0 254v2m2-254v2m5 14v2m9-28v2m0 266v2m5-262v2m0 158v2m4-152v2m7 254v2m5-258v2m0 146v2m0 102v2m2-4v2m3 0v2m9-254v2m2 262v2m3-14v2m7-102v2m2-150v2m0 248v2m2-106v2m0 108v2m3-116v2m7-144v2m4 248v2m3-248v2m0 260v2m11-6v2m12-280v2m0 162v2m2-164v2m0 178v2m3-182v2m2 246v2m0 16v2m2-122v2m5-148v2m0 134v2m0 120v2m2-250v2m0 160v2m3-142v2m0 118v2m2-154v2m0 174v2m0 98v2m2-116v2m5-138v2m2 6v2m3 234v2m0 8v2m2-96v2m2-176v2m3 16v2m2-42v4m0 28v2m0 120v2m0 2v2m2 0v2m0 8v2m0 14v2m0 104v2m3-132v2m4-170v2m5 6v2m0 28v2m0 112v2m0 22v2m5 100v2m2-272v2m0 152v2m0 16v2m0 96v2m2-278v2m0 166v2m3-144v2m0 8v2m0 124v2m2-140v2m0 136v2m2 10v2m0 84v2m7-230v2m0 280v2m3-314v2m0 20v2m0 248v2m0 20v2m2-136v2m0 104v2m2-112v2m0 10v2m0 94v2m10 8v2m7-106v2m2-166v2m0 20v2m0 140v2m2-168v2m3 8v2m4 140v2m0 6v2m0 110v2m5-12v2m2 12v2m3-262v2m0 260v2m2-124v2m2-138v2m3 136v2m0 2v2m2 100v2m0 8v2m9-268v2m0 162v2m5 96v2m7-268v2m9 172v2m0 106v2m3-282v2m0 268v2m4-254v2m3 134v2m4-152v2m0 10v2m7 256v2m7-276v2m5 0v2m2 268v2m3-102v2m2-180v2m0 170v2m2-174v2m5 18v2m7-22v2m7-18v2m7 42v2m2-22v2m12-8v2m7-12v2m0 288v2m2-12v2m3-4v2m2-272v2m0 2v2m0 6v2m0 258v2m2-286v2m0 18v2m5-12v2m0 168v2m0 98v2m5-278v2m4 0v2m3 172v2m2-146v2m5 244v2m7-106v2m9-158v2m7 152v2m2-140v2m0 134v2m7 4v2m0 100v2m7-268v2m0 24v2m0 154v2m5-158v2m2-8v2m0 134v2m12-166v2m2 36v2m0 126v2m12 116v2m2-246v2m0 140v2m5-150v2m0 148v2m2-160v2m0 162v2m5-30v2m0 112v2m2-82v2m0 94v2m3-276v2m0 4v2m4 150v2m0 18v2m3-14v2m2-28v2m2 10v2m0 112v2m5-262v2m0 256v2m2-272v2m0 4v2m0 158v2m3 12v2m2-184v2m0 16v2m9 136v2m3 110v2m4 0v2m14 4v2m5-12v2m2-260v2m7-8v2m7 268v2m5 0v2m12 8v2m2-290v2m2 286v2m3-270v2m7 168v2m2-14v2m0 90v2m2-270v2m0 272v2m3-298v2m2 302v2m7-276v6m0 184v2m2-22v2m3-190v2m2 302v2m2-284v2m3-26v2m0 266v2m0 40v2m2-266v2m0 152v2m2-144v2m0 234v2m3-280v2m0 262v2m0 2v2m2-34v2m2 60v2m3-278v2m0 250v2m0 22v2m4-298v2m0 20v2m0 160v2m3 114v2m2-294v2m0 2v2m0 124v2m2-130v2m7 16v2m0 144v2m0 94v2m3-236v2m2-32v2m2 150v2m0 130v2m3-262v2m2-12v2m0 234v2m5-14v2m2-218v2m0 158v2m0 82v2m5-94v2m0 92v2m2-274v2m0 244v2m0 6v2m0 10v2m2-266v2m0 136v2m5 116v2m5-22v2m4-64v2m3-174v2"/>
<path stroke="#dfff20" stroke-width="3" d="M163.5 458v2m0 6v2m14-12v2m7-178v2m203-10v2m0 26v2m0 158v2m217-172v2m14 252v2m7-256v2m7-12v2m7 168v2m0 92v2m56-108v2m0 108v2m14-282v2m0 28v2m0 128v2m7 6v4m0 110v2m7-256v2m14 140v2m7-172v2m63 174v2m7-158v2m14 254v2m14-82v2"/>
<path stroke="#efff10" stroke-width="2" d="M143 280v2m2-10v2m0 20v2m2-2v2m0 252v2m5 0v2m5-252v2m0 144v2m4-166v2m5-2v2m0 174v2m0 104v2m2-260v2m0 144v2m5-156v2m0 258v2m0 6v2m7-274v2m0 262v2m2-104v2m7 4v2m5-20v2m0 120v2m5-14v2m0 12v2m2-296v2m0 6v2m0 174v2m2-22v2m3-166v2m0 16v2m2-18v2m2 32v2m3-38v2m0 290v2m2-128v2m7 10v2m0 6v2m5-172v2m0 156v2m0 116v2m2-292v2m5 12v2m2 142v2m5-4v2m0 110v2m2 4v2m5-120v2m0 124v2m7-134v2m2 112v2m2 0v2m5-258v2m5 144v2m0 6v2m0 104v2m4-108v2m10-152v2m7 244v2m7-264v2m11 156v2m19 10v2m9-168v2m3 14v2m4 142v2m3-160v2m4 6v2m7 156v2m0 106v4m3-282v2m0 264v2m2-258v2m5-12v2m4 16v2m3 142v2m2 120v2m2-260v2m3 134v2m0 14v2m2-176v2m2 160v2m0 12v2m5-184v2m2 178v2m3-176v2m0 16v2m2 138v2m0 138v2m2-280v2m3-36v2m0 8v2m0 6v2m0 158v2m0 108v2m4-284v2m3-4v2m0 26v2m0 150v2m0 10v2m0 2v2m2-198v2m0 188v2m2 0v2m3-160v2m2 222v2m2-258v2m3 164v2m2-178v2m0 26v2m0 144v2m0 24v2m2-162v2m0 226v2m3-240v2m4-26v2m0 164v2m0 20v2m3 8v2m0 86v2m2-268v2m0 166v2m5-20v2m0 106v2m2-114v2m0 98v2m0 40v2m2-296v2m0 4v2m3-8v2m4 244v4m0 4v2m3 8v2m2-98v2m0 2v2m5-38v2m2 34v2m2-182v2m0 256v2m3-238v2m0 276v2m2-154v2m2-154v2m0 154v2m0 120v2m7-272v2m3-12v2m4 162v2m5-2v2m2-14v2m3 112v2m2-240v2m0 140v2m0 100v2m5-120v2m2 18v2m2-166v2m0 8v2m0 138v2m5 14v2m0 2v2m9-22v2m0 124v2m5-20v2m7-90v2m7-170v2m0 164v2m9 98v2m5-254v2m2 262v2m5-110v2m0 106v2m9-16v2m5-278v2m0 22v2m2 146v2m3-164v2m4 256v2m12 8v2m2-280v2m5 266v2m0 6v2m2 6v2m5-276v2m0 150v2m21 126v2m2-112v2m0 106v2m5-282v4m0 252v2m5-100v4m0 6v2m2-158v4m9-20v4m0 168v2m5-170v2m5 4v2m4 148v2m0 4v2m10-148v2m2 252v2m5-266v2m0 164v2m2-4v2m0 98v2m7-98v2m14-152v2m2 132v2m12-168v2m0 12v2m0 10v2m0 6v2m0 246v2m9-272v2m0 32v2m5-16v2m0 132v2m0 24v2m0 92v2m7-110v2m2-164v2m0 4v2m0 160v2m5-166v2m0 2v2m0 10v2m7-10v2m5-26v2m0 174v2m2-180v2m0 162v2m0 100v2m0 8v2m2-262v2m0 12v2m3 142v2m2 96v2m2 16v2m3-130v2m2 0v2m5 118v2m2-114v2m2-10v2m3 96v2m2-264v2m0 276v2m0 12v2m2-28v2m3-254v2m0 4v2m2 142v2m2-140v2m7 148v2m0 4v2m5 88v2m2 2v2m7 18v2m7-130v2m7 12v2m0 100v2m5-98v2m2-182v2m0 2v2m0 158v2m7 22v2m7-8v2m5-178v2m2 26v2m0 124v2m5-168v2m2-10v2m0 42v2m0 254v2m3-272v2m0 266v2m4-248v2m3-22v2m2 16v2m2-16v2m0 138v2m3-186v2m0 52v2m4 126v2m0 14v2m3 82v2m2 34v2m7-262v2m0 154v2m5-196v2m0 50v2m4 124v2m3-182v2m0 180v2m11 6v2m5-26v2m2-180v2m0 190v2m3-192v2m0 2v2m0 298v4m2-224v2m5-50v2m0 122v2m2 134v2m0 4v2m5-106v2m4-36v2m5-160v2m0 144v2m2 4v2m0 106v2m0 6v2m3-242v2m4-24v2m3-12v2m0 8v2m0 244v2m0 6v2m0 14v2m2-10v2m0 64v2m2-342v2"/>
<path stroke="#efff10" stroke-width="3" d="M163.5 438v2m7 22v2m7 90v2m7-254v2m0 168v2m7-200v2m0 18v2m196-32v2m0 186v2m0 88v2m245-10v2m0 16v2m63-262v2m14-14v2m0 10v2m0 250v2m7-274v2m0 284v2m21-290v2m14 164v2m63 116v2"/>
<path stroke="#ffff00" stroke-width="2" d="M145 564v2m2-118v2m3-162v2m4 154v2m0 16v2m0 100v2m5-102v2m2-194v2m0 34v2m0 144v2m5-182v2m0 164v2m2-144v2m0 154v2m5-188v2m0 198v2m2-198v2m0 32v2m5 150v2m7-16v2m0 14v2m2-176v2m0 268v2m5-246v2m5-30v2m0 284v2m4-8v2m5-266v2m2-20v2m0 160v2m0 14v2m3-158v2m0 152v2m0 108v2m2-278v2m2-18v2m0 4v2m3 288v2m4-284v2m3 170v2m2 94v2m0 6v2m2-276v2m7-6v2m3-10v2m7-2v2m0 160v2m2-174v2m12 14v2m0 140v2m4 118v2m5-270v2m2-8v2m7 262v2m3-4v2m2-262v2m0 262v2m7-262v2m2 270v2m3-276v2m7 152v2m7 6v2m0 98v2m9 6v2m7-14v2m7-100v2m2-150v2m0 144v4m5-154v2m2-6v2m3 160v2m4 96v2m7-110v2m14-138v2m0 248v2m3-2v2m2-256v2m0 154v2m0 78v2m2 8v2m5-88v2m2 94v2m0 10v2m5-134v2m7-168v2m0 198v2m2-194v2m0 184v2m3 0v2m0 6v2m2 68v2m2-270v2m0 18v2m0 152v2m0 90v2m3-260v2m0 162v2m0 10v2m4-184v2m0 36v2m0 232v2m3 10v4m2-2v2m5-288v2m0 298v2m2-38v2m2 20v2m3-12v2m2-286v2m0 168v2m2 94v2m3-230v2m2-10v2m0 166v2m2-40v2m3 28v2m0 4v2m0 70v2m0 8v2m2-262v2m0 260v2m2-272v2m0 268v2m0 10v2m3-124v2m0 8v2m0 12v2m2-10v2m0 76v2m0 12v2m0 4v2m5 8v2m2-274v2m2-2v2m0 134v2m3 16v2m7 0v2m2-166v2m0 8v2m0 254v2m0 16v2m2-278v4m5 240v2m0 16v2m2-14v2m5-252v2m0 150v2m7-142v2m9 144v2m0 86v2m10-260v2m7 154v2m2-4v2m2-150v2m19 10v2m7-14v2m2 170v2m5-8v2m0 94v2m7-98v2m12-16v2m7-144v2m2 144v2m0 10v2m0 108v2m7-284v2m0 262v2m2-252v2m0 150v2m7-154v2m0 260v2m14-282v2m12 156v2m0 122v2m7-10v2m2-122v2m5-146v2m2 154v2m3-170v2m0 10v2m2 162v2m9-14v2m5 18v2m2-166v2m5 0v2m2 152v2m3-154v2m2-4v2m2-18v2m3 6v2m7 268v2m4-106v2m5-168v2m0 6v2m0 158v2m2 94v2m12-122v2m0 2v2m0 108v2m7-114v2m7-158v2m0 24v2m0 148v2m2 100v2m5-112v2m7-24v2m0 30v2m7-24v2m2-162v4m5 180v2m0 92v2m0 6v2m2-254v2m7 138v2m3-14v2m2 2v2m0 10v2m0 4v2m2 106v2m5-130v2m2-8v2m0 104v2m3-238v2m0 128v2m2-168v2m5 192v2m2-166v2m7-6v2m2 144v2m0 10v2m3-160v2m9-16v2m2 174v2m0 100v2m7-266v2m5 256v2m2-258v2m0 2v2m5 142v4m0 6v2m0 108v2m2-278v2m0 12v2m5-14v2m2 150v2m14 118v2m3-282v2m0 280v2m2-104v2m7-166v2m2-18v2m0 28v2m3 142v2m7-150v2m0 16v2m4-62v2m0 294v2m0 6v2m3-12v2m0 14v2m2-278v2m2 278v2m5-272v2m0 4v2m2-34v2m0 160v2m7 6v2m0 14v2m0 98v2m3-270v4m0 146v2m7-184v2m0 186v2m2-10v2m5-158v2m0 28v2m4 250v2m5-280v2m2-2v2m5 162v2m2 102v2m3-288v2m2 32v2m2-30v2m0 2v2m5-16v2m2 6v2m0 14v2m0 270v2m14-136v2m3-156v2m0 288v2m2-26v2m0 18v2m2-270v2m3 268v2"/>
<path stroke="#ffff00" stroke-width="3" d="M170.5 268v2m0 16v4m0 162v2m7-144v2m7 120v2m7 6v2m126-154v2m70-14v2m0 178v2m0 90v2m224-278v2m28 6v2m63 10v2m7 154v2m7 112v2m21-274v2m14 166v2m0 104v2m7-106v2m49 78v2m7-112v2m0 124v2m35-2v2"/>
<path stroke="#ffef00" stroke-width="2" d="M143 310v2m4 142v2m3-170v2m2 10v2m2 164v2m0 96v2m5-288v2m0 166v2m0 12v2m2-22v2m5-144v2m0 136v2m2-156v2m0 22v2m0 10v2m7-38v2m0 18v2m5 142v2m7-150v2m0 150v2m0 6v2m0 98v2m7-254v2m2-14v2m5-22v2m2 294v2m3-270v2m0 128v2m2-152v2m0 24v2m2 156v2m3-170v2m0 258v2m4-100v2m3-182v2m0 12v2m0 270v2m2-128v2m0 2v2m2 122v2m3-286v2m0 166v2m4 98v2m19 4v2m2-258v2m0 134v2m10-6v2m4-148v2m7 144v2m3-154v2m0 162v2m11-4v2m3-156v2m2 250v2m9-4v2m3-254v2m0 260v2m2-268v2m14 270v2m2-264v2m14 4v2m3 244v2m2-264v2m0 154v2m0 4v2m14-164v2m2 10v2m0 154v2m5-20v2m9-138v2m0 244v2m5-110v2m2-142v2m3-16v2m0 20v2m4 240v2m5-110v2m0 18v2m2-160v2m5 228v2m2 6v2m7 16v2m3-290v2m0 40v2m0 236v2m2-100v2m0 124v2m5-276v2m2 142v2m0 12v2m0 10v2m2 98v2m3-282v2m0 2v2m0 242v2m2-6v2m2-18v2m0 4v2m3-98v2m7 112v2m2-244v2m0 128v2m0 28v2m2 74v2m3-270v2m0 24v2m2-10v2m0 8v2m2-26v2m0 162v2m5 2v2m2 116v2m0 8v2m3-298v2m0 276v2m4-270v2m0 250v2m3-14v2m0 4v2m2-264v2m0 8v2m2 146v2m3-154v2m0 258v2m2-98v2m0 4v4m2-170v2m0 256v2m5-86v2m2-26v2m3 102v2m2-238v2m0 250v2m2-126v2m3 8v2m7 10v2m2 96v2m5 6v2m2-272v2m9 260v2m3-254v2m14-18v2m2 154v2m5 112v2m4-100v2m5-170v2m0 274v2m5-266v2m7 144v2m2 2v2m7 108v2m2-274v2m3 154v2m2 112v2m12 0v2m4-284v2m3 284v2m2-274v2m2 162v2m0 106v2m5-274v2m2-2v2m7 268v2m7-106v2m24-174v2m0 2v2m2 270v2m2-10v2m3-264v2m2-10v2m0 160v2m2 12v2m12 92v2m0 8v2m5-284v2m2 4v2m0 10v2m2 258v2m14-284v2m0 178v2m5-172v2m2 150v2m0 18v2m5-170v2m0 10v2m2-16v2m0 142v2m5-144v2m0 268v2m7-270v2m2-2v2m5 272v2m2-24v2m5-100v2m0 14v2m2-162v2m5 152v2m2 96v2m5-2v2m7-90v2m2-186v2m5 14v2m0 164v2m2-156v2m0 262v2m3-142v2m2 18v2m5-164v2m4-10v2m10 8v2m2-14v2m0 22v2m0 144v2m7-12v2m5 6v2m0 4v2m9-2v2m2-18v2m0 14v2m0 88v2m5-250v2m14 260v2m2-108v4m14 106v2m5-266v2m0 172v2m2-6v2m12-168v2m0 250v2m0 6v2m2-98v2m17-204v2m0 302v2m2-14v2m2 6v2m3-20v2m2-296v2m0 60v2m0 244v2m5 4v2m4-106v2m0 104v2m5-256v2m2 128v2m3-144v2m2 168v2m5-210v2m0 308v2m4 10v4m3-312v2m0 24v2m0 144v2m7-170v2m0 12v2m0 4v2m2 2v2m0 264v2m12-284v2m0 150v2m0 144v2m4-50v2m3-98v2m4 116v2m3-280v2m0 290v2m2-40v2m2 26v2m3-296v2m2 164v2m2-134v2m5-24v2m2 252v2"/>
<path stroke="#ffef00" stroke-width="3" d="M184.5 276v2m0 26v2m7 140v2m196 104v2m217-266v2m7 160v2m7-180v2m0 18v2m0 248v2m7-94v2m0 88v2m70-256v2m7-4v2m7 148v2m14-138v2m14-26v2m0 26v2m7 126v2m63-154v2m28 158v2m14 8v2m0 112v2"/>
<path stroke="#ffdf00" stroke-width="2" d="M143 272v2m0 28v2m0 2v2m2 134v2m0 18v2m0 90v2m2-94v2m5-16v2m2-10v2m5-158v2m7 280v2m2-272v2m5 158v2m2-188v2m7 12v2m0 16v2m5-22v2m0 184v2m7-12v2m2-156v2m3 260v2m2-292v2m0 164v2m2-152v2m5-16v2m0 6v2m0 170v2m5-6v2m4-176v2m0 10v2m0 10v2m5-8v2m5 152v2m2-164v2m7-10v2m9 156v2m5 0v2m0 94v2m5 6v2m4-272v2m5 10v2m5-12v2m0 150v2m11-152v2m3 266v2m7-108v2m2-158v2m0 142v2m7-136v2m0 246v2m7-118v2m23 112v2m5-250v2m14-12v2m0 258v2m2-94v2m3 104v2m4-284v4m0 260v2m7-248v2m0 252v2m3-108v2m4 100v2m5-262v2m0 156v2m2-170v2m3 294v2m2-270v2m0 134v2m0 108v2m2-98v2m0 94v2m7-268v2m3 156v2m2-16v2m2-122v2m0 2v2m3-16v2m2-22v2m0 268v2m2-268v2m0 274v2m5-246v2m2 240v2m3-258v2m2-30v2m0 22v2m0 12v2m0 114v2m2-136v2m0 158v2m3-160v2m0 268v2m2-290v2m5 0v2m0 24v2m0 158v2m2-204v2m0 22v2m0 10v2m2-24v2m3 166v2m2-136v2m2-18v2m0 6v2m0 258v2m3-116v2m2-158v2m0 10v2m0 142v2m2-16v2m3-168v2m0 168v2m2-172v2m0 30v2m2 242v2m3-104v2m2-10v2m5-160v2m0 284v2m2-26v2m7-248v2m2 252v2m3-104v2m7-158v2m4 250v2m3-264v2m0 256v2m2-106v2m5 6v2m2-162v2m2 156v2m14 2v2m5-16v2m0 4v2m2-4v2m3-136v2m2-6v2m0 134v2m0 12v2m5-166v2m16 12v4m0 150v2m5-18v2m0 124v2m2-2v2m5-272v2m2 2v2m2 160v2m3-18v2m4 0v2m10 102v2m4-252v2m5 138v2m2 16v2m7-10v2m0 6v2m19-164v2m0 138v2m2 122v2m5-112v2m7 2v2m0 92v2m7-108v2m16 104v2m7-260v2m3 258v2m7-254v2m4 144v2m3 12v2m4-16v2m3-152v2m2 4v2m23 144v2m5 112v2m2-116v2m0 10v2m5-16v2m2 12v2m5-26v2m2 12v2m5-14v2m2-156v2m7 260v2m12-256v2m0 152v2m0 124v2m2-132v2m0 110v2m10-122v2m0 102v2m0 24v2m2-282v2m2 156v2m3-150v2m4 170v2m3 86v2m2-2v2m2-246v2m3 130v2m2-132v2m2 238v2m0 12v2m0 6v2m7-120v2m5-16v2m2-142v2m5-10v2m2 156v2m0 110v2m7 2v2m7-110v2m12-12v2m0 2v2m2-158v2m5 258v2m2-92v2m3-166v2m0 162v2m16 88v2m5 2v2m4-216v2m5 208v2m5-244v2m0 242v2m2-260v2m2-14v2m0 182v2m0 86v2m3-250v2m7-18v2m0 138v2m2-8v2m2 44v2m3-34v2m2 34v2m2-12v2m0 70v2m5-224v2m0 4v2m7-24v2m2-14v2m5 256v2m2-252v2m0 282v2m3-316v2m0 286v2m2 20v2m2-280v2m0 242v2m0 34v2m3-274v2m0 270v2m4-22v2m0 16v2m3-34v2m2-104v2m14 102v2m7-114v2m0 96v2"/>
<path stroke="#ffdf00" stroke-width="3" d="M163.5 294v2m0 172v2m7-166v2m0 250v2m7 0v2m14-124v2m0 6v2m0 20v2m126-188v2m0 8v2m294 242v2m28 10v2m56-268v2m0 268v2m7-266v2m0 248v2m7-242v2m14 268v2m7-286v2m0 142v2m7-162v2m0 32v2m0 132v2m14-138v2m7-24v2m63-2v2m0 166v2m7-18v2m0 16v2m0 92v2m0 10v2"/>
<path stroke="#ffcf00" stroke-width="2" d="M143 442v2m9 2v2m2-164v2m0 170v2m3-172v2m0 176v2m0 96v2m2-278v2m2 18v2m0 248v2m0 4v2m5-108v2m7-12v2m2-138v2m7-38v2m5 4v2m2-8v2m0 164v2m0 2v2m0 14v2m5-182v2m0 276v2m2-94v2m5-166v2m0 142v2m5-164v2m2 268v2m2-256v2m0 160v2m3-4v2m2 0v2m2 102v2m3-266v2m2 256v2m5-278v2m4 152v2m3 116v2m9-116v2m7-154v2m12-12v2m0 266v2m7-10v2m2-254v2m2-12v2m0 6v2m0 262v2m10-122v2m11-154v2m7 6v2m14 254v2m10-102v2m2-160v2m9 256v2m7-258v2m0 264v2m12-116v2m7-148v2m5 156v2m7-2v2m2 84v2m2-258v2m0 18v2m5 132v2m0 16v2m0 2v2m0 84v2m2-252v2m0 278v2m5-302v2m2 288v2m3-282v2m0 26v2m0 136v2m0 4v2m2 96v2m0 4v2m2-290v2m0 158v2m3-130v2m0 258v2m2-144v2m0 42v2m5-172v2m2 166v2m2-202v4m0 24v2m0 172v2m3-6v4m4 92v2m3-110v2m0 106v2m2-124v2m2 26v2m3-8v2m0 100v2m2-266v2m0 166v2m0 116v2m2-140v2m0 110v2m5-4v2m0 6v2m5-266v2m2-26v2m2-8v2m0 174v2m0 110v2m5-122v2m0 8v2m0 98v2m2-252v2m0 252v2m10-266v2m2 4v2m2 262v2m5-26v2m5-254v2m0 260v2m2-2v2m2-254v2m3 254v2m2-272v2m0 2v2m9 6v2m5 138v2m2-142v2m3-8v2m18 262v2m3-262v2m0 4v2m2 138v2m0 8v2m5-154v2m0 258v2m2-114v2m7-6v2m2-154v2m0 262v2m5 10v2m7-12v2m2-110v2m0 108v2m10-260v2m7 0v2m0 252v2m4-252v2m12-10v2m5-8v2m16 4v2m2 154v2m0 104v2m14-14v2m14-96v2m3-158v2m0 148v2m28 106v2m2-6v2m2-100v2m10 102v2m4-264v2m0 254v2m5 6v2m7-114v2m7-146v2m2-26v2m5 166v2m0 122v2m7-266v2m0 4v2m0 142v2m2-2v2m5-168v2m0 274v2m0 6v2m7-276v2m2 2v2m7-30v2m0 180v2m5-176v2m0 160v2m2-152v2m12-18v2m0 176v2m0 92v2m7-114v2m2-164v2m3 170v2m2-158v2m2-12v2m0 280v2m3-116v2m0 112v2m2-120v2m0 100v2m2 12v2m3-288v2m0 170v2m4-166v2m0 4v2m0 258v2m3-92v2m0 106v2m2-122v2m0 116v2m7-12v2m2-12v2m7-2v2m5-260v2m14 272v2m2-270v2m7 154v2m12-154v2m5-10v2m2 168v2m2 12v2m7-158v2m7 252v2m5-244v2m2 108v2m3 106v2m2-238v2m0 20v2m2-30v2m0 22v2m5-52v2m0 2v2m0 280v2m2-112v2m3-152v2m0 16v2m2-24v2m0 152v2m2-156v2m0 10v2m5 226v2m5-244v2m0 274v2m2-262v2m0 246v2m7-250v4m2-62v2m0 22v2m0 28v2m3-4v2m0 4v2m4-32v2m5 146v2m0 120v2m2-98v2m0 114v2m7-300v2m0 166v2m3-174v2m4 166v2m7-4v2m10-154v2m0 304v2m2-152v2"/>
<path stroke="#ffcf00" stroke-width="3" d="M163.5 292v2m0 6v2m14 2v2m7 154v2m203-182v2m224 264v2m98-124v2m0 24v2m7-156v2m0 152v2m7-16v2m0 104v2m0 16v2m7-122v2m0 8v2m14-164v2m0 278v2m14-124v2m49-14v4m7 108v2"/>
<path stroke="#ffbf00" stroke-width="2" d="M143 450v2m4-168v2m0 266v2m3-274v2m7 162v2m0 2v2m2-142v2m0 146v2m7 6v2m2-194v2m7 180v2m5-16v2m2-4v2m5-136v2m9 140v2m5-164v2m2 174v2m3-168v2m0 2v2m0 144v2m2-150v2m2 144v2m5 120v2m2-10v2m5-96v2m2-24v2m3 120v2m7-16v2m9-264v2m26-8v2m7-4v2m0 6v2m7 252v2m2 6v2m14-112v2m7-160v2m0 4v2m0 2v2m7-4v2m21 248v2m2-106v2m3 10v2m16 98v2m5 8v2m4-122v2m3-144v2m9 150v2m2 84v2m5 32v2m9-276v2m0 132v2m3 118v2m2-254v2m2 150v2m5-2v2m0 96v2m5-256v2m0 160v2m0 90v2m4-268v2m0 18v2m3-6v2m2-4v2m0 12v2m2-22v2m0 138v2m5-124v2m0 142v2m2-14v2m3-144v2m0 164v2m2-190v2m0 150v2m0 14v2m0 8v2m0 108v2m2-272v2m3 146v2m2-8v2m0 34v2m9-20v2m0 4v2m3-164v2m4 144v2m5 106v2m2 26v2m10-292v2m0 148v2m4-154v2m0 4v2m5-6v4m0 144v2m0 96v2m0 18v2m2-16v2m3-264v4m2 16v2m0 128v4m12-158v2m0 160v2m2-154v2m9 272v2m5-120v2m2-8v2m12 118v2m7-120v2m12-156v2m0 264v2m14-266v2m4-12v2m19 178v2m2 86v2m33-260v2m2-2v2m5-4v2m9 4v2m0 252v2m7-254v2m5 148v2m9 112v2m7-106v2m5 102v2m16-276v2m0 168v2m3-158v2m2-12v2m0 164v2m9 2v2m5-22v2m0 6v2m2-150v2m0 156v2m0 98v2m5-282v2m2 276v2m7-270v2m0 158v2m0 6v2m5-154v2m0 254v2m9-262v2m5-18v2m0 158v2m2-128v2m0 120v2m7-148v2m5-2v2m7 156v2m0 106v2m5-118v2m2-146v2m2 258v2m24-14v2m7-270v2m11 162v2m0 104v2m5-252v2m0 152v2m7 104v2m14-6v2m7-252v2m2 0v2m7-8v2m3 248v2m9-276v2m0 268v2m7 24v2m9-262v2m3 152v2m0 82v2m16-242v2m0 138v2m0 120v2m2-266v4m7-32v2m0 22v2m3 176v2m11-176v2m3-38v2m0 36v2m0 160v2m2-206v2m0 38v2m0 270v2m2-278v2m3 218v2m2 52v2m2-260v2m5-14v2m2 4v2m0 2v2m0 118v2m7-154v2m0 146v2m0 4v2m7-138v2m7 144v2m12-166v2"/>
<path stroke="#ffbf00" stroke-width="3" d="M163.5 442v2m7-2v2m21 12v2m126-158v2m301-36v2m0 20v2m98-4v2m7 262v2m7-254v2m0 8v2m77-18v2m14 272v2m21-278v2"/>
<path stroke="#ffaf00" stroke-width="2" d="M145 302v2m2 156v2m3-186v2m0 18v2m2 146v2m5-166v2m2 178v2m2-6v2m7-180v2m7 8v2m7 164v2m0 14v2m5-18v2m0 102v2m2-262v2m5 138v2m0 2v2m0 22v2m2-192v2m5 156v2m0 28v2m2 100v2m7-284v2m0 146v2m5 10v2m0 6v2m0 116v2m2-112v2m7-170v2m21-4v2m3-10v2m2 4v2m19-4v2m0 270v2m9-20v2m7 4v2m21-116v2m5 114v2m16-258v2m21-8v2m21-8v2m5 2v2m0 8v2m7-22v2m0 276v2m2-2v2m2-8v2m5-8v2m2-2v2m3-100v2m2-166v2m0 260v2m2-110v2m3-166v2m0 30v2m0 134v2m2-142v2m2 4v2m5-8v2m0 12v2m0 108v2m0 124v2m2-256v2m0 2v2m3 136v2m2-146v2m2 10v2m0 248v2m3-276v2m2-4v2m0 290v2m2-272v2m3-4v2m4 152v2m5-184v2m0 22v2m0 122v2m0 20v2m2 104v2m3 4v2m2-120v2m2 10v2m0 116v2m5-132v2m0 118v2m5-116v2m2-150v2m9-6v2m14 130v2m7 112v2m5 0v2m5-242v2m11 134v2m3 102v2m4 8v2m5-8v2m9-104v2m0 2v2m3-10v2m4 106v4m0 8v2m17-272v2m2 264v2m2-266v2m10 2v2m0 148v2m9 110v2m2-118v2m3-156v2m0 152v2m2 8v2m0 102v2m2-274v2m10 268v2m9-104v2m2-4v2m0 102v2m7-266v2m0 260v2m19-110v2m9-160v2m3 272v2m2-102v2m5-8v2m7-10v2m0 104v2m2-252v2m0 148v2m2-160v2m0 150v2m7-158v2m0 160v2m5 100v2m12-258v2m4 140v2m5 14v2m2-4v2m12-164v2m14 140v2m2 120v2m5-272v2m0 282v2m2-292v2m12 4v2m0 140v2m0 22v2m9-14v2m5-162v2m2 12v2m0 146v2m0 10v2m3-18v2m2-156v2m5 156v2m0 6v2m2 112v2m2-124v2m0 128v2m5-294v2m2 12v2m7 256v2m0 4v2m7-122v2m5-2v2m21 4v2m21 0v2m7 12v2m0 100v2m9-108v2m14 104v2m7-2v2m3-258v2m4 24v2m5 112v2m2-130v2m3 144v2m9-158v2m2-2v2m0 4v2m3-2v2m0 154v2m2-158v2m0 6v2m5 104v2m7-122v2m7 264v2m7-262v2m0 130v2m2 114v2m2-254v2m0 242v2m0 12v2m0 10v2m10-110v2m0 80v2m14-14v2m2-98v2m7 90v2"/>
<path stroke="#ffaf00" stroke-width="3" d="M163.5 304v2m0 140v2m7 114v2m7-282v2m7 0v4m0 188v2m7-182v2m126 134v2m301-154v2m0 150v2m77 124v2m28-120v2m14-150v2m0 158v2m7-14v2m0 12v2m98-16v2"/>
<path stroke="#ff9f00" stroke-width="2" d="M143 448v2m2-138v2m0 132v2m5-136v2m2 124v2m7 6v2m9-160v2m5 150v2m7-4v2m2-140v2m0 160v2m12-178v2m0 158v2m9-164v2m0 284v2m7-276v2m0 266v2m3-116v2m7 0v2m2 104v2m0 2v2m5-268v2m0 148v2m16 112v2m21-284v2m9 266v2m3-2v2m28-6v2m4 4v2m21-270v2m10 4v2m0 248v2m2-254v2m2-2v2m7 270v2m28-274v2m3-2v2m2 8v2m7-2v2m0 156v2m5-150v2m4-22v2m0 10v2m5 8v2m0 126v2m2 18v2m3-182v2m0 20v2m2-8v2m0 12v2m5-36v2m0 8v2m0 10v2m2 154v2m2-174v2m0 280v2m3-294v2m0 28v2m0 162v2m0 2v2m0 76v2m2-252v2m2-18v2m5-4v2m0 180v2m5-186v2m4 16v2m3 252v2m2-98v2m9 8v2m5 74v2m9-98v2m3-24v2m0 10v2m4-152v2m3 262v2m7-12v2m2 4v2m7-8v2m9-240v2m17 142v2m4-8v2m21-152v2m10 154v2m2 104v2m9-108v2m0 108v2m14-256v2m7-8v2m10 152v2m9 110v2m2-126v2m40 2v2m5-164v2m0 164v2m4-158v2m0 146v2m0 4v2m3 6v2m4-168v2m0 164v2m14-162v2m0 260v2m7-110v2m3 6v2m2-164v2m2 154v2m5-156v2m16 262v2m5-266v2m0 270v2m2-268v2m5-24v2m2 10v2m0 20v2m0 126v2m5-144v2m0 160v2m2 104v2m5-286v2m0 2v2m0 4v2m2 4v2m7 254v2m17-274v2m0 10v2m4 148v2m0 108v2m0 6v2m3-116v2m0 100v2m9-260v2m7-8v2m5 270v2m4 6v2m3-116v2m11 98v2m5-264v2m0 268v2m16-8v2m5-104v2m19-166v2m21 168v2m0 88v2m7-240v2m2 262v2m2-266v2m7-12v2m0 14v2m0 132v2m0 26v2m3-172v2m0 6v2m4-2v2m3-4v2m2 10v2m2-36v4m0 16v2m0 6v2m0 252v2m5-256v2m7-14v2m2 8v2m3-6v2m0 262v2m4-268v2m0 38v2m0 218v2m3-10v2m4-250v2m0 258v2m3-262v2m2 254v2m0 2v2m5-24v2m4-124v2m14 114v2m7-254v2m0 172v2m5 60v2"/>
<path stroke="#ff9f00" stroke-width="3" d="M163.5 448v2m14 106v2m0 6v2m7-272v2m0 2v2m0 258v2m7-284v2m0 24v2m427-22v2m91 10v2m0 150v2m7-156v2m14 8v2m7-6v2m0 260v2m7-112v2m0 106v2m63-4v2m21-24v2m21-80v2"/>
<path stroke="#ff8f00" stroke-width="2" d="M147 278v2m3 2v2m0 16v2m0 136v2m2-136v2m2-20v2m0 20v2m0 136v2m3 6v2m2-158v2m2-16v2m0 14v2m0 144v2m7-166v2m5 170v2m2-152v2m12 258v2m2-270v2m0 160v2m12 104v2m2-284v2m0 18v2m0 158v2m3-12v2m0 110v2m4-6v2m3-286v2m2-2v2m2 188v2m5-178v2m16 266v2m10-272v2m7-4v2m0 146v2m2 118v2m7-16v2m0 4v2m2-116v2m17-156v2m25 150v2m7 104v2m17 4v2m4 0v2m10-2v2m2-110v2m0 114v2m9-262v2m19 2v2m2 248v2m12-262v2m2 6v2m0 152v2m3 84v2m9-268v2m0 10v2m2-8v2m0 170v2m3-4v2m0 14v2m2-182v2m0 164v2m0 10v2m2-190v2m0 180v2m0 14v2m5-36v2m5 22v2m0 74v2m0 14v2m2-266v2m2 6v2m0 172v2m0 76v2m0 6v2m7-18v2m3-266v2m0 12v2m4 6v2m3-22v2m4-2v2m3 266v2m14-274v2m2 160v2m2 136v2m5-140v2m0 104v2m5-96v2m4-154v2m5-8v2m12 136v2m7 114v2m14-258v2m2-2v2m7 250v2m14-96v2m0 108v2m23-274v2m14-12v2m3 158v2m2-158v2m0 272v2m2-2v2m3-270v2m0 148v2m9 4v2m7-180v2m7 174v2m2-146v2m12-4v2m0 260v2m2-266v2m12-10v2m7-4v2m7 164v2m0 112v2m16-280v2m3 156v2m2 114v2m2-118v2m3-2v2m2 14v2m0 98v2m5-276v2m2 150v2m0 120v2m21-282v2m2 174v2m7 106v2m5-120v2m2-140v2m0 130v2m5-156v2m0 14v2m9 140v2m19 2v2m9-22v2m5-140v2m16 146v2m3 128v2m7-16v2m11-106v2m7-164v2m5 154v2m2-152v2m7 266v2m12-262v2m7-24v2m5 24v2m2 142v2m5 102v2m0 2v2m14-258v2m14 266v2m4-144v2m7-128v2m0 274v2m5-276v2m0 4v2m5-14v2m2 6v2m0 6v2m2-24v2m5 2v2m5 2v2m2-30v2m2 42v2m5-2v2m2-40v2m0 38v2m5-10v2m2-6v2m0 266v2m3-292v2m0 152v2m14-160v2m7 264v2"/>
<path stroke="#ff8f00" stroke-width="3" d="M163.5 272v2m0 158v2m7-128v2m0 136v2m14-150v2m203-2v2m231 254v2m14-120v2m63 10v2m7-2v2m7-10v2m7 2v2m7-152v2m0 8v2m0 146v2m7-172v2m14-6v2m14 274v2m49-2v2m7-272v2m0 278v2m7-114v2m0 102v2m7-272v2"/>
<path stroke="#ff8000" stroke-width="2" d="M143 296v4m2-4v2m0 158v2m2-170v2m0 18v2m0 136v2m3-4v2m2-158v2m5 4v2m2 142v2m2-154v2m5-4v4m2 152v2m0 16v2m5-176v2m0 276v2m7-8v2m21-106v2m0 6v2m2-16v2m5-166v2m0 178v2m2-178v4m3 150v2m4 120v2m5-290v2m0 172v2m2 114v2m7-4v2m3-120v2m2 108v2m35-270v2m14 250v2m23-4v2m31 14v2m37-268v2m14-24v2m2 8v2m3 16v2m0 152v2m4 0v2m3 98v2m11-106v4m0 18v2m3-178v2m0 158v2m4-182v2m0 28v2m3-26v2m0 172v2m0 4v2m2-198v2m5 176v2m7 0v2m4-16v2m0 2v2m0 24v2m7-24v2m5-152v2m0 246v2m2 4v2m3-242v2m2 128v2m2 12v2m12 98v2m14-114v4m7 4v2m7 4v2m12-8v2m11 98v2m21-250v2m0 146v2m17 108v2m7 0v2m2 4v2m7-280v2m0 166v2m14-12v2m2 114v2m14-120v2m19 100v2m14-254v2m7-10v2m21 268v2m5-104v2m14-6v2m2-4v2m16-158v2m0 148v2m12-160v2m0 20v2m14 138v2m2-156v2m0 12v2m7-4v2m5-6v2m7 152v2m2-4v4m7 108v2m5-274v2m0 160v2m7 102v2m2-264v2m3 162v2m4 98v2m5-268v2m0 148v2m5-2v2m2-6v2m0 14v2m5-162v2m4-14v2m0 4v2m0 154v2m7-4v2m5 124v2m2-132v2m5 124v2m2-276v2m0 162v2m26 108v2m21-6v2m5-4v2m4-94v2m3 90v2m2-248v2m5-14v2m7 168v2m2-166v2m0 14v2m5-12v2m0 8v2m2 140v2m5-146v2m2 228v2m5-232v2m2-30v2m0 256v2m2-8v2m10-264v2m0 296v2m4-2v2m3-114v2m2-24v2m2-126v2m10 142v2m21 72v2"/>
<path stroke="#ff8000" stroke-width="3" d="M163.5 286v4m21 168v2m7 104v2m126-26v2m294-266v2m14 20v2m0 244v2m98 6v2m28-270v2m0 152v2m7 4v2m63 106v2m28-100v2"/>
<path stroke="#ff7000" stroke-width="2" d="M150 294v2m9 146v2m2-2v2m12-164v2m0 4v2m2 6v2m14-12v2m0 162v2m5-144v2m5-16v2m0 270v2m4-134v2m0 10v2m0 8v2m7-162v2m3 12v2m7 156v2m18 78v2m7 2v2m19-272v2m16 258v2m31-256v2m16 262v2m7-2v2m19-260v2m4-4v2m24 4v2m4-32v2m5 288v2m2-258v2m5-32v2m0 182v2m2-178v2m0 18v2m10-36v2m0 10v2m2 158v2m2-164v2m0 12v2m0 10v2m0 158v2m5-186v2m2 182v2m5-4v2m7-40v2m5-136v2m2 148v2m7 112v2m2-2v2m7-278v2m0 8v2m3 0v2m0 144v2m2 4v2m2-16v2m3-150v2m0 260v2m2-262v2m0 4v2m2-10v2m3 256v2m7-264v2m4 258v2m10 4v2m2-2v2m16 4v2m3-122v2m4 122v2m10-6v2m25-254v2m5 260v2m12-264v2m7-18v2m14 158v2m0 118v2m7-274v2m4 148v2m21-160v2m0 266v2m12-104v2m7-154v2m12-6v2m0 148v2m9 104v2m21-254v2m7 148v2m14-144v2m9-6v2m0 256v2m0 4v2m5-120v2m14-170v2m2 282v2m5 0v2m16-276v2m5 172v2m2 86v2m7-274v2m3 6v2m2 12v2m5-12v2m0 264v2m9 0v2m16-268v2m26 258v2m7-114v2m16 112v2m7-2v2m3-250v2m4-10v2m5 170v2m14-160v2m26 0v2m2-2v2m0 10v2m2 252v2m10-268v2m4-16v2m7 8v2m3-10v2m0 14v2m2-44v2m5 292v2m14-298v2m2 172v2m7-22v2"/>
<path stroke="#ff7000" stroke-width="3" d="M184.5 468v2m203-16v2m245-14v2m70-162v2m0 254v2m14-246v2m14-2v2m0 140v2m7-8v2m0 124v2m14 0v2m7-278v2m0 140v2m0 6v2m0 4v2m49 104v2m7-104v2"/>
<path stroke="#ff6000" stroke-width="2" d="M154 294v2m0 4v2m3 154v2m4-178v2m5 6v2m7-2v2m2-8v2m0 178v2m7-20v2m5 120v2m9-114v4m5-2v2m5 0v2m14-4v2m2-18v2m0 8v2m2-170v2m7 156v2m7 110v2m10-12v2m2-112v2m12 0v2m4 104v2m17-262v2m0 256v2m23-102v2m5 106v2m14-260v2m2 4v2m16-4v2m28 156v2m7-12v2m3 104v2m4-264v2m5-4v2m5 10v2m7 8v2m2 242v2m0 4v2m7-282v2m14 20v2m0 152v2m2-168v2m0 6v2m0 246v2m3-256v2m4-4v2m0 280v2m5-110v2m2-178v4m5 266v2m2-264v2m24-16v2m2 146v2m12-142v2m18 248v2m10-108v2m7 112v2m2-254v2m2-10v2m10-4v2m0 8v2m18-4v2m0 264v2m3-264v2m25-12v2m14 264v2m19-268v2m14-2v2m2-2v2m19 152v2m2-148v2m3-2v2m37 264v2m7-120v2m2-2v2m21-140v2m0 246v2m7-266v2m0 152v2m5 110v4m16-120v2m5-154v2m14 268v2m7-2v2m2-272v2m5 156v2m16 118v2m28-6v2m35 0v2m26-248v2m2 136v2m3 106v2m9-272v2m0 10v2m0 10v2m9-22v2m3 0v2m4 16v2m0 4v2m3 256v2m4-262v2m7-4v2m17-12v2m30 140v2"/>
<path stroke="#ff6000" stroke-width="3" d="M170.5 272v2m0 22v2m21-14v2m0 14v2m0 6v2m0 248v2m434-264v2m77 136v2m21-132v2m0 124v2m14 8v2m7-164v2m0 166v2m105 106v2"/>
<path stroke="#ff5000" stroke-width="2" d="M145 286v2m5 162v2m7-168v2m18 158v2m5 0v2m7-164v2m0 156v2m7 6v2m2-168v2m0 272v2m7-104v2m5-14v2m5-152v2m4 168v2m7-172v2m14-6v2m28-2v2m24 248v2m9-250v2m40 260v2m11-270v2m42 154v2m5-152v2m0 2v2m7-16v2m2 154v2m0 8v2m5-156v2m14-8v2m0 252v2m2-262v2m0 144v2m3-132v4m7 134v2m4 0v2m5-10v2m2-136v2m17-12v2m2 136v2m9 114v2m3-8v2m18-2v2m3 4v2m2-96v2m5-20v2m2 108v2m7-260v2m21 260v2m2-256v2m14-10v2m5 160v4m84-8v2m7 4v2m0 104v2m9 2v2m5-108v2m5 96v2m14 0v2m2-104v2m2 100v2m3-4v2m25-260v2m26-2v4m2 156v2m21-158v2m0 270v2m7-22v2m12 4v2m2-116v2m19 104v2m9 10v2m0 2v2m19-114v2m21-4v2m2-154v2m0 248v2m5 10v2m19 4v2m11-108v2m5-156v2m0 260v2m9-248v2m3-36v2m7 0v2m0 18v2m2-10v2m19 16v2m2-8v2m2-12v2m5 6v2m23-30v2"/>
<path stroke="#ff5000" stroke-width="3" d="M177.5 300v2m14-20v2m441 270v2m63-108v2m0 104v2m35-108v2m7-162v2m0 260v2m7-262v2m70 144v2m0 6v2m21-4v2m0 100v2"/>
<path stroke="#ff4000" stroke-width="2" d="M143 564v2m4-280v2m5 172v2m2-166v2m7 146v2m12-152v2m7-12v2m14 12v2m0 148v2m5-2v2m4-146v2m0 152v2m5-4v2m5-166v2m0 158v2m7-12v2m11 2v2m0 2v2m5-172v2m14 154v2m58-10v2m5-144v2m40-4v2m0 262v2m4-110v2m5 98v2m16 18v2m17-278v2m2-10v2m0 170v2m2-184v2m5 40v2m9-28v2m5 12v2m7 254v2m5-284v2m2 182v2m2 100v2m10-110v4m2-176v2m9 8v2m3 4v2m4 126v2m21 8v2m10-6v2m56 112v2m11 4v2m12-104v2m14-164v2m5 258v2m11-256v2m40-2v2m9-8v2m3-6v2m25 152v2m14-150v2m5 154v2m14-174v2m9 282v2m7-114v2m12-178v2m0 188v2m9-20v2m0 6v2m12-20v2m35 114v2m7-258v2m21 0v2m23 160v2m24-160v2m9 154v2m19-136v2m7 0v2m7-20v2m7 8v2m0 6v2m4-40v2m0 16v2m7 14v2m3-16v2m0 6v2m4-8v2m7 2v2m24 142v2m2 82v2m2 12v2"/>
<path stroke="#ff4000" stroke-width="3" d="M177.5 266v2m0 196v2m14-174v2m413 148v2m98-150v2m7-10v2m21-4v2m112 164v2"/>
<path stroke="#ff3000" stroke-width="2" d="M147 554v2m5-256v2m7-8v2m0 144v2m9 2v2m14-160v2m5 280v2m7-292v2m0 188v2m7-178v2m0 160v2m2-160v2m3-12v2m4 168v2m5-4v2m0 106v2m5-2v2m7-4v2m37-126v2m12 102v2m30 4v2m9 4v2m28-274v2m28 166v2m10-164v2m14 266v2m2-272v2m0 4v2m2 150v2m3 116v2m2-104v2m2-8v2m5-182v2m5 4v2m2 182v2m0 92v2m5-272v2m7 138v2m0 140v2m9-128v2m0 4v2m5-16v2m2-158v2m2 4v2m0 160v2m19-160v2m23-8v2m38-2v2m0 262v2m11-258v2m14-10v2m19 0v2m23-6v2m12-4v2m16 262v2m31-264v2m0 264v2m0 4v2m16-110v2m19-14v2m16 2v2m2-2v2m5-152v2m0 150v2m35-160v2m2 270v2m7-268v2m7 6v2m0 134v2m14 12v2m7-12v2m0 4v2m7 0v2m0 98v2m5 6v2m28-262v2m33 0v2m16 264v2m7-262v2m0 246v2m30-232v2m14-14v2m3 274v2m2-278v2m2-6v2m3-2v2m9 142v2m14-160v2"/>
<path stroke="#ff3000" stroke-width="3" d="M184.5 282v2m203-2v2m0 162v2m217-168v2m0 164v2m112-170v2m7 14v2m21-22v2m7 172v2m7-166v2m0 148v2m0 98v2"/>
<path stroke="#ff2000" stroke-width="2" d="M152 560v2m2-112v2m5-170v2m0 4v2m14 0v2m23 2v2m10 260v2m4-112v2m0 4v2m5-170v2m0 152v2m5 0v2m0 2v2m2 108v2m26-8v2m46-4v2m14-8v2m19-256v2m19 4v2m35 152v2m9-168v2m2-6v2m12 170v2m2-164v2m10 14v2m7 140v2m7 6v2m11-4v2m3-24v2m7 122v2m11-4v2m35-12v2m42-260v2m12 158v2m23-162v2m26 158v2m44-162v2m5 158v2m2-156v2m0 262v2m33-116v2m9-2v2m14-156v2m5-6v2m2-2v2m0 4v2m19 158v2m2 4v2m5-8v2m2-170v2m14 148v2m5 108v2m5-102v2m46 108v2m54 8v2m30-264v2m0 16v2m3 136v2m7-146v2m4 0v2m7-2v2m0 140v2m3-140v2m2-20v2m2 14v2m5-16v2m9-18v2m0 172v2m3 108v2m7-112v2m7-182v2m4 174v2"/>
<path stroke="#ff2000" stroke-width="3" d="M163.5 460v2m7-8v2m7-172v2m525 154v2m14-144v2m0 254v2m7-274v2m14 164v2m14-158v2"/>
<path stroke="#ff1000" stroke-width="2" d="M154 458v2m7-12v2m5 4v2m2 12v2m5-174v2m0 154v2m7-176v2m0 282v2m33-274v2m2-10v2m93 2v2m5-8v2m58 4v2m12 272v2m9-118v2m3-156v2m7 0v2m2 0v2m0 156v2m7-2v2m9-176v2m0 168v2m0 12v2m5-180v2m2 178v2m3-182v2m0 4v2m0 152v2m4-176v2m7 174v2m5-4v2m9-170v2m0 148v2m14 0v2m17-156v2m11 272v2m21-270v2m45 6v2m4 260v2m10-274v2m18 270v2m26-100v2m2-20v2m14-156v2m26-2v2m14 154v2m21 8v2m9-154v2m12 146v2m9-152v2m14-6v2m5-14v2m0 8v2m14-4v2m19 152v2m18-164v2m7 14v2m28 146v2m63 130v2m7-286v2m5 20v2m7-14v2m2-2v2m0 14v2m3-18v2m4-2v2m10 270v2m2-266v2m5-6v4m9 262v2m12-118v2m2-2v2m0 98v2m2-102v2m14-6v2"/>
<path stroke="#ff1000" stroke-width="3" d="M639.5 438v2m63 8v2m7-10v2m7-158v2m7 156v2m7-158v2"/>
<path stroke="#ff0000" stroke-width="2" d="M143 284v2m0 174v2m4-162v2m0 142v2m14-150v2m5 148v2m2-154v2m7-10v2m7 152v2m5-148v2m2 150v2m5 4v2m2-180v2m5 10v2m9 4v2m3-6v2m0 156v2m14 10v2m0 4v2m2-22v2m23-164v2m54 158v2m42 112v2m5-276v2m32 268v2m5-22v2m12-244v2m7-4v2m0 156v2m0 116v2m2-2v2m2-116v2m0 112v2m5-2v2m16-290v2m3 170v2m0 106v2m9 2v2m9-8v2m3-14v2m21 8v2m21-276v2m0 268v2m11-270v2m5 260v2m2-262v2m5 262v2m28 4v2m28-112v2m44-8v2m61-154v2m2 164v2m7-16v2m28 4v2m5-156v2m7 2v2m0 156v2m7-12v2m2-162v2m28 0v2m28 14v2m0 142v2m26-160v2m79 28v2m3-6v2m7-10v2m4 4v2m3-10v2m0 4v2m2-6v2m0 4v2m5 148v2m2-144v2m9-24v2m5 160v2m2-2v2m7-4v2m17-22v2"/>
<path stroke="#ff0000" stroke-width="3" d="M177.5 288v2m7 162v2m203-168v2m252 254v2m63-268v2m0 278v2m14-118v2"/>
<path stroke="#ef0000" stroke-width="2" d="M159 290v2m23 2v2m7 272v2m7-130v2m3-142v2m0 140v2m2-4v2m12-160v2m2 166v2m2 0v2m54 86v2m30-104v2m45 112v2m23-262v4m2 258v2m3-278v2m23 280v2m7-6v2m2-280v2m7 174v2m5-16v4m0 122v2m2-124v2m5-2v2m2-158v2m3 152v2m0 122v2m2-122v2m5 116v2m2-112v2m5-4v2m2-2v2m5-2v2m2 100v2m12-278v2m18 268v2m3 0v2m9-2v2m33-2v2m2-4v2m16-2v2m28-104v2m5 108v2m12-120v2m2 4v2m23-4v2m14 0v2m14 100v2m45-110v2m11-160v2m5 8v2m14 156v2m2-164v2m12-4v2m14-4v2m2-6v2m47 6v2m42 154v2m7 110v2m9-258v2m7 252v2m14 2v2m21-256v2m14 10v2m3 258v2m7-274v2m11-2v2m3-2v2m4 156v2m5 104v2m9-30v2"/>
<path stroke="#ef0000" stroke-width="3" d="M170.5 446v2m21 0v2m427-14v2m14-2v2m70-2v2m14-148v2m133 256v2"/>
<path stroke="#df0000" stroke-width="2" d="M159 454v2m30-162v2m5 268v2m14-268v2m9-16v2m21 268v2m14-14v2m21-262v2m52 2v2m32 154v2m17-152v2m0 256v2m25-102v2m7 110v2m3-124v2m2-150v2m2 268v2m3-278v2m0 154v2m7 120v2m14-290v4m0 170v2m2-176v2m2 170v2m3-6v2m7-162v2m4 170v2m0 94v2m3-16v2m2-266v2m2 278v2m3-12v2m9-116v2m16-4v2m12-146v2m0 262v2m9-266v2m5 264v2m9-4v4m59-110v2m16 106v2m30-116v2m0 8v2m61 102v2m14-260v2m0 262v2m21-272v2m40 156v2m2-168v2m26 156v2m46-148v2m56 164v2m5 110v2m23-264v2m3 248v2m11-280v2m17 174v2m2-2v2"/>
<path stroke="#df0000" stroke-width="3" d="M170.5 568v2m217-12v2m231-116v2m98-158v2"/>
<path stroke="#cf0000" stroke-width="2" d="M145 288v2m0 2v2m0 160v2m14-6v2m2-164v2m7 156v2m26-156v2m0 170v2m2-180v2m10 158v2m9-158v2m2 152v2m17-4v2m7 106v2m7-8v2m4-108v2m24-158v2m11-2v2m5 252v2m2-256v2m0 148v2m21 112v2m12-4v2m5-104v2m2-160v2m2 0v2m28 264v4m7-110v2m7-156v2m7 264v2m5-2v4m2-110v2m0 106v2m12-270v2m7 4v2m5-12v2m0 150v2m7 0v2m2 122v2m2-122v2m0 2v2m3-164v2m2 276v2m2-4v2m5-292v2m0 290v2m2-6v2m7-286v2m3-4v2m2 4v2m7 0v2m5 264v2m2 0v2m5-4v2m2 0v2m7-274v2m2 252v2m3-256v2m2 266v2m2-16v2m5 0v2m12 10v2m7 0v2m2-12v2m12-254v2m0 258v2m4-2v2m5 2v2m49-116v2m30-156v2m5 148v2m0 112v2m14 0v2m19-268v2m2 266v2m16-268v2m10 152v2m51-154v2m49-12v2m2 158v2m0 108v2m5-114v2m21 110v2m23-2v4m38-100v2m30-138v2m2 250v2m5-276v2m2 274v2m7-112v2m5-2v2m7-184v2m7 178v2m5-4v2m11 78v2m17-86v2m2-184v2m7 2v2"/>
<path stroke="#cf0000" stroke-width="3" d="M177.5 446v2m448-14v4m7 6v2m105-162v2m14-8v2m7 268v2m49-4v2"/>
<path stroke="#bf0000" stroke-width="2" d="M143 454v2m2-6v2m2-156v2m3-8v2m0 266v2m2-108v2m7-162v2m16 266v2m5-120v2m9 12v2m0 100v2m5 2v2m2-112v2m3-166v2m0 272v2m2-116v2m2-160v2m5 0v2m7-6v2m14 262v2m9-114v2m3-4v2m4 108v2m12-112v2m2-156v2m5-4v2m2-2v2m3 150v2m2-2v2m2-2v4m3-2v2m2-156v2m9 148v2m5 108v2m12-260v2m7-2v2m4 0v2m7 258v2m5 0v2m2-264v2m0 152v2m24 110v2m14-108v2m2 108v2m9-112v2m3 110v2m2-112v2m0 100v2m2-102v2m0 108v2m5-272v2m2-8v2m3 274v2m11-126v2m3-158v2m2 156v4m2-156v2m12-8v2m0 172v2m0 98v2m2-276v2m0 4v2m3-10v2m0 166v2m4 102v2m3-270v2m0 282v2m2-4v2m5-2v2m2-124v2m0 6v2m2-12v2m0 118v2m3-108v2m0 92v2m2-96v2m0 90v2m5 4v4m9-6v2m7-16v2m5-2v2m2-256v2m0 250v2m2 14v2m5-268v2m5 142v2m4-150v4m3 254v2m2 10v2m12-268v2m2-2v2m2 252v2m3-258v2m0 150v2m4-150v2m5-2v2m2-2v2m3-2v2m0 152v2m0 108v2m4-112v2m3 106v2m4-4v2m0 2v4m5-110v2m7-6v2m2 0v2m3-2v2m14-160v2m2 268v2m2-2v2m7-272v2m5 266v2m16-6v2m5-264v2m2 148v2m0 2v2m12-8v2m9-148v2m0 254v2m12-262v2m2-2v4m17 152v2m0 106v2m4-2v2m12 2v2m2-110v2m5-4v2m2 106v4m33 2v2m2-290v2m0 18v4m0 264v2m5-2v2m2-268v2m7-8v2m5-2v2m0 152v2m7-160v2m7 266v2m9-2v2m10-2v2m2-112v2m9-4v2m0 110v2m5-114v2m16 2v2m5 106v4m2-112v2m19 6v2m7-2v2m19 104v2m9-258v2m0 256v2m14-100v2m14 0v2m2-168v2m3-4v2m2-4v2m0 278v2m5-286v2m2 14v2m0 270v2m5-272v2m0 4v2m0 262v2m4-122v2m0 2v2m5-160v2m2 158v2m10-184v2m0 8v2m2 168v2m5-22v2m2 16v2m0 84v2m7-92v2m0 84v2m2-86v2m5-6v2m2-182v2m7 158v2m3-162v2m4 156v2"/>
<path stroke="#bf0000" stroke-width="3" d="M163.5 558v2m21-112v2m7 112v2m196-280v2m0 2v2m0 256v2m0 12v2m217-124v2m0 108v2m7-108v2m0 106v2m7-266v2m0 150v4m0 4v2m21-6v2m56 0v2m14 110v2m28-116v2m7 108v2m63-116v2m28 106v2m7 2v2"/>
<path stroke="#af0000" stroke-width="2" d="M143 282v2m0 272v2m2-106v2m0 104v2m2-110v2m3-160v2m0 162v2m4-170v4m0 160v2m5 106v2m7-2v2m7-2v2m2-272v2m0 158v2m5-162v4m2-12v2m7 6v2m0 158v2m0 108v2m7-274v2m0 158v2m3-160v2m0 158v2m9-164v2m5 270v2m4-2v2m5-6v2m2-270v2m10-6v2m4 262v4m5-268v2m0 152v2m7-158v2m2 260v2m3-262v2m4 262v2m3-114v2m4-154v2m5 258v2m9-114v2m7 0v2m0 106v2m5-110v2m2 106v2m3-108v2m2-156v2m7 152v2m5-156v2m0 258v2m2 0v2m7-2v2m7-258v2m5 258v2m2-110v4m0 104v2m2-262v2m0 152v2m0 104v2m3-110v4m0 104v2m4-108v2m0 106v2m5-264v4m0 258v2m5-262v2m0 258v2m2-262v2m9 154v2m5 102v4m2-266v2m0 266v2m3-270v4m0 264v2m2-270v2m2-2v2m0 258v4m0 4v4m3-112v2m2-166v2m0 6v2m0 152v2m0 108v4m2-112v2m7 0v2m7-164v2m3-18v2m2 162v2m0 124v2m2-280v2m0 170v2m3-24v2m0 126v2m2-278v2m0 162v2m2 4v2m3 94v2m2-276v2m2 2v2m0 158v2m0 120v4m5-290v2m0 166v2m0 102v2m2-274v2m5-4v2m0 170v2m2-4v2m3-168v2m0 268v2m2-102v2m2-178v2m0 288v2m3-124v2m2-4v2m5-164v2m2 156v4m2-162v2m0 174v2m5-20v2m0 106v2m0 6v2m2-274v2m3 258v2m2-260v2m0 256v2m2-112v2m12-4v2m9 106v2m7-106v2m3-2v2m2-4v2m0 106v2m7 8v4m2-120v2m0 106v2m3-4v2m9-258v4m0 254v2m7-258v2m5-2v2m0 266v2m2-270v2m9 156v2m3-158v2m0 264v2m4-4v2m3-112v2m2-156v2m7-2v2m9-4v4m3 264v2m4-112v2m5-160v2m9-2v2m0 154v2m3-156v2m0 152v2m2-2v2m0 110v2m7-268v2m0 260v4m2-2v2m12-268v2m0 152v2m2-156v2m0 152v2m0 6v2m0 100v4m5-106v2m2 100v4m5-114v2m2-156v2m7 0v2m0 262v2m5-266v2m12-6v2m2 2v2m2 152v2m5 106v2m2-108v2m3-4v2m2 106v2m2-110v2m0 106v2m5-110v2m0 108v2m2-264v2m3-2v2m0 260v2m2-264v2m2 0v2m7-2v2m0 260v2m7-264v2m7-2v2m5 154v2m2 106v2m5-266v2m0 154v2m2-4v2m5 108v2m16-274v2m0 266v2m7-114v2m7-160v2m0 156v2m0 2v2m3-4v2m0 106v2m2-2v2m5-270v2m0 156v2m0 108v2m2-270v2m0 154v4m5-158v2m0 262v2m2-268v2m0 264v2m2-266v2m10-4v2m2 0v2m2-4v4m0 264v2m3-270v4m0 154v2m9-156v2m9-2v2m5 264v2m2-266v2m19 4v2m2 256v2m14-254v2m0 150v2m5-154v2m5 154v2m7-156v2m2-2v2m5-2v2m2 154v2m0 4v2m5-8v2m4 106v2m5-272v2m14-10v2m5 170v2m2-154v2m0 6v2m0 142v2m2-152v2m3-28v2m2 24v2m2-32v2m0 178v2m3 0v2m0 90v2m2-250v2m0 154v2m5-18v2m2 98v2m5-4v4m2-272v2m0 176v2m14-22v2m2 100v2m5 0v2m5-112v2m4-2v2"/>
<path stroke="#af0000" stroke-width="3" d="M177.5 290v2m0 268v2m7-112v2m7-162v2m0 162v2m126 90v2m287 2v2m7-268v4m7 146v2m7-152v2m7 2v2m0 258v4m7-266v2m63 2v2m0 262v2m7-266v2m0 262v2m21-268v2m0 154v2m14-2v2m77-160v2m7 156v2m14 0v2m7-154v4m0 252v2"/>
<path stroke="#9f0000" stroke-width="2" d="M147 558v2m5-2v2m2-268v2m3 158v2m0 102v4m2-108v2m2-2v2m7-162v2m7-2v2m0 152v4m7-160v2m0 270v2m5-274v2m2 0v2m0 268v2m5-4v2m7-272v2m0 158v2m2-2v2m0 110v2m3-274v2m2-2v2m0 268v2m7-116v2m0 110v4m2-114v2m3 108v2m2-114v2m2-162v2m0 268v2m3-114v2m0 108v4m2-116v2m5-4v2m2-158v2m0 264v2m5-112v2m4-158v2m3 150v2m7-2v2m2 104v4m2-110v2m5-4v2m0 108v2m2-110v2m3-156v4m0 258v2m4-262v2m0 258v2m3-262v2m2-2v2m0 256v2m5-108v2m0 104v2m2-2v4m5-114v2m2-152v4m0 258v2m5-2v2m7-110v2m2-154v2m5 258v2m4-262v2m0 150v2m5-154v2m2-2v2m7 260v4m14-110v2m3-154v2m4 0v2m0 150v2m0 106v2m12-262v2m0 152v4m0 104v2m5-4v2m0 2v2m2-110v2m2-4v2m0 106v2m3-108v2m0 110v2m2-10v2m0 4v2m5-268v2m0 264v2m2-268v2m7-4v2m0 160v2m2 96v2m3-98v2m0 96v2m0 10v2m2-16v2m2-268v2m0 264v2m0 10v4m3-278v2m0 150v2m0 12v2m0 96v2m2-266v4m0 260v4m2-4v4m3-268v2m0 262v2m2-2v4m0 8v2m2-122v2m0 14v2m0 90v2m3-268v2m0 268v2m2-274v2m0 2v2m0 166v2m0 94v6m2-276v2m0 2v2m0 268v2m3-272v2m0 280v2m2-286v2m0 168v2m2-10v2m0 104v2m0 16v2m3-290v4m0 166v2m0 98v2m2-270v2m2-4v2m3 164v2m2 100v4m2-274v2m0 162v2m3-166v4m0 2v2m2-6v2m2-2v2m0 156v2m3 106v2m2 8v2m2-278v2m0 264v2m3-270v2m0 156v2m0 106v2m2-268v2m0 154v2m0 106v2m0 10v2m2-122v2m0 116v2m5-274v2m0 256v2m2 12v2m3-272v2m0 146v4m2 104v2m0 10v2m2-272v2m5 2v2m0 146v2m0 102v2m0 12v2m2-270v2m3-2v2m0 146v2m0 102v2m4 14v2m7-16v4m0 10v2m3-16v2m2-106v2m5 102v2m4-256v2m0 254v2m5-258v2m0 148v2m5 104v4m0 6v2m2-116v2m5-150v2m0 150v2m2-4v2m2 112v2m5-266v2m0 152v2m0 102v2m0 4v2m2-268v2m0 152v2m0 104v2m3-106v2m0 104v2m0 2v2m2-268v2m0 262v2m0 2v2m2-114v2m3-2v2m4-158v2m3-2v2m0 264v2m4-112v2m3-158v2m2 156v2m0 108v2m2-114v2m5-156v2m0 154v2m0 110v2m9-4v2m0 2v2m3-274v2m2 156v2m2-6v2m0 2v2m5-158v2m9 152v2m12-158v2m2 0v2m0 260v2m5-110v2m0 108v2m2-266v2m5-2v2m0 148v2m0 2v2m2-158v2m7 156v2m0 104v2m5 0v2m9-4v4m3-4v2m2-110v2m2-2v2m0 108v2m3-4v2m2-110v4m0 104v2m2-266v2m3 0v2m4 152v2m0 108v2m3-110v2m4-158v2m3 264v2m2-268v2m2-2v2m7 156v2m5-2v2m2-4v2m0 110v2m5-4v4m2-114v2m0 112v2m5-266v2m0 260v2m2-2v2m5-2v2m2-268v2m12-4v2m2-2v2m5-2v2m0 264v2m2-2v4m12-4v2m7-114v2m2-164v2m5 0v2m2-4v2m10 156v2m9 110v2m5-110v2m2-4v4m2 104v2m3-2v2m9-108v2m9-4v2m5 2v2m0 104v2m9-106v2m7-2v2m7-152v2m5 152v4m2 102v2m3-258v2m2-2v2m0 152v2m2 100v2m3-106v2m2-152v2m7-2v2m0 152v2m2 102v2m3-106v2m2-2v4m2-160v4m3 256v2m2-260v2m0 258v2m5-264v2m2-2v2m0 158v2m0 104v2m2 0v2m3-2v2m7 2v2m2-284v2m5 170v2m2-178v2m5-2v2m2-4v2m2-2v2m0 168v2m5-174v2m0 274v2m2-2v2m3-278v2m0 176v2m2-184v2m5-2v2m0 268v2m2-108v2m5-168v2m0 164v2m4-168v4m0 262v2m3-270v2m0 160v4m4-164v2m10 152v2m2-158v2m0 154v4m2-160v2m5-2v2"/>
<path stroke="#9f0000" stroke-width="3" d="M177.5 292v2m0 156v2m14 108v2m196-272v2m0 156v2m217-10v2m7-4v2m14 4v4m0 100v2m7-266v2m70 266v2m7-112v4m7 0v2m14-2v2m0 106v2m7-112v2m0 108v2m14-114v2m0 106v2m7-272v2m49 0v2m7 154v4m7 0v2m7-156v2"/>
<path stroke="#8f0000" stroke-width="2" d="M143 558v2m2-102v2m0 96v2m7-2v2m2-2v4m3-110v2m4-160v2m0 156v2m5-160v2m0 264v2m2-112v4m0 106v4m5-270v2m0 156v2m2 106v2m5-110v2m2-160v2m0 156v2m5 110v2m2-112v2m5-164v2m2-2v2m0 270v2m3-4v2m4-276v4m0 158v2m0 2v2m5 108v2m2-116v4m0 110v2m3-278v2m0 156v2m4-160v2m3-2v4m4 154v4m3-162v2m4-2v4m0 262v2m3-2v2m2-2v2m7-114v2m2-6v2m3-152v2m2 258v2m2-264v2m3 152v2m0 102v2m4 0v2m3-262v2m2-2v2m2 252v2m0 4v2m3-110v2m7 104v2m2 0v2m2-264v4m3-2v2m0 146v2m2 0v2m2-152v2m3-2v2m2 146v2m2 2v2m3-154v2m0 146v2m2-150v2m2 258v2m3-264v2m4-2v2m0 258v2m3-106v2m2-4v2m2 0v2m5-154v2m2 150v2m3-2v4m0 104v2m2-110v2m0 106v2m2-260v2m3 150v2m9-152v2m0 150v2m2-156v4m0 256v2m3-2v4m2-110v2m0 104v2m2 2v2m5-266v2m0 260v2m2-108v2m0 104v4m3-110v4m2 102v2m2-262v2m0 258v2m3-264v2m0 262v2m2-264v2m2 0v2m3 154v2m0 102v2m2-106v2m2-2v2m3-158v2m2-6v2m0 256v2m2-102v2m5 102v2m2-266v2m0 2v2m0 266v2m3-272v2m2-4v2m0 164v2m2-168v2m0 262v2m3-264v2m0 164v2m2-2v2m5-172v2m0 266v2m2-270v2m2-2v2m3-4v2m0 174v2m2-180v2m2 172v4m7 94v2m3-2v2m4-106v2m3-6v2m0 102v2m2-106v2m2-170v2m0 270v4m7 6v2m3-280v2m0 158v2m4-8v4m0 14v2m7-176v2m0 260v2m3-110v2m2-4v2m2-150v2m0 256v2m3 10v2m4-124v2m3-152v4m2 254v2m2-256v2m5 248v4m5-258v2m0 2v2m2-4v2m0 144v2m2-146v2m0 144v2m3-2v2m4-150v2m0 148v2m0 104v2m3-258v4m0 146v2m2-150v2m0 146v4m0 100v2m5-104v2m4-152v2m3-2v2m2 150v2m0 104v2m2-260v2m0 148v2m0 104v2m5-104v2m0 110v2m2-268v2m3 152v2m4 106v2m5-108v2m5 106v2m2-266v2m0 264v2m2-112v4m0 104v2m3-108v2m0 108v2m4-110v2m3 108v2m2-272v2m0 268v2m2-272v2m0 156v2m0 110v2m3-274v4m0 266v2m7-268v2m0 150v4m2-156v2m0 152v2m0 110v2m2-116v2m3 0v2m2-156v2m0 268v2m2-118v2m3-2v2m2-4v2m5 110v2m2-266v2m2-4v2m0 262v4m7-114v4m5 106v4m7-266v2m2 152v2m5 106v4m2-112v2m5-2v2m2 108v2m10-266v2m0 154v2m0 104v4m2-112v2m2 0v2m3-4v2m2 108v2m2-268v2m0 262v2m3-266v4m0 152v2m7-158v2m2-2v2m0 154v2m5-158v2m0 262v2m2 0v4m5-268v2m4 154v2m3 0v2m0 106v2m2-2v2m2-112v2m12-156v2m0 154v2m2 108v2m5-266v2m0 150v4m2-154v2m0 152v2m0 108v2m5-270v4m2-2v2m0 154v2m5 106v2m2-2v2m7-268v2m0 152v2m5-162v2m0 158v4m2-4v4m5 106v2m2-274v2m5 158v2m0 108v2m2-112v2m0 106v2m5-112v2m5-162v2m0 2v2m4-4v2m0 156v4m0 108v2m3-274v2m2 266v2m2-270v2m10 156v4m0 106v2m2-110v2m2-160v2m3 0v2m9 262v2m2-264v2m5 152v2m2-2v2m5-154v2m2-2v2m5 152v2m2 108v2m5-264v2m0 260v2m2-262v2m0 150v2m5-152v2m0 258v2m2-108v2m0 102v4m5-108v2m2-2v4m5 102v2m2-106v4m3-156v2m0 256v2m2-106v2m0 100v2m2-258v2m3 0v4m2 148v2m2 102v2m3-256v2m4-4v4m0 150v2m3-156v2m0 256v2m9 4v2m2-108v4m3-160v2m0 260v2m2 2v2m5-108v2m2-4v2m2-168v2m0 164v2m3-170v2m0 166v2m2-2v4m2-4v2m3-2v2m0 112v2m2-116v2m2-178v4m3-4v2m2 172v2m0 112v2m2-8v2m3-106v2m0 96v2m2-110v2m0 6v4m2-182v2m3-4v2m2 270v4m2-108v2m3 10v2m2-184v4m0 162v2m0 102v2m5-272v2m2-2v2m2 158v4m3-166v2m0 262v2m2-106v2m2-164v2m0 262v2m5-4v4m2-266v2m0 262v2m3-88v2m2 82v2m2-108v2m3-158v2m2-4v2m0 156v2m2-162v2m0 264v2"/>
<path stroke="#8f0000" stroke-width="3" d="M163.5 560v2m7-272v2m0 156v4m0 106v4m7-114v2m0 112v2m7-274v2m7 158v4m126-170v2m0 152v2m70 10v2m217-168v4m21-2v2m0 152v4m0 106v2m7-114v2m7-156v2m0 262v2m56-262v2m0 262v2m7-112v2m21-156v2m7 0v2m7 256v2m7-268v4m0 152v2m14-162v2m49 160v2m7-156v2m7 262v2m7-262v2m0 150v2m0 104v2m14-258v2"/>
<path stroke="#800000" stroke-width="2" d="M143 290v2m0 160v2m0 2v2m2-168v2m2-2v4m0 158v2m0 102v2m3-2v2m2-268v2m0 2v2m0 158v2m5-168v4m2 156v2m0 108v2m2-270v2m0 266v4m5-272v2m0 156v6m2-164v2m5 156v2m7-2v2m0 110v2m2-114v2m5-162v2m0 2v2m0 152v2m0 2v4m0 106v2m2-274v2m5-2v2m2 160v2m3 0v2m2-166v2m0 270v4m2-4v2m3-274v2m0 158v4m0 108v4m2-116v4m2-162v2m3 156v2m0 108v2m2-112v2m2-162v2m0 156v2m0 110v2m3-114v4m0 106v2m2-272v4m2 158v2m0 108v2m3-272v2m0 152v2m2-158v4m0 264v2m2-114v4m3 104v2m2-266v2m2-4v4m3-4v2m2 260v2m2-262v2m0 258v2m3-264v2m0 152v2m0 106v2m2-264v4m0 150v2m0 104v2m2 0v2m3-266v2m0 260v2m2-264v4m0 150v2m2-156v2m3-2v2m0 258v4m2-4v2m2-110v2m0 106v2m3-2v2m2-260v2m0 150v2m0 104v2m5-110v2m0 108v2m2-110v2m2-4v4m0 104v2m3-110v2m2-154v4m0 150v2m2-2v2m0 106v2m3-264v2m0 150v4m0 104v4m2-110v2m2-154v2m0 148v2m0 108v2m3-112v2m0 106v2m2-110v4m2-156v4m0 148v4m0 104v2m3 0v2m2-112v2m0 106v4m2-262v2m0 148v4m0 106v2m5-264v4m0 256v2m7-106v4m0 104v2m2-262v2m3 256v2m2-106v2m2-4v2m3-154v4m0 256v2m2-262v2m0 258v2m2-2v2m3-260v4m2-4v2m0 150v2m0 108v2m5-262v2m0 150v2m2 0v2m2-2v2m3-158v2m0 152v4m2-4v4m0 106v2m2-266v2m3-2v4m0 258v4m2-266v2m2-2v2m0 154v2m3-156v2m0 152v2m0 110v2m2-270v2m0 154v2m2-156v2m0 258v2m5-262v4m0 254v2m0 8v2m2-270v2m3-4v2m0 258v4m4-264v4m5 0v2m0 2v2m0 150v2m0 98v2m2-262v2m3-4v2m0 162v2m0 92v2m0 2v2m2-268v2m0 4v2m0 160v2m0 98v2m2-100v4m0 96v2m3-2v2m2-270v2m0 152v2m0 16v2m0 102v2m2 2v2m3-128v2m0 16v2m2-176v2m0 172v2m2-178v2m0 270v2m3-98v2m0 106v4m2-284v2m0 170v2m5-178v4m0 168v4m0 96v4m4-108v2m0 2v2m3-6v2m2-172v4m0 4v2m0 262v4m0 14v2m2-292v2m0 2v2m0 268v2m5-276v6m0 162v2m2-168v2m0 158v2m0 2v2m3-164v2m0 264v2m2-4v4m2-4v4m3-112v2m0 116v2m2-282v6m2 262v2m3-266v2m2-2v2m2 150v2m0 108v2m3-264v4m0 150v2m0 106v2m0 8v2m2-122v2m2-154v2m0 256v2m3-260v2m0 254v2m2-258v4m2-10v2m0 6v2m0 144v2m0 106v4m3-256v2m0 142v4m0 106v2m2-110v2m2-152v2m0 146v2m3-2v2m0 106v2m0 10v2m2-270v4m0 266v2m2-268v2m0 144v2m3-150v2m0 146v2m0 104v2m0 10v2m2-270v2m0 2v2m5-4v4m2-6v2m0 254v2m2-258v2m0 2v2m0 250v2m0 10v2m3-116v2m0 102v2m2-258v2m2 150v2m3 104v2m2-108v2m0 102v2m2-106v4m0 102v2m3-106v2m2 112v2m2-116v2m0 104v2m3-108v2m0 102v4m2-2v4m2-258v2m0 252v4m3-2v2m2-108v2m2-154v2m0 262v2m3-268v4m2-2v2m0 154v2m0 102v2m2-264v2m3-2v2m0 156v2m0 106v2m2-266v4m0 150v2m0 106v2m2-264v2m3-2v2m2-4v2m0 264v4m2-268v2m0 262v6m3-116v2m0 110v2m4-268v2m0 264v2m3-268v2m0 266v2m2-116v2m2-2v4m0 108v4m3-2v2m2-118v2m2-156v4m3-2v2m0 150v2m0 6v2m0 106v2m2-116v2m0 112v2m2-270v2m0 266v4m3-274v4m0 264v4m2-272v2m0 154v2m0 112v2m2-270v2m0 150v2m0 114v2m3-4v2m4-268v2m0 150v2m5-156v2m0 152v4m2-158v4m5 150v6m2-6v2m5 4v2m9-160v2m0 150v2m5-156v4m0 260v2m2-112v4m5-156v2m0 152v4m0 104v2m2-266v2m0 154v4m0 104v2m3-266v2m0 154v2m7 0v2m0 106v2m2-268v4m0 154v2m0 104v2m2-264v4m0 152v2m5-160v2m2 262v4m3-110v2m0 106v2m2-266v2m0 154v2m0 106v2m2-268v2m3 0v2m0 262v2m2-266v4m0 150v4m2-156v2m0 152v2m0 108v2m3-266v2m0 152v2m0 106v2m2-110v2m2 106v4m5-268v2m0 156v2m2-158v2m5-2v4m0 150v2m0 108v4m2-268v2m0 154v2m5-4v2m2-156v2m5 266v2m2-114v2m5-2v2m0 110v2m2-114v2m0 110v2m5-116v4m2 0v2m5-4v2m2-2v2m0 106v4m5-118v2m2-158v2m0 2v2m5 160v2m0 104v2m2-116v4m5-166v2m0 162v2m2-166v4m0 268v2m5-274v4m2 268v2m3-272v2m0 268v2m2-114v4m0 108v2m5-6v2m2-270v2m2 0v2m0 156v2m0 106v2m3-268v2m2 0v2m0 152v2m2-158v2m0 264v2m3-268v4m2 262v2m0 2v2m2-270v2m0 154v2m0 106v2m3-110v2m0 106v2m2-268v2m0 264v2m2-110v4m3-2v2m2-160v2m0 156v2m0 106v2m2-112v4m5-160v2m0 262v2m2-264v4m5 150v4m2 108v2m5-266v2m2 152v4m0 104v2m5-260v2m0 150v4m2-158v2m5 0v2m0 154v2m0 102v2m2-260v2m5 0v2m2 0v2m0 254v2m5-258v4m2-4v2m0 254v2m3-106v4m0 100v2m2-258v2m2 154v2m3-2v2m2 100v2m2-256v2m0 152v2m0 100v2m3-260v2m0 254v4m2-106v2m0 100v2m2-102v2m3 0v2m0 100v2m2-258v2m0 254v4m2-108v2m0 102v4m3-108v4m0 102v2m2-264v2m2-2v2m0 260v4m3-106v2m2-164v2m0 158v2m2-160v2m0 158v2m3-166v4m0 4v2m0 154v2m2-164v2m0 272v2m2-112v2m0 108v2m3-112v2m0 110v2m2-2v2m2-286v4m0 168v2m3-174v2m2 14v2m0 154v2m0 110v2m2-270v2m0 10v2m0 140v2m0 112v4m3-116v2m0 110v2m2-294v2m0 22v2m0 262v2m2-290v2m3 168v4m2-6v2m0 108v2m2-110v2m0 102v2m3-110v4m0 104v2m2-278v2m0 290v2m2-128v2m0 12v2m0 88v4m3-110v2m0 104v2m4-274v2m0 160v4m0 102v2m5-110v4m0 100v2m5-90v2m0 82v2m2-266v4m0 156v2m2-2v2m0 100v2m3-264v2m0 156v4m0 16v2m0 80v6m2-264v2m2 154v2m3-162v4m0 156v2m0 104v2m4-268v2m0 264v2m3-110v2m0 104v4m2-112v2m2-158v2m0 264v2"/>
<path stroke="#800000" stroke-width="3" d="M163.5 290v2m0 158v2m7-160v2m14-2v2m0 266v4m7-276v2m126-4v2m0 148v2m0 106v2m294-106v2m0 106v2m7-266v2m0 262v4m7-114v2m7-154v2m0 152v2m7-2v2m0 108v2m56-262v2m0 150v2m7 0v2m7-158v2m7 266v2m7-268v2m0 152v4m0 108v2m14-112v2m0 104v2m7-112v2m7-164v4m0 156v2m7-2v4m0 106v2m49-268v2m0 262v2m7-266v2m0 262v4m7-264v2m0 150v2m0 106v2m7 0v2m7-262v4m0 150v4m0 100v2m7-256v2m0 148v2m0 2v2m0 102v2m7-108v2"/>
</g></g>
<rect x="140.5" y="66.5" width="840" height="734" fill="none" stroke="#101030" stroke-opacity="0.8" stroke-width="1"/>
<g shape-rendering="crispEdges">
<rect x="1014" y="789.52" width="42" height="12.08" fill="#00008f"/><rect x="1014" y="778.03" width="42" height="12.08" fill="#00009f"/><rect x="1014" y="766.55" width="42" height="12.08" fill="#0000af"/><rect x="1014" y="755.06" width="42" height="12.08" fill="#0000bf"/><rect x="1014" y="743.58" width="42" height="12.08" fill="#0000cf"/><rect x="1014" y="732.09" width="42" height="12.08" fill="#0000df"/><rect x="1014" y="720.61" width="42" height="12.08" fill="#0000ef"/><rect x="1014" y="709.12" width="42" height="12.08" fill="#0000ff"/><rect x="1014" y="697.64" width="42" height="12.08" fill="#0010ff"/><rect x="1014" y="686.16" width="42" height="12.08" fill="#0020ff"/><rect x="1014" y="674.67" width="42" height="12.08" fill="#0030ff"/><rect x="1014" y="663.19" width="42" height="12.08" fill="#0040ff"/><rect x="1014" y="651.70" width="42" height="12.08" fill="#0050ff"/><rect x="1014" y="640.22" width="42" height="12.08" fill="#0060ff"/><rect x="1014" y="628.73" width="42" height="12.08" fill="#0070ff"/><rect x="1014" y="617.25" width="42" height="12.08" fill="#0080ff"/><rect x="1014" y="605.77" width="42" height="12.08" fill="#008fff"/><rect x="1014" y="594.28" width="42" height="12.08" fill="#009fff"/><rect x="1014" y="582.80" width="42" height="12.08" fill="#00afff"/><rect x="1014" y="571.31" width="42" height="12.08" fill="#00bfff"/><rect x="1014" y="559.83" width="42" height="12.08" fill="#00cfff"/><rect x="1014" y="548.34" width="42" height="12.08" fill="#00dfff"/><rect x="1014" y="536.86" width="42" height="12.08" fill="#00efff"/><rect x="1014" y="525.38" width="42" height="12.08" fill="#00ffff"/><rect x="1014" y="513.89" width="42" height="12.08" fill="#10ffef"/><rect x="1014" y="502.41" width="42" height="12.08" fill="#20ffdf"/><rect x="1014" y="490.92" width="42" height="12.08" fill="#30ffcf"/><rect x="1014" y="479.44" width="42" height="12.08" fill="#40ffbf"/><rect x="1014" y="467.95" width="42" height="12.08" fill="#50ffaf"/><rect x="1014" y="456.47" width="42" height="12.08" fill="#60ff9f"/><rect x="1014" y="444.98" width="42" height="12.08" fill="#70ff8f"/><rect x="1014" y="433.50" width="42" height="12.08" fill="#80ff80"/><rect x="1014" y="422.02" width="42" height="12.08" fill="#8fff70"/><rect x="1014" y="410.53" width="42" height="12.08" fill="#9fff60"/><rect x="1014" y="399.05" width="42" height="12.08" fill="#afff50"/><rect x="1014" y="387.56" width="42" height="12.08" fill="#bfff40"/><rect x="1014" y="376.08" width="42" height="12.08" fill="#cfff30"/><rect x="1014" y="364.59" width="42" height="12.08" fill="#dfff20"/><rect x="1014" y="353.11" width="42" height="12.08" fill="#efff10"/><rect x="1014" y="341.62" width="42" height="12.08" fill="#ffff00"/><rect x="1014" y="330.14" width="42" height="12.08" fill="#ffef00"/><rect x="1014" y="318.66" width="42" height="12.08" fill="#ffdf00"/><rect x="1014" y="307.17" width="42" height="12.08" fill="#ffcf00"/><rect x="1014" y="295.69" width="42" height="12.08" fill="#ffbf00"/><rect x="1014" y="284.20" width="42" height="12.08" fill="#ffaf00"/><rect x="1014" y="272.72" width="42" height="12.08" fill="#ff9f00"/><rect x="1014" y="261.23" width="42" height="12.08" fill="#ff8f00"/><rect x="1014" y="249.75" width="42" height="12.08" fill="#ff8000"/><rect x="1014" y="238.27" width="42" height="12.08" fill="#ff7000"/><rect x="1014" y="226.78" width="42" height="12.08" fill="#ff6000"/><rect x="1014" y="215.30" width="42" height="12.08" fill="#ff5000"/><rect x="1014" y="203.81" width="42" height="12.08" fill="#ff4000"/><rect x="1014" y="192.33" width="42" height="12.08" fill="#ff3000"/><rect x="1014" y="180.84" width="42" height="12.08" fill="#ff2000"/><rect x="1014" y="169.36" width="42" height="12.08" fill="#ff1000"/><rect x="1014" y="157.88" width="42" height="12.08" fill="#ff0000"/><rect x="1014" y="146.39" width="42" height="12.08" fill="#ef0000"/><rect x="1014" y="134.91" width="42" height="12.08" fill="#df0000"/><rect x="1014" y="123.42" width="42" height="12.08" fill="#cf0000"/><rect x="1014" y="111.94" width="42" height="12.08" fill="#bf0000"/><rect x="1014" y="100.45" width="42" height="12.08" fill="#af0000"/><rect x="1014" y="88.97" width="42" height="12.08" fill="#9f0000"/><rect x="1014" y="77.48" width="42" height="12.08" fill="#8f0000"/><rect x="1014" y="66.00" width="42" height="12.08" fill="#800000"/>
</g>
<rect x="1014" y="66" width="42" height="735" fill="none" stroke="#262626" stroke-width="2"/>
<g stroke="#262626" stroke-width="1.6"><line x1="1049" x2="1056" y1="93.8" y2="93.8"/><line x1="1049" x2="1056" y1="230.1" y2="230.1"/><line x1="1049" x2="1056" y1="366.3" y2="366.3"/><line x1="1049" x2="1056" y1="502.6" y2="502.6"/><line x1="1049" x2="1056" y1="638.8" y2="638.8"/><line x1="1049" x2="1056" y1="775.1" y2="775.1"/></g>
<text x="1065" y="102.0" class="cbl">7</text><text x="1065" y="238.3" class="cbl">6.5</text><text x="1065" y="374.5" class="cbl">6</text><text x="1065" y="510.8" class="cbl">5.5</text><text x="1065" y="647.0" class="cbl">5</text><text x="1065" y="783.3" class="cbl">4.5</text>
<text x="131.6" y="93.0" class="tk" text-anchor="end">10</text><text x="131.6" y="163.0" class="tk" text-anchor="end">8</text><text x="131.6" y="233.0" class="tk" text-anchor="end">6</text><text x="131.6" y="303.0" class="tk" text-anchor="end">4</text><text x="131.6" y="373.0" class="tk" text-anchor="end">2</text><text x="131.6" y="443.0" class="tk" text-anchor="end">0</text><text x="131.6" y="513.0" class="tk" text-anchor="end">-2</text><text x="131.6" y="583.0" class="tk" text-anchor="end">-4</text><text x="131.6" y="653.0" class="tk" text-anchor="end">-6</text><text x="131.6" y="723.0" class="tk" text-anchor="end">-8</text><text x="131.6" y="793.0" class="tk" text-anchor="end">-10</text>
<text x="278.8" y="833.6" class="tk" text-anchor="middle">20</text><text x="417.7" y="833.6" class="tk" text-anchor="middle">40</text><text x="556.7" y="833.6" class="tk" text-anchor="middle">60</text><text x="695.6" y="833.6" class="tk" text-anchor="middle">80</text><text x="834.6" y="833.6" class="tk" text-anchor="middle">100</text><text x="973.6" y="833.6" class="tk" text-anchor="middle">120</text>
<text x="560.5" y="868.8" class="lb" text-anchor="middle">time [min]</text>
<text transform="translate(83.8,475.6) rotate(-90)" class="lb"><tspan style="font-family:'Liberation Serif',serif;font-size:29px">Δ</tspan><tspan dx="2.5">f</tspan><tspan dx="1.5"> [Hz]</tspan></text>
<text x="560.7" y="52.6" class="tt" text-anchor="middle">f=4.65 MHz;  lat=50.04; long=14.48, time=0 is at 2017 06 04 20:00</text>
</svg>
</body></html>
